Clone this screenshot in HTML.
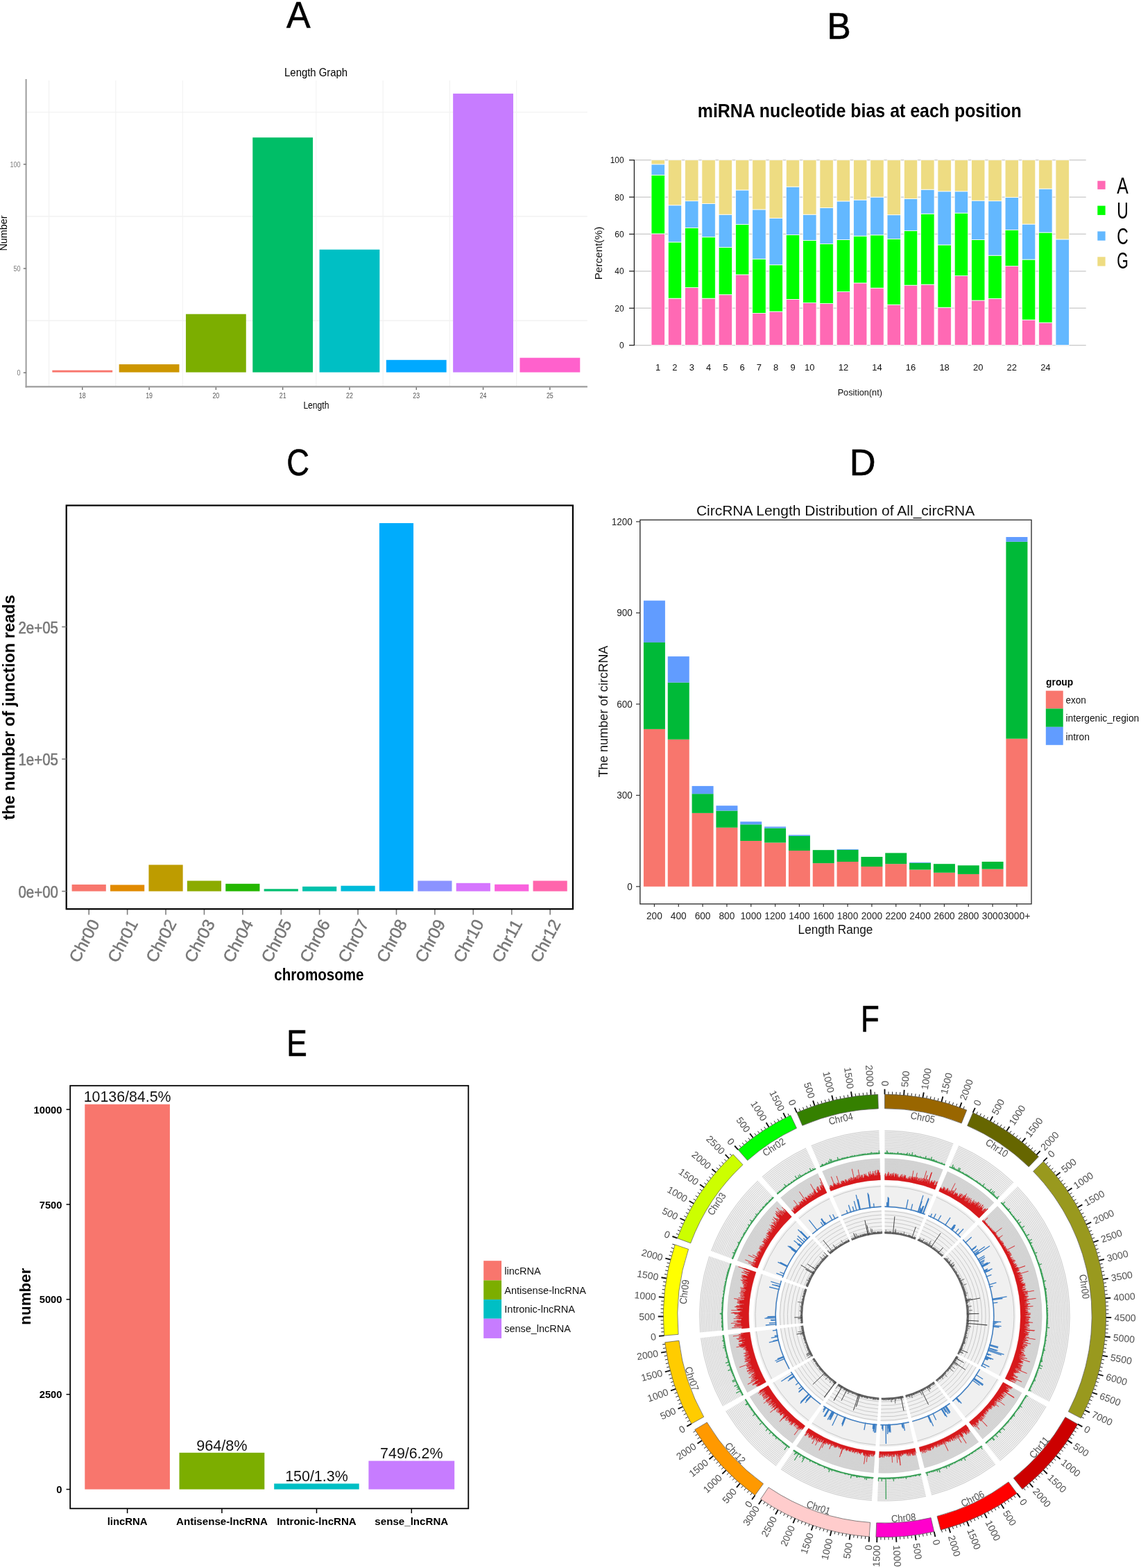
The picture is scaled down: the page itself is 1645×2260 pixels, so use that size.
<!DOCTYPE html>
<html><head><meta charset="utf-8"><title>Figure</title>
<style>html,body{margin:0;padding:0;background:#fff;}svg{display:block;}
text{font-family:'Liberation Sans', Arial, sans-serif;}</style></head>
<body><svg width="1645" height="2260" viewBox="0 0 1645 2260">
<rect width="1645" height="2260" fill="#fff"/>
<text x="0" y="0" font-size="54" text-anchor="middle" fill="#000" stroke="#000" stroke-width="0.6" transform="translate(430.40 40.00) scale(0.960 1)">A</text>
<text x="0" y="0" font-size="54" text-anchor="middle" fill="#000" stroke="#000" stroke-width="0.6" transform="translate(1209.60 56.00) scale(0.950 1)">B</text>
<text x="0" y="0" font-size="54" text-anchor="middle" fill="#000" stroke="#000" stroke-width="0.6" transform="translate(429.70 685.30) scale(0.840 1)">C</text>
<text x="0" y="0" font-size="54" text-anchor="middle" fill="#000" stroke="#000" stroke-width="0.6" transform="translate(1243.60 684.80) scale(0.970 1)">D</text>
<text x="0" y="0" font-size="54" text-anchor="middle" fill="#000" stroke="#000" stroke-width="0.6" transform="translate(427.90 1522.30) scale(0.820 1)">E</text>
<text x="0" y="0" font-size="54" text-anchor="middle" fill="#000" stroke="#000" stroke-width="0.6" transform="translate(1254.40 1487.20) scale(0.810 1)">F</text>
<line x1="37.60" y1="462.10" x2="846.90" y2="462.10" stroke="#efefef" stroke-width="1.1" />
<line x1="37.60" y1="311.90" x2="846.90" y2="311.90" stroke="#efefef" stroke-width="1.1" />
<line x1="37.60" y1="161.70" x2="846.90" y2="161.70" stroke="#efefef" stroke-width="1.1" />
<line x1="70.60" y1="116.00" x2="70.60" y2="557.40" stroke="#f2f2f2" stroke-width="1.1" />
<line x1="166.90" y1="116.00" x2="166.90" y2="557.40" stroke="#f2f2f2" stroke-width="1.1" />
<line x1="263.20" y1="116.00" x2="263.20" y2="557.40" stroke="#f2f2f2" stroke-width="1.1" />
<line x1="455.80" y1="116.00" x2="455.80" y2="557.40" stroke="#f2f2f2" stroke-width="1.1" />
<line x1="552.10" y1="116.00" x2="552.10" y2="557.40" stroke="#f2f2f2" stroke-width="1.1" />
<line x1="648.40" y1="116.00" x2="648.40" y2="557.40" stroke="#f2f2f2" stroke-width="1.1" />
<line x1="744.70" y1="116.00" x2="744.70" y2="557.40" stroke="#f2f2f2" stroke-width="1.1" />
<rect x="75.35" y="533.70" width="86.80" height="2.90" fill="#F8766D" />
<line x1="118.75" y1="557.40" x2="118.75" y2="561.90" stroke="#666" stroke-width="1.3" />
<text x="118.75" y="574.40" font-size="11" fill="#555" text-anchor="middle" textLength="9.80" lengthAdjust="spacingAndGlyphs">18</text>
<rect x="171.65" y="525.10" width="86.80" height="11.50" fill="#CD9600" />
<line x1="215.05" y1="557.40" x2="215.05" y2="561.90" stroke="#666" stroke-width="1.3" />
<text x="215.05" y="574.40" font-size="11" fill="#555" text-anchor="middle" textLength="9.80" lengthAdjust="spacingAndGlyphs">19</text>
<rect x="267.95" y="452.70" width="86.80" height="83.90" fill="#7CAE00" />
<line x1="311.35" y1="557.40" x2="311.35" y2="561.90" stroke="#666" stroke-width="1.3" />
<text x="311.35" y="574.40" font-size="11" fill="#555" text-anchor="middle" textLength="9.80" lengthAdjust="spacingAndGlyphs">20</text>
<rect x="364.25" y="198.20" width="86.80" height="338.40" fill="#00BE67" />
<line x1="407.65" y1="557.40" x2="407.65" y2="561.90" stroke="#666" stroke-width="1.3" />
<text x="407.65" y="574.40" font-size="11" fill="#555" text-anchor="middle" textLength="9.80" lengthAdjust="spacingAndGlyphs">21</text>
<rect x="460.55" y="359.70" width="86.80" height="176.90" fill="#00BFC4" />
<line x1="503.95" y1="557.40" x2="503.95" y2="561.90" stroke="#666" stroke-width="1.3" />
<text x="503.95" y="574.40" font-size="11" fill="#555" text-anchor="middle" textLength="9.80" lengthAdjust="spacingAndGlyphs">22</text>
<rect x="556.85" y="518.80" width="86.80" height="17.80" fill="#00A9FF" />
<line x1="600.25" y1="557.40" x2="600.25" y2="561.90" stroke="#666" stroke-width="1.3" />
<text x="600.25" y="574.40" font-size="11" fill="#555" text-anchor="middle" textLength="9.80" lengthAdjust="spacingAndGlyphs">23</text>
<rect x="653.15" y="134.90" width="86.80" height="401.70" fill="#C77CFF" />
<line x1="696.55" y1="557.40" x2="696.55" y2="561.90" stroke="#666" stroke-width="1.3" />
<text x="696.55" y="574.40" font-size="11" fill="#555" text-anchor="middle" textLength="9.80" lengthAdjust="spacingAndGlyphs">24</text>
<rect x="749.45" y="515.70" width="86.80" height="20.90" fill="#FF61CC" />
<line x1="792.85" y1="557.40" x2="792.85" y2="561.90" stroke="#666" stroke-width="1.3" />
<text x="792.85" y="574.40" font-size="11" fill="#555" text-anchor="middle" textLength="9.80" lengthAdjust="spacingAndGlyphs">25</text>
<line x1="37.60" y1="114.00" x2="37.60" y2="558.40" stroke="#9c9c9c" stroke-width="2.0" />
<line x1="36.60" y1="557.40" x2="846.90" y2="557.40" stroke="#9c9c9c" stroke-width="2.2" />
<line x1="33.80" y1="537.20" x2="37.60" y2="537.20" stroke="#666" stroke-width="1.3" />
<text x="29.50" y="541.10" font-size="10.5" fill="#777" text-anchor="end" textLength="5.00" lengthAdjust="spacingAndGlyphs">0</text>
<line x1="33.80" y1="387.00" x2="37.60" y2="387.00" stroke="#666" stroke-width="1.3" />
<text x="29.50" y="390.90" font-size="10.5" fill="#777" text-anchor="end" textLength="10.00" lengthAdjust="spacingAndGlyphs">50</text>
<line x1="33.80" y1="236.80" x2="37.60" y2="236.80" stroke="#666" stroke-width="1.3" />
<text x="29.50" y="240.70" font-size="10.5" fill="#777" text-anchor="end" textLength="15.00" lengthAdjust="spacingAndGlyphs">100</text>
<text x="455.60" y="110.00" font-size="17" fill="#000" text-anchor="middle" textLength="91.00" lengthAdjust="spacingAndGlyphs">Length Graph</text>
<text x="455.90" y="589.40" font-size="14" fill="#000" text-anchor="middle" textLength="37.00" lengthAdjust="spacingAndGlyphs">Length</text>
<text x="10.20" y="336.00" font-size="14" fill="#000" text-anchor="middle" textLength="51.00" lengthAdjust="spacingAndGlyphs" transform="rotate(-90.000 10.20 336.00)">Number</text>
<line x1="914.40" y1="497.60" x2="1565.70" y2="497.60" stroke="#c8c8c8" stroke-width="1.3" />
<line x1="914.40" y1="444.22" x2="1565.70" y2="444.22" stroke="#c8c8c8" stroke-width="1.3" />
<line x1="914.40" y1="390.84" x2="1565.70" y2="390.84" stroke="#c8c8c8" stroke-width="1.3" />
<line x1="914.40" y1="337.46" x2="1565.70" y2="337.46" stroke="#c8c8c8" stroke-width="1.3" />
<line x1="914.40" y1="284.08" x2="1565.70" y2="284.08" stroke="#c8c8c8" stroke-width="1.3" />
<line x1="914.40" y1="230.70" x2="1565.70" y2="230.70" stroke="#c8c8c8" stroke-width="1.3" />
<rect x="939.00" y="336.93" width="19.40" height="160.67" fill="#FF69B4" stroke="#fff" stroke-width="0.8"/>
<rect x="939.00" y="252.32" width="19.40" height="84.61" fill="#00FF00" stroke="#fff" stroke-width="0.8"/>
<rect x="939.00" y="236.84" width="19.40" height="15.48" fill="#63B8FF" stroke="#fff" stroke-width="0.8"/>
<rect x="939.00" y="230.70" width="19.40" height="6.14" fill="#EEDC82" stroke="#fff" stroke-width="0.8"/>
<text x="948.70" y="533.50" font-size="12.5" fill="#111" text-anchor="middle" textLength="7.20" lengthAdjust="spacingAndGlyphs">1</text>
<rect x="963.29" y="430.07" width="19.40" height="67.53" fill="#FF69B4" stroke="#fff" stroke-width="0.8"/>
<rect x="963.29" y="348.94" width="19.40" height="81.14" fill="#00FF00" stroke="#fff" stroke-width="0.8"/>
<rect x="963.29" y="295.82" width="19.40" height="53.11" fill="#63B8FF" stroke="#fff" stroke-width="0.8"/>
<rect x="963.29" y="230.70" width="19.40" height="65.12" fill="#EEDC82" stroke="#fff" stroke-width="0.8"/>
<text x="972.99" y="533.50" font-size="12.5" fill="#111" text-anchor="middle" textLength="7.20" lengthAdjust="spacingAndGlyphs">2</text>
<rect x="987.58" y="414.59" width="19.40" height="83.01" fill="#FF69B4" stroke="#fff" stroke-width="0.8"/>
<rect x="987.58" y="328.39" width="19.40" height="86.21" fill="#00FF00" stroke="#fff" stroke-width="0.8"/>
<rect x="987.58" y="289.68" width="19.40" height="38.70" fill="#63B8FF" stroke="#fff" stroke-width="0.8"/>
<rect x="987.58" y="230.70" width="19.40" height="58.98" fill="#EEDC82" stroke="#fff" stroke-width="0.8"/>
<text x="997.28" y="533.50" font-size="12.5" fill="#111" text-anchor="middle" textLength="7.20" lengthAdjust="spacingAndGlyphs">3</text>
<rect x="1011.87" y="430.07" width="19.40" height="67.53" fill="#FF69B4" stroke="#fff" stroke-width="0.8"/>
<rect x="1011.87" y="341.73" width="19.40" height="88.34" fill="#00FF00" stroke="#fff" stroke-width="0.8"/>
<rect x="1011.87" y="293.42" width="19.40" height="48.31" fill="#63B8FF" stroke="#fff" stroke-width="0.8"/>
<rect x="1011.87" y="230.70" width="19.40" height="62.72" fill="#EEDC82" stroke="#fff" stroke-width="0.8"/>
<text x="1021.57" y="533.50" font-size="12.5" fill="#111" text-anchor="middle" textLength="7.20" lengthAdjust="spacingAndGlyphs">4</text>
<rect x="1036.16" y="424.74" width="19.40" height="72.86" fill="#FF69B4" stroke="#fff" stroke-width="0.8"/>
<rect x="1036.16" y="356.41" width="19.40" height="68.33" fill="#00FF00" stroke="#fff" stroke-width="0.8"/>
<rect x="1036.16" y="309.17" width="19.40" height="47.24" fill="#63B8FF" stroke="#fff" stroke-width="0.8"/>
<rect x="1036.16" y="230.70" width="19.40" height="78.47" fill="#EEDC82" stroke="#fff" stroke-width="0.8"/>
<text x="1045.86" y="533.50" font-size="12.5" fill="#111" text-anchor="middle" textLength="7.20" lengthAdjust="spacingAndGlyphs">5</text>
<rect x="1060.45" y="395.91" width="19.40" height="101.69" fill="#FF69B4" stroke="#fff" stroke-width="0.8"/>
<rect x="1060.45" y="323.31" width="19.40" height="72.60" fill="#00FF00" stroke="#fff" stroke-width="0.8"/>
<rect x="1060.45" y="273.94" width="19.40" height="49.38" fill="#63B8FF" stroke="#fff" stroke-width="0.8"/>
<rect x="1060.45" y="230.70" width="19.40" height="43.24" fill="#EEDC82" stroke="#fff" stroke-width="0.8"/>
<text x="1070.15" y="533.50" font-size="12.5" fill="#111" text-anchor="middle" textLength="7.20" lengthAdjust="spacingAndGlyphs">6</text>
<rect x="1084.74" y="451.43" width="19.40" height="46.17" fill="#FF69B4" stroke="#fff" stroke-width="0.8"/>
<rect x="1084.74" y="373.22" width="19.40" height="78.20" fill="#00FF00" stroke="#fff" stroke-width="0.8"/>
<rect x="1084.74" y="301.96" width="19.40" height="71.26" fill="#63B8FF" stroke="#fff" stroke-width="0.8"/>
<rect x="1084.74" y="230.70" width="19.40" height="71.26" fill="#EEDC82" stroke="#fff" stroke-width="0.8"/>
<text x="1094.44" y="533.50" font-size="12.5" fill="#111" text-anchor="middle" textLength="7.20" lengthAdjust="spacingAndGlyphs">7</text>
<rect x="1109.03" y="449.02" width="19.40" height="48.58" fill="#FF69B4" stroke="#fff" stroke-width="0.8"/>
<rect x="1109.03" y="381.77" width="19.40" height="67.26" fill="#00FF00" stroke="#fff" stroke-width="0.8"/>
<rect x="1109.03" y="314.51" width="19.40" height="67.26" fill="#63B8FF" stroke="#fff" stroke-width="0.8"/>
<rect x="1109.03" y="230.70" width="19.40" height="83.81" fill="#EEDC82" stroke="#fff" stroke-width="0.8"/>
<text x="1118.73" y="533.50" font-size="12.5" fill="#111" text-anchor="middle" textLength="7.20" lengthAdjust="spacingAndGlyphs">8</text>
<rect x="1133.32" y="431.41" width="19.40" height="66.19" fill="#FF69B4" stroke="#fff" stroke-width="0.8"/>
<rect x="1133.32" y="338.53" width="19.40" height="92.88" fill="#00FF00" stroke="#fff" stroke-width="0.8"/>
<rect x="1133.32" y="269.13" width="19.40" height="69.39" fill="#63B8FF" stroke="#fff" stroke-width="0.8"/>
<rect x="1133.32" y="230.70" width="19.40" height="38.43" fill="#EEDC82" stroke="#fff" stroke-width="0.8"/>
<text x="1143.02" y="533.50" font-size="12.5" fill="#111" text-anchor="middle" textLength="7.20" lengthAdjust="spacingAndGlyphs">9</text>
<rect x="1157.61" y="436.48" width="19.40" height="61.12" fill="#FF69B4" stroke="#fff" stroke-width="0.8"/>
<rect x="1157.61" y="346.53" width="19.40" height="89.95" fill="#00FF00" stroke="#fff" stroke-width="0.8"/>
<rect x="1157.61" y="309.17" width="19.40" height="37.37" fill="#63B8FF" stroke="#fff" stroke-width="0.8"/>
<rect x="1157.61" y="230.70" width="19.40" height="78.47" fill="#EEDC82" stroke="#fff" stroke-width="0.8"/>
<text x="1167.31" y="533.50" font-size="12.5" fill="#111" text-anchor="middle" textLength="14.40" lengthAdjust="spacingAndGlyphs">10</text>
<rect x="1181.90" y="437.55" width="19.40" height="60.05" fill="#FF69B4" stroke="#fff" stroke-width="0.8"/>
<rect x="1181.90" y="351.61" width="19.40" height="85.94" fill="#00FF00" stroke="#fff" stroke-width="0.8"/>
<rect x="1181.90" y="299.56" width="19.40" height="52.05" fill="#63B8FF" stroke="#fff" stroke-width="0.8"/>
<rect x="1181.90" y="230.70" width="19.40" height="68.86" fill="#EEDC82" stroke="#fff" stroke-width="0.8"/>
<rect x="1206.19" y="420.47" width="19.40" height="77.13" fill="#FF69B4" stroke="#fff" stroke-width="0.8"/>
<rect x="1206.19" y="345.47" width="19.40" height="75.00" fill="#00FF00" stroke="#fff" stroke-width="0.8"/>
<rect x="1206.19" y="289.95" width="19.40" height="55.52" fill="#63B8FF" stroke="#fff" stroke-width="0.8"/>
<rect x="1206.19" y="230.70" width="19.40" height="59.25" fill="#EEDC82" stroke="#fff" stroke-width="0.8"/>
<text x="1215.89" y="533.50" font-size="12.5" fill="#111" text-anchor="middle" textLength="14.40" lengthAdjust="spacingAndGlyphs">12</text>
<rect x="1230.48" y="407.92" width="19.40" height="89.68" fill="#FF69B4" stroke="#fff" stroke-width="0.8"/>
<rect x="1230.48" y="340.13" width="19.40" height="67.79" fill="#00FF00" stroke="#fff" stroke-width="0.8"/>
<rect x="1230.48" y="288.08" width="19.40" height="52.05" fill="#63B8FF" stroke="#fff" stroke-width="0.8"/>
<rect x="1230.48" y="230.70" width="19.40" height="57.38" fill="#EEDC82" stroke="#fff" stroke-width="0.8"/>
<rect x="1254.77" y="415.13" width="19.40" height="82.47" fill="#FF69B4" stroke="#fff" stroke-width="0.8"/>
<rect x="1254.77" y="338.79" width="19.40" height="76.33" fill="#00FF00" stroke="#fff" stroke-width="0.8"/>
<rect x="1254.77" y="284.08" width="19.40" height="54.71" fill="#63B8FF" stroke="#fff" stroke-width="0.8"/>
<rect x="1254.77" y="230.70" width="19.40" height="53.38" fill="#EEDC82" stroke="#fff" stroke-width="0.8"/>
<text x="1264.47" y="533.50" font-size="12.5" fill="#111" text-anchor="middle" textLength="14.40" lengthAdjust="spacingAndGlyphs">14</text>
<rect x="1279.06" y="439.15" width="19.40" height="58.45" fill="#FF69B4" stroke="#fff" stroke-width="0.8"/>
<rect x="1279.06" y="344.40" width="19.40" height="94.75" fill="#00FF00" stroke="#fff" stroke-width="0.8"/>
<rect x="1279.06" y="309.70" width="19.40" height="34.70" fill="#63B8FF" stroke="#fff" stroke-width="0.8"/>
<rect x="1279.06" y="230.70" width="19.40" height="79.00" fill="#EEDC82" stroke="#fff" stroke-width="0.8"/>
<rect x="1303.35" y="411.12" width="19.40" height="86.48" fill="#FF69B4" stroke="#fff" stroke-width="0.8"/>
<rect x="1303.35" y="332.66" width="19.40" height="78.47" fill="#00FF00" stroke="#fff" stroke-width="0.8"/>
<rect x="1303.35" y="286.48" width="19.40" height="46.17" fill="#63B8FF" stroke="#fff" stroke-width="0.8"/>
<rect x="1303.35" y="230.70" width="19.40" height="55.78" fill="#EEDC82" stroke="#fff" stroke-width="0.8"/>
<text x="1313.05" y="533.50" font-size="12.5" fill="#111" text-anchor="middle" textLength="14.40" lengthAdjust="spacingAndGlyphs">16</text>
<rect x="1327.64" y="410.06" width="19.40" height="87.54" fill="#FF69B4" stroke="#fff" stroke-width="0.8"/>
<rect x="1327.64" y="308.10" width="19.40" height="101.96" fill="#00FF00" stroke="#fff" stroke-width="0.8"/>
<rect x="1327.64" y="273.14" width="19.40" height="34.96" fill="#63B8FF" stroke="#fff" stroke-width="0.8"/>
<rect x="1327.64" y="230.70" width="19.40" height="42.44" fill="#EEDC82" stroke="#fff" stroke-width="0.8"/>
<rect x="1351.93" y="443.15" width="19.40" height="54.45" fill="#FF69B4" stroke="#fff" stroke-width="0.8"/>
<rect x="1351.93" y="352.94" width="19.40" height="90.21" fill="#00FF00" stroke="#fff" stroke-width="0.8"/>
<rect x="1351.93" y="275.81" width="19.40" height="77.13" fill="#63B8FF" stroke="#fff" stroke-width="0.8"/>
<rect x="1351.93" y="230.70" width="19.40" height="45.11" fill="#EEDC82" stroke="#fff" stroke-width="0.8"/>
<text x="1361.63" y="533.50" font-size="12.5" fill="#111" text-anchor="middle" textLength="14.40" lengthAdjust="spacingAndGlyphs">18</text>
<rect x="1376.22" y="397.51" width="19.40" height="100.09" fill="#FF69B4" stroke="#fff" stroke-width="0.8"/>
<rect x="1376.22" y="307.03" width="19.40" height="90.48" fill="#00FF00" stroke="#fff" stroke-width="0.8"/>
<rect x="1376.22" y="275.81" width="19.40" height="31.23" fill="#63B8FF" stroke="#fff" stroke-width="0.8"/>
<rect x="1376.22" y="230.70" width="19.40" height="45.11" fill="#EEDC82" stroke="#fff" stroke-width="0.8"/>
<rect x="1400.51" y="433.01" width="19.40" height="64.59" fill="#FF69B4" stroke="#fff" stroke-width="0.8"/>
<rect x="1400.51" y="345.47" width="19.40" height="87.54" fill="#00FF00" stroke="#fff" stroke-width="0.8"/>
<rect x="1400.51" y="289.15" width="19.40" height="56.32" fill="#63B8FF" stroke="#fff" stroke-width="0.8"/>
<rect x="1400.51" y="230.70" width="19.40" height="58.45" fill="#EEDC82" stroke="#fff" stroke-width="0.8"/>
<text x="1410.21" y="533.50" font-size="12.5" fill="#111" text-anchor="middle" textLength="14.40" lengthAdjust="spacingAndGlyphs">20</text>
<rect x="1424.80" y="430.34" width="19.40" height="67.26" fill="#FF69B4" stroke="#fff" stroke-width="0.8"/>
<rect x="1424.80" y="368.15" width="19.40" height="62.19" fill="#00FF00" stroke="#fff" stroke-width="0.8"/>
<rect x="1424.80" y="289.68" width="19.40" height="78.47" fill="#63B8FF" stroke="#fff" stroke-width="0.8"/>
<rect x="1424.80" y="230.70" width="19.40" height="58.98" fill="#EEDC82" stroke="#fff" stroke-width="0.8"/>
<rect x="1449.09" y="383.63" width="19.40" height="113.97" fill="#FF69B4" stroke="#fff" stroke-width="0.8"/>
<rect x="1449.09" y="331.32" width="19.40" height="52.31" fill="#00FF00" stroke="#fff" stroke-width="0.8"/>
<rect x="1449.09" y="284.35" width="19.40" height="46.97" fill="#63B8FF" stroke="#fff" stroke-width="0.8"/>
<rect x="1449.09" y="230.70" width="19.40" height="53.65" fill="#EEDC82" stroke="#fff" stroke-width="0.8"/>
<text x="1458.79" y="533.50" font-size="12.5" fill="#111" text-anchor="middle" textLength="14.40" lengthAdjust="spacingAndGlyphs">22</text>
<rect x="1473.38" y="461.03" width="19.40" height="36.57" fill="#FF69B4" stroke="#fff" stroke-width="0.8"/>
<rect x="1473.38" y="374.03" width="19.40" height="87.01" fill="#00FF00" stroke="#fff" stroke-width="0.8"/>
<rect x="1473.38" y="323.05" width="19.40" height="50.98" fill="#63B8FF" stroke="#fff" stroke-width="0.8"/>
<rect x="1473.38" y="230.70" width="19.40" height="92.35" fill="#EEDC82" stroke="#fff" stroke-width="0.8"/>
<rect x="1497.67" y="465.04" width="19.40" height="32.56" fill="#FF69B4" stroke="#fff" stroke-width="0.8"/>
<rect x="1497.67" y="335.06" width="19.40" height="129.98" fill="#00FF00" stroke="#fff" stroke-width="0.8"/>
<rect x="1497.67" y="272.07" width="19.40" height="62.99" fill="#63B8FF" stroke="#fff" stroke-width="0.8"/>
<rect x="1497.67" y="230.70" width="19.40" height="41.37" fill="#EEDC82" stroke="#fff" stroke-width="0.8"/>
<text x="1507.37" y="533.50" font-size="12.5" fill="#111" text-anchor="middle" textLength="14.40" lengthAdjust="spacingAndGlyphs">24</text>
<rect x="1521.96" y="344.93" width="19.40" height="152.67" fill="#63B8FF" stroke="#fff" stroke-width="0.8"/>
<rect x="1521.96" y="230.70" width="19.40" height="114.23" fill="#EEDC82" stroke="#fff" stroke-width="0.8"/>
<line x1="914.40" y1="230.20" x2="914.40" y2="498.10" stroke="#222" stroke-width="1.3" />
<line x1="907.00" y1="497.60" x2="914.40" y2="497.60" stroke="#222" stroke-width="1.3" />
<text x="899.50" y="502.20" font-size="12.5" fill="#111" text-anchor="end" textLength="6.60" lengthAdjust="spacingAndGlyphs">0</text>
<line x1="907.00" y1="444.22" x2="914.40" y2="444.22" stroke="#222" stroke-width="1.3" />
<text x="899.50" y="448.82" font-size="12.5" fill="#111" text-anchor="end" textLength="13.20" lengthAdjust="spacingAndGlyphs">20</text>
<line x1="907.00" y1="390.84" x2="914.40" y2="390.84" stroke="#222" stroke-width="1.3" />
<text x="899.50" y="395.44" font-size="12.5" fill="#111" text-anchor="end" textLength="13.20" lengthAdjust="spacingAndGlyphs">40</text>
<line x1="907.00" y1="337.46" x2="914.40" y2="337.46" stroke="#222" stroke-width="1.3" />
<text x="899.50" y="342.06" font-size="12.5" fill="#111" text-anchor="end" textLength="13.20" lengthAdjust="spacingAndGlyphs">60</text>
<line x1="907.00" y1="284.08" x2="914.40" y2="284.08" stroke="#222" stroke-width="1.3" />
<text x="899.50" y="288.68" font-size="12.5" fill="#111" text-anchor="end" textLength="13.20" lengthAdjust="spacingAndGlyphs">80</text>
<line x1="907.00" y1="230.70" x2="914.40" y2="230.70" stroke="#222" stroke-width="1.3" />
<text x="899.50" y="235.30" font-size="12.5" fill="#111" text-anchor="end" textLength="19.80" lengthAdjust="spacingAndGlyphs">100</text>
<text x="1239.80" y="570.00" font-size="12.7" fill="#111" text-anchor="middle" textLength="64.30" lengthAdjust="spacingAndGlyphs">Position(nt)</text>
<text x="868.20" y="365.00" font-size="15" fill="#111" text-anchor="middle" textLength="76.60" lengthAdjust="spacingAndGlyphs" transform="rotate(-90.000 868.20 365.00)">Percent(%)</text>
<text x="1239.30" y="168.70" font-size="27" fill="#000" text-anchor="middle" font-weight="bold" textLength="467.00" lengthAdjust="spacingAndGlyphs">miRNA nucleotide bias at each position</text>
<rect x="1582.30" y="260.70" width="11.30" height="12.20" fill="#FF69B4" />
<rect x="1582.30" y="296.60" width="11.30" height="13.30" fill="#00FF00" />
<rect x="1582.30" y="333.50" width="11.30" height="13.20" fill="#63B8FF" />
<rect x="1582.30" y="370.30" width="11.30" height="13.20" fill="#EEDC82" />
<text x="1618.60" y="278.60" font-size="33.5" fill="#000" text-anchor="middle" textLength="16.50" lengthAdjust="spacingAndGlyphs">A</text>
<text x="1618.60" y="315.00" font-size="33.5" fill="#000" text-anchor="middle" textLength="16.50" lengthAdjust="spacingAndGlyphs">U</text>
<text x="1618.60" y="352.00" font-size="33.5" fill="#000" text-anchor="middle" textLength="16.50" lengthAdjust="spacingAndGlyphs">C</text>
<text x="1618.60" y="387.40" font-size="33.5" fill="#000" text-anchor="middle" textLength="16.50" lengthAdjust="spacingAndGlyphs">G</text>
<rect x="103.60" y="1274.90" width="49.20" height="9.70" fill="#F8766D" />
<line x1="128.20" y1="1310.20" x2="128.20" y2="1318.50" stroke="#7f7f7f" stroke-width="1.6" />
<text x="128.70" y="1322.50" font-size="24" fill="#777" text-anchor="end" textLength="66.00" lengthAdjust="spacingAndGlyphs" transform="rotate(-62.000 128.70 1322.50)" dominant-baseline="hanging" stroke="#777" stroke-width="0.45">Chr00</text>
<rect x="159.01" y="1275.40" width="49.20" height="9.20" fill="#E18A00" />
<line x1="183.61" y1="1310.20" x2="183.61" y2="1318.50" stroke="#7f7f7f" stroke-width="1.6" />
<text x="184.11" y="1322.50" font-size="24" fill="#777" text-anchor="end" textLength="66.00" lengthAdjust="spacingAndGlyphs" transform="rotate(-62.000 184.11 1322.50)" dominant-baseline="hanging" stroke="#777" stroke-width="0.45">Chr01</text>
<rect x="214.42" y="1246.50" width="49.20" height="38.10" fill="#BE9C00" />
<line x1="239.02" y1="1310.20" x2="239.02" y2="1318.50" stroke="#7f7f7f" stroke-width="1.6" />
<text x="239.52" y="1322.50" font-size="24" fill="#777" text-anchor="end" textLength="66.00" lengthAdjust="spacingAndGlyphs" transform="rotate(-62.000 239.52 1322.50)" dominant-baseline="hanging" stroke="#777" stroke-width="0.45">Chr02</text>
<rect x="269.83" y="1269.50" width="49.20" height="15.10" fill="#8CAB00" />
<line x1="294.43" y1="1310.20" x2="294.43" y2="1318.50" stroke="#7f7f7f" stroke-width="1.6" />
<text x="294.93" y="1322.50" font-size="24" fill="#777" text-anchor="end" textLength="66.00" lengthAdjust="spacingAndGlyphs" transform="rotate(-62.000 294.93 1322.50)" dominant-baseline="hanging" stroke="#777" stroke-width="0.45">Chr03</text>
<rect x="325.24" y="1273.80" width="49.20" height="10.80" fill="#24B700" />
<line x1="349.84" y1="1310.20" x2="349.84" y2="1318.50" stroke="#7f7f7f" stroke-width="1.6" />
<text x="350.34" y="1322.50" font-size="24" fill="#777" text-anchor="end" textLength="66.00" lengthAdjust="spacingAndGlyphs" transform="rotate(-62.000 350.34 1322.50)" dominant-baseline="hanging" stroke="#777" stroke-width="0.45">Chr04</text>
<rect x="380.65" y="1281.30" width="49.20" height="3.30" fill="#00BE70" />
<line x1="405.25" y1="1310.20" x2="405.25" y2="1318.50" stroke="#7f7f7f" stroke-width="1.6" />
<text x="405.75" y="1322.50" font-size="24" fill="#777" text-anchor="end" textLength="66.00" lengthAdjust="spacingAndGlyphs" transform="rotate(-62.000 405.75 1322.50)" dominant-baseline="hanging" stroke="#777" stroke-width="0.45">Chr05</text>
<rect x="436.06" y="1277.80" width="49.20" height="6.80" fill="#00C1AB" />
<line x1="460.66" y1="1310.20" x2="460.66" y2="1318.50" stroke="#7f7f7f" stroke-width="1.6" />
<text x="461.16" y="1322.50" font-size="24" fill="#777" text-anchor="end" textLength="66.00" lengthAdjust="spacingAndGlyphs" transform="rotate(-62.000 461.16 1322.50)" dominant-baseline="hanging" stroke="#777" stroke-width="0.45">Chr06</text>
<rect x="491.47" y="1276.70" width="49.20" height="7.90" fill="#00BBDA" />
<line x1="516.07" y1="1310.20" x2="516.07" y2="1318.50" stroke="#7f7f7f" stroke-width="1.6" />
<text x="516.57" y="1322.50" font-size="24" fill="#777" text-anchor="end" textLength="66.00" lengthAdjust="spacingAndGlyphs" transform="rotate(-62.000 516.57 1322.50)" dominant-baseline="hanging" stroke="#777" stroke-width="0.45">Chr07</text>
<rect x="546.88" y="754.00" width="49.20" height="530.60" fill="#00ACFC" />
<line x1="571.48" y1="1310.20" x2="571.48" y2="1318.50" stroke="#7f7f7f" stroke-width="1.6" />
<text x="571.98" y="1322.50" font-size="24" fill="#777" text-anchor="end" textLength="66.00" lengthAdjust="spacingAndGlyphs" transform="rotate(-62.000 571.98 1322.50)" dominant-baseline="hanging" stroke="#777" stroke-width="0.45">Chr08</text>
<rect x="602.29" y="1269.50" width="49.20" height="15.10" fill="#8B93FF" />
<line x1="626.89" y1="1310.20" x2="626.89" y2="1318.50" stroke="#7f7f7f" stroke-width="1.6" />
<text x="627.39" y="1322.50" font-size="24" fill="#777" text-anchor="end" textLength="66.00" lengthAdjust="spacingAndGlyphs" transform="rotate(-62.000 627.39 1322.50)" dominant-baseline="hanging" stroke="#777" stroke-width="0.45">Chr09</text>
<rect x="657.70" y="1272.80" width="49.20" height="11.80" fill="#D575FE" />
<line x1="682.30" y1="1310.20" x2="682.30" y2="1318.50" stroke="#7f7f7f" stroke-width="1.6" />
<text x="682.80" y="1322.50" font-size="24" fill="#777" text-anchor="end" textLength="66.00" lengthAdjust="spacingAndGlyphs" transform="rotate(-62.000 682.80 1322.50)" dominant-baseline="hanging" stroke="#777" stroke-width="0.45">Chr10</text>
<rect x="713.11" y="1274.70" width="49.20" height="9.90" fill="#F962DD" />
<line x1="737.71" y1="1310.20" x2="737.71" y2="1318.50" stroke="#7f7f7f" stroke-width="1.6" />
<text x="738.21" y="1322.50" font-size="24" fill="#777" text-anchor="end" textLength="66.00" lengthAdjust="spacingAndGlyphs" transform="rotate(-62.000 738.21 1322.50)" dominant-baseline="hanging" stroke="#777" stroke-width="0.45">Chr11</text>
<rect x="768.52" y="1269.50" width="49.20" height="15.10" fill="#FF65AC" />
<line x1="793.12" y1="1310.20" x2="793.12" y2="1318.50" stroke="#7f7f7f" stroke-width="1.6" />
<text x="793.62" y="1322.50" font-size="24" fill="#777" text-anchor="end" textLength="66.00" lengthAdjust="spacingAndGlyphs" transform="rotate(-62.000 793.62 1322.50)" dominant-baseline="hanging" stroke="#777" stroke-width="0.45">Chr12</text>
<rect x="95.70" y="728.50" width="730.20" height="581.70" fill="none" stroke="#000" stroke-width="2.2"/>
<line x1="89.20" y1="1284.60" x2="95.70" y2="1284.60" stroke="#7f7f7f" stroke-width="1.6" />
<text x="83.90" y="1293.60" font-size="24" fill="#777" text-anchor="end" textLength="57.40" lengthAdjust="spacingAndGlyphs" stroke="#777" stroke-width="0.6">0e+00</text>
<line x1="89.20" y1="1094.05" x2="95.70" y2="1094.05" stroke="#7f7f7f" stroke-width="1.6" />
<text x="83.90" y="1103.05" font-size="24" fill="#777" text-anchor="end" textLength="57.40" lengthAdjust="spacingAndGlyphs" stroke="#777" stroke-width="0.6">1e+05</text>
<line x1="89.20" y1="903.50" x2="95.70" y2="903.50" stroke="#7f7f7f" stroke-width="1.6" />
<text x="83.90" y="912.50" font-size="24" fill="#777" text-anchor="end" textLength="57.40" lengthAdjust="spacingAndGlyphs" stroke="#777" stroke-width="0.6">2e+05</text>
<text x="459.90" y="1413.20" font-size="24.5" fill="#000" text-anchor="middle" font-weight="bold" textLength="129.20" lengthAdjust="spacingAndGlyphs">chromosome</text>
<text x="21.30" y="1019.60" font-size="23.5" fill="#000" text-anchor="middle" font-weight="bold" textLength="324.40" lengthAdjust="spacingAndGlyphs" transform="rotate(-90.000 21.30 1019.60)">the number of junction reads</text>
<rect x="927.90" y="1050.87" width="31.00" height="226.93" fill="#F8766D" />
<rect x="927.90" y="925.93" width="31.00" height="124.95" fill="#00BA38" />
<rect x="927.90" y="865.63" width="31.00" height="60.30" fill="#619CFF" />
<line x1="943.40" y1="1302.90" x2="943.40" y2="1306.90" stroke="#333" stroke-width="1.2" />
<text x="943.40" y="1325.30" font-size="14" fill="#222" text-anchor="middle" textLength="22.80" lengthAdjust="spacingAndGlyphs">200</text>
<rect x="962.73" y="1065.77" width="31.00" height="212.03" fill="#F8766D" />
<rect x="962.73" y="983.73" width="31.00" height="82.04" fill="#00BA38" />
<rect x="962.73" y="946.13" width="31.00" height="37.60" fill="#619CFF" />
<line x1="978.23" y1="1302.90" x2="978.23" y2="1306.90" stroke="#333" stroke-width="1.2" />
<text x="978.23" y="1325.30" font-size="14" fill="#222" text-anchor="middle" textLength="22.80" lengthAdjust="spacingAndGlyphs">400</text>
<rect x="997.57" y="1171.87" width="31.00" height="105.93" fill="#F8766D" />
<rect x="997.57" y="1144.18" width="31.00" height="27.70" fill="#00BA38" />
<rect x="997.57" y="1132.91" width="31.00" height="11.26" fill="#619CFF" />
<line x1="1013.07" y1="1302.90" x2="1013.07" y2="1306.90" stroke="#333" stroke-width="1.2" />
<text x="1013.07" y="1325.30" font-size="14" fill="#222" text-anchor="middle" textLength="22.80" lengthAdjust="spacingAndGlyphs">600</text>
<rect x="1032.40" y="1192.78" width="31.00" height="85.02" fill="#F8766D" />
<rect x="1032.40" y="1168.50" width="31.00" height="24.28" fill="#00BA38" />
<rect x="1032.40" y="1161.23" width="31.00" height="7.27" fill="#619CFF" />
<line x1="1047.90" y1="1302.90" x2="1047.90" y2="1306.90" stroke="#333" stroke-width="1.2" />
<text x="1047.90" y="1325.30" font-size="14" fill="#222" text-anchor="middle" textLength="22.80" lengthAdjust="spacingAndGlyphs">800</text>
<rect x="1067.23" y="1211.97" width="31.00" height="65.83" fill="#F8766D" />
<rect x="1067.23" y="1188.31" width="31.00" height="23.67" fill="#00BA38" />
<rect x="1067.23" y="1184.23" width="31.00" height="4.08" fill="#619CFF" />
<line x1="1082.73" y1="1302.90" x2="1082.73" y2="1306.90" stroke="#333" stroke-width="1.2" />
<text x="1082.73" y="1325.30" font-size="14" fill="#222" text-anchor="middle" textLength="30.40" lengthAdjust="spacingAndGlyphs">1000</text>
<rect x="1102.07" y="1214.52" width="31.00" height="63.28" fill="#F8766D" />
<rect x="1102.07" y="1193.66" width="31.00" height="20.86" fill="#00BA38" />
<rect x="1102.07" y="1191.51" width="31.00" height="2.15" fill="#619CFF" />
<line x1="1117.57" y1="1302.90" x2="1117.57" y2="1306.90" stroke="#333" stroke-width="1.2" />
<text x="1117.57" y="1325.30" font-size="14" fill="#222" text-anchor="middle" textLength="30.40" lengthAdjust="spacingAndGlyphs">1200</text>
<rect x="1136.90" y="1226.04" width="31.00" height="51.76" fill="#F8766D" />
<rect x="1136.90" y="1204.92" width="31.00" height="21.12" fill="#00BA38" />
<rect x="1136.90" y="1203.43" width="31.00" height="1.49" fill="#619CFF" />
<line x1="1152.40" y1="1302.90" x2="1152.40" y2="1306.90" stroke="#333" stroke-width="1.2" />
<text x="1152.40" y="1325.30" font-size="14" fill="#222" text-anchor="middle" textLength="30.40" lengthAdjust="spacingAndGlyphs">1400</text>
<rect x="1171.73" y="1244.14" width="31.00" height="33.66" fill="#F8766D" />
<rect x="1171.73" y="1225.17" width="31.00" height="18.98" fill="#00BA38" />
<line x1="1187.23" y1="1302.90" x2="1187.23" y2="1306.90" stroke="#333" stroke-width="1.2" />
<text x="1187.23" y="1325.30" font-size="14" fill="#222" text-anchor="middle" textLength="30.40" lengthAdjust="spacingAndGlyphs">1600</text>
<rect x="1206.57" y="1241.99" width="31.00" height="35.81" fill="#F8766D" />
<rect x="1206.57" y="1224.95" width="31.00" height="17.05" fill="#00BA38" />
<rect x="1206.57" y="1224.11" width="31.00" height="0.83" fill="#619CFF" />
<line x1="1222.07" y1="1302.90" x2="1222.07" y2="1306.90" stroke="#333" stroke-width="1.2" />
<text x="1222.07" y="1325.30" font-size="14" fill="#222" text-anchor="middle" textLength="30.40" lengthAdjust="spacingAndGlyphs">1800</text>
<rect x="1241.40" y="1249.05" width="31.00" height="28.75" fill="#F8766D" />
<rect x="1241.40" y="1234.98" width="31.00" height="14.07" fill="#00BA38" />
<line x1="1256.90" y1="1302.90" x2="1256.90" y2="1306.90" stroke="#333" stroke-width="1.2" />
<text x="1256.90" y="1325.30" font-size="14" fill="#222" text-anchor="middle" textLength="30.40" lengthAdjust="spacingAndGlyphs">2000</text>
<rect x="1276.23" y="1245.19" width="31.00" height="32.61" fill="#F8766D" />
<rect x="1276.23" y="1229.42" width="31.00" height="15.78" fill="#00BA38" />
<line x1="1291.73" y1="1302.90" x2="1291.73" y2="1306.90" stroke="#333" stroke-width="1.2" />
<text x="1291.73" y="1325.30" font-size="14" fill="#222" text-anchor="middle" textLength="30.40" lengthAdjust="spacingAndGlyphs">2200</text>
<rect x="1311.07" y="1253.52" width="31.00" height="24.28" fill="#F8766D" />
<rect x="1311.07" y="1243.70" width="31.00" height="9.82" fill="#00BA38" />
<rect x="1311.07" y="1242.87" width="31.00" height="0.83" fill="#619CFF" />
<line x1="1326.57" y1="1302.90" x2="1326.57" y2="1306.90" stroke="#333" stroke-width="1.2" />
<text x="1326.57" y="1325.30" font-size="14" fill="#222" text-anchor="middle" textLength="30.40" lengthAdjust="spacingAndGlyphs">2400</text>
<rect x="1345.90" y="1257.77" width="31.00" height="20.03" fill="#F8766D" />
<rect x="1345.90" y="1245.19" width="31.00" height="12.58" fill="#00BA38" />
<line x1="1361.40" y1="1302.90" x2="1361.40" y2="1306.90" stroke="#333" stroke-width="1.2" />
<text x="1361.40" y="1325.30" font-size="14" fill="#222" text-anchor="middle" textLength="30.40" lengthAdjust="spacingAndGlyphs">2600</text>
<rect x="1380.73" y="1259.92" width="31.00" height="17.88" fill="#F8766D" />
<rect x="1380.73" y="1247.34" width="31.00" height="12.58" fill="#00BA38" />
<line x1="1396.23" y1="1302.90" x2="1396.23" y2="1306.90" stroke="#333" stroke-width="1.2" />
<text x="1396.23" y="1325.30" font-size="14" fill="#222" text-anchor="middle" textLength="30.40" lengthAdjust="spacingAndGlyphs">2800</text>
<rect x="1415.57" y="1252.64" width="31.00" height="25.16" fill="#F8766D" />
<rect x="1415.57" y="1241.99" width="31.00" height="10.65" fill="#00BA38" />
<line x1="1431.07" y1="1302.90" x2="1431.07" y2="1306.90" stroke="#333" stroke-width="1.2" />
<text x="1431.07" y="1325.30" font-size="14" fill="#222" text-anchor="middle" textLength="30.40" lengthAdjust="spacingAndGlyphs">3000</text>
<rect x="1450.40" y="1064.72" width="31.00" height="213.08" fill="#F8766D" />
<rect x="1450.40" y="780.82" width="31.00" height="283.90" fill="#00BA38" />
<rect x="1450.40" y="774.03" width="31.00" height="6.79" fill="#619CFF" />
<line x1="1465.90" y1="1302.90" x2="1465.90" y2="1306.90" stroke="#333" stroke-width="1.2" />
<text x="1465.90" y="1325.30" font-size="14" fill="#222" text-anchor="middle" textLength="39.00" lengthAdjust="spacingAndGlyphs">3000+</text>
<rect x="922.80" y="749.40" width="564.20" height="553.50" fill="none" stroke="#333" stroke-width="1.4"/>
<line x1="917.00" y1="1277.80" x2="922.80" y2="1277.80" stroke="#333" stroke-width="1.2" />
<text x="911.70" y="1282.80" font-size="14" fill="#222" text-anchor="end" textLength="7.50" lengthAdjust="spacingAndGlyphs">0</text>
<line x1="917.00" y1="1146.33" x2="922.80" y2="1146.33" stroke="#333" stroke-width="1.2" />
<text x="911.70" y="1151.33" font-size="14" fill="#222" text-anchor="end" textLength="22.50" lengthAdjust="spacingAndGlyphs">300</text>
<line x1="917.00" y1="1014.85" x2="922.80" y2="1014.85" stroke="#333" stroke-width="1.2" />
<text x="911.70" y="1019.85" font-size="14" fill="#222" text-anchor="end" textLength="22.50" lengthAdjust="spacingAndGlyphs">600</text>
<line x1="917.00" y1="883.38" x2="922.80" y2="883.38" stroke="#333" stroke-width="1.2" />
<text x="911.70" y="888.38" font-size="14" fill="#222" text-anchor="end" textLength="22.50" lengthAdjust="spacingAndGlyphs">900</text>
<line x1="917.00" y1="751.90" x2="922.80" y2="751.90" stroke="#333" stroke-width="1.2" />
<text x="911.70" y="756.90" font-size="14" fill="#222" text-anchor="end" textLength="30.00" lengthAdjust="spacingAndGlyphs">1200</text>
<text x="1204.60" y="743.20" font-size="21" fill="#111" text-anchor="middle" textLength="401.40" lengthAdjust="spacingAndGlyphs">CircRNA Length Distribution of All_circRNA</text>
<text x="1204.50" y="1345.50" font-size="17.5" fill="#111" text-anchor="middle" textLength="107.80" lengthAdjust="spacingAndGlyphs">Length Range</text>
<text x="876.20" y="1025.50" font-size="18" fill="#111" text-anchor="middle" textLength="190.00" lengthAdjust="spacingAndGlyphs" transform="rotate(-90.000 876.20 1025.50)">The number of circRNA</text>
<text x="1508.10" y="988.00" font-size="14" fill="#000" font-weight="bold" textLength="39.10" lengthAdjust="spacingAndGlyphs">group</text>
<rect x="1507.80" y="995.60" width="24.90" height="25.80" fill="#F8766D" />
<rect x="1507.80" y="1021.40" width="24.90" height="26.40" fill="#00BA38" />
<rect x="1507.80" y="1047.80" width="24.90" height="26.00" fill="#619CFF" />
<text x="1536.40" y="1014.20" font-size="13.8" fill="#111" textLength="29.40" lengthAdjust="spacingAndGlyphs">exon</text>
<text x="1536.40" y="1040.40" font-size="13.8" fill="#111" textLength="105.90" lengthAdjust="spacingAndGlyphs">intergenic_region</text>
<text x="1536.40" y="1066.60" font-size="13.8" fill="#111">intron</text>
<rect x="122.30" y="1591.65" width="122.60" height="554.95" fill="#F8766D" />
<text x="183.60" y="1588.45" font-size="21.5" fill="#111" text-anchor="middle" textLength="125.90" lengthAdjust="spacingAndGlyphs">10136/84.5%</text>
<line x1="183.60" y1="2174.30" x2="183.60" y2="2181.10" stroke="#000" stroke-width="1.5" />
<text x="183.60" y="2198.20" font-size="15" fill="#000" text-anchor="middle" font-weight="bold" textLength="57.90" lengthAdjust="spacingAndGlyphs">lincRNA</text>
<rect x="258.50" y="2093.82" width="122.80" height="52.78" fill="#7CAE00" />
<text x="319.90" y="2090.62" font-size="21.5" fill="#111" text-anchor="middle" textLength="73.40" lengthAdjust="spacingAndGlyphs">964/8%</text>
<line x1="319.90" y1="2174.30" x2="319.90" y2="2181.10" stroke="#000" stroke-width="1.5" />
<text x="319.90" y="2198.20" font-size="15" fill="#000" text-anchor="middle" font-weight="bold" textLength="131.80" lengthAdjust="spacingAndGlyphs">Antisense-lncRNA</text>
<rect x="395.20" y="2138.39" width="122.50" height="8.21" fill="#00BFC4" />
<text x="456.45" y="2135.19" font-size="21.5" fill="#111" text-anchor="middle" textLength="90.50" lengthAdjust="spacingAndGlyphs">150/1.3%</text>
<line x1="456.45" y1="2174.30" x2="456.45" y2="2181.10" stroke="#000" stroke-width="1.5" />
<text x="456.45" y="2198.20" font-size="15" fill="#000" text-anchor="middle" font-weight="bold" textLength="114.60" lengthAdjust="spacingAndGlyphs">Intronic-lncRNA</text>
<rect x="531.40" y="2105.59" width="123.80" height="41.01" fill="#C77CFF" />
<text x="593.30" y="2102.39" font-size="21.5" fill="#111" text-anchor="middle" textLength="90.40" lengthAdjust="spacingAndGlyphs">749/6.2%</text>
<line x1="593.30" y1="2174.30" x2="593.30" y2="2181.10" stroke="#000" stroke-width="1.5" />
<text x="593.30" y="2198.20" font-size="15" fill="#000" text-anchor="middle" font-weight="bold" textLength="105.90" lengthAdjust="spacingAndGlyphs">sense_lncRNA</text>
<rect x="101.20" y="1564.80" width="574.10" height="609.50" fill="none" stroke="#000" stroke-width="1.8"/>
<line x1="95.60" y1="2146.60" x2="101.20" y2="2146.60" stroke="#000" stroke-width="1.5" />
<text x="89.50" y="2152.20" font-size="15" fill="#000" text-anchor="end" font-weight="bold" textLength="8.20" lengthAdjust="spacingAndGlyphs">0</text>
<line x1="95.60" y1="2009.72" x2="101.20" y2="2009.72" stroke="#000" stroke-width="1.5" />
<text x="89.50" y="2015.32" font-size="15" fill="#000" text-anchor="end" font-weight="bold" textLength="32.80" lengthAdjust="spacingAndGlyphs">2500</text>
<line x1="95.60" y1="1872.85" x2="101.20" y2="1872.85" stroke="#000" stroke-width="1.5" />
<text x="89.50" y="1878.45" font-size="15" fill="#000" text-anchor="end" font-weight="bold" textLength="32.80" lengthAdjust="spacingAndGlyphs">5000</text>
<line x1="95.60" y1="1735.97" x2="101.20" y2="1735.97" stroke="#000" stroke-width="1.5" />
<text x="89.50" y="1741.57" font-size="15" fill="#000" text-anchor="end" font-weight="bold" textLength="32.80" lengthAdjust="spacingAndGlyphs">7500</text>
<line x1="95.60" y1="1599.10" x2="101.20" y2="1599.10" stroke="#000" stroke-width="1.5" />
<text x="89.50" y="1604.70" font-size="15" fill="#000" text-anchor="end" font-weight="bold" textLength="41.00" lengthAdjust="spacingAndGlyphs">10000</text>
<text x="44.40" y="1868.60" font-size="22.4" fill="#000" text-anchor="middle" font-weight="bold" textLength="82.10" lengthAdjust="spacingAndGlyphs" transform="rotate(-90.000 44.40 1868.60)">number</text>
<rect x="697.20" y="1817.20" width="25.80" height="28.20" fill="#F8766D" />
<text x="727.30" y="1836.70" font-size="14.5" fill="#111" textLength="52.50" lengthAdjust="spacingAndGlyphs">lincRNA</text>
<rect x="697.20" y="1845.40" width="25.80" height="27.70" fill="#7CAE00" />
<text x="727.30" y="1864.65" font-size="14.5" fill="#111" textLength="117.70" lengthAdjust="spacingAndGlyphs">Antisense-lncRNA</text>
<rect x="697.20" y="1873.10" width="25.80" height="27.60" fill="#00BFC4" />
<text x="727.30" y="1892.30" font-size="14.5" fill="#111" textLength="101.50" lengthAdjust="spacingAndGlyphs">Intronic-lncRNA</text>
<rect x="697.20" y="1900.70" width="25.80" height="28.20" fill="#C77CFF" />
<text x="727.30" y="1920.20" font-size="14.5" fill="#111" textLength="95.50" lengthAdjust="spacingAndGlyphs">sense_lncRNA</text>
<path d="M1275.5,1628.7 A267.8,267.8 0 0 1 1374.7,1647.7 L1362.0,1679.6 A233.5,233.5 0 0 0 1275.5,1663.0 Z" fill="#f3f3f3"/>
<path d="M1275.5,1661.8 A234.6,234.6 0 0 1 1362.4,1678.5 M1275.5,1659.5 A236.9,236.9 0 0 1 1363.3,1676.4 M1275.5,1657.2 A239.2,239.2 0 0 1 1364.1,1674.3 M1275.5,1655.0 A241.5,241.5 0 0 1 1365.0,1672.2 M1275.5,1652.7 A243.7,243.7 0 0 1 1365.8,1670.0 M1275.5,1650.4 A246.0,246.0 0 0 1 1366.7,1667.9 M1275.5,1648.1 A248.3,248.3 0 0 1 1367.5,1665.8 M1275.5,1645.8 A250.6,250.6 0 0 1 1368.4,1663.7 M1275.5,1643.5 A252.9,252.9 0 0 1 1369.2,1661.5 M1275.5,1641.2 A255.2,255.2 0 0 1 1370.0,1659.4 M1275.5,1638.9 A257.5,257.5 0 0 1 1370.9,1657.3 M1275.5,1636.7 A259.8,259.8 0 0 1 1371.7,1655.2 M1275.5,1634.4 A262.0,262.0 0 0 1 1372.6,1653.0 M1275.5,1632.1 A264.3,264.3 0 0 1 1373.4,1650.9 M1275.5,1629.8 A266.6,266.6 0 0 1 1374.3,1648.8" fill="none" stroke="#c6c6c6" stroke-width="0.85"/>
<path d="M1275.5,1669.5 A227.0,227.0 0 0 1 1359.6,1685.6 L1348.0,1714.6 A195.8,195.8 0 0 0 1275.5,1700.7 Z" fill="#dadada"/>
<path d="M1275.5,1699.7 A196.7,196.7 0 0 1 1348.4,1713.7 M1275.5,1697.7 A198.7,198.7 0 0 1 1349.1,1711.9 M1275.5,1695.8 A200.6,200.6 0 0 1 1349.8,1710.1 M1275.5,1693.8 A202.6,202.6 0 0 1 1350.6,1708.3 M1275.5,1691.9 A204.5,204.5 0 0 1 1351.3,1706.4 M1275.5,1689.9 A206.5,206.5 0 0 1 1352.0,1704.6 M1275.5,1688.0 A208.4,208.4 0 0 1 1352.7,1702.8 M1275.5,1686.0 A210.4,210.4 0 0 1 1353.4,1701.0 M1275.5,1684.1 A212.3,212.3 0 0 1 1354.2,1699.2 M1275.5,1682.1 A214.3,214.3 0 0 1 1354.9,1697.4 M1275.5,1680.2 A216.2,216.2 0 0 1 1355.6,1695.6 M1275.5,1678.2 A218.2,218.2 0 0 1 1356.3,1693.8 M1275.5,1676.3 A220.1,220.1 0 0 1 1357.1,1692.0 M1275.5,1674.3 A222.1,222.1 0 0 1 1357.8,1690.1 M1275.5,1672.4 A224.0,224.0 0 0 1 1358.5,1688.3 M1275.5,1670.4 A226.0,226.0 0 0 1 1359.2,1686.5" fill="none" stroke="#c6c6c6" stroke-width="0.7"/>
<path d="M1275.5,1707.5 A189.0,189.0 0 0 1 1345.5,1720.9 L1333.5,1751.1 A156.5,156.5 0 0 0 1275.5,1740.0 Z" fill="#f0f0f0"/>
<path d="M1275.5,1710.0 A186.5,186.5 0 0 1 1344.6,1723.2 M1275.5,1738.5 A158.0,158.0 0 0 1 1334.0,1749.7" fill="none" stroke="#c8c8c8" stroke-width="1.0"/>
<path d="M1275.5,1744.0 A152.5,152.5 0 0 1 1332.0,1754.8 L1319.4,1786.4 A118.5,118.5 0 0 0 1275.5,1778.0 Z" fill="#f1f1f1"/>
<path d="M1275.5,1772.6 A123.9,123.9 0 0 1 1321.4,1781.4 M1275.5,1767.2 A129.3,129.3 0 0 1 1323.4,1776.4 M1275.5,1761.8 A134.7,134.7 0 0 1 1325.4,1771.3 M1275.5,1756.4 A140.1,140.1 0 0 1 1327.4,1766.3 M1275.5,1751.0 A145.5,145.5 0 0 1 1329.4,1761.3 M1275.5,1745.6 A150.9,150.9 0 0 1 1331.4,1756.3" fill="none" stroke="#c9c9c9" stroke-width="1.0"/>
<path d="M1275.5,1700.7 L1275.5,1693.4 L1276.0,1693.4 L1276.0,1691.1 L1276.5,1691.1 L1276.5,1691.9 L1277.0,1691.9 L1277.0,1695.4 L1277.5,1695.4 L1277.5,1695.5 L1278.0,1695.5 L1278.0,1695.3 L1278.5,1695.3 L1278.5,1692.9 L1279.0,1692.9 L1279.0,1695.0 L1279.5,1695.0 L1279.6,1691.5 L1280.1,1691.5 L1280.1,1691.9 L1280.6,1691.9 L1280.6,1689.2 L1281.2,1689.2 L1281.1,1690.1 L1281.6,1690.1 L1281.5,1695.0 L1282.0,1695.0 L1282.0,1693.9 L1282.5,1694.0 L1282.5,1694.9 L1283.0,1694.9 L1283.1,1691.8 L1283.6,1691.8 L1283.6,1692.5 L1284.1,1692.5 L1284.0,1695.8 L1284.5,1695.8 L1284.7,1691.7 L1285.2,1691.7 L1285.1,1694.2 L1285.6,1694.2 L1285.6,1693.3 L1286.1,1693.3 L1286.2,1691.1 L1286.7,1691.1 L1286.5,1694.8 L1287.1,1694.8 L1287.2,1693.0 L1287.7,1693.0 L1287.7,1691.7 L1288.3,1691.8 L1288.4,1690.2 L1288.9,1690.2 L1288.6,1693.9 L1289.1,1693.9 L1289.0,1695.7 L1289.5,1695.7 L1289.5,1696.5 L1290.0,1696.5 L1290.3,1691.9 L1290.8,1691.9 L1290.9,1691.2 L1291.4,1691.3 L1291.3,1692.5 L1291.8,1692.5 L1291.7,1693.3 L1292.2,1693.3 L1292.4,1691.7 L1292.9,1691.7 L1292.7,1694.1 L1293.2,1694.1 L1293.0,1696.7 L1293.5,1696.8 L1293.8,1693.2 L1294.3,1693.2 L1294.4,1692.2 L1294.9,1692.2 L1294.6,1694.9 L1295.1,1695.0 L1294.9,1697.2 L1295.4,1697.3 L1295.5,1696.4 L1296.0,1696.5 L1295.9,1697.1 L1296.4,1697.2 L1296.5,1696.8 L1297.0,1696.8 L1297.1,1695.3 L1297.6,1695.3 L1297.4,1697.2 L1297.9,1697.3 L1298.3,1694.5 L1298.8,1694.6 L1298.9,1693.0 L1299.4,1693.1 L1299.1,1696.3 L1299.6,1696.4 L1299.6,1695.9 L1300.1,1696.0 L1300.5,1692.5 L1301.1,1692.6 L1300.5,1697.1 L1301.0,1697.2 L1301.0,1696.9 L1301.5,1697.0 L1301.8,1694.9 L1302.3,1695.0 L1301.8,1698.4 L1302.3,1698.5 L1302.6,1696.4 L1303.1,1696.5 L1303.6,1693.2 L1304.1,1693.2 L1303.7,1695.8 L1304.2,1695.8 L1304.3,1695.0 L1304.8,1695.0 L1305.0,1693.8 L1305.5,1693.9 L1305.5,1694.1 L1306.0,1694.1 L1305.6,1696.9 L1306.1,1696.9 L1305.8,1698.5 L1306.3,1698.6 L1306.3,1698.9 L1306.8,1698.9 L1306.9,1698.1 L1307.4,1698.2 L1307.5,1697.5 L1308.0,1697.6 L1307.7,1699.4 L1308.2,1699.5 L1308.3,1699.0 L1308.8,1699.0 L1308.7,1699.5 L1309.2,1699.5 L1309.8,1696.3 L1310.3,1696.4 L1309.9,1698.4 L1310.4,1698.5 L1310.5,1697.8 L1311.0,1697.9 L1311.5,1695.3 L1312.0,1695.3 L1311.6,1697.5 L1312.1,1697.5 L1311.7,1699.6 L1312.2,1699.7 L1312.5,1698.3 L1313.0,1698.4 L1313.5,1695.7 L1314.0,1695.8 L1313.2,1700.3 L1313.6,1700.4 L1314.2,1697.6 L1314.7,1697.7 L1316.7,1687.5 L1317.2,1687.6 L1315.7,1695.3 L1316.2,1695.4 L1315.9,1697.0 L1316.4,1697.1 L1316.0,1698.9 L1316.5,1699.0 L1316.9,1696.7 L1317.4,1696.9 L1317.5,1696.8 L1317.9,1696.9 L1317.3,1700.0 L1317.8,1700.1 L1318.7,1695.9 L1319.2,1696.0 L1319.0,1697.0 L1319.5,1697.1 L1319.4,1697.5 L1319.9,1697.6 L1319.6,1698.8 L1320.1,1698.9 L1322.0,1690.6 L1322.5,1690.7 L1320.3,1700.4 L1320.8,1700.5 L1321.7,1696.7 L1322.2,1696.8 L1322.1,1696.9 L1322.6,1697.0 L1322.7,1696.9 L1323.2,1697.0 L1322.2,1701.0 L1322.7,1701.1 L1322.7,1701.2 L1323.2,1701.4 L1323.7,1698.9 L1324.2,1699.1 L1324.5,1697.8 L1325.0,1697.9 L1324.8,1699.0 L1325.3,1699.1 L1324.5,1702.3 L1325.0,1702.4 L1326.2,1697.7 L1326.7,1697.8 L1326.4,1698.7 L1326.9,1698.8 L1326.1,1702.0 L1326.6,1702.2 L1326.8,1701.3 L1327.3,1701.4 L1328.3,1697.7 L1328.8,1697.8 L1327.9,1701.1 L1328.4,1701.2 L1328.9,1699.3 L1329.4,1699.4 L1328.5,1702.9 L1328.9,1703.0 L1330.2,1698.4 L1330.7,1698.6 L1329.5,1703.0 L1330.0,1703.1 L1331.3,1698.2 L1331.8,1698.3 L1330.8,1702.0 L1331.3,1702.1 L1335.5,1687.6 L1336.0,1687.8 L1332.3,1700.5 L1332.8,1700.6 L1333.3,1698.9 L1333.8,1699.0 L1333.7,1699.3 L1334.2,1699.5 L1333.0,1703.4 L1333.5,1703.6 L1333.6,1703.1 L1334.1,1703.2 L1334.7,1701.4 L1335.2,1701.5 L1334.9,1702.5 L1335.3,1702.7 L1336.3,1699.7 L1336.8,1699.8 L1335.9,1702.5 L1336.4,1702.7 L1337.3,1699.9 L1337.8,1700.0 L1337.8,1699.9 L1338.3,1700.0 L1337.6,1702.4 L1338.1,1702.5 L1337.0,1705.7 L1337.5,1705.8 L1342.5,1690.6 L1343.0,1690.7 L1338.3,1704.9 L1338.8,1705.1 L1340.0,1701.5 L1340.5,1701.7 L1339.7,1704.2 L1340.1,1704.3 L1340.7,1702.8 L1341.1,1703.0 L1340.2,1705.8 L1340.6,1706.0 L1341.0,1705.0 L1341.4,1705.2 L1342.7,1701.7 L1343.1,1701.8 L1342.7,1703.2 L1343.2,1703.3 L1344.0,1700.9 L1344.5,1701.1 L1343.8,1703.0 L1344.3,1703.2 L1344.1,1703.8 L1344.6,1704.0 L1344.4,1704.4 L1344.9,1704.5 L1345.0,1704.3 L1345.5,1704.5 L1346.1,1702.9 L1346.5,1703.0 L1347.2,1701.3 L1347.7,1701.5 L1346.7,1704.1 L1347.2,1704.3 L1348.0,1702.2 L1348.4,1702.4 L1346.5,1707.4 L1347.0,1707.6 L1346.9,1707.9 L1347.4,1708.1 L1347.4,1708.1 L1347.9,1708.2 L1349.8,1703.0 L1350.3,1703.2 L1348.6,1707.7 L1349.1,1707.9 L1350.5,1704.2 L1351.0,1704.4 L1351.7,1702.7 L1352.2,1702.9 L1350.2,1707.7 L1350.7,1707.9 L1348.0,1714.6 A195.8,195.8 0 0 0 1275.5,1700.7 Z" fill="#d7191c" stroke="#d7191c" stroke-width="0.25"/>
<path d="M1275.5,1663.0 L1275.5,1661.7 L1276.0,1661.7 L1276.0,1661.0 L1276.6,1661.0 L1276.6,1662.0 L1277.2,1662.0 L1277.2,1661.5 L1277.8,1661.5 L1277.8,1661.9 L1278.4,1661.9 L1278.4,1658.5 L1279.0,1658.5 L1279.0,1659.3 L1279.6,1659.3 L1279.6,1661.4 L1280.2,1661.5 L1280.1,1662.1 L1280.7,1662.1 L1280.7,1661.3 L1281.3,1661.3 L1281.3,1662.1 L1281.9,1662.1 L1281.9,1662.2 L1282.5,1662.2 L1282.5,1661.9 L1283.1,1662.0 L1283.1,1661.8 L1283.7,1661.8 L1283.7,1661.3 L1284.3,1661.3 L1284.2,1662.1 L1284.8,1662.2 L1284.8,1661.7 L1285.4,1661.7 L1285.4,1662.3 L1286.0,1662.3 L1286.0,1661.6 L1286.6,1661.6 L1286.6,1662.3 L1287.2,1662.4 L1287.2,1661.7 L1287.8,1661.7 L1287.7,1662.4 L1288.3,1662.4 L1288.3,1662.4 L1288.9,1662.5 L1288.9,1662.0 L1289.5,1662.0 L1289.5,1661.9 L1290.1,1661.9 L1290.1,1662.3 L1290.7,1662.3 L1290.7,1662.0 L1291.3,1662.1 L1291.3,1662.6 L1291.8,1662.6 L1291.8,1662.7 L1292.4,1662.7 L1292.4,1662.4 L1293.0,1662.4 L1293.1,1661.9 L1293.7,1661.9 L1293.6,1662.3 L1294.2,1662.3 L1294.4,1660.3 L1295.0,1660.4 L1294.7,1662.9 L1295.3,1663.0 L1295.4,1662.3 L1296.0,1662.4 L1296.0,1662.5 L1296.5,1662.5 L1296.5,1663.0 L1297.1,1663.0 L1297.1,1662.6 L1297.7,1662.7 L1297.8,1662.2 L1298.3,1662.3 L1298.3,1662.7 L1298.9,1662.7 L1298.9,1662.2 L1299.5,1662.2 L1299.5,1662.4 L1300.1,1662.5 L1300.1,1662.7 L1300.7,1662.7 L1300.6,1663.1 L1301.2,1663.2 L1301.2,1663.4 L1301.8,1663.5 L1301.8,1662.8 L1302.4,1662.8 L1302.3,1663.5 L1302.9,1663.6 L1303.0,1662.8 L1303.6,1662.8 L1303.6,1663.0 L1304.2,1663.1 L1304.1,1663.6 L1304.7,1663.7 L1304.7,1663.4 L1305.3,1663.5 L1305.3,1663.5 L1305.9,1663.6 L1306.0,1663.0 L1306.5,1663.1 L1306.5,1663.6 L1307.1,1663.6 L1307.1,1663.1 L1307.7,1663.2 L1308.0,1661.4 L1308.5,1661.4 L1308.2,1663.9 L1308.8,1664.0 L1308.7,1664.3 L1309.3,1664.4 L1309.3,1664.6 L1309.9,1664.7 L1309.9,1664.6 L1310.5,1664.7 L1310.9,1662.0 L1311.4,1662.1 L1311.1,1664.6 L1311.6,1664.7 L1311.7,1664.3 L1312.3,1664.4 L1312.3,1664.3 L1312.9,1664.4 L1312.9,1664.1 L1313.5,1664.2 L1313.4,1664.9 L1314.0,1664.9 L1313.9,1665.2 L1314.5,1665.3 L1315.3,1660.9 L1315.8,1661.0 L1315.2,1664.5 L1315.8,1664.6 L1315.8,1664.8 L1316.4,1664.9 L1316.2,1665.6 L1316.8,1665.7 L1316.9,1665.2 L1317.5,1665.3 L1317.5,1665.0 L1318.1,1665.1 L1318.1,1665.4 L1318.6,1665.5 L1318.7,1665.3 L1319.2,1665.4 L1319.5,1664.1 L1320.1,1664.2 L1319.8,1665.9 L1320.3,1666.1 L1320.4,1665.5 L1321.0,1665.6 L1321.0,1665.8 L1321.5,1666.0 L1321.6,1665.9 L1322.1,1666.0 L1322.0,1666.8 L1322.5,1666.9 L1322.7,1666.1 L1323.3,1666.2 L1323.2,1666.4 L1323.8,1666.5 L1323.7,1667.1 L1324.3,1667.2 L1324.3,1667.0 L1324.9,1667.1 L1324.9,1667.1 L1325.5,1667.2 L1325.5,1667.3 L1326.0,1667.4 L1326.2,1666.5 L1326.8,1666.7 L1326.6,1667.3 L1327.2,1667.5 L1327.3,1667.1 L1327.9,1667.3 L1327.9,1667.3 L1328.4,1667.5 L1328.3,1668.1 L1328.8,1668.2 L1328.9,1668.0 L1329.5,1668.2 L1329.5,1668.1 L1330.1,1668.2 L1330.0,1668.6 L1330.5,1668.7 L1330.6,1668.4 L1331.2,1668.5 L1331.3,1668.1 L1331.9,1668.2 L1331.8,1668.7 L1332.3,1668.8 L1332.4,1668.6 L1332.9,1668.7 L1332.8,1669.1 L1333.4,1669.3 L1333.4,1669.2 L1334.0,1669.3 L1334.8,1666.4 L1335.3,1666.5 L1334.8,1668.8 L1335.3,1668.9 L1335.2,1669.3 L1335.8,1669.5 L1335.7,1669.8 L1336.3,1669.9 L1336.3,1669.9 L1336.8,1670.1 L1336.8,1670.2 L1337.4,1670.3 L1337.6,1669.4 L1338.2,1669.5 L1338.2,1669.7 L1338.7,1669.8 L1338.8,1669.8 L1339.3,1669.9 L1339.1,1670.7 L1339.7,1670.8 L1340.1,1669.5 L1340.6,1669.6 L1340.3,1670.7 L1340.9,1670.9 L1340.8,1671.1 L1341.4,1671.2 L1341.4,1671.2 L1342.0,1671.4 L1343.1,1667.6 L1343.6,1667.8 L1342.7,1671.0 L1343.3,1671.1 L1343.3,1671.0 L1343.8,1671.2 L1343.8,1671.2 L1344.4,1671.4 L1344.2,1672.0 L1344.8,1672.2 L1345.0,1671.5 L1345.6,1671.6 L1345.3,1672.4 L1345.9,1672.5 L1346.4,1671.0 L1346.9,1671.2 L1346.6,1672.2 L1347.2,1672.4 L1347.2,1672.2 L1347.8,1672.4 L1347.5,1673.2 L1348.1,1673.4 L1348.1,1673.4 L1348.6,1673.6 L1348.9,1672.8 L1349.5,1672.9 L1349.4,1673.1 L1350.0,1673.3 L1350.0,1673.2 L1350.6,1673.4 L1350.4,1673.8 L1351.0,1674.0 L1350.8,1674.5 L1351.3,1674.7 L1351.5,1674.3 L1352.0,1674.5 L1352.1,1674.2 L1352.7,1674.4 L1352.4,1675.1 L1353.0,1675.3 L1353.0,1675.2 L1353.6,1675.4 L1353.7,1675.2 L1354.2,1675.4 L1354.4,1674.9 L1354.9,1675.1 L1354.7,1675.6 L1355.3,1675.8 L1355.3,1675.8 L1355.9,1676.0 L1355.9,1675.9 L1356.4,1676.1 L1356.3,1676.4 L1356.9,1676.6 L1357.2,1675.7 L1357.8,1675.9 L1357.5,1676.7 L1358.0,1676.9 L1358.3,1676.0 L1358.9,1676.2 L1358.5,1677.2 L1359.1,1677.4 L1359.1,1677.5 L1359.6,1677.7 L1359.6,1677.7 L1360.2,1677.9 L1360.2,1677.7 L1360.8,1677.9 L1361.0,1677.2 L1361.6,1677.4 L1361.4,1677.9 L1361.9,1678.2 L1362.0,1678.0 L1362.5,1678.3 L1362.0,1679.6 A233.5,233.5 0 0 0 1275.5,1663.0 Z" fill="#2e9a4d" stroke="#2e9a4d" stroke-width="0.6"/>
<path d="M1275.5,1739.2 A157.3,157.3 0 0 1 1333.8,1750.4" fill="none" stroke="#3a7dc4" stroke-width="1.4"/>
<path d="M1279.9,1740.0L1280.3,1725.3M1281.0,1740.1L1281.4,1726.6M1325.3,1748.1L1327.7,1740.8M1326.2,1748.4L1328.2,1742.4M1330.2,1749.8L1338.8,1726.8M1330.8,1750.1L1339.1,1728.1M1327.0,1748.7L1330.6,1738.4M1328.0,1749.0L1331.8,1738.1M1323.2,1747.4L1331.0,1722.9M1323.8,1747.6L1329.2,1731.1M1306.3,1743.0L1309.1,1728.9M1313.3,1744.6L1315.6,1735.3M1278.6,1740.0L1278.7,1732.7" fill="none" stroke="#3a7dc4" stroke-width="1.3"/>
<path d="M1275.5,1778.0 L1275.5,1775.4 L1275.7,1775.4 L1275.7,1776.8 L1276.0,1776.8 L1276.0,1775.4 L1276.2,1775.4 L1276.2,1776.9 L1276.5,1776.9 L1276.5,1775.7 L1276.8,1775.7 L1276.8,1776.1 L1277.0,1776.1 L1277.1,1772.5 L1277.3,1772.5 L1277.3,1775.9 L1277.6,1775.9 L1277.6,1775.4 L1277.8,1775.4 L1277.8,1775.9 L1278.1,1775.9 L1278.1,1776.5 L1278.3,1776.5 L1278.4,1775.3 L1278.6,1775.3 L1278.6,1777.1 L1278.8,1777.1 L1278.9,1775.4 L1279.2,1775.4 L1279.1,1776.5 L1279.4,1776.5 L1279.4,1774.7 L1279.7,1774.7 L1279.6,1777.1 L1279.9,1777.1 L1279.9,1776.1 L1280.2,1776.1 L1280.2,1776.7 L1280.4,1776.7 L1280.5,1775.3 L1280.7,1775.3 L1280.7,1776.7 L1280.9,1776.7 L1281.0,1776.4 L1281.2,1776.5 L1281.2,1776.7 L1281.5,1776.7 L1281.5,1775.3 L1281.8,1775.3 L1281.8,1774.8 L1282.1,1774.8 L1282.0,1776.8 L1282.2,1776.8 L1282.3,1776.2 L1282.5,1776.2 L1282.6,1774.8 L1282.9,1774.8 L1282.8,1776.3 L1283.1,1776.3 L1283.2,1774.8 L1283.4,1774.8 L1283.3,1777.3 L1283.5,1777.3 L1283.6,1776.4 L1283.9,1776.4 L1283.9,1775.1 L1284.2,1775.1 L1284.2,1774.8 L1284.5,1774.8 L1284.4,1776.6 L1284.6,1776.6 L1284.8,1775.0 L1285.0,1775.0 L1284.8,1777.4 L1285.1,1777.5 L1285.2,1776.5 L1285.4,1776.5 L1285.4,1776.7 L1285.7,1776.7 L1285.6,1777.6 L1285.9,1777.6 L1285.9,1776.7 L1286.2,1776.7 L1286.1,1777.3 L1286.4,1777.3 L1286.4,1777.1 L1286.7,1777.1 L1286.8,1775.5 L1287.1,1775.5 L1287.0,1776.5 L1287.3,1776.6 L1287.3,1776.5 L1287.5,1776.5 L1287.7,1775.3 L1287.9,1775.3 L1287.8,1776.8 L1288.0,1776.8 L1287.9,1777.7 L1288.2,1777.8 L1288.4,1775.7 L1288.7,1775.7 L1288.5,1777.8 L1288.7,1777.8 L1288.7,1777.7 L1289.0,1777.8 L1289.0,1777.2 L1289.3,1777.3 L1289.5,1775.5 L1289.8,1775.6 L1289.6,1777.3 L1289.8,1777.3 L1289.9,1776.4 L1290.2,1776.4 L1290.2,1776.1 L1290.5,1776.2 L1291.1,1771.2 L1291.4,1771.2 L1290.8,1775.7 L1291.1,1775.7 L1291.3,1773.8 L1291.6,1773.8 L1291.2,1776.9 L1291.5,1776.9 L1291.6,1775.7 L1291.9,1775.7 L1291.6,1777.6 L1291.9,1777.6 L1292.0,1777.0 L1292.2,1777.0 L1292.1,1777.8 L1292.4,1777.9 L1292.6,1776.4 L1292.9,1776.4 L1292.9,1776.3 L1293.1,1776.4 L1293.0,1777.6 L1293.2,1777.6 L1293.2,1777.5 L1293.5,1777.5 L1293.4,1778.3 L1293.6,1778.3 L1293.9,1776.5 L1294.2,1776.6 L1293.9,1778.4 L1294.1,1778.5 L1294.4,1777.2 L1294.6,1777.2 L1294.8,1776.1 L1295.1,1776.1 L1295.1,1776.1 L1295.3,1776.1 L1294.9,1778.5 L1295.2,1778.6 L1295.4,1777.5 L1295.6,1777.5 L1295.6,1777.6 L1295.9,1777.7 L1295.9,1777.8 L1296.1,1777.8 L1296.2,1777.1 L1296.5,1777.2 L1296.6,1776.7 L1296.8,1776.8 L1296.5,1778.7 L1296.7,1778.7 L1296.8,1778.3 L1297.1,1778.3 L1297.1,1778.1 L1297.4,1778.2 L1297.3,1778.6 L1297.6,1778.7 L1297.6,1778.6 L1297.8,1778.6 L1298.2,1776.9 L1298.4,1777.0 L1298.1,1778.4 L1298.4,1778.5 L1298.7,1776.7 L1299.0,1776.8 L1298.6,1778.8 L1298.9,1778.8 L1299.1,1777.7 L1299.3,1777.8 L1299.0,1779.2 L1299.3,1779.3 L1299.7,1777.4 L1299.9,1777.4 L1300.0,1777.2 L1300.3,1777.2 L1299.9,1778.9 L1300.2,1778.9 L1300.1,1779.2 L1300.4,1779.3 L1300.6,1778.2 L1300.8,1778.3 L1300.7,1778.8 L1301.0,1778.9 L1301.0,1778.7 L1301.3,1778.7 L1301.5,1777.9 L1301.7,1777.9 L1301.3,1779.7 L1301.6,1779.8 L1301.9,1778.4 L1302.2,1778.5 L1302.0,1779.1 L1302.3,1779.2 L1302.2,1779.6 L1302.4,1779.7 L1302.7,1778.6 L1302.9,1778.7 L1303.6,1775.6 L1303.9,1775.6 L1303.2,1778.5 L1303.5,1778.6 L1303.3,1779.6 L1303.5,1779.6 L1303.8,1778.4 L1304.1,1778.4 L1303.6,1780.3 L1303.9,1780.4 L1304.1,1779.5 L1304.3,1779.6 L1304.5,1779.0 L1304.7,1779.0 L1304.4,1780.3 L1304.7,1780.3 L1304.8,1779.7 L1305.1,1779.8 L1305.0,1780.0 L1305.3,1780.1 L1305.3,1780.1 L1305.5,1780.1 L1305.6,1780.0 L1305.8,1780.1 L1306.2,1778.8 L1306.4,1778.8 L1306.1,1780.1 L1306.3,1780.2 L1306.6,1779.3 L1306.8,1779.3 L1306.3,1781.2 L1306.6,1781.3 L1306.9,1780.2 L1307.1,1780.3 L1307.1,1780.3 L1307.4,1780.4 L1307.4,1780.2 L1307.7,1780.3 L1307.4,1781.5 L1307.6,1781.5 L1308.1,1779.9 L1308.3,1780.0 L1307.9,1781.4 L1308.2,1781.5 L1308.4,1780.7 L1308.6,1780.8 L1308.5,1781.4 L1308.7,1781.5 L1309.0,1780.5 L1309.2,1780.6 L1308.9,1781.6 L1309.2,1781.7 L1309.7,1779.9 L1310.0,1780.0 L1309.5,1781.6 L1309.7,1781.6 L1310.3,1779.7 L1310.6,1779.8 L1310.2,1781.0 L1310.5,1781.0 L1310.8,1779.9 L1311.1,1780.0 L1311.1,1780.0 L1311.3,1780.1 L1311.2,1780.3 L1311.5,1780.4 L1311.5,1780.5 L1311.7,1780.6 L1311.4,1781.6 L1311.7,1781.6 L1312.0,1780.5 L1312.3,1780.6 L1311.8,1782.2 L1312.0,1782.3 L1312.3,1781.5 L1312.5,1781.6 L1312.2,1782.6 L1312.4,1782.7 L1312.9,1781.1 L1313.2,1781.2 L1312.6,1783.0 L1312.9,1783.1 L1313.5,1781.2 L1313.7,1781.3 L1313.8,1781.1 L1314.0,1781.2 L1313.8,1781.8 L1314.1,1781.9 L1314.1,1781.8 L1314.4,1781.9 L1314.2,1782.4 L1314.4,1782.5 L1314.4,1782.5 L1314.7,1782.6 L1314.7,1782.5 L1314.9,1782.6 L1314.6,1783.7 L1314.8,1783.8 L1315.2,1782.6 L1315.5,1782.7 L1315.7,1782.0 L1316.0,1782.1 L1315.7,1782.8 L1315.9,1782.9 L1316.0,1782.9 L1316.2,1783.0 L1315.9,1783.8 L1316.1,1783.9 L1316.1,1784.0 L1316.4,1784.1 L1316.7,1783.1 L1317.0,1783.1 L1317.1,1782.8 L1317.3,1782.9 L1317.4,1782.7 L1317.7,1782.8 L1317.5,1783.3 L1317.7,1783.4 L1317.7,1783.4 L1318.0,1783.5 L1318.4,1782.4 L1318.6,1782.5 L1318.6,1782.7 L1318.8,1782.8 L1318.7,1783.1 L1318.9,1783.2 L1318.4,1784.6 L1318.6,1784.7 L1318.9,1783.9 L1319.2,1784.0 L1319.6,1783.0 L1319.8,1783.1 L1319.7,1783.4 L1320.0,1783.5 L1319.3,1785.3 L1319.5,1785.4 L1320.2,1783.7 L1320.4,1783.8 L1319.4,1786.4 A118.5,118.5 0 0 0 1275.5,1778.0 Z" fill="#555" stroke="#555" stroke-width="0.4"/>
<path d="M1314.6,1784.6L1320.3,1768.3M1287.4,1778.6L1289.9,1753.3" fill="none" stroke="#444" stroke-width="1"/>
<path d="M1275.5,1577.3 A319.2,319.2 0 0 1 1393.8,1600.0 L1386.2,1619.0 A298.7,298.7 0 0 0 1275.5,1597.8 Z" fill="#996600" stroke="#555" stroke-width="0.7"/>
<path d="M1275.5,1577.3L1275.5,1569.7M1303.1,1578.5L1303.7,1570.9M1330.4,1582.0L1331.8,1574.5M1357.4,1588.0L1359.4,1580.6M1383.8,1596.2L1386.4,1589.1" stroke="#111" stroke-width="1.9" fill="none"/>
<path d="M1281.0,1577.3L1281.0,1573.5M1286.5,1577.4L1286.6,1573.6M1292.0,1577.7L1292.2,1573.9M1297.5,1578.0L1297.8,1574.2M1308.6,1579.0L1308.9,1575.2M1314.0,1579.6L1314.5,1575.8M1319.5,1580.3L1320.1,1576.5M1325.0,1581.1L1325.6,1577.4M1335.9,1583.0L1336.6,1579.3M1341.3,1584.1L1342.1,1580.4M1346.7,1585.3L1347.5,1581.6M1352.1,1586.6L1353.0,1582.9M1362.8,1589.4L1363.8,1585.8M1368.1,1591.0L1369.2,1587.3M1373.3,1592.6L1374.5,1589.0M1378.6,1594.4L1379.8,1590.8M1389.0,1598.1L1390.3,1594.6" stroke="#222" stroke-width="1.0" fill="none"/>
<text x="1275.50" y="1565.50" font-size="14" fill="#505050" transform="rotate(-90.000 1275.50 1565.50)" dominant-baseline="central">0</text>
<text x="1304.12" y="1566.74" font-size="14" fill="#505050" transform="rotate(-85.040 1304.12 1566.74)" dominant-baseline="central">500</text>
<text x="1332.52" y="1570.45" font-size="14" fill="#505050" transform="rotate(-80.080 1332.52 1570.45)" dominant-baseline="central">1000</text>
<text x="1360.50" y="1576.60" font-size="14" fill="#505050" transform="rotate(-75.120 1360.50 1576.60)" dominant-baseline="central">1500</text>
<text x="1387.84" y="1585.15" font-size="14" fill="#505050" transform="rotate(-70.160 1387.84 1585.15)" dominant-baseline="central">2000</text>
<text x="1330.41" y="1610.73" font-size="14.5" fill="#505050" text-anchor="middle" textLength="35.50" lengthAdjust="spacingAndGlyphs" transform="rotate(10.877 1330.41 1610.73)" dominant-baseline="central">Chr05</text>
<path d="M1382.2,1650.9 A267.8,267.8 0 0 1 1461.7,1704.0 L1437.8,1728.6 A233.5,233.5 0 0 0 1368.6,1682.3 Z" fill="#f3f3f3"/>
<path d="M1369.0,1681.3 A234.6,234.6 0 0 1 1438.6,1727.8 M1369.9,1679.2 A236.9,236.9 0 0 1 1440.2,1726.2 M1370.8,1677.1 A239.2,239.2 0 0 1 1441.8,1724.5 M1371.8,1675.0 A241.5,241.5 0 0 1 1443.4,1722.9 M1372.7,1672.9 A243.7,243.7 0 0 1 1445.0,1721.2 M1373.6,1670.8 A246.0,246.0 0 0 1 1446.6,1719.6 M1374.5,1668.7 A248.3,248.3 0 0 1 1448.2,1718.0 M1375.4,1666.6 A250.6,250.6 0 0 1 1449.7,1716.3 M1376.3,1664.5 A252.9,252.9 0 0 1 1451.3,1714.7 M1377.2,1662.4 A255.2,255.2 0 0 1 1452.9,1713.0 M1378.1,1660.3 A257.5,257.5 0 0 1 1454.5,1711.4 M1379.0,1658.2 A259.8,259.8 0 0 1 1456.1,1709.7 M1380.0,1656.1 A262.0,262.0 0 0 1 1457.7,1708.1 M1380.9,1654.0 A264.3,264.3 0 0 1 1459.3,1706.5 M1381.8,1651.9 A266.6,266.6 0 0 1 1460.9,1704.8" fill="none" stroke="#c6c6c6" stroke-width="0.85"/>
<path d="M1366.0,1688.3 A227.0,227.0 0 0 1 1433.3,1733.3 L1411.6,1755.7 A195.8,195.8 0 0 0 1353.5,1716.9 Z" fill="#dadada"/>
<path d="M1353.9,1716.0 A196.7,196.7 0 0 1 1412.3,1755.0 M1354.7,1714.2 A198.7,198.7 0 0 1 1413.6,1753.6 M1355.5,1712.4 A200.6,200.6 0 0 1 1415.0,1752.2 M1356.3,1710.6 A202.6,202.6 0 0 1 1416.3,1750.8 M1357.0,1708.8 A204.5,204.5 0 0 1 1417.7,1749.4 M1357.8,1707.1 A206.5,206.5 0 0 1 1419.1,1748.0 M1358.6,1705.3 A208.4,208.4 0 0 1 1420.4,1746.6 M1359.4,1703.5 A210.4,210.4 0 0 1 1421.8,1745.2 M1360.1,1701.7 A212.3,212.3 0 0 1 1423.1,1743.8 M1360.9,1699.9 A214.3,214.3 0 0 1 1424.5,1742.4 M1361.7,1698.1 A216.2,216.2 0 0 1 1425.8,1741.0 M1362.5,1696.3 A218.2,218.2 0 0 1 1427.2,1739.6 M1363.2,1694.5 A220.1,220.1 0 0 1 1428.6,1738.2 M1364.0,1692.8 A222.1,222.1 0 0 1 1429.9,1736.8 M1364.8,1691.0 A224.0,224.0 0 0 1 1431.3,1735.4 M1365.6,1689.2 A226.0,226.0 0 0 1 1432.6,1734.0" fill="none" stroke="#c6c6c6" stroke-width="0.7"/>
<path d="M1350.8,1723.1 A189.0,189.0 0 0 1 1406.9,1760.6 L1384.3,1784.0 A156.5,156.5 0 0 0 1337.9,1752.9 Z" fill="#f0f0f0"/>
<path d="M1349.8,1725.4 A186.5,186.5 0 0 1 1405.1,1762.4 M1338.5,1751.6 A158.0,158.0 0 0 1 1385.3,1782.9" fill="none" stroke="#c8c8c8" stroke-width="1.0"/>
<path d="M1336.3,1756.6 A152.5,152.5 0 0 1 1381.5,1786.9 L1357.9,1811.3 A118.5,118.5 0 0 0 1322.7,1787.8 Z" fill="#f1f1f1"/>
<path d="M1324.9,1782.8 A123.9,123.9 0 0 1 1361.6,1807.4 M1327.0,1777.9 A129.3,129.3 0 0 1 1365.4,1803.5 M1329.2,1772.9 A134.7,134.7 0 0 1 1369.1,1799.6 M1331.3,1768.0 A140.1,140.1 0 0 1 1372.9,1795.8 M1333.5,1763.0 A145.5,145.5 0 0 1 1376.6,1791.9 M1335.6,1758.1 A150.9,150.9 0 0 1 1380.4,1788.0" fill="none" stroke="#c9c9c9" stroke-width="1.0"/>
<path d="M1353.5,1716.9 L1355.8,1711.7 L1356.2,1711.9 L1356.5,1711.3 L1357.0,1711.5 L1356.5,1712.5 L1357.0,1712.7 L1357.1,1712.5 L1357.6,1712.7 L1357.3,1713.2 L1357.8,1713.4 L1358.0,1712.9 L1358.5,1713.1 L1358.3,1713.6 L1358.7,1713.8 L1358.3,1714.8 L1358.7,1715.0 L1360.8,1710.6 L1361.2,1710.8 L1360.3,1712.9 L1360.7,1713.1 L1361.6,1711.2 L1362.1,1711.4 L1361.3,1713.1 L1361.7,1713.3 L1362.2,1712.2 L1362.7,1712.5 L1361.9,1714.2 L1362.3,1714.4 L1361.8,1715.5 L1362.3,1715.7 L1362.1,1716.0 L1362.6,1716.2 L1363.9,1713.5 L1364.4,1713.7 L1363.6,1715.3 L1364.1,1715.5 L1364.1,1715.4 L1364.6,1715.6 L1366.1,1712.6 L1366.5,1712.8 L1366.6,1712.6 L1367.1,1712.8 L1366.7,1713.5 L1367.2,1713.8 L1366.0,1716.2 L1366.4,1716.4 L1366.8,1715.7 L1367.3,1715.9 L1366.2,1717.9 L1366.7,1718.1 L1368.3,1714.9 L1368.8,1715.2 L1367.2,1718.2 L1367.6,1718.5 L1368.4,1717.0 L1368.8,1717.2 L1369.5,1715.9 L1370.0,1716.1 L1369.3,1717.4 L1369.8,1717.7 L1370.0,1717.3 L1370.4,1717.5 L1376.9,1705.4 L1377.3,1705.6 L1372.0,1715.7 L1372.4,1716.0 L1370.4,1719.6 L1370.9,1719.9 L1372.8,1716.4 L1373.2,1716.6 L1373.7,1715.7 L1374.1,1716.0 L1371.8,1720.3 L1372.2,1720.6 L1374.9,1715.7 L1375.4,1715.9 L1374.4,1717.7 L1374.8,1718.0 L1374.6,1718.3 L1375.1,1718.6 L1378.4,1712.6 L1378.9,1712.9 L1373.9,1721.7 L1374.4,1721.9 L1374.8,1721.1 L1375.3,1721.4 L1375.1,1721.7 L1375.5,1721.9 L1377.4,1718.6 L1377.9,1718.9 L1377.0,1720.3 L1377.5,1720.5 L1378.3,1719.1 L1378.7,1719.4 L1378.0,1720.7 L1378.4,1721.0 L1378.7,1720.4 L1379.2,1720.7 L1379.6,1719.9 L1380.1,1720.2 L1380.4,1719.6 L1380.9,1719.8 L1380.2,1720.9 L1380.7,1721.2 L1380.3,1721.8 L1380.8,1722.0 L1379.5,1724.2 L1379.9,1724.4 L1380.3,1723.8 L1380.7,1724.1 L1381.0,1723.5 L1381.5,1723.8 L1380.9,1724.6 L1381.4,1724.9 L1384.4,1720.0 L1384.9,1720.2 L1382.4,1724.2 L1382.8,1724.5 L1384.3,1722.1 L1384.7,1722.4 L1385.0,1722.0 L1385.4,1722.3 L1386.6,1720.5 L1387.0,1720.7 L1386.9,1720.9 L1387.3,1721.2 L1384.0,1726.5 L1384.4,1726.8 L1384.8,1726.2 L1385.2,1726.5 L1388.0,1722.1 L1388.4,1722.4 L1385.6,1726.7 L1386.0,1727.0 L1386.2,1726.8 L1386.6,1727.0 L1388.4,1724.3 L1388.8,1724.6 L1390.0,1722.9 L1390.4,1723.2 L1391.0,1722.2 L1391.5,1722.5 L1389.5,1725.4 L1390.0,1725.7 L1393.6,1720.3 L1394.0,1720.6 L1392.4,1723.1 L1392.8,1723.4 L1392.5,1723.8 L1393.0,1724.1 L1390.7,1727.3 L1391.2,1727.6 L1392.0,1726.4 L1392.4,1726.7 L1390.0,1730.3 L1390.4,1730.6 L1393.2,1726.5 L1393.6,1726.8 L1395.4,1724.2 L1395.8,1724.5 L1391.3,1731.1 L1391.7,1731.3 L1394.7,1727.0 L1395.1,1727.3 L1392.3,1731.3 L1392.7,1731.6 L1396.7,1726.0 L1397.2,1726.3 L1393.9,1730.9 L1394.3,1731.2 L1396.0,1728.8 L1396.4,1729.1 L1398.3,1726.5 L1398.7,1726.9 L1397.9,1728.0 L1398.3,1728.3 L1395.9,1731.6 L1396.3,1731.9 L1395.2,1733.4 L1395.6,1733.7 L1400.4,1727.3 L1400.8,1727.6 L1396.4,1733.5 L1396.8,1733.9 L1399.8,1729.8 L1400.2,1730.1 L1397.5,1733.8 L1397.9,1734.1 L1400.8,1730.2 L1401.2,1730.5 L1399.5,1732.8 L1399.9,1733.1 L1400.0,1732.9 L1400.4,1733.2 L1398.7,1735.5 L1399.1,1735.8 L1404.2,1729.3 L1404.6,1729.6 L1402.8,1731.8 L1403.2,1732.2 L1401.4,1734.5 L1401.8,1734.8 L1404.8,1730.9 L1405.3,1731.3 L1403.7,1733.3 L1404.1,1733.6 L1403.8,1733.9 L1404.2,1734.2 L1404.9,1733.4 L1405.3,1733.8 L1406.9,1731.7 L1407.4,1732.0 L1404.0,1736.2 L1404.4,1736.5 L1406.0,1734.6 L1406.4,1734.9 L1407.9,1733.1 L1408.3,1733.4 L1405.7,1736.5 L1406.1,1736.8 L1408.4,1734.1 L1408.8,1734.4 L1410.6,1732.2 L1411.1,1732.5 L1411.0,1732.5 L1411.5,1732.9 L1409.0,1735.8 L1409.4,1736.2 L1411.0,1734.2 L1411.4,1734.6 L1407.6,1739.2 L1408.0,1739.5 L1412.7,1733.8 L1413.1,1734.2 L1410.1,1737.7 L1410.5,1738.1 L1411.0,1737.5 L1411.4,1737.8 L1409.8,1739.7 L1410.2,1740.0 L1414.4,1735.2 L1414.8,1735.5 L1413.6,1737.0 L1414.0,1737.3 L1413.3,1738.1 L1413.7,1738.4 L1411.3,1741.1 L1411.7,1741.5 L1413.4,1739.5 L1413.8,1739.9 L1417.0,1736.3 L1417.4,1736.7 L1417.1,1737.0 L1417.5,1737.3 L1415.0,1740.1 L1415.4,1740.4 L1415.5,1740.3 L1415.9,1740.7 L1415.8,1740.8 L1416.2,1741.2 L1418.3,1738.9 L1418.7,1739.2 L1416.4,1741.7 L1416.8,1742.1 L1416.1,1742.8 L1416.5,1743.1 L1415.0,1744.8 L1415.4,1745.1 L1416.0,1744.5 L1416.4,1744.8 L1419.1,1741.9 L1419.5,1742.3 L1416.3,1745.7 L1416.7,1746.0 L1420.9,1741.5 L1421.3,1741.9 L1420.5,1742.7 L1420.9,1743.0 L1421.0,1743.0 L1421.3,1743.4 L1418.5,1746.4 L1418.9,1746.7 L1423.6,1741.8 L1424.0,1742.2 L1424.0,1742.2 L1424.4,1742.5 L1411.6,1755.7 A195.8,195.8 0 0 0 1353.5,1716.9 Z" fill="#d7191c" stroke="#d7191c" stroke-width="0.25"/>
<path d="M1368.6,1682.3 L1369.0,1681.4 L1369.5,1681.6 L1369.5,1681.6 L1370.1,1681.8 L1370.0,1681.9 L1370.6,1682.1 L1370.6,1682.0 L1371.2,1682.2 L1371.1,1682.4 L1371.6,1682.7 L1371.7,1682.5 L1372.2,1682.7 L1374.0,1678.7 L1374.6,1679.0 L1372.9,1682.8 L1373.4,1683.0 L1373.7,1682.4 L1374.2,1682.7 L1373.7,1683.7 L1374.3,1684.0 L1375.3,1681.7 L1375.9,1681.9 L1375.2,1683.3 L1375.7,1683.6 L1375.6,1683.9 L1376.1,1684.1 L1376.3,1683.8 L1376.8,1684.1 L1376.7,1684.3 L1377.2,1684.5 L1377.2,1684.6 L1377.8,1684.8 L1377.5,1685.3 L1378.1,1685.5 L1378.0,1685.6 L1378.6,1685.9 L1378.6,1685.7 L1379.2,1686.0 L1379.5,1685.3 L1380.0,1685.6 L1379.8,1686.1 L1380.3,1686.4 L1380.2,1686.6 L1380.7,1686.9 L1382.7,1682.9 L1383.2,1683.1 L1381.4,1686.8 L1381.9,1687.0 L1382.1,1686.7 L1382.6,1686.9 L1384.3,1683.8 L1384.8,1684.0 L1383.2,1687.2 L1383.7,1687.4 L1383.3,1688.1 L1383.9,1688.4 L1384.1,1687.9 L1384.7,1688.2 L1384.4,1688.7 L1384.9,1689.0 L1385.2,1688.3 L1385.8,1688.6 L1385.4,1689.3 L1385.9,1689.6 L1385.8,1689.8 L1386.3,1690.0 L1386.5,1689.7 L1387.1,1689.9 L1387.3,1689.5 L1387.8,1689.8 L1387.9,1689.6 L1388.5,1689.8 L1388.2,1690.3 L1388.7,1690.6 L1388.8,1690.4 L1389.3,1690.7 L1389.3,1690.8 L1389.8,1691.1 L1389.6,1691.3 L1390.2,1691.6 L1390.0,1691.9 L1390.5,1692.2 L1390.8,1691.7 L1391.3,1691.9 L1391.3,1692.0 L1391.8,1692.3 L1391.7,1692.6 L1392.2,1692.9 L1392.6,1692.2 L1393.1,1692.5 L1393.1,1692.4 L1393.6,1692.7 L1393.3,1693.3 L1393.8,1693.6 L1394.1,1693.1 L1394.6,1693.4 L1394.5,1693.5 L1395.0,1693.8 L1394.9,1694.0 L1395.4,1694.3 L1395.5,1694.1 L1396.0,1694.4 L1395.9,1694.6 L1396.4,1694.9 L1396.5,1694.7 L1397.0,1695.1 L1397.2,1694.8 L1397.7,1695.2 L1397.4,1695.5 L1398.0,1695.8 L1397.8,1696.0 L1398.3,1696.3 L1398.2,1696.6 L1398.7,1696.9 L1399.0,1696.4 L1399.5,1696.7 L1399.5,1696.7 L1400.0,1697.0 L1400.1,1696.9 L1400.6,1697.2 L1400.3,1697.7 L1400.8,1698.0 L1400.7,1698.0 L1401.2,1698.3 L1401.4,1698.0 L1401.9,1698.3 L1402.1,1698.1 L1402.6,1698.4 L1402.2,1699.0 L1402.7,1699.3 L1402.6,1699.5 L1403.1,1699.8 L1403.2,1699.6 L1403.7,1699.9 L1403.9,1699.7 L1404.4,1700.0 L1404.4,1700.0 L1404.9,1700.3 L1404.6,1700.7 L1405.1,1701.0 L1405.2,1700.9 L1405.7,1701.2 L1405.9,1701.0 L1406.3,1701.3 L1406.1,1701.7 L1406.6,1702.0 L1407.0,1701.4 L1407.5,1701.7 L1407.2,1702.1 L1407.7,1702.5 L1407.8,1702.3 L1408.3,1702.6 L1408.6,1702.2 L1409.1,1702.6 L1409.0,1702.6 L1409.5,1703.0 L1409.3,1703.2 L1409.8,1703.6 L1409.7,1703.7 L1410.2,1704.0 L1409.9,1704.4 L1410.4,1704.8 L1410.8,1704.2 L1411.3,1704.5 L1410.9,1705.1 L1411.4,1705.4 L1411.9,1704.7 L1412.3,1705.1 L1412.1,1705.3 L1412.6,1705.7 L1412.9,1705.3 L1413.4,1705.7 L1412.9,1706.3 L1413.4,1706.7 L1413.6,1706.3 L1414.1,1706.7 L1413.8,1707.1 L1414.3,1707.5 L1414.6,1706.9 L1415.1,1707.3 L1414.8,1707.7 L1415.3,1708.0 L1415.4,1707.9 L1415.9,1708.2 L1416.0,1708.0 L1416.5,1708.4 L1416.3,1708.7 L1416.8,1709.0 L1419.1,1705.9 L1419.5,1706.3 L1417.7,1708.8 L1418.2,1709.1 L1417.5,1710.0 L1418.0,1710.3 L1418.5,1709.7 L1418.9,1710.1 L1418.5,1710.6 L1419.0,1710.9 L1418.9,1711.0 L1419.4,1711.4 L1419.8,1710.9 L1420.2,1711.2 L1420.3,1711.1 L1420.8,1711.5 L1420.9,1711.4 L1421.4,1711.7 L1420.9,1712.3 L1421.4,1712.6 L1421.2,1712.9 L1421.6,1713.3 L1421.9,1713.0 L1422.3,1713.4 L1422.3,1713.4 L1422.8,1713.7 L1423.2,1713.2 L1423.6,1713.6 L1423.1,1714.2 L1423.6,1714.6 L1423.5,1714.7 L1424.0,1715.1 L1424.4,1714.5 L1424.9,1714.9 L1425.1,1714.6 L1425.5,1715.0 L1425.6,1715.0 L1426.0,1715.4 L1425.7,1715.8 L1426.1,1716.2 L1426.1,1716.1 L1426.6,1716.5 L1429.1,1713.5 L1429.6,1713.9 L1427.0,1717.0 L1427.4,1717.4 L1427.1,1717.8 L1427.5,1718.1 L1427.9,1717.7 L1428.4,1718.1 L1428.1,1718.4 L1428.5,1718.8 L1428.9,1718.3 L1429.4,1718.7 L1431.4,1716.4 L1431.9,1716.8 L1429.8,1719.2 L1430.2,1719.5 L1430.2,1719.5 L1430.7,1719.9 L1430.5,1720.1 L1430.9,1720.5 L1433.8,1717.3 L1434.2,1717.7 L1431.2,1721.2 L1431.6,1721.5 L1432.1,1721.0 L1432.5,1721.4 L1433.1,1720.7 L1433.5,1721.1 L1432.8,1721.9 L1433.3,1722.3 L1433.5,1722.0 L1434.0,1722.4 L1433.7,1722.8 L1434.1,1723.2 L1434.3,1723.0 L1434.7,1723.4 L1434.7,1723.4 L1435.1,1723.8 L1434.6,1724.4 L1435.0,1724.8 L1435.4,1724.3 L1435.9,1724.7 L1435.9,1724.7 L1436.4,1725.1 L1436.5,1725.0 L1436.9,1725.4 L1436.3,1726.0 L1436.7,1726.4 L1437.4,1725.7 L1437.8,1726.1 L1439.9,1723.9 L1440.3,1724.3 L1438.3,1726.4 L1438.8,1726.8 L1438.1,1727.5 L1438.6,1727.9 L1437.8,1728.6 A233.5,233.5 0 0 0 1368.6,1682.3 Z" fill="#2e9a4d" stroke="#2e9a4d" stroke-width="0.6"/>
<path d="M1338.2,1752.2 A157.3,157.3 0 0 1 1384.8,1783.4" fill="none" stroke="#3a7dc4" stroke-width="1.4"/>
<path d="M1352.0,1760.0L1356.7,1751.7M1380.6,1780.5L1389.0,1771.3M1345.7,1756.6L1349.3,1749.5M1362.4,1766.3L1370.1,1754.8M1341.2,1754.4L1343.6,1749.4M1370.7,1772.3L1376.1,1765.2M1371.7,1773.0L1377.6,1765.5M1377.0,1777.4L1382.3,1771.2M1372.5,1773.7L1376.6,1768.4" fill="none" stroke="#3a7dc4" stroke-width="1.3"/>
<path d="M1322.7,1787.8 L1323.2,1786.8 L1323.4,1786.9 L1323.4,1786.7 L1323.7,1786.9 L1324.0,1786.1 L1324.3,1786.2 L1324.2,1786.2 L1324.5,1786.4 L1324.8,1785.6 L1325.1,1785.7 L1324.5,1786.9 L1324.8,1787.0 L1325.2,1786.1 L1325.4,1786.2 L1325.4,1786.3 L1325.6,1786.4 L1326.6,1784.3 L1326.8,1784.4 L1326.1,1786.0 L1326.3,1786.1 L1326.5,1785.7 L1326.8,1785.8 L1326.1,1787.3 L1326.3,1787.4 L1326.8,1786.4 L1327.0,1786.6 L1326.6,1787.3 L1326.9,1787.5 L1326.7,1787.8 L1327.0,1787.9 L1326.8,1788.3 L1327.0,1788.4 L1327.7,1786.9 L1328.0,1787.0 L1327.4,1788.2 L1327.6,1788.3 L1328.3,1786.8 L1328.6,1787.0 L1327.7,1788.8 L1327.9,1788.9 L1328.7,1787.3 L1328.9,1787.4 L1328.9,1787.5 L1329.2,1787.6 L1328.9,1788.2 L1329.1,1788.3 L1329.0,1788.4 L1329.3,1788.5 L1329.7,1787.8 L1329.9,1787.9 L1330.1,1787.4 L1330.4,1787.6 L1329.2,1789.8 L1329.5,1789.9 L1330.3,1788.3 L1330.5,1788.5 L1332.0,1785.6 L1332.2,1785.7 L1330.5,1789.0 L1330.8,1789.1 L1330.5,1789.6 L1330.8,1789.7 L1330.8,1789.6 L1331.1,1789.7 L1330.9,1790.0 L1331.1,1790.1 L1331.2,1790.0 L1331.4,1790.1 L1331.3,1790.4 L1331.5,1790.5 L1331.4,1790.8 L1331.6,1790.9 L1331.9,1790.4 L1332.1,1790.6 L1332.2,1790.4 L1332.4,1790.5 L1333.0,1789.3 L1333.3,1789.5 L1333.4,1789.3 L1333.6,1789.4 L1333.5,1789.6 L1333.8,1789.7 L1333.2,1790.7 L1333.5,1790.8 L1333.3,1791.1 L1333.5,1791.3 L1333.5,1791.3 L1333.7,1791.5 L1333.4,1791.9 L1333.7,1792.0 L1334.7,1790.2 L1334.9,1790.3 L1334.5,1791.0 L1334.8,1791.1 L1335.2,1790.3 L1335.5,1790.5 L1334.4,1792.4 L1334.6,1792.5 L1335.2,1791.4 L1335.5,1791.5 L1334.9,1792.6 L1335.1,1792.7 L1335.4,1792.2 L1335.6,1792.4 L1336.8,1790.2 L1337.1,1790.4 L1335.9,1792.4 L1336.1,1792.6 L1336.2,1792.3 L1336.5,1792.4 L1337.0,1791.5 L1337.3,1791.6 L1336.9,1792.2 L1337.1,1792.3 L1337.2,1792.2 L1337.5,1792.3 L1336.9,1793.2 L1337.2,1793.3 L1336.8,1793.9 L1337.1,1794.0 L1337.6,1793.0 L1337.9,1793.2 L1338.3,1792.4 L1338.6,1792.5 L1337.7,1793.9 L1337.9,1794.1 L1337.8,1794.2 L1338.1,1794.4 L1339.2,1792.6 L1339.4,1792.7 L1342.1,1788.3 L1342.4,1788.4 L1338.6,1794.4 L1338.9,1794.6 L1339.5,1793.5 L1339.8,1793.6 L1339.4,1794.2 L1339.6,1794.3 L1341.2,1791.9 L1341.4,1792.0 L1340.2,1793.9 L1340.5,1794.0 L1340.0,1794.7 L1340.2,1794.9 L1340.3,1794.8 L1340.5,1794.9 L1340.4,1795.1 L1340.6,1795.3 L1340.6,1795.3 L1340.8,1795.4 L1341.4,1794.5 L1341.7,1794.6 L1341.8,1794.4 L1342.0,1794.6 L1342.0,1794.5 L1342.3,1794.7 L1341.1,1796.4 L1341.4,1796.5 L1341.2,1796.7 L1341.5,1796.8 L1341.9,1796.2 L1342.1,1796.3 L1342.7,1795.4 L1342.9,1795.5 L1343.2,1795.2 L1343.4,1795.4 L1342.0,1797.4 L1342.2,1797.5 L1343.7,1795.4 L1343.9,1795.6 L1342.8,1797.2 L1343.0,1797.4 L1343.2,1797.1 L1343.4,1797.2 L1344.0,1796.4 L1344.2,1796.5 L1343.8,1797.2 L1344.0,1797.3 L1344.0,1797.3 L1344.2,1797.5 L1344.2,1797.5 L1344.4,1797.7 L1343.8,1798.6 L1344.0,1798.7 L1344.4,1798.1 L1344.6,1798.3 L1344.6,1798.3 L1344.8,1798.5 L1345.1,1798.1 L1345.3,1798.2 L1344.8,1798.9 L1345.0,1799.0 L1345.8,1798.0 L1346.0,1798.1 L1346.5,1797.5 L1346.7,1797.6 L1346.5,1797.8 L1346.7,1798.0 L1346.6,1798.2 L1346.8,1798.3 L1346.3,1799.0 L1346.5,1799.2 L1346.2,1799.6 L1346.4,1799.8 L1346.7,1799.4 L1346.9,1799.6 L1346.5,1800.1 L1346.7,1800.2 L1348.0,1798.5 L1348.3,1798.6 L1347.7,1799.4 L1347.9,1799.5 L1347.7,1799.8 L1347.9,1800.0 L1347.8,1800.1 L1348.0,1800.3 L1348.8,1799.2 L1349.1,1799.3 L1348.1,1800.6 L1348.3,1800.8 L1348.4,1800.7 L1348.6,1800.8 L1348.2,1801.3 L1348.4,1801.5 L1349.0,1800.7 L1349.2,1800.9 L1348.6,1801.6 L1348.8,1801.8 L1349.9,1800.4 L1350.1,1800.6 L1350.0,1800.8 L1350.2,1800.9 L1349.3,1802.1 L1349.5,1802.3 L1350.3,1801.2 L1350.5,1801.4 L1349.7,1802.4 L1349.9,1802.6 L1349.6,1803.0 L1349.8,1803.1 L1350.7,1802.0 L1350.9,1802.2 L1351.5,1801.4 L1351.7,1801.5 L1350.8,1802.7 L1351.0,1802.9 L1351.5,1802.3 L1351.7,1802.5 L1350.8,1803.6 L1351.0,1803.8 L1352.1,1802.4 L1352.3,1802.5 L1352.1,1802.7 L1352.3,1802.9 L1352.2,1803.1 L1352.4,1803.3 L1351.5,1804.4 L1351.7,1804.5 L1352.6,1803.4 L1352.8,1803.6 L1352.4,1804.1 L1352.6,1804.2 L1353.7,1803.0 L1353.9,1803.1 L1352.8,1804.4 L1353.0,1804.6 L1353.9,1803.6 L1354.1,1803.8 L1354.0,1803.9 L1354.2,1804.0 L1353.8,1804.4 L1354.0,1804.6 L1353.5,1805.2 L1353.7,1805.4 L1354.5,1804.5 L1354.7,1804.6 L1353.4,1806.1 L1353.6,1806.3 L1353.8,1806.0 L1354.0,1806.2 L1354.0,1806.3 L1354.1,1806.5 L1354.3,1806.3 L1354.5,1806.5 L1355.2,1805.7 L1355.4,1805.9 L1354.4,1807.0 L1354.6,1807.1 L1355.9,1805.7 L1356.1,1805.9 L1356.3,1805.7 L1356.5,1805.8 L1355.8,1806.6 L1356.0,1806.8 L1356.0,1806.8 L1356.2,1807.0 L1355.5,1807.7 L1355.7,1807.9 L1356.0,1807.5 L1356.2,1807.7 L1356.8,1807.0 L1357.0,1807.2 L1356.1,1808.2 L1356.3,1808.3 L1357.7,1806.8 L1357.9,1807.0 L1356.7,1808.3 L1356.9,1808.5 L1357.7,1807.6 L1357.9,1807.8 L1357.4,1808.3 L1357.6,1808.5 L1356.9,1809.2 L1357.1,1809.4 L1358.4,1808.1 L1358.6,1808.3 L1358.4,1808.5 L1358.6,1808.6 L1359.3,1807.9 L1359.5,1808.1 L1358.3,1809.3 L1358.5,1809.5 L1359.4,1808.5 L1359.6,1808.7 L1359.6,1808.7 L1359.8,1808.9 L1360.1,1808.6 L1360.3,1808.8 L1357.9,1811.3 A118.5,118.5 0 0 0 1322.7,1787.8 Z" fill="#555" stroke="#555" stroke-width="0.4"/>
<path d="M1352.5,1806.4L1359.6,1798.2M1341.9,1798.3L1356.1,1777.4" fill="none" stroke="#444" stroke-width="1"/>
<path d="M1402.7,1603.7 A319.2,319.2 0 0 1 1497.4,1667.1 L1483.2,1681.8 A298.7,298.7 0 0 0 1394.6,1622.5 Z" fill="#666600" stroke="#555" stroke-width="0.7"/>
<path d="M1402.7,1603.7L1405.8,1596.8M1427.6,1615.8L1431.2,1609.1M1451.3,1630.0L1455.4,1623.7M1473.6,1646.2L1478.4,1640.3M1494.5,1664.3L1499.7,1658.8" stroke="#111" stroke-width="1.9" fill="none"/>
<path d="M1407.8,1606.0L1409.4,1602.5M1412.8,1608.3L1414.4,1604.9M1417.8,1610.7L1419.5,1607.3M1422.7,1613.2L1424.4,1609.9M1432.4,1618.5L1434.3,1615.2M1437.2,1621.3L1439.1,1618.0M1441.9,1624.1L1443.9,1620.9M1446.6,1627.0L1448.7,1623.8M1455.8,1633.1L1458.0,1630.0M1460.4,1636.3L1462.6,1633.2M1464.9,1639.5L1467.1,1636.5M1469.3,1642.8L1471.6,1639.8M1477.9,1649.7L1480.4,1646.8M1482.2,1653.2L1484.6,1650.3M1486.4,1656.9L1488.9,1654.0M1490.5,1660.5L1493.0,1657.7" stroke="#222" stroke-width="1.0" fill="none"/>
<text x="1407.49" y="1592.95" font-size="14" fill="#505050" transform="rotate(-66.500 1407.49 1592.95)" dominant-baseline="central">0</text>
<text x="1433.24" y="1605.50" font-size="14" fill="#505050" transform="rotate(-61.540 1433.24 1605.50)" dominant-baseline="central">500</text>
<text x="1457.81" y="1620.23" font-size="14" fill="#505050" transform="rotate(-56.580 1457.81 1620.23)" dominant-baseline="central">1000</text>
<text x="1481.01" y="1637.03" font-size="14" fill="#505050" transform="rotate(-51.620 1481.01 1637.03)" dominant-baseline="central">1500</text>
<text x="1502.67" y="1655.77" font-size="14" fill="#505050" transform="rotate(-46.660 1502.67 1655.77)" dominant-baseline="central">2000</text>
<text x="1437.29" y="1654.62" font-size="14.5" fill="#505050" text-anchor="middle" textLength="35.50" lengthAdjust="spacingAndGlyphs" transform="rotate(33.777 1437.29 1654.62)" dominant-baseline="central">Chr10</text>
<path d="M1467.4,1709.8 A267.8,267.8 0 0 1 1512.9,2020.3 L1482.5,2004.5 A233.5,233.5 0 0 0 1442.9,1733.7 Z" fill="#f3f3f3"/>
<path d="M1443.7,1732.9 A234.6,234.6 0 0 1 1483.5,2005.0 M1445.3,1731.3 A236.9,236.9 0 0 1 1485.5,2006.0 M1447.0,1729.7 A239.2,239.2 0 0 1 1487.5,2007.1 M1448.6,1728.1 A241.5,241.5 0 0 1 1489.6,2008.2 M1450.2,1726.5 A243.7,243.7 0 0 1 1491.6,2009.2 M1451.9,1724.9 A246.0,246.0 0 0 1 1493.6,2010.3 M1453.5,1723.3 A248.3,248.3 0 0 1 1495.7,2011.3 M1455.1,1721.7 A250.6,250.6 0 0 1 1497.7,2012.4 M1456.8,1720.1 A252.9,252.9 0 0 1 1499.7,2013.4 M1458.4,1718.5 A255.2,255.2 0 0 1 1501.7,2014.5 M1460.1,1716.9 A257.5,257.5 0 0 1 1503.8,2015.6 M1461.7,1715.3 A259.8,259.8 0 0 1 1505.8,2016.6 M1463.3,1713.7 A262.0,262.0 0 0 1 1507.8,2017.7 M1465.0,1712.1 A264.3,264.3 0 0 1 1509.8,2018.7 M1466.6,1710.6 A266.6,266.6 0 0 1 1511.9,2019.8" fill="none" stroke="#c6c6c6" stroke-width="0.85"/>
<path d="M1438.2,1738.2 A227.0,227.0 0 0 1 1476.7,2001.5 L1449.1,1987.0 A195.8,195.8 0 0 0 1415.8,1760.0 Z" fill="#dadada"/>
<path d="M1416.5,1759.3 A196.7,196.7 0 0 1 1449.9,1987.5 M1417.9,1757.9 A198.7,198.7 0 0 1 1451.6,1988.4 M1419.3,1756.6 A200.6,200.6 0 0 1 1453.4,1989.3 M1420.7,1755.2 A202.6,202.6 0 0 1 1455.1,1990.2 M1422.1,1753.8 A204.5,204.5 0 0 1 1456.8,1991.1 M1423.5,1752.5 A206.5,206.5 0 0 1 1458.6,1992.0 M1424.9,1751.1 A208.4,208.4 0 0 1 1460.3,1992.9 M1426.3,1749.8 A210.4,210.4 0 0 1 1462.0,1993.8 M1427.7,1748.4 A212.3,212.3 0 0 1 1463.7,1994.7 M1429.1,1747.0 A214.3,214.3 0 0 1 1465.5,1995.6 M1430.5,1745.7 A216.2,216.2 0 0 1 1467.2,1996.5 M1431.9,1744.3 A218.2,218.2 0 0 1 1468.9,1997.4 M1433.3,1743.0 A220.1,220.1 0 0 1 1470.7,1998.3 M1434.7,1741.6 A222.1,222.1 0 0 1 1472.4,1999.2 M1436.1,1740.2 A224.0,224.0 0 0 1 1474.1,2000.1 M1437.5,1738.9 A226.0,226.0 0 0 1 1475.8,2001.0" fill="none" stroke="#c6c6c6" stroke-width="0.7"/>
<path d="M1411.0,1764.7 A189.0,189.0 0 0 1 1443.0,1983.9 L1414.2,1968.8 A156.5,156.5 0 0 0 1387.7,1787.3 Z" fill="#f0f0f0"/>
<path d="M1409.2,1766.4 A186.5,186.5 0 0 1 1440.8,1982.7 M1388.7,1786.3 A158.0,158.0 0 0 1 1415.5,1969.5" fill="none" stroke="#c8c8c8" stroke-width="1.0"/>
<path d="M1384.8,1790.1 A152.5,152.5 0 0 1 1410.7,1967.0 L1380.5,1951.3 A118.5,118.5 0 0 0 1360.4,1813.8 Z" fill="#f1f1f1"/>
<path d="M1364.3,1810.1 A123.9,123.9 0 0 1 1385.3,1953.8 M1368.2,1806.3 A129.3,129.3 0 0 1 1390.1,1956.3 M1372.0,1802.5 A134.7,134.7 0 0 1 1394.9,1958.8 M1375.9,1798.8 A140.1,140.1 0 0 1 1399.7,1961.3 M1379.8,1795.0 A145.5,145.5 0 0 1 1404.5,1963.8 M1383.6,1791.3 A150.9,150.9 0 0 1 1409.2,1966.3" fill="none" stroke="#c9c9c9" stroke-width="1.0"/>
<path d="M1415.8,1760.0 L1417.7,1758.1 L1418.0,1758.5 L1417.5,1759.0 L1417.8,1759.4 L1417.8,1759.5 L1418.1,1759.8 L1417.8,1760.1 L1418.1,1760.5 L1423.9,1755.0 L1424.2,1755.4 L1419.6,1759.8 L1419.9,1760.1 L1419.9,1760.2 L1420.2,1760.5 L1420.1,1760.6 L1420.4,1761.0 L1420.5,1760.9 L1420.9,1761.3 L1420.6,1761.5 L1420.9,1761.9 L1421.0,1761.8 L1421.3,1762.2 L1421.1,1762.4 L1421.5,1762.7 L1421.6,1762.6 L1421.9,1763.0 L1421.8,1763.1 L1422.2,1763.4 L1422.8,1762.9 L1423.1,1763.3 L1422.2,1764.1 L1422.5,1764.4 L1422.3,1764.6 L1422.6,1765.0 L1423.8,1763.9 L1424.2,1764.3 L1423.2,1765.2 L1423.5,1765.5 L1423.9,1765.2 L1424.2,1765.6 L1423.7,1766.1 L1424.0,1766.4 L1424.2,1766.2 L1424.6,1766.6 L1424.6,1766.6 L1424.9,1766.9 L1424.6,1767.2 L1424.9,1767.6 L1426.1,1766.6 L1426.4,1766.9 L1426.0,1767.3 L1426.3,1767.7 L1425.8,1768.1 L1426.1,1768.5 L1426.5,1768.2 L1426.8,1768.5 L1427.1,1768.3 L1427.4,1768.7 L1426.9,1769.1 L1427.3,1769.5 L1427.1,1769.6 L1427.4,1770.0 L1427.7,1769.7 L1428.0,1770.1 L1427.4,1770.6 L1427.7,1771.0 L1429.2,1769.8 L1429.5,1770.2 L1429.0,1770.6 L1429.3,1771.0 L1428.9,1771.3 L1429.2,1771.7 L1429.2,1771.7 L1429.5,1772.1 L1429.3,1772.3 L1429.6,1772.7 L1430.9,1771.6 L1431.2,1772.0 L1429.8,1773.2 L1430.1,1773.5 L1430.8,1773.0 L1431.1,1773.4 L1430.5,1773.8 L1430.8,1774.2 L1432.4,1773.0 L1432.7,1773.4 L1431.2,1774.5 L1431.5,1774.9 L1431.9,1774.6 L1432.2,1775.0 L1432.7,1774.6 L1433.0,1775.0 L1433.4,1774.7 L1433.7,1775.1 L1433.6,1775.2 L1433.9,1775.6 L1433.9,1775.5 L1434.2,1775.9 L1434.3,1775.9 L1434.6,1776.3 L1434.9,1776.1 L1435.2,1776.5 L1444.2,1769.7 L1444.5,1770.1 L1434.9,1777.3 L1435.2,1777.7 L1436.0,1777.1 L1436.3,1777.5 L1435.2,1778.4 L1435.5,1778.8 L1436.4,1778.1 L1436.7,1778.5 L1435.7,1779.2 L1436.0,1779.6 L1436.2,1779.5 L1436.5,1779.9 L1436.1,1780.1 L1436.4,1780.5 L1437.0,1780.1 L1437.3,1780.5 L1436.8,1780.8 L1437.1,1781.2 L1438.2,1780.4 L1438.5,1780.8 L1437.7,1781.4 L1438.0,1781.8 L1437.7,1782.1 L1437.9,1782.5 L1438.6,1782.0 L1438.9,1782.4 L1437.8,1783.2 L1438.1,1783.6 L1438.6,1783.2 L1438.9,1783.6 L1440.1,1782.8 L1440.4,1783.2 L1438.9,1784.2 L1439.2,1784.6 L1445.3,1780.4 L1445.6,1780.8 L1440.3,1784.4 L1440.6,1784.8 L1441.5,1784.2 L1441.8,1784.7 L1440.9,1785.3 L1441.2,1785.7 L1441.1,1785.7 L1441.4,1786.1 L1441.8,1785.8 L1442.1,1786.2 L1441.3,1786.8 L1441.6,1787.2 L1441.6,1787.2 L1441.9,1787.6 L1442.7,1787.0 L1443.0,1787.5 L1441.5,1788.4 L1441.8,1788.8 L1442.6,1788.3 L1442.8,1788.7 L1443.3,1788.4 L1443.6,1788.9 L1444.6,1788.2 L1444.8,1788.6 L1443.5,1789.5 L1443.8,1789.9 L1445.2,1789.0 L1445.5,1789.4 L1444.3,1790.1 L1444.6,1790.6 L1443.7,1791.1 L1443.9,1791.6 L1446.1,1790.2 L1446.3,1790.6 L1445.1,1791.4 L1445.4,1791.8 L1446.4,1791.2 L1446.7,1791.6 L1446.5,1791.7 L1446.8,1792.1 L1447.0,1792.0 L1447.2,1792.4 L1445.3,1793.6 L1445.5,1794.1 L1446.5,1793.5 L1446.8,1793.9 L1445.9,1794.4 L1446.2,1794.8 L1447.5,1794.1 L1447.7,1794.5 L1446.9,1794.9 L1447.2,1795.4 L1448.1,1794.9 L1448.3,1795.3 L1447.7,1795.7 L1447.9,1796.1 L1447.7,1796.3 L1447.9,1796.7 L1447.0,1797.2 L1447.3,1797.6 L1449.9,1796.1 L1450.1,1796.6 L1449.6,1796.9 L1449.9,1797.3 L1449.4,1797.6 L1449.6,1798.0 L1448.9,1798.4 L1449.2,1798.8 L1450.0,1798.3 L1450.3,1798.8 L1450.5,1798.7 L1450.7,1799.1 L1449.3,1799.9 L1449.5,1800.3 L1451.6,1799.2 L1451.9,1799.6 L1449.7,1800.8 L1450.0,1801.2 L1451.4,1800.4 L1451.6,1800.9 L1452.0,1800.7 L1452.2,1801.1 L1462.8,1795.4 L1463.1,1795.9 L1451.5,1802.1 L1451.8,1802.5 L1451.9,1802.4 L1452.1,1802.9 L1451.9,1803.0 L1452.1,1803.5 L1454.4,1802.2 L1454.7,1802.7 L1452.7,1803.7 L1452.9,1804.2 L1453.1,1804.1 L1453.3,1804.5 L1455.2,1803.5 L1455.4,1804.0 L1455.8,1803.8 L1456.0,1804.3 L1454.8,1804.9 L1455.0,1805.4 L1452.8,1806.4 L1453.1,1806.9 L1456.2,1805.3 L1456.4,1805.8 L1456.6,1805.6 L1456.9,1806.1 L1454.6,1807.2 L1454.8,1807.7 L1457.4,1806.4 L1457.7,1806.8 L1457.7,1806.8 L1457.9,1807.3 L1455.7,1808.4 L1455.9,1808.8 L1455.3,1809.1 L1455.5,1809.6 L1458.2,1808.3 L1458.4,1808.7 L1458.1,1808.9 L1458.3,1809.3 L1455.8,1810.5 L1456.0,1811.0 L1456.1,1810.9 L1456.3,1811.4 L1456.8,1811.2 L1457.0,1811.6 L1456.3,1812.0 L1456.5,1812.4 L1457.7,1811.9 L1457.9,1812.3 L1456.5,1812.9 L1456.7,1813.4 L1460.1,1811.9 L1460.3,1812.3 L1457.8,1813.5 L1458.0,1813.9 L1458.2,1813.8 L1458.4,1814.3 L1457.3,1814.8 L1457.5,1815.2 L1458.9,1814.6 L1459.1,1815.0 L1460.8,1814.3 L1461.0,1814.8 L1459.1,1815.6 L1459.3,1816.1 L1458.6,1816.4 L1458.8,1816.8 L1462.2,1815.4 L1462.4,1815.8 L1459.2,1817.2 L1459.4,1817.6 L1462.1,1816.5 L1462.3,1817.0 L1463.5,1816.4 L1463.7,1816.9 L1463.7,1816.9 L1463.9,1817.4 L1460.5,1818.8 L1460.7,1819.3 L1460.2,1819.5 L1460.4,1819.9 L1461.1,1819.7 L1461.3,1820.1 L1462.9,1819.5 L1463.1,1819.9 L1461.4,1820.6 L1461.6,1821.1 L1461.5,1821.1 L1461.7,1821.6 L1461.2,1821.8 L1461.4,1822.2 L1463.6,1821.4 L1463.8,1821.8 L1465.0,1821.3 L1465.2,1821.8 L1464.7,1822.0 L1464.8,1822.5 L1463.1,1823.2 L1463.3,1823.7 L1462.1,1824.1 L1462.3,1824.6 L1466.4,1823.0 L1466.6,1823.5 L1465.6,1823.8 L1465.8,1824.3 L1465.3,1824.5 L1465.5,1825.0 L1465.2,1825.1 L1465.3,1825.6 L1463.0,1826.4 L1463.2,1826.9 L1464.1,1826.6 L1464.3,1827.0 L1467.0,1826.0 L1467.2,1826.5 L1465.5,1827.1 L1465.7,1827.6 L1467.8,1826.8 L1468.0,1827.3 L1468.5,1827.1 L1468.7,1827.6 L1477.8,1824.3 L1478.0,1824.9 L1467.8,1828.4 L1468.0,1828.9 L1466.6,1829.4 L1466.7,1829.9 L1468.4,1829.3 L1468.6,1829.8 L1469.5,1829.5 L1469.7,1830.0 L1468.4,1830.4 L1468.6,1830.9 L1465.6,1831.9 L1465.8,1832.3 L1469.5,1831.1 L1469.7,1831.6 L1465.5,1833.0 L1465.7,1833.4 L1466.5,1833.2 L1466.6,1833.7 L1467.5,1833.4 L1467.7,1833.8 L1466.1,1834.4 L1466.2,1834.8 L1469.9,1833.6 L1470.1,1834.1 L1471.4,1833.7 L1471.5,1834.2 L1470.8,1834.4 L1471.0,1834.9 L1469.3,1835.5 L1469.4,1835.9 L1482.4,1831.9 L1482.5,1832.4 L1471.8,1835.7 L1472.0,1836.2 L1467.3,1837.6 L1467.5,1838.1 L1471.1,1837.0 L1471.3,1837.5 L1469.0,1838.2 L1469.1,1838.7 L1472.7,1837.6 L1472.8,1838.1 L1473.7,1837.8 L1473.8,1838.3 L1468.4,1839.9 L1468.6,1840.4 L1470.6,1839.8 L1470.8,1840.3 L1473.7,1839.4 L1473.9,1839.9 L1469.0,1841.3 L1469.1,1841.8 L1471.4,1841.2 L1471.5,1841.7 L1473.4,1841.1 L1473.5,1841.6 L1474.5,1841.4 L1474.6,1841.9 L1472.1,1842.6 L1472.2,1843.0 L1474.0,1842.6 L1474.1,1843.1 L1472.9,1843.4 L1473.0,1843.9 L1470.3,1844.6 L1470.5,1845.1 L1469.9,1845.2 L1470.0,1845.7 L1475.4,1844.3 L1475.6,1844.8 L1473.8,1845.3 L1473.9,1845.8 L1474.6,1845.6 L1474.7,1846.1 L1472.0,1846.8 L1472.1,1847.3 L1472.9,1847.1 L1473.0,1847.6 L1472.0,1847.8 L1472.1,1848.3 L1471.6,1848.4 L1471.7,1848.9 L1475.7,1848.0 L1475.8,1848.5 L1472.7,1849.2 L1472.8,1849.7 L1474.3,1849.3 L1474.5,1849.8 L1473.8,1850.0 L1473.9,1850.5 L1477.9,1849.6 L1478.1,1850.1 L1475.7,1850.6 L1475.8,1851.1 L1477.8,1850.7 L1477.9,1851.2 L1477.5,1851.2 L1477.6,1851.8 L1476.9,1851.9 L1477.1,1852.4 L1475.5,1852.7 L1475.6,1853.2 L1478.5,1852.6 L1478.6,1853.1 L1474.5,1854.0 L1474.6,1854.5 L1474.0,1854.6 L1474.1,1855.1 L1474.7,1855.0 L1474.8,1855.5 L1478.1,1854.8 L1478.2,1855.3 L1473.6,1856.2 L1473.7,1856.7 L1476.6,1856.2 L1476.7,1856.7 L1474.3,1857.1 L1474.4,1857.6 L1473.2,1857.9 L1473.3,1858.4 L1479.2,1857.2 L1479.2,1857.7 L1479.0,1857.8 L1479.1,1858.3 L1477.9,1858.5 L1478.0,1859.0 L1477.4,1859.1 L1477.5,1859.6 L1475.1,1860.1 L1475.2,1860.6 L1473.8,1860.8 L1473.9,1861.3 L1479.0,1860.4 L1479.1,1860.9 L1481.5,1860.5 L1481.6,1861.0 L1476.0,1862.0 L1476.1,1862.5 L1490.7,1860.0 L1490.8,1860.5 L1481.0,1862.2 L1481.1,1862.7 L1475.8,1863.6 L1475.9,1864.1 L1481.3,1863.2 L1481.4,1863.7 L1475.9,1864.6 L1475.9,1865.1 L1481.4,1864.2 L1481.5,1864.7 L1477.4,1865.4 L1477.4,1865.9 L1481.6,1865.2 L1481.7,1865.8 L1477.9,1866.3 L1478.0,1866.8 L1478.0,1866.8 L1478.1,1867.3 L1477.0,1867.5 L1477.1,1868.0 L1479.8,1867.6 L1479.9,1868.1 L1482.0,1867.8 L1482.1,1868.3 L1482.8,1868.2 L1482.9,1868.7 L1479.5,1869.2 L1479.6,1869.7 L1476.7,1870.1 L1476.8,1870.6 L1480.4,1870.1 L1480.5,1870.6 L1481.4,1870.5 L1481.5,1871.0 L1479.4,1871.3 L1479.5,1871.8 L1476.5,1872.1 L1476.5,1872.6 L1479.5,1872.3 L1479.6,1872.8 L1493.3,1871.2 L1493.4,1871.8 L1483.2,1872.9 L1483.3,1873.4 L1479.6,1873.8 L1479.7,1874.3 L1481.7,1874.1 L1481.8,1874.6 L1479.7,1874.8 L1479.8,1875.4 L1480.0,1875.3 L1480.0,1875.9 L1483.4,1875.5 L1483.5,1876.0 L1477.7,1876.6 L1477.8,1877.1 L1480.2,1876.9 L1480.3,1877.4 L1479.5,1877.4 L1479.5,1878.0 L1477.2,1878.2 L1477.3,1878.7 L1480.6,1878.4 L1480.6,1878.9 L1484.5,1878.6 L1484.6,1879.1 L1485.2,1879.0 L1485.2,1879.5 L1482.1,1879.8 L1482.1,1880.3 L1477.2,1880.7 L1477.3,1881.2 L1482.1,1880.8 L1482.1,1881.4 L1481.8,1881.4 L1481.8,1881.9 L1481.0,1881.9 L1481.1,1882.5 L1479.5,1882.6 L1479.5,1883.1 L1489.3,1882.4 L1489.3,1883.0 L1482.9,1883.4 L1482.9,1883.9 L1477.7,1884.2 L1477.7,1884.7 L1480.2,1884.6 L1480.3,1885.1 L1480.7,1885.1 L1480.7,1885.6 L1482.0,1885.5 L1482.0,1886.0 L1478.1,1886.2 L1478.1,1886.7 L1484.9,1886.4 L1484.9,1886.9 L1478.1,1887.2 L1478.1,1887.7 L1479.3,1887.7 L1479.4,1888.2 L1481.8,1888.1 L1481.8,1888.6 L1481.5,1888.6 L1481.5,1889.1 L1479.2,1889.2 L1479.2,1889.7 L1478.2,1889.8 L1478.2,1890.3 L1482.4,1890.1 L1482.4,1890.7 L1480.8,1890.7 L1480.8,1891.2 L1481.1,1891.2 L1481.1,1891.7 L1482.1,1891.7 L1482.1,1892.2 L1483.9,1892.2 L1483.9,1892.7 L1486.0,1892.7 L1486.0,1893.2 L1478.2,1893.3 L1478.2,1893.8 L1480.7,1893.8 L1480.7,1894.3 L1485.7,1894.2 L1485.7,1894.8 L1484.1,1894.8 L1484.1,1895.3 L1484.1,1895.3 L1484.1,1895.8 L1479.4,1895.8 L1479.4,1896.3 L1477.4,1896.3 L1477.4,1896.8 L1479.2,1896.8 L1479.2,1897.3 L1483.5,1897.4 L1483.5,1897.9 L1485.1,1897.9 L1485.1,1898.4 L1485.0,1898.4 L1485.0,1898.9 L1485.4,1898.9 L1485.4,1899.5 L1478.8,1899.4 L1478.8,1899.9 L1480.3,1899.9 L1480.3,1900.4 L1483.3,1900.5 L1483.2,1901.0 L1478.3,1900.9 L1478.3,1901.4 L1483.7,1901.5 L1483.7,1902.0 L1483.6,1902.0 L1483.6,1902.6 L1482.5,1902.5 L1482.5,1903.0 L1482.0,1903.0 L1482.0,1903.5 L1478.2,1903.4 L1478.2,1903.9 L1483.1,1904.1 L1483.1,1904.6 L1478.8,1904.5 L1478.8,1905.0 L1484.5,1905.2 L1484.5,1905.7 L1488.9,1905.9 L1488.9,1906.5 L1484.1,1906.2 L1484.1,1906.7 L1481.9,1906.6 L1481.9,1907.2 L1483.1,1907.2 L1483.0,1907.7 L1478.3,1907.5 L1478.2,1908.0 L1481.7,1908.2 L1481.7,1908.7 L1484.1,1908.8 L1484.0,1909.4 L1477.0,1908.9 L1477.0,1909.4 L1478.2,1909.5 L1478.2,1910.0 L1484.5,1910.4 L1484.5,1911.0 L1477.1,1910.4 L1477.1,1910.9 L1484.0,1911.4 L1483.9,1912.0 L1480.2,1911.7 L1480.2,1912.2 L1478.1,1912.0 L1478.1,1912.5 L1480.1,1912.7 L1480.1,1913.2 L1482.0,1913.4 L1481.9,1913.9 L1479.5,1913.7 L1479.4,1914.2 L1484.4,1914.6 L1484.3,1915.1 L1476.9,1914.5 L1476.8,1915.0 L1479.6,1915.2 L1479.6,1915.7 L1481.5,1915.9 L1481.4,1916.4 L1491.9,1917.4 L1491.8,1918.0 L1490.9,1917.9 L1490.8,1918.4 L1484.9,1917.8 L1484.8,1918.3 L1477.5,1917.6 L1477.4,1918.1 L1478.5,1918.2 L1478.5,1918.7 L1480.5,1918.9 L1480.4,1919.4 L1481.0,1919.5 L1481.0,1920.0 L1484.4,1920.4 L1484.3,1920.9 L1476.2,1920.0 L1476.2,1920.5 L1482.6,1921.3 L1482.5,1921.8 L1482.6,1921.8 L1482.5,1922.3 L1481.3,1922.1 L1481.2,1922.7 L1478.1,1922.3 L1478.1,1922.8 L1483.2,1923.4 L1483.2,1924.0 L1481.5,1923.7 L1481.4,1924.2 L1482.1,1924.3 L1482.1,1924.9 L1479.9,1924.6 L1479.8,1925.1 L1478.4,1924.9 L1478.3,1925.4 L1478.8,1925.4 L1478.7,1926.0 L1478.2,1925.9 L1478.1,1926.4 L1483.7,1927.2 L1483.7,1927.7 L1478.3,1926.9 L1478.2,1927.4 L1477.0,1927.2 L1477.0,1927.7 L1492.6,1930.2 L1492.5,1930.7 L1478.8,1928.5 L1478.7,1929.1 L1479.7,1929.2 L1479.6,1929.7 L1476.1,1929.2 L1476.1,1929.7 L1477.2,1929.9 L1477.1,1930.4 L1480.8,1931.0 L1480.7,1931.5 L1482.6,1931.8 L1482.5,1932.3 L1482.3,1932.3 L1482.2,1932.8 L1474.9,1931.5 L1474.9,1932.0 L1479.2,1932.8 L1479.1,1933.3 L1477.2,1933.0 L1477.1,1933.5 L1477.7,1933.6 L1477.6,1934.1 L1474.5,1933.5 L1474.4,1934.0 L1481.6,1935.3 L1481.5,1935.9 L1485.8,1936.7 L1485.7,1937.2 L1475.9,1935.3 L1475.8,1935.8 L1475.4,1935.7 L1475.3,1936.2 L1475.2,1936.2 L1475.1,1936.7 L1480.8,1937.9 L1480.7,1938.4 L1474.9,1937.2 L1474.8,1937.7 L1481.4,1939.1 L1481.3,1939.6 L1473.7,1938.0 L1473.6,1938.5 L1480.5,1939.9 L1480.3,1940.4 L1474.0,1939.1 L1473.9,1939.6 L1477.3,1940.3 L1477.2,1940.8 L1478.1,1941.0 L1478.0,1941.5 L1474.3,1940.7 L1474.2,1941.2 L1478.8,1942.2 L1478.7,1942.7 L1475.7,1942.1 L1475.6,1942.6 L1475.1,1942.4 L1474.9,1942.9 L1475.6,1943.1 L1475.5,1943.6 L1477.3,1944.0 L1477.2,1944.5 L1476.0,1944.2 L1475.9,1944.7 L1473.9,1944.3 L1473.8,1944.8 L1471.7,1944.2 L1471.6,1944.7 L1476.3,1945.9 L1476.1,1946.4 L1471.8,1945.3 L1471.7,1945.8 L1477.4,1947.2 L1477.3,1947.7 L1471.9,1946.4 L1471.8,1946.9 L1472.2,1947.0 L1472.1,1947.5 L1471.6,1947.3 L1471.5,1947.8 L1474.3,1948.6 L1474.2,1949.1 L1475.6,1949.5 L1475.5,1950.0 L1476.1,1950.1 L1476.0,1950.6 L1473.2,1949.9 L1473.1,1950.4 L1472.5,1950.2 L1472.3,1950.7 L1476.7,1951.9 L1476.6,1952.4 L1472.7,1951.3 L1472.5,1951.8 L1478.3,1953.4 L1478.2,1953.9 L1472.2,1952.2 L1472.0,1952.7 L1477.8,1954.4 L1477.6,1954.9 L1469.6,1952.6 L1469.4,1953.0 L1475.1,1954.7 L1474.9,1955.2 L1472.4,1954.4 L1472.2,1954.9 L1471.1,1954.6 L1471.0,1955.1 L1480.7,1958.0 L1480.5,1958.5 L1469.4,1955.1 L1469.2,1955.6 L1473.6,1956.9 L1473.4,1957.4 L1476.8,1958.5 L1476.6,1959.0 L1469.7,1956.8 L1469.6,1957.3 L1474.8,1958.9 L1474.6,1959.4 L1484.7,1962.6 L1484.6,1963.2 L1470.1,1958.5 L1470.0,1959.0 L1472.3,1959.8 L1472.1,1960.3 L1470.8,1959.8 L1470.6,1960.3 L1471.6,1960.6 L1471.5,1961.1 L1475.4,1962.4 L1475.2,1962.9 L1473.8,1962.4 L1473.6,1962.9 L1472.8,1962.7 L1472.7,1963.2 L1474.6,1963.8 L1474.5,1964.3 L1471.8,1963.4 L1471.7,1963.9 L1474.8,1965.0 L1474.7,1965.5 L1472.1,1964.6 L1471.9,1965.1 L1468.6,1964.0 L1468.5,1964.4 L1470.1,1965.0 L1469.9,1965.5 L1467.9,1964.8 L1467.7,1965.3 L1471.6,1966.7 L1471.5,1967.1 L1474.6,1968.3 L1474.4,1968.8 L1470.7,1967.4 L1470.5,1967.9 L1473.1,1968.9 L1473.0,1969.4 L1467.7,1967.4 L1467.5,1967.9 L1472.5,1969.7 L1472.3,1970.2 L1467.9,1968.6 L1467.7,1969.1 L1472.8,1971.0 L1472.6,1971.5 L1470.7,1970.8 L1470.5,1971.3 L1468.5,1970.5 L1468.3,1970.9 L1472.2,1972.4 L1472.0,1972.9 L1472.0,1972.9 L1471.8,1973.4 L1470.9,1973.1 L1470.7,1973.5 L1465.3,1971.4 L1465.1,1971.9 L1472.4,1974.8 L1472.2,1975.3 L1463.6,1971.8 L1463.4,1972.3 L1480.5,1979.2 L1480.3,1979.7 L1464.3,1973.2 L1464.1,1973.7 L1463.6,1973.5 L1463.4,1974.0 L1468.6,1976.1 L1468.4,1976.6 L1465.4,1975.3 L1465.2,1975.8 L1468.5,1977.2 L1468.3,1977.7 L1470.7,1978.7 L1470.5,1979.1 L1463.9,1976.3 L1463.7,1976.8 L1467.7,1978.5 L1467.5,1979.0 L1465.9,1978.3 L1465.6,1978.8 L1465.0,1978.5 L1464.8,1979.0 L1461.2,1977.4 L1461.0,1977.9 L1463.6,1979.0 L1463.4,1979.5 L1461.7,1978.7 L1461.4,1979.2 L1461.6,1979.2 L1461.4,1979.7 L1461.8,1979.9 L1461.5,1980.3 L1461.3,1980.2 L1461.1,1980.7 L1464.1,1982.1 L1463.9,1982.5 L1462.6,1982.0 L1462.4,1982.4 L1467.4,1984.7 L1467.1,1985.2 L1461.0,1982.3 L1460.8,1982.8 L1466.6,1985.5 L1466.4,1986.0 L1461.1,1983.5 L1460.9,1984.0 L1460.8,1983.9 L1460.6,1984.4 L1458.7,1983.5 L1458.4,1983.9 L1461.6,1985.4 L1461.4,1985.9 L1473.1,1991.5 L1472.8,1992.0 L1463.3,1987.4 L1463.0,1987.9 L1462.1,1987.4 L1461.9,1987.9 L1465.6,1989.7 L1465.4,1990.2 L1463.1,1989.1 L1462.9,1989.5 L1459.5,1987.8 L1459.2,1988.3 L1464.9,1991.1 L1464.6,1991.6 L1459.6,1989.0 L1459.4,1989.5 L1457.3,1988.4 L1457.1,1988.9 L1455.9,1988.3 L1455.6,1988.8 L1463.5,1992.8 L1463.3,1993.3 L1460.6,1991.9 L1460.3,1992.3 L1457.2,1990.7 L1457.0,1991.1 L1449.1,1987.0 A195.8,195.8 0 0 0 1415.8,1760.0 Z" fill="#d7191c" stroke="#d7191c" stroke-width="0.25"/>
<path d="M1442.9,1733.7 L1443.5,1733.0 L1443.9,1733.4 L1444.5,1732.9 L1444.9,1733.3 L1444.3,1733.9 L1444.7,1734.3 L1444.9,1734.1 L1445.3,1734.5 L1445.5,1734.3 L1445.9,1734.8 L1448.6,1732.2 L1449.0,1732.7 L1446.6,1734.9 L1447.0,1735.4 L1446.8,1735.6 L1447.2,1736.0 L1446.9,1736.3 L1447.3,1736.7 L1447.7,1736.3 L1448.1,1736.7 L1448.1,1736.8 L1448.5,1737.2 L1448.3,1737.4 L1448.7,1737.8 L1448.8,1737.7 L1449.2,1738.1 L1449.2,1738.1 L1449.6,1738.6 L1449.2,1738.9 L1449.6,1739.3 L1449.7,1739.3 L1450.0,1739.7 L1450.2,1739.6 L1450.6,1740.0 L1450.7,1740.0 L1451.1,1740.4 L1450.8,1740.6 L1451.2,1741.1 L1451.8,1740.5 L1452.2,1741.0 L1451.8,1741.3 L1452.2,1741.7 L1452.5,1741.5 L1452.9,1741.9 L1452.3,1742.4 L1452.7,1742.9 L1452.9,1742.6 L1453.3,1743.1 L1453.7,1742.8 L1454.0,1743.2 L1455.6,1741.9 L1456.0,1742.4 L1454.4,1743.7 L1454.8,1744.1 L1454.2,1744.7 L1454.5,1745.1 L1454.6,1745.0 L1455.0,1745.5 L1455.1,1745.4 L1455.5,1745.9 L1455.7,1745.7 L1456.0,1746.2 L1455.6,1746.5 L1456.0,1747.0 L1456.8,1746.3 L1457.2,1746.7 L1456.7,1747.1 L1457.1,1747.6 L1457.4,1747.3 L1457.8,1747.8 L1457.2,1748.3 L1457.5,1748.7 L1457.7,1748.6 L1458.1,1749.0 L1458.0,1749.1 L1458.4,1749.6 L1458.5,1749.5 L1458.8,1749.9 L1458.5,1750.2 L1458.9,1750.6 L1459.4,1750.2 L1459.8,1750.7 L1459.4,1751.0 L1459.8,1751.4 L1459.8,1751.4 L1460.2,1751.8 L1460.2,1751.9 L1460.5,1752.3 L1460.4,1752.4 L1460.8,1752.9 L1461.5,1752.3 L1461.8,1752.8 L1461.4,1753.1 L1461.8,1753.6 L1462.0,1753.4 L1462.3,1753.9 L1461.8,1754.3 L1462.1,1754.8 L1462.4,1754.5 L1462.8,1755.0 L1462.7,1755.1 L1463.1,1755.5 L1463.4,1755.3 L1463.8,1755.7 L1463.5,1756.0 L1463.8,1756.4 L1464.1,1756.3 L1464.4,1756.7 L1464.0,1757.0 L1464.4,1757.5 L1464.9,1757.1 L1465.2,1757.6 L1465.2,1757.6 L1465.5,1758.1 L1464.9,1758.5 L1465.3,1759.0 L1465.6,1758.8 L1465.9,1759.2 L1466.0,1759.2 L1466.4,1759.6 L1469.0,1757.8 L1469.3,1758.3 L1466.7,1760.1 L1467.0,1760.6 L1467.4,1760.4 L1467.7,1760.8 L1467.4,1761.1 L1467.7,1761.6 L1467.7,1761.6 L1468.0,1762.1 L1468.1,1762.0 L1468.4,1762.5 L1468.6,1762.4 L1468.9,1762.9 L1471.6,1761.0 L1472.0,1761.5 L1469.1,1763.4 L1469.5,1763.9 L1469.7,1763.8 L1470.0,1764.3 L1469.5,1764.6 L1469.8,1765.1 L1470.4,1764.7 L1470.7,1765.2 L1470.0,1765.7 L1470.3,1766.2 L1470.8,1765.9 L1471.1,1766.3 L1471.2,1766.3 L1471.6,1766.8 L1471.4,1766.9 L1471.7,1767.4 L1471.9,1767.2 L1472.2,1767.7 L1472.1,1767.8 L1472.4,1768.3 L1472.7,1768.1 L1473.0,1768.6 L1472.3,1769.1 L1472.6,1769.6 L1476.8,1766.9 L1477.1,1767.4 L1473.1,1770.0 L1473.4,1770.5 L1473.4,1770.4 L1473.7,1770.9 L1474.3,1770.6 L1474.6,1771.1 L1474.3,1771.3 L1474.6,1771.8 L1474.1,1772.1 L1474.4,1772.6 L1475.2,1772.1 L1475.5,1772.6 L1475.5,1772.6 L1475.8,1773.1 L1475.2,1773.5 L1475.5,1774.0 L1475.8,1773.8 L1476.1,1774.3 L1476.1,1774.3 L1476.4,1774.8 L1476.5,1774.7 L1476.8,1775.2 L1477.0,1775.1 L1477.3,1775.6 L1477.4,1775.5 L1477.7,1776.0 L1476.8,1776.6 L1477.1,1777.1 L1477.6,1776.8 L1477.9,1777.3 L1478.0,1777.3 L1478.3,1777.8 L1478.0,1778.0 L1478.3,1778.5 L1478.3,1778.4 L1478.6,1779.0 L1479.1,1778.6 L1479.4,1779.2 L1479.0,1779.4 L1479.3,1779.9 L1479.3,1779.9 L1479.6,1780.4 L1479.2,1780.6 L1479.5,1781.1 L1483.5,1778.8 L1483.8,1779.4 L1479.8,1781.6 L1480.1,1782.1 L1480.2,1782.1 L1480.5,1782.6 L1480.9,1782.4 L1481.2,1782.9 L1481.1,1782.9 L1481.4,1783.4 L1481.6,1783.3 L1481.8,1783.8 L1481.3,1784.1 L1481.6,1784.6 L1481.6,1784.7 L1481.8,1785.2 L1481.9,1785.1 L1482.2,1785.6 L1482.1,1785.7 L1482.3,1786.2 L1483.2,1785.7 L1483.5,1786.3 L1483.2,1786.4 L1483.5,1786.9 L1483.7,1786.8 L1484.0,1787.3 L1483.2,1787.7 L1483.5,1788.3 L1487.4,1786.2 L1487.7,1786.7 L1483.9,1788.7 L1484.2,1789.2 L1484.5,1789.1 L1484.8,1789.6 L1484.7,1789.6 L1485.0,1790.1 L1485.4,1789.9 L1485.6,1790.5 L1485.6,1790.5 L1485.8,1791.0 L1485.8,1791.0 L1486.0,1791.6 L1487.9,1790.6 L1488.2,1791.2 L1486.1,1792.2 L1486.4,1792.7 L1486.3,1792.8 L1486.5,1793.3 L1486.5,1793.3 L1486.7,1793.9 L1486.7,1793.9 L1486.9,1794.4 L1486.6,1794.6 L1486.8,1795.1 L1486.9,1795.1 L1487.1,1795.6 L1488.1,1795.2 L1488.3,1795.7 L1487.8,1795.9 L1488.0,1796.5 L1487.9,1796.6 L1488.1,1797.1 L1488.3,1797.0 L1488.5,1797.5 L1488.1,1797.7 L1488.3,1798.3 L1489.2,1797.9 L1489.4,1798.4 L1489.0,1798.6 L1489.3,1799.1 L1488.9,1799.3 L1489.1,1799.8 L1489.9,1799.5 L1490.2,1800.0 L1489.4,1800.3 L1489.7,1800.9 L1489.5,1801.0 L1489.7,1801.5 L1490.7,1801.0 L1491.0,1801.6 L1490.9,1801.6 L1491.2,1802.1 L1490.2,1802.6 L1490.4,1803.1 L1490.9,1802.9 L1491.1,1803.4 L1491.4,1803.3 L1491.6,1803.8 L1491.7,1803.8 L1491.9,1804.4 L1491.1,1804.7 L1491.4,1805.2 L1491.4,1805.2 L1491.6,1805.8 L1492.4,1805.4 L1492.6,1806.0 L1495.0,1805.0 L1495.2,1805.6 L1492.1,1806.8 L1492.3,1807.4 L1492.3,1807.4 L1492.6,1807.9 L1492.8,1807.8 L1493.0,1808.4 L1493.4,1808.2 L1493.6,1808.8 L1493.0,1809.0 L1493.2,1809.5 L1493.4,1809.4 L1493.6,1810.0 L1494.3,1809.8 L1494.5,1810.3 L1493.7,1810.6 L1493.9,1811.2 L1494.7,1810.8 L1494.9,1811.4 L1494.5,1811.6 L1494.7,1812.1 L1494.3,1812.3 L1494.5,1812.8 L1494.5,1812.8 L1494.7,1813.3 L1495.1,1813.2 L1495.3,1813.7 L1495.0,1813.9 L1495.2,1814.4 L1495.2,1814.4 L1495.4,1815.0 L1495.4,1815.0 L1495.6,1815.5 L1495.9,1815.4 L1496.1,1815.9 L1495.6,1816.1 L1495.8,1816.7 L1496.3,1816.5 L1496.5,1817.0 L1496.6,1817.0 L1496.8,1817.6 L1496.4,1817.7 L1496.6,1818.3 L1496.5,1818.3 L1496.7,1818.8 L1496.6,1818.9 L1496.8,1819.4 L1497.3,1819.2 L1497.5,1819.8 L1497.9,1819.7 L1498.1,1820.2 L1497.8,1820.3 L1498.0,1820.9 L1498.0,1820.9 L1498.2,1821.4 L1498.3,1821.4 L1498.5,1821.9 L1498.0,1822.1 L1498.1,1822.7 L1501.5,1821.6 L1501.7,1822.1 L1498.8,1823.1 L1499.0,1823.6 L1498.6,1823.8 L1498.8,1824.3 L1498.9,1824.3 L1499.1,1824.8 L1498.6,1825.0 L1498.8,1825.5 L1499.2,1825.4 L1499.4,1826.0 L1499.0,1826.1 L1499.2,1826.6 L1500.0,1826.4 L1500.1,1827.0 L1499.5,1827.2 L1499.6,1827.7 L1499.6,1827.7 L1499.8,1828.3 L1499.9,1828.3 L1500.1,1828.8 L1500.9,1828.6 L1501.1,1829.1 L1500.9,1829.2 L1501.1,1829.8 L1500.7,1829.9 L1500.9,1830.4 L1501.4,1830.3 L1501.5,1830.8 L1501.2,1830.9 L1501.4,1831.5 L1501.4,1831.5 L1501.5,1832.1 L1501.7,1832.0 L1501.9,1832.6 L1501.8,1832.6 L1501.9,1833.2 L1501.3,1833.3 L1501.5,1833.9 L1502.0,1833.7 L1502.2,1834.3 L1501.6,1834.5 L1501.7,1835.0 L1502.7,1834.8 L1502.8,1835.4 L1502.6,1835.4 L1502.7,1836.0 L1502.8,1836.0 L1503.0,1836.5 L1502.5,1836.6 L1502.7,1837.2 L1503.1,1837.1 L1503.2,1837.7 L1502.7,1837.8 L1502.8,1838.4 L1503.1,1838.3 L1503.2,1838.9 L1502.7,1839.0 L1502.9,1839.6 L1503.7,1839.4 L1503.8,1839.9 L1503.9,1839.9 L1504.0,1840.5 L1503.3,1840.7 L1503.4,1841.3 L1503.4,1841.2 L1503.6,1841.8 L1504.4,1841.6 L1504.5,1842.2 L1504.3,1842.3 L1504.4,1842.8 L1504.5,1842.8 L1504.6,1843.4 L1504.5,1843.4 L1504.6,1844.0 L1504.8,1843.9 L1504.9,1844.5 L1504.1,1844.7 L1504.2,1845.3 L1505.1,1845.1 L1505.2,1845.6 L1504.9,1845.7 L1505.1,1846.3 L1507.7,1845.7 L1507.8,1846.3 L1504.5,1847.0 L1504.6,1847.6 L1505.6,1847.4 L1505.7,1848.0 L1505.4,1848.0 L1505.6,1848.6 L1505.2,1848.6 L1505.4,1849.2 L1505.4,1849.2 L1505.5,1849.8 L1505.8,1849.7 L1505.9,1850.3 L1505.3,1850.4 L1505.4,1851.0 L1506.1,1850.9 L1506.2,1851.4 L1506.2,1851.4 L1506.3,1852.0 L1505.7,1852.1 L1505.8,1852.7 L1505.7,1852.7 L1505.8,1853.3 L1506.0,1853.3 L1506.1,1853.8 L1507.0,1853.7 L1507.1,1854.3 L1506.2,1854.4 L1506.3,1855.0 L1506.8,1854.9 L1506.9,1855.5 L1506.6,1855.5 L1506.7,1856.1 L1507.4,1856.0 L1507.5,1856.6 L1507.5,1856.6 L1507.6,1857.1 L1507.4,1857.2 L1507.5,1857.8 L1508.8,1857.5 L1508.9,1858.1 L1507.8,1858.3 L1507.9,1858.9 L1507.7,1858.9 L1507.8,1859.5 L1507.3,1859.6 L1507.4,1860.2 L1507.6,1860.1 L1507.7,1860.7 L1507.6,1860.7 L1507.7,1861.3 L1508.2,1861.2 L1508.3,1861.8 L1508.0,1861.8 L1508.1,1862.4 L1508.0,1862.4 L1508.1,1863.0 L1508.5,1862.9 L1508.6,1863.5 L1508.2,1863.6 L1508.3,1864.2 L1508.0,1864.2 L1508.1,1864.8 L1508.4,1864.7 L1508.5,1865.3 L1508.3,1865.3 L1508.4,1865.9 L1508.9,1865.9 L1509.0,1866.4 L1508.8,1866.5 L1508.9,1867.0 L1508.6,1867.1 L1508.7,1867.7 L1508.9,1867.6 L1509.0,1868.2 L1508.9,1868.2 L1509.0,1868.8 L1508.2,1868.9 L1508.2,1869.5 L1508.4,1869.5 L1508.4,1870.1 L1509.3,1869.9 L1509.4,1870.5 L1509.0,1870.6 L1509.1,1871.2 L1508.4,1871.2 L1508.5,1871.8 L1509.3,1871.7 L1509.4,1872.3 L1508.9,1872.4 L1508.9,1872.9 L1508.9,1872.9 L1509.0,1873.5 L1509.1,1873.5 L1509.2,1874.1 L1509.5,1874.1 L1509.5,1874.6 L1509.6,1874.6 L1509.6,1875.2 L1509.9,1875.2 L1510.0,1875.8 L1509.7,1875.8 L1509.7,1876.4 L1509.1,1876.4 L1509.1,1877.0 L1509.9,1877.0 L1510.0,1877.6 L1509.4,1877.6 L1509.5,1878.2 L1509.7,1878.2 L1509.7,1878.8 L1509.3,1878.8 L1509.3,1879.4 L1509.3,1879.4 L1509.4,1879.9 L1509.2,1880.0 L1509.3,1880.5 L1509.7,1880.5 L1509.7,1881.1 L1510.4,1881.1 L1510.4,1881.6 L1509.7,1881.7 L1509.7,1882.3 L1509.6,1882.3 L1509.6,1882.9 L1509.9,1882.8 L1509.9,1883.4 L1509.7,1883.4 L1509.7,1884.0 L1509.9,1884.0 L1509.9,1884.6 L1509.8,1884.6 L1509.8,1885.2 L1510.6,1885.2 L1510.6,1885.7 L1510.5,1885.8 L1510.5,1886.3 L1510.5,1886.3 L1510.5,1886.9 L1509.7,1887.0 L1509.8,1887.5 L1510.1,1887.5 L1510.2,1888.1 L1510.4,1888.1 L1510.4,1888.7 L1510.0,1888.7 L1510.0,1889.3 L1510.7,1889.3 L1510.8,1889.9 L1510.0,1889.9 L1510.0,1890.5 L1510.0,1890.5 L1510.0,1891.0 L1509.7,1891.1 L1509.8,1891.6 L1510.4,1891.6 L1510.4,1892.2 L1510.8,1892.2 L1510.9,1892.8 L1510.0,1892.8 L1510.0,1893.4 L1510.4,1893.4 L1510.4,1894.0 L1510.6,1894.0 L1510.6,1894.6 L1510.7,1894.6 L1510.7,1895.1 L1510.1,1895.1 L1510.1,1895.7 L1510.9,1895.7 L1510.9,1896.3 L1510.6,1896.3 L1510.6,1896.9 L1510.2,1896.9 L1510.2,1897.5 L1510.6,1897.5 L1510.6,1898.1 L1510.2,1898.1 L1510.2,1898.7 L1510.2,1898.7 L1510.2,1899.2 L1510.8,1899.2 L1510.8,1899.8 L1510.4,1899.8 L1510.3,1900.4 L1510.8,1900.4 L1510.8,1901.0 L1510.1,1901.0 L1510.1,1901.6 L1510.2,1901.6 L1510.2,1902.2 L1510.7,1902.2 L1510.7,1902.8 L1510.4,1902.8 L1510.3,1903.3 L1510.3,1903.3 L1510.3,1903.9 L1510.6,1903.9 L1510.6,1904.5 L1510.6,1904.5 L1510.6,1905.1 L1510.4,1905.1 L1510.4,1905.7 L1510.2,1905.7 L1510.2,1906.3 L1510.6,1906.3 L1510.6,1906.9 L1510.5,1906.9 L1510.5,1907.5 L1510.6,1907.5 L1510.5,1908.1 L1510.3,1908.0 L1510.3,1908.6 L1510.2,1908.6 L1510.1,1909.2 L1509.5,1909.2 L1509.5,1909.8 L1510.4,1909.8 L1510.3,1910.4 L1509.6,1910.3 L1509.6,1910.9 L1509.4,1910.9 L1509.4,1911.5 L1510.4,1911.6 L1510.4,1912.2 L1509.7,1912.1 L1509.6,1912.7 L1509.3,1912.7 L1509.2,1913.3 L1513.0,1913.5 L1513.0,1914.1 L1509.3,1913.8 L1509.2,1914.4 L1509.1,1914.4 L1509.1,1915.0 L1509.7,1915.1 L1509.6,1915.6 L1509.0,1915.6 L1509.0,1916.2 L1509.1,1916.2 L1509.0,1916.8 L1509.6,1916.8 L1509.6,1917.4 L1509.2,1917.4 L1509.2,1917.9 L1509.0,1917.9 L1509.0,1918.5 L1509.0,1918.5 L1508.9,1919.1 L1509.6,1919.2 L1509.6,1919.8 L1508.6,1919.7 L1508.6,1920.2 L1508.6,1920.2 L1508.5,1920.8 L1509.0,1920.9 L1508.9,1921.5 L1509.2,1921.5 L1509.1,1922.1 L1509.1,1922.1 L1509.0,1922.6 L1508.9,1922.6 L1508.8,1923.2 L1508.5,1923.2 L1508.4,1923.8 L1509.3,1923.9 L1509.3,1924.4 L1509.2,1924.4 L1509.2,1925.0 L1509.2,1925.0 L1509.1,1925.6 L1508.5,1925.5 L1508.4,1926.1 L1508.4,1926.1 L1508.3,1926.7 L1508.6,1926.7 L1508.6,1927.3 L1508.1,1927.3 L1508.1,1927.8 L1508.1,1927.8 L1508.1,1928.4 L1507.8,1928.4 L1507.7,1929.0 L1508.1,1929.0 L1508.0,1929.6 L1507.6,1929.6 L1507.6,1930.1 L1507.6,1930.1 L1507.5,1930.7 L1507.9,1930.8 L1507.8,1931.4 L1508.3,1931.4 L1508.2,1932.0 L1508.2,1932.0 L1508.1,1932.6 L1507.8,1932.5 L1507.7,1933.1 L1507.0,1933.0 L1506.9,1933.6 L1506.8,1933.6 L1506.7,1934.1 L1507.6,1934.3 L1507.5,1934.9 L1506.9,1934.8 L1506.8,1935.3 L1506.7,1935.3 L1506.6,1935.9 L1507.6,1936.1 L1507.5,1936.7 L1506.4,1936.5 L1506.3,1937.0 L1506.6,1937.1 L1506.5,1937.7 L1507.1,1937.8 L1507.0,1938.3 L1506.1,1938.2 L1506.0,1938.8 L1506.1,1938.8 L1506.0,1939.4 L1506.4,1939.4 L1506.2,1940.0 L1506.8,1940.1 L1506.7,1940.7 L1506.1,1940.6 L1506.0,1941.2 L1505.6,1941.1 L1505.5,1941.6 L1506.0,1941.8 L1505.9,1942.3 L1505.5,1942.2 L1505.4,1942.8 L1505.2,1942.8 L1505.0,1943.3 L1505.9,1943.5 L1505.7,1944.1 L1506.1,1944.2 L1505.9,1944.7 L1505.6,1944.7 L1505.5,1945.2 L1505.6,1945.3 L1505.5,1945.8 L1506.9,1946.1 L1506.8,1946.7 L1505.1,1946.3 L1505.0,1946.9 L1504.3,1946.8 L1504.2,1947.3 L1505.1,1947.5 L1505.0,1948.1 L1504.1,1947.9 L1504.0,1948.5 L1504.5,1948.6 L1504.4,1949.2 L1504.2,1949.1 L1504.0,1949.7 L1504.7,1949.9 L1504.5,1950.4 L1504.3,1950.4 L1504.1,1950.9 L1503.7,1950.8 L1503.5,1951.4 L1503.7,1951.4 L1503.5,1952.0 L1503.8,1952.1 L1503.7,1952.6 L1503.2,1952.5 L1503.1,1953.1 L1503.5,1953.2 L1503.4,1953.8 L1503.5,1953.8 L1503.4,1954.4 L1502.6,1954.2 L1502.5,1954.7 L1502.5,1954.7 L1502.3,1955.3 L1502.7,1955.4 L1502.6,1956.0 L1502.9,1956.1 L1502.8,1956.6 L1502.7,1956.6 L1502.6,1957.2 L1502.3,1957.1 L1502.2,1957.7 L1502.7,1957.8 L1502.5,1958.4 L1501.6,1958.1 L1501.4,1958.7 L1502.5,1959.0 L1502.3,1959.6 L1501.6,1959.4 L1501.5,1959.9 L1502.0,1960.1 L1501.8,1960.6 L1502.8,1960.9 L1502.7,1961.5 L1501.8,1961.3 L1501.7,1961.8 L1503.0,1962.2 L1502.8,1962.8 L1501.5,1962.4 L1501.3,1962.9 L1501.0,1962.8 L1500.8,1963.4 L1500.8,1963.4 L1500.6,1964.0 L1500.2,1963.8 L1500.0,1964.4 L1499.7,1964.3 L1499.6,1964.9 L1499.7,1964.9 L1499.5,1965.5 L1500.2,1965.7 L1500.0,1966.2 L1500.1,1966.3 L1500.0,1966.8 L1499.6,1966.7 L1499.4,1967.3 L1499.8,1967.4 L1499.6,1967.9 L1503.1,1969.1 L1503.0,1969.6 L1499.1,1968.4 L1499.0,1969.0 L1498.9,1968.9 L1498.7,1969.5 L1498.8,1969.5 L1498.6,1970.1 L1498.0,1969.9 L1497.9,1970.5 L1498.4,1970.6 L1498.2,1971.2 L1501.7,1972.4 L1501.5,1972.9 L1497.4,1971.5 L1497.2,1972.1 L1498.1,1972.4 L1497.9,1973.0 L1497.2,1972.7 L1497.0,1973.2 L1497.1,1973.3 L1496.9,1973.8 L1496.8,1973.8 L1496.6,1974.3 L1497.1,1974.5 L1496.9,1975.1 L1496.4,1974.9 L1496.2,1975.4 L1497.0,1975.7 L1496.8,1976.3 L1496.0,1976.0 L1495.8,1976.5 L1496.0,1976.6 L1495.8,1977.2 L1495.6,1977.1 L1495.4,1977.7 L1496.4,1978.0 L1496.2,1978.6 L1495.1,1978.1 L1494.9,1978.7 L1495.0,1978.7 L1494.8,1979.3 L1495.3,1979.5 L1495.1,1980.0 L1494.9,1980.0 L1494.7,1980.5 L1494.9,1980.6 L1494.7,1981.1 L1495.0,1981.3 L1494.8,1981.8 L1494.7,1981.8 L1494.5,1982.3 L1494.5,1982.3 L1494.3,1982.9 L1493.4,1982.5 L1493.2,1983.1 L1494.1,1983.4 L1493.9,1984.0 L1493.9,1984.0 L1493.7,1984.5 L1493.8,1984.6 L1493.6,1985.1 L1493.3,1985.0 L1493.1,1985.5 L1492.6,1985.4 L1492.4,1985.9 L1492.4,1985.9 L1492.2,1986.5 L1492.3,1986.5 L1492.1,1987.0 L1492.3,1987.1 L1492.1,1987.7 L1492.2,1987.7 L1492.0,1988.3 L1492.3,1988.4 L1492.0,1988.9 L1491.2,1988.6 L1491.0,1989.1 L1493.0,1990.0 L1492.8,1990.5 L1491.5,1990.0 L1491.2,1990.5 L1490.6,1990.2 L1490.4,1990.8 L1490.9,1991.0 L1490.6,1991.5 L1490.6,1991.5 L1490.4,1992.1 L1489.7,1991.7 L1489.4,1992.3 L1489.6,1992.4 L1489.4,1992.9 L1489.5,1992.9 L1489.2,1993.5 L1489.9,1993.7 L1489.6,1994.3 L1489.2,1994.1 L1488.9,1994.6 L1488.9,1994.6 L1488.7,1995.1 L1488.5,1995.1 L1488.3,1995.6 L1488.6,1995.7 L1488.3,1996.3 L1487.7,1996.0 L1487.4,1996.5 L1487.7,1996.6 L1487.4,1997.1 L1487.1,1997.0 L1486.9,1997.5 L1487.6,1997.9 L1487.4,1998.4 L1486.8,1998.1 L1486.5,1998.7 L1487.1,1998.9 L1486.8,1999.4 L1486.9,1999.5 L1486.6,2000.0 L1486.1,1999.7 L1485.8,2000.3 L1485.6,2000.2 L1485.3,2000.7 L1485.5,2000.8 L1485.3,2001.3 L1486.1,2001.7 L1485.8,2002.2 L1485.4,2002.0 L1485.2,2002.5 L1485.2,2002.6 L1484.9,2003.1 L1484.6,2002.9 L1484.3,2003.4 L1486.6,2004.6 L1486.4,2005.1 L1483.9,2003.9 L1483.6,2004.4 L1484.0,2004.6 L1483.7,2005.1 L1482.5,2004.5 A233.5,233.5 0 0 0 1442.9,1733.7 Z" fill="#2e9a4d" stroke="#2e9a4d" stroke-width="0.6"/>
<path d="M1388.2,1786.8 A157.3,157.3 0 0 1 1414.9,1969.2" fill="none" stroke="#3a7dc4" stroke-width="1.4"/>
<path d="M1417.9,1831.7L1424.1,1828.9M1418.3,1832.5L1423.3,1830.3M1431.3,1910.5L1443.6,1911.6M1431.2,1912.1L1440.6,1913.0M1426.4,1937.8L1439.2,1941.3M1426.0,1939.2L1438.8,1942.9M1431.6,1906.9L1436.7,1907.2M1431.5,1908.4L1434.9,1908.7M1431.7,1904.7L1443.3,1905.3M1431.7,1905.4L1439.2,1905.8M1416.1,1965.1L1426.4,1970.2M1413.6,1822.9L1418.2,1820.5M1404.2,1807.5L1419.8,1796.7M1405.1,1808.8L1411.3,1804.6M1430.9,1878.2L1438.3,1877.4M1418.9,1833.8L1430.5,1828.7M1419.2,1834.5L1427.4,1830.9M1425.5,1851.8L1436.4,1848.6M1424.3,1944.8L1435.4,1948.3M1414.7,1824.9L1423.0,1820.6M1415.1,1825.9L1423.1,1821.8M1400.1,1801.8L1407.9,1795.8M1400.5,1802.4L1407.0,1797.6M1402.9,1805.6L1409.9,1800.6M1419.8,1956.9L1425.1,1959.2M1419.3,1958.2L1423.9,1960.2M1424.3,1944.9L1447.5,1952.4M1423.8,1946.4L1443.8,1953.1M1415.1,1825.8L1427.3,1819.6M1415.4,1826.4L1424.3,1821.9M1420.7,1954.7L1432.1,1959.3M1420.3,1955.7L1429.0,1959.2M1411.9,1819.9L1419.5,1815.7M1412.7,1821.3L1419.1,1817.8M1409.5,1815.6L1419.3,1809.7M1391.5,1791.4L1400.7,1783.1M1414.6,1824.8L1424.4,1819.8M1405.8,1809.9L1427.0,1795.8M1425.0,1942.5L1438.4,1946.6M1424.8,1943.2L1436.8,1947.0M1422.3,1950.6L1429.0,1953.1M1421.9,1951.6L1426.4,1953.3M1410.6,1817.6L1420.0,1812.1M1426.4,1855.2L1431.4,1853.8M1414.5,1824.6L1423.5,1820.0M1430.1,1872.3L1451.6,1868.9M1430.3,1873.7L1445.4,1871.5M1414.6,1968.0L1421.1,1971.4M1421.6,1840.4L1429.4,1837.3" fill="none" stroke="#3a7dc4" stroke-width="1.3"/>
<path d="M1360.4,1813.8 L1361.0,1813.2 L1361.2,1813.4 L1361.5,1813.2 L1361.7,1813.4 L1361.3,1813.7 L1361.5,1813.8 L1362.0,1813.4 L1362.2,1813.6 L1362.8,1813.0 L1363.0,1813.2 L1362.2,1814.0 L1362.3,1814.2 L1362.3,1814.2 L1362.5,1814.4 L1362.5,1814.3 L1362.7,1814.5 L1363.4,1813.8 L1363.6,1814.0 L1364.3,1813.3 L1364.5,1813.5 L1363.2,1814.7 L1363.4,1814.9 L1364.1,1814.3 L1364.3,1814.5 L1363.9,1814.8 L1364.1,1815.0 L1364.6,1814.5 L1364.8,1814.7 L1365.4,1814.2 L1365.6,1814.4 L1365.5,1814.4 L1365.7,1814.6 L1363.9,1816.2 L1364.1,1816.4 L1367.5,1813.4 L1367.6,1813.6 L1364.8,1816.2 L1364.9,1816.4 L1366.1,1815.3 L1366.3,1815.5 L1365.6,1816.1 L1365.8,1816.3 L1366.3,1815.8 L1366.5,1816.0 L1365.9,1816.6 L1366.1,1816.8 L1365.5,1817.2 L1365.7,1817.4 L1366.4,1816.8 L1366.6,1817.0 L1367.2,1816.5 L1367.4,1816.7 L1366.0,1817.9 L1366.1,1818.1 L1367.6,1816.9 L1367.7,1817.1 L1366.3,1818.3 L1366.4,1818.5 L1366.6,1818.4 L1366.8,1818.6 L1367.0,1818.4 L1367.2,1818.6 L1367.8,1818.1 L1368.0,1818.3 L1368.1,1818.2 L1368.3,1818.4 L1367.7,1818.8 L1367.9,1819.0 L1371.2,1816.3 L1371.4,1816.5 L1368.5,1818.9 L1368.7,1819.1 L1368.6,1819.1 L1368.8,1819.3 L1369.4,1818.8 L1369.6,1819.0 L1368.1,1820.3 L1368.2,1820.5 L1369.7,1819.2 L1369.9,1819.4 L1368.8,1820.4 L1368.9,1820.6 L1370.0,1819.7 L1370.1,1819.9 L1369.8,1820.2 L1369.9,1820.4 L1369.8,1820.5 L1370.0,1820.7 L1368.8,1821.6 L1369.0,1821.9 L1369.2,1821.7 L1369.3,1821.9 L1369.0,1822.2 L1369.1,1822.4 L1369.9,1821.8 L1370.1,1822.0 L1369.4,1822.5 L1369.5,1822.8 L1371.4,1821.3 L1371.5,1821.5 L1370.3,1822.5 L1370.4,1822.7 L1370.6,1822.6 L1370.8,1822.8 L1375.1,1819.5 L1375.2,1819.7 L1370.4,1823.4 L1370.5,1823.6 L1372.2,1822.3 L1372.4,1822.5 L1372.1,1822.8 L1372.3,1823.0 L1371.8,1823.3 L1372.0,1823.5 L1372.7,1823.0 L1372.9,1823.2 L1372.4,1823.5 L1372.6,1823.7 L1371.5,1824.5 L1371.7,1824.7 L1372.4,1824.2 L1372.6,1824.4 L1373.2,1824.0 L1373.3,1824.2 L1376.1,1822.1 L1376.3,1822.3 L1373.2,1824.6 L1373.3,1824.8 L1375.0,1823.6 L1375.2,1823.8 L1375.4,1823.6 L1375.6,1823.9 L1372.6,1826.0 L1372.8,1826.2 L1375.2,1824.4 L1375.4,1824.6 L1374.4,1825.4 L1374.5,1825.6 L1372.8,1826.8 L1373.0,1827.0 L1373.8,1826.4 L1373.9,1826.7 L1373.7,1826.8 L1373.9,1827.0 L1373.5,1827.3 L1373.7,1827.5 L1373.3,1827.8 L1373.4,1828.0 L1373.4,1828.0 L1373.6,1828.2 L1374.9,1827.3 L1375.1,1827.5 L1375.3,1827.3 L1375.4,1827.5 L1374.4,1828.2 L1374.6,1828.4 L1374.3,1828.7 L1374.4,1828.9 L1375.2,1828.3 L1375.4,1828.5 L1374.5,1829.2 L1374.6,1829.4 L1375.1,1829.0 L1375.3,1829.2 L1374.9,1829.5 L1375.1,1829.7 L1376.4,1828.8 L1376.5,1829.1 L1376.0,1829.4 L1376.2,1829.6 L1376.4,1829.4 L1376.6,1829.6 L1376.8,1829.5 L1376.9,1829.7 L1375.3,1830.8 L1375.5,1831.0 L1376.6,1830.3 L1376.7,1830.5 L1375.9,1831.1 L1376.0,1831.3 L1375.8,1831.4 L1376.0,1831.6 L1376.3,1831.4 L1376.4,1831.7 L1376.8,1831.4 L1377.0,1831.6 L1377.6,1831.2 L1377.8,1831.4 L1377.8,1831.4 L1377.9,1831.6 L1376.9,1832.2 L1377.1,1832.5 L1378.0,1831.9 L1378.1,1832.1 L1378.6,1831.8 L1378.7,1832.0 L1377.4,1832.9 L1377.5,1833.1 L1377.4,1833.2 L1377.6,1833.4 L1377.5,1833.4 L1377.6,1833.7 L1379.0,1832.8 L1379.1,1833.0 L1379.4,1832.9 L1379.6,1833.1 L1378.1,1834.0 L1378.2,1834.2 L1379.2,1833.6 L1379.3,1833.9 L1379.0,1834.0 L1379.2,1834.3 L1377.9,1835.0 L1378.0,1835.3 L1378.3,1835.1 L1378.4,1835.3 L1380.1,1834.3 L1380.2,1834.6 L1378.6,1835.5 L1378.8,1835.7 L1379.5,1835.3 L1379.6,1835.5 L1379.3,1835.7 L1379.4,1836.0 L1379.8,1835.7 L1379.9,1836.0 L1378.9,1836.5 L1379.1,1836.8 L1379.7,1836.4 L1379.9,1836.6 L1379.5,1836.8 L1379.7,1837.0 L1379.6,1837.1 L1379.7,1837.3 L1380.3,1836.9 L1380.5,1837.2 L1381.2,1836.8 L1381.3,1837.0 L1380.5,1837.4 L1380.6,1837.7 L1381.8,1837.0 L1381.9,1837.3 L1380.0,1838.3 L1380.1,1838.6 L1381.4,1837.9 L1381.5,1838.1 L1380.1,1838.9 L1380.2,1839.1 L1382.3,1838.0 L1382.4,1838.2 L1381.3,1838.8 L1381.5,1839.0 L1381.1,1839.2 L1381.2,1839.5 L1382.3,1838.9 L1382.4,1839.1 L1381.6,1839.5 L1381.8,1839.8 L1381.7,1839.8 L1381.8,1840.0 L1383.1,1839.3 L1383.3,1839.6 L1381.6,1840.4 L1381.8,1840.6 L1381.4,1840.8 L1381.5,1841.1 L1381.4,1841.1 L1381.5,1841.4 L1382.6,1840.8 L1382.7,1841.0 L1381.8,1841.5 L1382.0,1841.7 L1383.4,1841.0 L1383.5,1841.2 L1382.5,1841.7 L1382.6,1842.0 L1382.4,1842.1 L1382.5,1842.3 L1382.2,1842.5 L1382.3,1842.7 L1383.8,1842.0 L1383.9,1842.2 L1384.3,1842.0 L1384.5,1842.2 L1384.6,1842.2 L1384.7,1842.4 L1383.1,1843.2 L1383.2,1843.4 L1384.2,1842.9 L1384.3,1843.2 L1382.9,1843.9 L1383.0,1844.1 L1385.1,1843.1 L1385.2,1843.4 L1384.8,1843.5 L1384.9,1843.8 L1383.6,1844.4 L1383.7,1844.7 L1384.2,1844.4 L1384.3,1844.6 L1383.5,1845.0 L1383.7,1845.3 L1384.1,1845.1 L1384.2,1845.3 L1385.2,1844.8 L1385.3,1845.0 L1384.0,1845.7 L1384.1,1845.9 L1385.6,1845.2 L1385.7,1845.4 L1390.1,1843.4 L1390.2,1843.7 L1385.3,1845.9 L1385.4,1846.2 L1386.3,1845.8 L1386.4,1846.0 L1386.1,1846.1 L1386.3,1846.4 L1384.8,1847.0 L1384.9,1847.3 L1385.2,1847.1 L1385.3,1847.4 L1385.3,1847.4 L1385.4,1847.6 L1385.0,1847.8 L1385.2,1848.0 L1385.6,1847.8 L1385.7,1848.1 L1386.9,1847.5 L1387.0,1847.8 L1385.4,1848.5 L1385.5,1848.7 L1386.9,1848.1 L1387.0,1848.4 L1386.8,1848.4 L1386.9,1848.7 L1387.1,1848.6 L1387.2,1848.8 L1386.8,1849.0 L1386.9,1849.2 L1387.4,1849.1 L1387.5,1849.3 L1386.8,1849.6 L1386.9,1849.9 L1387.6,1849.6 L1387.7,1849.8 L1387.7,1849.8 L1387.8,1850.0 L1387.9,1850.0 L1388.0,1850.2 L1388.2,1850.2 L1388.3,1850.4 L1387.6,1850.7 L1387.7,1850.9 L1386.1,1851.6 L1386.2,1851.8 L1387.5,1851.3 L1387.6,1851.6 L1387.1,1851.8 L1387.2,1852.0 L1388.3,1851.6 L1388.4,1851.8 L1386.9,1852.4 L1387.0,1852.6 L1387.1,1852.6 L1387.2,1852.8 L1393.3,1850.5 L1393.4,1850.7 L1387.3,1853.1 L1387.3,1853.3 L1386.9,1853.5 L1387.0,1853.7 L1387.4,1853.6 L1387.5,1853.9 L1388.0,1853.7 L1388.1,1853.9 L1389.5,1853.4 L1389.6,1853.6 L1388.7,1853.9 L1388.8,1854.2 L1388.4,1854.3 L1388.5,1854.6 L1389.2,1854.3 L1389.3,1854.6 L1389.6,1854.4 L1389.7,1854.7 L1387.8,1855.4 L1387.9,1855.7 L1389.7,1855.0 L1389.8,1855.2 L1388.9,1855.6 L1389.0,1855.8 L1390.0,1855.4 L1390.1,1855.7 L1388.4,1856.3 L1388.5,1856.5 L1388.9,1856.4 L1389.0,1856.7 L1389.8,1856.4 L1389.9,1856.6 L1390.5,1856.4 L1390.5,1856.7 L1389.7,1856.9 L1389.8,1857.2 L1390.1,1857.1 L1390.2,1857.3 L1388.6,1857.9 L1388.7,1858.1 L1390.6,1857.5 L1390.6,1857.7 L1389.5,1858.1 L1389.5,1858.4 L1390.5,1858.1 L1390.6,1858.3 L1389.3,1858.8 L1389.3,1859.0 L1391.3,1858.4 L1391.4,1858.6 L1389.8,1859.1 L1389.9,1859.4 L1391.3,1858.9 L1391.4,1859.2 L1389.8,1859.7 L1389.9,1859.9 L1391.0,1859.6 L1391.1,1859.8 L1390.6,1860.0 L1390.7,1860.2 L1391.0,1860.1 L1391.1,1860.4 L1391.8,1860.2 L1391.9,1860.4 L1390.9,1860.7 L1390.9,1861.0 L1390.0,1861.3 L1390.0,1861.5 L1391.0,1861.2 L1391.1,1861.5 L1391.9,1861.2 L1392.0,1861.5 L1392.1,1861.5 L1392.2,1861.7 L1389.9,1862.4 L1389.9,1862.7 L1392.2,1862.0 L1392.3,1862.2 L1392.4,1862.2 L1392.5,1862.5 L1392.4,1862.5 L1392.5,1862.7 L1390.5,1863.3 L1390.5,1863.6 L1392.2,1863.1 L1392.3,1863.3 L1391.8,1863.5 L1391.9,1863.7 L1391.0,1864.0 L1391.1,1864.2 L1391.7,1864.1 L1391.8,1864.3 L1395.2,1863.4 L1395.2,1863.6 L1392.4,1864.4 L1392.4,1864.7 L1391.2,1865.0 L1391.3,1865.3 L1392.0,1865.1 L1392.1,1865.3 L1392.3,1865.3 L1392.4,1865.5 L1391.3,1865.8 L1391.4,1866.0 L1392.7,1865.7 L1392.8,1865.9 L1392.8,1866.0 L1392.8,1866.2 L1391.7,1866.5 L1391.8,1866.8 L1393.5,1866.3 L1393.5,1866.6 L1393.6,1866.6 L1393.6,1866.8 L1391.4,1867.4 L1391.5,1867.6 L1393.3,1867.2 L1393.4,1867.4 L1391.7,1867.9 L1391.7,1868.1 L1393.0,1867.8 L1393.1,1868.0 L1392.3,1868.2 L1392.4,1868.5 L1392.1,1868.6 L1392.2,1868.8 L1392.0,1868.9 L1392.0,1869.1 L1393.2,1868.8 L1393.3,1869.1 L1392.1,1869.4 L1392.1,1869.6 L1391.9,1869.7 L1392.0,1869.9 L1392.6,1869.8 L1392.7,1870.0 L1392.3,1870.1 L1392.4,1870.4 L1393.1,1870.2 L1393.1,1870.5 L1393.2,1870.5 L1393.3,1870.7 L1393.2,1870.7 L1393.3,1871.0 L1393.6,1870.9 L1393.7,1871.2 L1392.6,1871.4 L1392.6,1871.7 L1394.0,1871.4 L1394.1,1871.6 L1393.3,1871.8 L1393.3,1872.0 L1393.4,1872.0 L1393.5,1872.3 L1394.2,1872.1 L1394.2,1872.4 L1392.8,1872.7 L1392.8,1872.9 L1399.7,1871.6 L1399.8,1871.8 L1394.4,1872.9 L1394.5,1873.2 L1394.2,1873.2 L1394.3,1873.5 L1393.6,1873.6 L1393.7,1873.8 L1393.4,1873.9 L1393.5,1874.2 L1394.4,1874.0 L1394.5,1874.2 L1395.2,1874.1 L1395.3,1874.4 L1393.7,1874.6 L1393.8,1874.9 L1394.9,1874.7 L1395.0,1875.0 L1394.7,1875.0 L1394.7,1875.3 L1395.4,1875.1 L1395.5,1875.4 L1394.0,1875.7 L1394.1,1875.9 L1393.3,1876.0 L1393.4,1876.3 L1397.8,1875.5 L1397.8,1875.8 L1394.4,1876.4 L1394.4,1876.7 L1394.1,1876.7 L1394.1,1877.0 L1394.1,1877.0 L1394.2,1877.2 L1395.7,1877.0 L1395.7,1877.2 L1394.5,1877.4 L1394.6,1877.7 L1394.3,1877.7 L1394.4,1878.0 L1395.4,1877.8 L1395.5,1878.1 L1394.4,1878.3 L1394.4,1878.5 L1394.4,1878.5 L1394.4,1878.8 L1394.9,1878.7 L1394.9,1879.0 L1394.4,1879.1 L1394.4,1879.3 L1394.0,1879.4 L1394.0,1879.6 L1393.6,1879.7 L1393.7,1879.9 L1393.8,1879.9 L1393.8,1880.2 L1394.0,1880.2 L1394.1,1880.4 L1393.8,1880.5 L1393.9,1880.7 L1395.7,1880.5 L1395.7,1880.7 L1396.2,1880.7 L1396.2,1880.9 L1395.3,1881.1 L1395.3,1881.3 L1394.1,1881.5 L1394.1,1881.7 L1395.0,1881.6 L1395.0,1881.9 L1395.9,1881.8 L1395.9,1882.0 L1394.9,1882.2 L1395.0,1882.4 L1396.3,1882.3 L1396.3,1882.5 L1395.6,1882.6 L1395.6,1882.9 L1394.1,1883.0 L1394.1,1883.3 L1400.7,1882.6 L1400.8,1882.8 L1395.7,1883.4 L1395.8,1883.7 L1394.5,1883.8 L1394.5,1884.0 L1395.7,1883.9 L1395.8,1884.2 L1396.7,1884.1 L1396.8,1884.3 L1396.8,1884.3 L1396.8,1884.6 L1395.2,1884.8 L1395.3,1885.0 L1394.8,1885.1 L1394.9,1885.3 L1396.9,1885.1 L1396.9,1885.4 L1394.7,1885.6 L1394.8,1885.9 L1394.7,1885.9 L1394.7,1886.1 L1396.3,1886.0 L1396.3,1886.3 L1395.8,1886.3 L1395.8,1886.6 L1394.4,1886.7 L1394.5,1886.9 L1396.5,1886.8 L1396.5,1887.0 L1395.6,1887.1 L1395.6,1887.4 L1396.0,1887.3 L1396.1,1887.6 L1395.5,1887.6 L1395.5,1887.9 L1396.8,1887.8 L1396.8,1888.1 L1396.0,1888.1 L1396.0,1888.4 L1395.0,1888.5 L1395.0,1888.7 L1401.7,1888.3 L1401.7,1888.6 L1396.6,1888.9 L1396.7,1889.1 L1394.6,1889.3 L1394.6,1889.5 L1395.7,1889.5 L1395.7,1889.7 L1396.1,1889.7 L1396.1,1890.0 L1395.7,1890.0 L1395.7,1890.3 L1397.2,1890.2 L1397.2,1890.4 L1396.3,1890.5 L1396.3,1890.8 L1395.6,1890.8 L1395.7,1891.1 L1397.1,1891.0 L1397.1,1891.3 L1396.8,1891.3 L1396.8,1891.5 L1397.3,1891.5 L1397.3,1891.8 L1395.5,1891.8 L1395.5,1892.1 L1395.4,1892.1 L1395.4,1892.4 L1395.1,1892.4 L1395.1,1892.6 L1396.0,1892.6 L1396.0,1892.9 L1397.2,1892.8 L1397.2,1893.1 L1397.2,1893.1 L1397.2,1893.4 L1395.1,1893.4 L1395.1,1893.7 L1396.3,1893.7 L1396.3,1893.9 L1396.3,1893.9 L1396.3,1894.2 L1397.3,1894.2 L1397.3,1894.4 L1396.8,1894.4 L1396.8,1894.7 L1395.5,1894.7 L1395.5,1895.0 L1397.1,1895.0 L1397.1,1895.2 L1396.7,1895.2 L1396.7,1895.5 L1396.7,1895.5 L1396.7,1895.8 L1395.0,1895.8 L1395.0,1896.0 L1396.7,1896.0 L1396.7,1896.3 L1396.5,1896.3 L1396.5,1896.6 L1395.8,1896.6 L1395.8,1896.8 L1397.3,1896.8 L1397.3,1897.1 L1395.9,1897.1 L1395.9,1897.4 L1396.9,1897.4 L1396.9,1897.6 L1396.0,1897.6 L1396.0,1897.9 L1395.8,1897.9 L1395.8,1898.1 L1396.0,1898.1 L1396.0,1898.4 L1396.8,1898.4 L1396.8,1898.7 L1396.6,1898.7 L1396.6,1898.9 L1397.4,1899.0 L1397.4,1899.2 L1396.7,1899.2 L1396.7,1899.5 L1396.4,1899.5 L1396.4,1899.7 L1395.4,1899.7 L1395.4,1900.0 L1394.8,1899.9 L1394.8,1900.2 L1394.9,1900.2 L1394.9,1900.5 L1397.1,1900.5 L1397.1,1900.8 L1395.9,1900.8 L1395.9,1901.0 L1396.6,1901.1 L1396.6,1901.3 L1395.6,1901.3 L1395.6,1901.5 L1395.1,1901.5 L1395.1,1901.8 L1396.8,1901.9 L1396.8,1902.1 L1395.1,1902.0 L1395.1,1902.3 L1395.5,1902.3 L1395.5,1902.6 L1397.1,1902.7 L1397.1,1902.9 L1396.7,1902.9 L1396.7,1903.2 L1397.0,1903.2 L1397.0,1903.5 L1397.0,1903.5 L1397.0,1903.7 L1397.2,1903.7 L1397.1,1904.0 L1396.2,1903.9 L1396.2,1904.2 L1396.8,1904.3 L1396.8,1904.5 L1394.8,1904.4 L1394.7,1904.6 L1396.6,1904.8 L1396.6,1905.0 L1396.5,1905.0 L1396.4,1905.3 L1395.7,1905.2 L1395.7,1905.5 L1397.0,1905.6 L1397.0,1905.9 L1394.8,1905.7 L1394.8,1906.0 L1395.9,1906.0 L1395.8,1906.3 L1394.8,1906.2 L1394.8,1906.5 L1395.6,1906.5 L1395.6,1906.8 L1395.0,1906.8 L1395.0,1907.0 L1395.8,1907.1 L1395.8,1907.4 L1395.9,1907.4 L1395.8,1907.6 L1396.6,1907.7 L1396.6,1908.0 L1396.8,1908.0 L1396.8,1908.2 L1394.6,1908.0 L1394.5,1908.3 L1396.8,1908.5 L1396.7,1908.8 L1395.6,1908.7 L1395.6,1908.9 L1394.2,1908.8 L1394.2,1909.0 L1394.4,1909.1 L1394.4,1909.3 L1395.8,1909.5 L1395.7,1909.7 L1396.6,1909.8 L1396.5,1910.1 L1395.0,1909.9 L1394.9,1910.2 L1395.7,1910.3 L1395.6,1910.5 L1396.3,1910.6 L1396.2,1910.9 L1394.9,1910.7 L1394.9,1911.0 L1394.7,1910.9 L1394.7,1911.2 L1394.5,1911.2 L1394.5,1911.4 L1399.7,1912.1 L1399.7,1912.4 L1394.3,1911.7 L1394.3,1911.9 L1394.1,1911.9 L1394.0,1912.2 L1395.5,1912.4 L1395.5,1912.6 L1396.2,1912.7 L1396.1,1913.0 L1395.5,1912.9 L1395.4,1913.2 L1393.6,1912.9 L1393.6,1913.2 L1394.7,1913.3 L1394.7,1913.6 L1394.4,1913.5 L1394.3,1913.8 L1393.5,1913.7 L1393.5,1913.9 L1395.9,1914.3 L1395.8,1914.6 L1397.6,1914.8 L1397.6,1915.1 L1393.9,1914.5 L1393.8,1914.8 L1393.6,1914.8 L1393.6,1915.0 L1394.0,1915.1 L1394.0,1915.3 L1394.6,1915.4 L1394.6,1915.7 L1395.8,1915.9 L1395.8,1916.2 L1395.0,1916.0 L1395.0,1916.3 L1395.4,1916.4 L1395.3,1916.6 L1393.4,1916.3 L1393.4,1916.6 L1393.8,1916.6 L1393.7,1916.9 L1394.0,1916.9 L1393.9,1917.2 L1395.5,1917.5 L1395.5,1917.7 L1395.6,1917.7 L1395.5,1918.0 L1394.6,1917.8 L1394.6,1918.1 L1394.8,1918.1 L1394.7,1918.4 L1393.7,1918.2 L1393.7,1918.5 L1393.4,1918.4 L1393.4,1918.7 L1393.1,1918.6 L1393.1,1918.9 L1394.2,1919.1 L1394.2,1919.4 L1393.0,1919.1 L1393.0,1919.4 L1394.1,1919.6 L1394.0,1919.9 L1393.6,1919.8 L1393.5,1920.1 L1392.5,1919.8 L1392.4,1920.1 L1393.5,1920.3 L1393.5,1920.6 L1394.3,1920.8 L1394.3,1921.0 L1394.5,1921.0 L1394.4,1921.3 L1392.5,1920.9 L1392.4,1921.2 L1393.2,1921.3 L1393.1,1921.6 L1394.1,1921.8 L1394.1,1922.1 L1393.8,1922.0 L1393.8,1922.3 L1393.2,1922.1 L1393.2,1922.4 L1394.4,1922.7 L1394.3,1922.9 L1392.4,1922.5 L1392.3,1922.7 L1392.1,1922.7 L1392.0,1922.9 L1392.0,1922.9 L1392.0,1923.2 L1392.8,1923.4 L1392.8,1923.7 L1393.0,1923.7 L1393.0,1924.0 L1392.3,1923.8 L1392.2,1924.1 L1392.4,1924.1 L1392.3,1924.3 L1393.9,1924.7 L1393.8,1925.0 L1392.6,1924.7 L1392.5,1924.9 L1391.5,1924.7 L1391.4,1924.9 L1393.5,1925.5 L1393.5,1925.7 L1391.7,1925.3 L1391.6,1925.5 L1391.3,1925.5 L1391.3,1925.7 L1392.0,1925.9 L1391.9,1926.1 L1393.0,1926.4 L1392.9,1926.7 L1392.3,1926.5 L1392.3,1926.8 L1392.7,1926.9 L1392.6,1927.1 L1392.6,1927.1 L1392.5,1927.4 L1395.0,1928.0 L1394.9,1928.3 L1391.8,1927.5 L1391.7,1927.7 L1390.9,1927.5 L1390.8,1927.7 L1393.2,1928.4 L1393.1,1928.6 L1391.2,1928.1 L1391.2,1928.4 L1391.0,1928.3 L1391.0,1928.6 L1392.2,1928.9 L1392.1,1929.2 L1390.7,1928.8 L1390.7,1929.1 L1391.7,1929.3 L1391.6,1929.6 L1392.6,1929.9 L1392.5,1930.1 L1391.4,1929.8 L1391.3,1930.1 L1390.5,1929.8 L1390.5,1930.1 L1391.2,1930.3 L1391.2,1930.6 L1390.6,1930.4 L1390.6,1930.7 L1391.9,1931.1 L1391.8,1931.3 L1390.1,1930.8 L1390.0,1931.0 L1390.0,1931.0 L1389.9,1931.3 L1391.4,1931.7 L1391.3,1932.0 L1392.0,1932.2 L1392.0,1932.5 L1391.3,1932.3 L1391.2,1932.5 L1389.6,1932.0 L1389.6,1932.3 L1389.4,1932.2 L1389.3,1932.5 L1391.1,1933.0 L1391.0,1933.3 L1390.9,1933.2 L1390.8,1933.5 L1390.9,1933.5 L1390.8,1933.8 L1391.5,1934.0 L1391.4,1934.2 L1388.9,1933.4 L1388.8,1933.7 L1390.7,1934.3 L1390.6,1934.5 L1390.4,1934.5 L1390.3,1934.7 L1390.9,1934.9 L1390.8,1935.2 L1388.9,1934.5 L1388.8,1934.8 L1391.7,1935.7 L1391.6,1936.0 L1389.3,1935.2 L1389.2,1935.5 L1390.9,1936.0 L1390.8,1936.3 L1390.5,1936.2 L1390.5,1936.4 L1390.3,1936.4 L1390.3,1936.7 L1390.5,1936.8 L1390.4,1937.0 L1390.4,1937.0 L1390.3,1937.2 L1388.4,1936.6 L1388.3,1936.8 L1389.0,1937.1 L1388.9,1937.3 L1388.7,1937.2 L1388.6,1937.5 L1389.1,1937.7 L1389.0,1937.9 L1388.2,1937.6 L1388.1,1937.9 L1388.7,1938.1 L1388.6,1938.3 L1389.0,1938.5 L1388.9,1938.7 L1388.6,1938.6 L1388.5,1938.8 L1389.1,1939.1 L1389.0,1939.3 L1389.0,1939.3 L1389.0,1939.6 L1387.6,1939.1 L1387.5,1939.3 L1388.2,1939.6 L1388.1,1939.8 L1387.5,1939.6 L1387.4,1939.8 L1388.5,1940.2 L1388.4,1940.5 L1387.8,1940.3 L1387.7,1940.5 L1387.0,1940.2 L1386.9,1940.5 L1387.3,1940.6 L1387.2,1940.9 L1387.2,1940.9 L1387.1,1941.1 L1388.1,1941.5 L1388.0,1941.7 L1386.7,1941.2 L1386.6,1941.5 L1387.7,1941.9 L1387.6,1942.2 L1387.5,1942.1 L1387.4,1942.4 L1386.5,1942.0 L1386.4,1942.2 L1386.6,1942.3 L1386.5,1942.6 L1388.0,1943.2 L1387.9,1943.4 L1387.2,1943.1 L1387.1,1943.4 L1387.4,1943.5 L1387.3,1943.8 L1386.2,1943.3 L1386.1,1943.5 L1387.2,1944.0 L1387.1,1944.3 L1386.3,1943.9 L1386.2,1944.2 L1385.7,1943.9 L1385.6,1944.2 L1386.7,1944.6 L1386.6,1944.9 L1386.9,1945.0 L1386.8,1945.3 L1385.8,1944.8 L1385.7,1945.1 L1385.4,1944.9 L1385.3,1945.2 L1385.0,1945.0 L1384.8,1945.3 L1385.1,1945.4 L1385.0,1945.6 L1386.4,1946.3 L1386.3,1946.5 L1386.3,1946.5 L1386.2,1946.7 L1385.1,1946.3 L1385.0,1946.5 L1385.9,1946.9 L1385.8,1947.1 L1384.2,1946.4 L1384.0,1946.6 L1384.8,1947.0 L1384.7,1947.2 L1385.1,1947.4 L1385.0,1947.7 L1383.6,1947.0 L1383.5,1947.2 L1388.0,1949.4 L1387.9,1949.6 L1385.2,1948.3 L1385.1,1948.6 L1384.9,1948.5 L1384.7,1948.7 L1389.0,1950.7 L1388.9,1951.0 L1384.5,1948.9 L1384.3,1949.1 L1383.3,1948.6 L1383.2,1948.9 L1385.0,1949.7 L1384.8,1949.9 L1384.1,1949.5 L1383.9,1949.8 L1383.3,1949.5 L1383.2,1949.7 L1383.2,1949.7 L1383.1,1949.9 L1383.7,1950.3 L1383.6,1950.5 L1382.5,1949.9 L1382.4,1950.2 L1382.8,1950.4 L1382.7,1950.6 L1382.8,1950.7 L1382.7,1950.9 L1382.1,1950.6 L1382.0,1950.9 L1382.3,1951.0 L1382.2,1951.2 L1382.2,1951.2 L1382.1,1951.5 L1382.4,1951.6 L1382.3,1951.9 L1383.3,1952.4 L1383.1,1952.6 L1380.5,1951.3 A118.5,118.5 0 0 0 1360.4,1813.8 Z" fill="#555" stroke="#555" stroke-width="0.4"/>
<path d="M1392.0,1874.9L1413.0,1871.0M1391.9,1874.7L1402.0,1872.8M1393.8,1903.1L1411.1,1904.1M1393.9,1893.7L1406.7,1893.4M1393.9,1893.8L1411.4,1893.4M1383.7,1944.6L1395.2,1949.7" fill="none" stroke="#444" stroke-width="1"/>
<path d="M1504.3,1673.9 A319.2,319.2 0 0 1 1558.5,2044.1 L1540.3,2034.6 A298.7,298.7 0 0 0 1489.6,1688.2 Z" fill="#99991E" stroke="#555" stroke-width="0.7"/>
<path d="M1504.3,1673.9L1509.7,1668.6M1522.7,1694.5L1528.6,1689.7M1539.2,1716.7L1545.5,1712.4M1553.8,1740.1L1560.4,1736.4M1566.2,1764.8L1573.2,1761.7M1576.5,1790.4L1583.7,1787.9M1584.6,1816.9L1591.9,1815.0M1590.3,1843.9L1597.8,1842.6M1593.7,1871.3L1601.2,1870.7M1594.6,1898.9L1602.2,1899.0M1593.2,1926.5L1600.8,1927.2M1589.5,1953.9L1596.9,1955.2M1583.3,1980.8L1590.6,1982.8M1574.9,2007.1L1582.0,2009.7M1564.2,2032.6L1571.1,2035.8" stroke="#111" stroke-width="1.9" fill="none"/>
<path d="M1508.1,1677.9L1510.9,1675.3M1511.9,1682.0L1514.7,1679.4M1515.5,1686.1L1518.4,1683.6M1519.1,1690.3L1522.0,1687.8M1526.1,1698.8L1529.1,1696.5M1529.5,1703.2L1532.5,1700.9M1532.8,1707.6L1535.9,1705.4M1536.1,1712.1L1539.2,1709.9M1542.3,1721.3L1545.5,1719.2M1545.3,1725.9L1548.5,1723.9M1548.2,1730.6L1551.4,1728.6M1551.0,1735.4L1554.3,1733.4M1556.4,1745.0L1559.8,1743.2M1559.0,1749.9L1562.4,1748.1M1561.5,1754.8L1564.9,1753.1M1563.9,1759.8L1567.3,1758.2M1568.5,1769.8L1572.0,1768.3M1570.6,1774.9L1574.1,1773.5M1572.7,1780.1L1576.2,1778.7M1574.7,1785.2L1578.2,1783.9M1578.3,1795.7L1581.9,1794.5M1580.0,1800.9L1583.6,1799.8M1581.6,1806.2L1585.3,1805.1M1583.1,1811.5L1586.8,1810.5M1585.9,1822.2L1589.6,1821.3M1587.1,1827.6L1590.9,1826.8M1588.3,1833.0L1592.0,1832.3M1589.3,1838.4L1593.1,1837.7M1591.2,1849.3L1594.9,1848.8M1591.9,1854.8L1595.7,1854.3M1592.6,1860.3L1596.4,1859.9M1593.2,1865.8L1597.0,1865.4M1594.1,1876.8L1597.8,1876.6M1594.3,1882.3L1598.1,1882.2M1594.5,1887.9L1598.3,1887.8M1594.6,1893.4L1598.4,1893.3M1594.6,1904.4L1598.4,1904.5M1594.4,1910.0L1598.2,1910.1M1594.1,1915.5L1597.9,1915.7M1593.7,1921.0L1597.5,1921.3M1592.7,1932.0L1596.4,1932.4M1592.0,1937.5L1595.8,1938.0M1591.3,1943.0L1595.0,1943.5M1590.4,1948.4L1594.1,1949.0M1588.4,1959.3L1592.1,1960.0M1587.3,1964.7L1591.0,1965.5M1586.0,1970.1L1589.7,1971.0M1584.7,1975.4L1588.4,1976.4M1581.8,1986.1L1585.5,1987.2M1580.2,1991.4L1583.8,1992.5M1578.5,1996.7L1582.1,1997.9M1576.7,2001.9L1580.3,2003.1M1572.9,2012.3L1576.4,2013.6M1570.9,2017.4L1574.4,2018.8M1568.7,2022.5L1572.2,2024.0M1566.5,2027.5L1570.0,2029.1M1561.8,2037.5L1565.2,2039.2M1559.3,2042.5L1562.7,2044.2" stroke="#222" stroke-width="1.0" fill="none"/>
<text x="1512.80" y="1665.74" font-size="14" fill="#505050" transform="rotate(-44.200 1512.80 1665.74)" dominant-baseline="central">0</text>
<text x="1531.86" y="1687.12" font-size="14" fill="#505050" transform="rotate(-39.240 1531.86 1687.12)" dominant-baseline="central">500</text>
<text x="1549.00" y="1710.07" font-size="14" fill="#505050" transform="rotate(-34.280 1549.00 1710.07)" dominant-baseline="central">1000</text>
<text x="1564.10" y="1734.41" font-size="14" fill="#505050" transform="rotate(-29.320 1564.10 1734.41)" dominant-baseline="central">1500</text>
<text x="1577.03" y="1759.97" font-size="14" fill="#505050" transform="rotate(-24.360 1577.03 1759.97)" dominant-baseline="central">2000</text>
<text x="1587.71" y="1786.55" font-size="14" fill="#505050" transform="rotate(-19.400 1587.71 1786.55)" dominant-baseline="central">2500</text>
<text x="1596.04" y="1813.96" font-size="14" fill="#505050" transform="rotate(-14.440 1596.04 1813.96)" dominant-baseline="central">3000</text>
<text x="1601.98" y="1841.98" font-size="14" fill="#505050" transform="rotate(-9.480 1601.98 1841.98)" dominant-baseline="central">3500</text>
<text x="1605.47" y="1870.41" font-size="14" fill="#505050" transform="rotate(-4.520 1605.47 1870.41)" dominant-baseline="central">4000</text>
<text x="1606.49" y="1899.04" font-size="14" fill="#505050" transform="rotate(0.440 1606.49 1899.04)" dominant-baseline="central">4500</text>
<text x="1605.03" y="1927.65" font-size="14" fill="#505050" transform="rotate(5.400 1605.03 1927.65)" dominant-baseline="central">5000</text>
<text x="1601.10" y="1956.02" font-size="14" fill="#505050" transform="rotate(10.360 1601.10 1956.02)" dominant-baseline="central">5500</text>
<text x="1594.74" y="1983.95" font-size="14" fill="#505050" transform="rotate(15.320 1594.74 1983.95)" dominant-baseline="central">6000</text>
<text x="1585.98" y="2011.23" font-size="14" fill="#505050" transform="rotate(20.280 1585.98 2011.23)" dominant-baseline="central">6500</text>
<text x="1574.90" y="2037.64" font-size="14" fill="#505050" transform="rotate(25.240 1574.90 2037.64)" dominant-baseline="central">7000</text>
<text x="1563.43" y="1854.37" font-size="14.5" fill="#505050" text-anchor="middle" textLength="35.50" lengthAdjust="spacingAndGlyphs" transform="rotate(81.676 1563.43 1854.37)" dominant-baseline="central">Chr00</text>
<path d="M1509.0,2027.5 A267.8,267.8 0 0 1 1442.0,2106.2 L1420.7,2079.3 A233.5,233.5 0 0 0 1479.1,2010.7 Z" fill="#f3f3f3"/>
<path d="M1480.1,2011.3 A234.6,234.6 0 0 1 1421.4,2080.2 M1482.1,2012.4 A236.9,236.9 0 0 1 1422.8,2082.0 M1484.1,2013.5 A239.2,239.2 0 0 1 1424.2,2083.8 M1486.1,2014.6 A241.5,241.5 0 0 1 1425.6,2085.6 M1488.1,2015.8 A243.7,243.7 0 0 1 1427.0,2087.4 M1490.1,2016.9 A246.0,246.0 0 0 1 1428.5,2089.2 M1492.0,2018.0 A248.3,248.3 0 0 1 1429.9,2091.0 M1494.0,2019.1 A250.6,250.6 0 0 1 1431.3,2092.8 M1496.0,2020.2 A252.9,252.9 0 0 1 1432.7,2094.5 M1498.0,2021.4 A255.2,255.2 0 0 1 1434.2,2096.3 M1500.0,2022.5 A257.5,257.5 0 0 1 1435.6,2098.1 M1502.0,2023.6 A259.8,259.8 0 0 1 1437.0,2099.9 M1504.0,2024.7 A262.0,262.0 0 0 1 1438.4,2101.7 M1506.0,2025.8 A264.3,264.3 0 0 1 1439.8,2103.5 M1508.0,2027.0 A266.6,266.6 0 0 1 1441.3,2105.3" fill="none" stroke="#c6c6c6" stroke-width="0.85"/>
<path d="M1473.4,2007.5 A227.0,227.0 0 0 1 1416.6,2074.2 L1397.2,2049.8 A195.8,195.8 0 0 0 1446.2,1992.3 Z" fill="#dadada"/>
<path d="M1447.1,1992.8 A196.7,196.7 0 0 1 1397.8,2050.6 M1448.8,1993.7 A198.7,198.7 0 0 1 1399.0,2052.1 M1450.5,1994.7 A200.6,200.6 0 0 1 1400.2,2053.6 M1452.2,1995.6 A202.6,202.6 0 0 1 1401.5,2055.1 M1453.9,1996.6 A204.5,204.5 0 0 1 1402.7,2056.7 M1455.6,1997.5 A206.5,206.5 0 0 1 1403.9,2058.2 M1457.3,1998.5 A208.4,208.4 0 0 1 1405.1,2059.7 M1459.0,1999.4 A210.4,210.4 0 0 1 1406.3,2061.3 M1460.7,2000.4 A212.3,212.3 0 0 1 1407.5,2062.8 M1462.4,2001.3 A214.3,214.3 0 0 1 1408.7,2064.3 M1464.1,2002.3 A216.2,216.2 0 0 1 1409.9,2065.8 M1465.8,2003.3 A218.2,218.2 0 0 1 1411.2,2067.4 M1467.5,2004.2 A220.1,220.1 0 0 1 1412.4,2068.9 M1469.2,2005.2 A222.1,222.1 0 0 1 1413.6,2070.4 M1470.9,2006.1 A224.0,224.0 0 0 1 1414.8,2071.9 M1472.6,2007.1 A226.0,226.0 0 0 1 1416.0,2073.5" fill="none" stroke="#c6c6c6" stroke-width="0.7"/>
<path d="M1440.3,1988.9 A189.0,189.0 0 0 1 1393.0,2044.5 L1372.8,2019.0 A156.5,156.5 0 0 0 1411.9,1973.0 Z" fill="#f0f0f0"/>
<path d="M1438.1,1987.7 A186.5,186.5 0 0 1 1391.4,2042.5 M1413.2,1973.8 A158.0,158.0 0 0 1 1373.7,2020.2" fill="none" stroke="#c8c8c8" stroke-width="1.0"/>
<path d="M1408.4,1971.1 A152.5,152.5 0 0 1 1370.3,2015.9 L1349.1,1989.3 A118.5,118.5 0 0 0 1378.8,1954.4 Z" fill="#f1f1f1"/>
<path d="M1383.5,1957.1 A123.9,123.9 0 0 1 1352.5,1993.5 M1388.2,1959.7 A129.3,129.3 0 0 1 1355.9,1997.7 M1392.9,1962.4 A134.7,134.7 0 0 1 1359.2,2001.9 M1397.6,1965.0 A140.1,140.1 0 0 1 1362.6,2006.2 M1402.3,1967.7 A145.5,145.5 0 0 1 1365.9,2010.4 M1407.1,1970.3 A150.9,150.9 0 0 1 1369.3,2014.6" fill="none" stroke="#c9c9c9" stroke-width="1.0"/>
<path d="M1446.2,1992.3 L1459.9,2000.0 L1459.7,2000.4 L1458.0,1999.5 L1457.7,2000.0 L1459.2,2000.8 L1458.9,2001.2 L1453.7,1998.3 L1453.5,1998.7 L1456.6,2000.5 L1456.3,2001.0 L1458.0,2001.9 L1457.8,2002.4 L1450.4,1998.1 L1450.1,1998.6 L1453.8,2000.7 L1453.5,2001.1 L1452.6,2000.6 L1452.4,2001.0 L1455.3,2002.8 L1455.0,2003.2 L1453.5,2002.3 L1453.2,2002.8 L1451.3,2001.6 L1451.0,2002.1 L1450.5,2001.7 L1450.2,2002.1 L1455.1,2005.1 L1454.9,2005.6 L1452.6,2004.2 L1452.3,2004.6 L1453.9,2005.6 L1453.6,2006.0 L1453.2,2005.8 L1452.9,2006.2 L1450.2,2004.5 L1449.9,2005.0 L1452.0,2006.3 L1451.7,2006.7 L1452.0,2006.9 L1451.7,2007.3 L1462.0,2013.8 L1461.7,2014.2 L1462.3,2014.6 L1462.0,2015.1 L1447.4,2005.8 L1447.1,2006.3 L1448.3,2007.0 L1448.1,2007.5 L1446.6,2006.5 L1446.3,2007.0 L1446.3,2006.9 L1446.0,2007.3 L1450.8,2010.5 L1450.6,2010.9 L1447.3,2008.8 L1447.0,2009.2 L1446.5,2008.9 L1446.3,2009.3 L1444.2,2008.0 L1443.9,2008.4 L1449.5,2012.1 L1449.2,2012.5 L1443.8,2008.9 L1443.5,2009.3 L1444.3,2009.9 L1444.0,2010.3 L1446.2,2011.8 L1445.9,2012.2 L1447.7,2013.4 L1447.4,2013.9 L1448.0,2014.3 L1447.7,2014.7 L1445.3,2013.1 L1445.0,2013.5 L1446.3,2014.4 L1446.0,2014.8 L1442.8,2012.6 L1442.5,2013.0 L1442.0,2012.6 L1441.7,2013.0 L1445.5,2015.7 L1445.2,2016.1 L1445.4,2016.3 L1445.1,2016.7 L1444.4,2016.2 L1444.1,2016.6 L1440.1,2013.8 L1439.8,2014.2 L1442.1,2015.8 L1441.8,2016.2 L1439.6,2014.7 L1439.4,2015.1 L1444.0,2018.5 L1443.7,2018.9 L1441.7,2017.5 L1441.4,2017.9 L1441.7,2018.1 L1441.4,2018.5 L1438.1,2016.1 L1437.8,2016.5 L1437.3,2016.1 L1437.0,2016.5 L1448.6,2025.2 L1448.3,2025.6 L1437.6,2017.6 L1437.2,2018.0 L1440.6,2020.5 L1440.2,2020.9 L1436.9,2018.3 L1436.6,2018.7 L1436.9,2019.0 L1436.6,2019.4 L1438.1,2020.6 L1437.8,2021.0 L1436.5,2020.0 L1436.2,2020.4 L1434.3,2018.9 L1434.0,2019.3 L1434.1,2019.4 L1433.8,2019.8 L1436.9,2022.2 L1436.6,2022.6 L1436.8,2022.8 L1436.5,2023.2 L1433.8,2021.1 L1433.5,2021.5 L1435.4,2023.0 L1435.1,2023.4 L1439.9,2027.2 L1439.6,2027.6 L1433.1,2022.5 L1432.8,2022.9 L1436.0,2025.4 L1435.6,2025.8 L1433.4,2024.0 L1433.1,2024.4 L1434.9,2025.8 L1434.6,2026.2 L1432.9,2024.9 L1432.6,2025.3 L1433.8,2026.2 L1433.4,2026.6 L1434.0,2027.1 L1433.6,2027.5 L1430.6,2024.9 L1430.2,2025.3 L1431.3,2026.2 L1431.0,2026.6 L1430.0,2025.8 L1429.7,2026.2 L1428.7,2025.4 L1428.4,2025.7 L1431.4,2028.3 L1431.0,2028.6 L1429.1,2027.0 L1428.8,2027.4 L1429.9,2028.3 L1429.6,2028.7 L1430.2,2029.3 L1429.9,2029.7 L1428.2,2028.2 L1427.9,2028.6 L1428.2,2028.9 L1427.9,2029.3 L1429.6,2030.8 L1429.3,2031.2 L1428.5,2030.5 L1428.2,2030.9 L1425.8,2028.9 L1425.5,2029.2 L1425.6,2029.3 L1425.2,2029.7 L1426.9,2031.1 L1426.6,2031.5 L1426.2,2031.2 L1425.9,2031.6 L1424.7,2030.5 L1424.3,2030.9 L1423.8,2030.4 L1423.4,2030.7 L1425.1,2032.3 L1424.8,2032.6 L1423.7,2031.7 L1423.4,2032.1 L1425.3,2033.8 L1425.0,2034.2 L1424.7,2034.0 L1424.4,2034.3 L1423.6,2033.6 L1423.2,2034.0 L1424.5,2035.2 L1424.2,2035.5 L1421.6,2033.1 L1421.2,2033.5 L1421.0,2033.2 L1420.7,2033.6 L1421.9,2034.8 L1421.6,2035.2 L1423.1,2036.6 L1422.8,2037.0 L1421.3,2035.6 L1421.0,2036.0 L1420.0,2035.0 L1419.6,2035.4 L1422.5,2038.1 L1422.1,2038.5 L1421.2,2037.6 L1420.9,2038.0 L1419.5,2036.7 L1419.1,2037.0 L1420.9,2038.8 L1420.5,2039.1 L1418.4,2037.0 L1418.0,2037.4 L1418.2,2037.5 L1417.8,2037.9 L1419.0,2039.1 L1418.7,2039.4 L1420.7,2041.4 L1420.3,2041.8 L1418.2,2039.7 L1417.9,2040.1 L1418.7,2040.9 L1418.4,2041.3 L1417.6,2040.5 L1417.2,2040.8 L1419.5,2043.2 L1419.1,2043.5 L1417.6,2041.9 L1417.2,2042.3 L1415.5,2040.5 L1415.1,2040.9 L1414.9,2040.6 L1414.5,2041.0 L1418.3,2044.8 L1417.9,2045.2 L1415.1,2042.3 L1414.7,2042.6 L1416.9,2044.9 L1416.5,2045.3 L1413.4,2041.9 L1413.0,2042.3 L1416.6,2046.1 L1416.3,2046.5 L1413.3,2043.3 L1413.0,2043.7 L1415.7,2046.6 L1415.3,2047.0 L1423.3,2055.5 L1422.9,2055.9 L1412.4,2044.6 L1412.0,2044.9 L1414.9,2048.1 L1414.6,2048.4 L1414.1,2047.9 L1413.7,2048.2 L1410.9,2045.1 L1410.5,2045.5 L1412.0,2047.2 L1411.7,2047.5 L1409.8,2045.4 L1409.4,2045.8 L1410.9,2047.4 L1410.5,2047.8 L1410.7,2048.0 L1410.4,2048.4 L1411.1,2049.1 L1410.7,2049.5 L1410.2,2048.9 L1409.8,2049.3 L1411.6,2051.4 L1411.3,2051.7 L1410.7,2051.1 L1410.3,2051.4 L1409.7,2050.7 L1409.3,2051.0 L1408.1,2049.7 L1407.7,2050.0 L1410.7,2053.5 L1410.3,2053.8 L1407.1,2050.1 L1406.7,2050.4 L1406.8,2050.5 L1406.4,2050.8 L1409.7,2054.7 L1409.3,2055.0 L1407.5,2052.8 L1407.1,2053.2 L1408.0,2054.2 L1407.6,2054.6 L1412.2,2060.1 L1411.8,2060.4 L1406.3,2053.8 L1405.9,2054.2 L1404.5,2052.5 L1404.1,2052.8 L1407.5,2056.9 L1407.1,2057.2 L1406.0,2055.8 L1405.6,2056.2 L1403.2,2053.3 L1402.8,2053.6 L1402.1,2052.8 L1401.7,2053.1 L1403.6,2055.4 L1403.2,2055.8 L1404.0,2056.6 L1403.6,2057.0 L1401.3,2054.2 L1401.0,2054.5 L1397.2,2049.8 A195.8,195.8 0 0 0 1446.2,1992.3 Z" fill="#d7191c" stroke="#d7191c" stroke-width="0.25"/>
<path d="M1479.1,2010.7 L1482.2,2012.5 L1481.9,2013.0 L1480.3,2012.1 L1480.0,2012.6 L1479.4,2012.2 L1479.1,2012.7 L1479.6,2013.0 L1479.3,2013.5 L1478.9,2013.3 L1478.6,2013.8 L1479.3,2014.2 L1479.0,2014.7 L1478.7,2014.5 L1478.4,2015.1 L1478.5,2015.1 L1478.2,2015.6 L1477.6,2015.3 L1477.3,2015.8 L1477.6,2016.0 L1477.3,2016.5 L1477.0,2016.3 L1476.7,2016.8 L1476.9,2016.9 L1476.6,2017.4 L1476.7,2017.5 L1476.4,2018.0 L1476.3,2017.9 L1476.0,2018.4 L1476.2,2018.6 L1475.9,2019.1 L1475.9,2019.1 L1475.6,2019.6 L1475.3,2019.4 L1475.0,2019.9 L1474.9,2019.8 L1474.6,2020.3 L1475.0,2020.6 L1474.7,2021.1 L1474.7,2021.1 L1474.4,2021.6 L1473.9,2021.3 L1473.6,2021.8 L1474.3,2022.2 L1474.0,2022.7 L1473.2,2022.2 L1472.9,2022.7 L1473.5,2023.1 L1473.1,2023.6 L1473.3,2023.7 L1473.0,2024.2 L1472.6,2024.0 L1472.3,2024.5 L1472.0,2024.2 L1471.7,2024.7 L1472.0,2024.9 L1471.6,2025.4 L1472.1,2025.7 L1471.7,2026.2 L1471.3,2025.9 L1471.0,2026.4 L1473.5,2028.1 L1473.1,2028.5 L1470.9,2027.1 L1470.6,2027.5 L1470.5,2027.5 L1470.2,2028.0 L1469.7,2027.6 L1469.4,2028.1 L1470.2,2028.7 L1469.9,2029.2 L1469.5,2029.0 L1469.2,2029.5 L1469.6,2029.7 L1469.2,2030.2 L1469.3,2030.2 L1468.9,2030.7 L1468.6,2030.5 L1468.3,2031.0 L1467.7,2030.5 L1467.3,2031.0 L1467.7,2031.3 L1467.4,2031.8 L1467.2,2031.6 L1466.8,2032.1 L1467.5,2032.5 L1467.1,2033.0 L1466.5,2032.6 L1466.2,2033.1 L1465.9,2032.9 L1465.6,2033.4 L1465.9,2033.6 L1465.6,2034.1 L1465.9,2034.3 L1465.5,2034.8 L1465.0,2034.4 L1464.6,2034.9 L1464.9,2035.0 L1464.5,2035.5 L1464.5,2035.5 L1464.2,2036.0 L1464.1,2036.0 L1463.8,2036.4 L1463.7,2036.4 L1463.4,2036.9 L1463.6,2037.1 L1463.3,2037.5 L1463.4,2037.6 L1463.0,2038.1 L1462.9,2037.9 L1462.5,2038.4 L1463.0,2038.8 L1462.6,2039.3 L1462.5,2039.1 L1462.1,2039.6 L1461.9,2039.4 L1461.5,2039.9 L1463.1,2041.1 L1462.7,2041.6 L1461.3,2040.5 L1461.0,2040.9 L1461.0,2040.9 L1460.6,2041.4 L1460.3,2041.2 L1460.0,2041.6 L1460.2,2041.8 L1459.8,2042.3 L1460.0,2042.4 L1459.6,2042.9 L1459.5,2042.7 L1459.1,2043.2 L1458.9,2043.0 L1458.5,2043.5 L1459.0,2043.9 L1458.6,2044.4 L1458.4,2044.2 L1458.0,2044.6 L1458.0,2044.6 L1457.6,2045.1 L1457.9,2045.3 L1457.5,2045.8 L1457.3,2045.5 L1456.9,2046.0 L1456.6,2045.8 L1456.3,2046.2 L1456.0,2046.0 L1455.6,2046.5 L1455.8,2046.6 L1455.5,2047.1 L1455.2,2046.8 L1454.8,2047.3 L1455.4,2047.8 L1455.0,2048.2 L1454.9,2048.1 L1454.5,2048.6 L1454.3,2048.4 L1454.0,2048.9 L1454.4,2049.3 L1454.1,2049.8 L1453.5,2049.3 L1453.2,2049.8 L1453.8,2050.3 L1453.4,2050.7 L1452.6,2050.1 L1452.3,2050.5 L1452.3,2050.5 L1451.9,2051.0 L1452.5,2051.5 L1452.1,2052.0 L1451.7,2051.7 L1451.4,2052.1 L1451.4,2052.1 L1451.0,2052.6 L1451.0,2052.6 L1450.6,2053.0 L1450.9,2053.2 L1450.5,2053.7 L1450.0,2053.3 L1449.6,2053.7 L1449.5,2053.6 L1449.2,2054.1 L1449.8,2054.7 L1449.4,2055.1 L1449.0,2054.7 L1448.6,2055.1 L1448.7,2055.3 L1448.3,2055.7 L1447.9,2055.3 L1447.5,2055.7 L1447.7,2056.0 L1447.3,2056.4 L1447.5,2056.5 L1447.1,2057.0 L1447.0,2056.8 L1446.6,2057.3 L1446.3,2057.0 L1445.9,2057.4 L1446.0,2057.5 L1445.6,2057.9 L1448.7,2061.0 L1448.3,2061.4 L1445.6,2058.8 L1445.2,2059.3 L1445.1,2059.1 L1444.7,2059.6 L1444.9,2059.8 L1444.5,2060.2 L1443.9,2059.6 L1443.5,2060.0 L1444.1,2060.6 L1443.7,2061.1 L1443.2,2060.6 L1442.8,2061.0 L1442.6,2060.8 L1442.2,2061.2 L1442.8,2061.8 L1442.4,2062.2 L1442.0,2061.8 L1441.6,2062.3 L1441.4,2062.1 L1441.0,2062.6 L1443.3,2064.8 L1442.9,2065.3 L1442.3,2064.6 L1441.9,2065.1 L1440.7,2063.9 L1440.2,2064.3 L1439.8,2063.9 L1439.4,2064.3 L1439.6,2064.4 L1439.1,2064.8 L1439.2,2064.8 L1438.7,2065.2 L1438.8,2065.3 L1438.4,2065.8 L1438.5,2065.9 L1438.1,2066.3 L1437.6,2065.8 L1437.2,2066.2 L1437.6,2066.7 L1437.2,2067.1 L1436.8,2066.7 L1436.4,2067.1 L1436.8,2067.5 L1436.4,2067.9 L1436.1,2067.6 L1435.6,2068.0 L1438.5,2071.1 L1438.1,2071.5 L1435.6,2068.8 L1435.2,2069.2 L1434.9,2068.9 L1434.4,2069.3 L1434.1,2068.9 L1433.7,2069.3 L1434.3,2069.9 L1433.8,2070.3 L1433.3,2069.8 L1432.9,2070.2 L1432.9,2070.2 L1432.5,2070.6 L1432.7,2070.8 L1432.2,2071.2 L1432.4,2071.4 L1432.0,2071.8 L1431.5,2071.3 L1431.1,2071.7 L1434.0,2075.0 L1433.5,2075.4 L1430.9,2072.4 L1430.5,2072.8 L1433.2,2075.9 L1432.8,2076.3 L1430.4,2073.6 L1429.9,2074.0 L1429.7,2073.6 L1429.2,2074.0 L1429.1,2073.9 L1428.7,2074.3 L1428.7,2074.3 L1428.2,2074.7 L1428.7,2075.2 L1428.2,2075.6 L1427.8,2075.1 L1427.4,2075.5 L1427.4,2075.6 L1427.0,2075.9 L1426.7,2075.6 L1426.2,2076.0 L1426.7,2076.5 L1426.2,2076.8 L1426.0,2076.6 L1425.6,2077.0 L1425.3,2076.6 L1424.8,2077.0 L1425.2,2077.4 L1424.7,2077.8 L1425.0,2078.2 L1424.5,2078.5 L1424.4,2078.3 L1423.9,2078.7 L1423.9,2078.7 L1423.4,2079.0 L1423.0,2078.5 L1422.5,2078.9 L1423.2,2079.7 L1422.7,2080.1 L1422.4,2079.7 L1422.0,2080.0 L1422.1,2080.2 L1421.6,2080.5 L1420.7,2079.3 A233.5,233.5 0 0 0 1479.1,2010.7 Z" fill="#2e9a4d" stroke="#2e9a4d" stroke-width="0.6"/>
<path d="M1412.6,1973.4 A157.3,157.3 0 0 1 1373.3,2019.6" fill="none" stroke="#3a7dc4" stroke-width="1.4"/>
<path d="M1401.7,1989.0L1412.4,1996.8M1378.5,2014.2L1386.2,2022.9M1378.7,2014.0L1385.8,2022.2M1377.7,2014.9L1383.0,2021.1M1377.8,2014.8L1383.0,2020.8M1407.0,1981.2L1417.1,1987.7M1403.8,1986.0L1417.6,1995.6M1403.0,1987.1L1417.0,1997.0" fill="none" stroke="#3a7dc4" stroke-width="1.3"/>
<path d="M1378.8,1954.4 L1381.2,1955.8 L1381.1,1956.1 L1381.7,1956.4 L1381.5,1956.6 L1380.7,1956.1 L1380.6,1956.3 L1381.0,1956.6 L1380.9,1956.8 L1379.2,1955.9 L1379.1,1956.1 L1380.9,1957.2 L1380.8,1957.4 L1379.1,1956.4 L1378.9,1956.6 L1380.6,1957.6 L1380.4,1957.8 L1379.1,1957.0 L1379.0,1957.3 L1379.6,1957.6 L1379.4,1957.8 L1378.3,1957.2 L1378.2,1957.4 L1384.4,1961.1 L1384.3,1961.3 L1379.5,1958.5 L1379.4,1958.7 L1378.6,1958.2 L1378.4,1958.4 L1378.5,1958.5 L1378.4,1958.7 L1378.8,1959.0 L1378.6,1959.2 L1379.4,1959.7 L1379.3,1959.9 L1378.3,1959.3 L1378.2,1959.5 L1378.2,1959.6 L1378.1,1959.8 L1377.3,1959.3 L1377.1,1959.5 L1377.2,1959.5 L1377.1,1959.8 L1378.8,1960.8 L1378.6,1961.1 L1378.7,1961.1 L1378.5,1961.3 L1378.5,1961.3 L1378.3,1961.5 L1377.3,1960.8 L1377.2,1961.1 L1378.0,1961.6 L1377.9,1961.8 L1378.2,1962.1 L1378.1,1962.3 L1376.3,1961.1 L1376.2,1961.4 L1376.6,1961.7 L1376.5,1961.9 L1377.1,1962.3 L1377.0,1962.5 L1377.3,1962.7 L1377.1,1962.9 L1375.7,1962.0 L1375.6,1962.2 L1376.0,1962.5 L1375.9,1962.7 L1381.3,1966.3 L1381.2,1966.6 L1375.3,1962.7 L1375.2,1962.9 L1374.8,1962.6 L1374.6,1962.8 L1376.3,1963.9 L1376.1,1964.2 L1376.0,1964.1 L1375.8,1964.3 L1375.5,1964.1 L1375.4,1964.3 L1374.4,1963.6 L1374.2,1963.8 L1374.4,1964.0 L1374.3,1964.2 L1380.2,1968.3 L1380.1,1968.5 L1374.6,1964.7 L1374.5,1964.9 L1374.6,1965.0 L1374.4,1965.2 L1375.5,1966.0 L1375.4,1966.2 L1373.5,1964.9 L1373.4,1965.1 L1373.6,1965.3 L1373.4,1965.5 L1373.9,1965.9 L1373.8,1966.1 L1373.8,1966.1 L1373.7,1966.3 L1374.5,1966.9 L1374.4,1967.2 L1372.7,1965.9 L1372.5,1966.1 L1373.0,1966.5 L1372.9,1966.7 L1373.2,1966.9 L1373.0,1967.1 L1372.5,1966.7 L1372.3,1967.0 L1373.6,1967.9 L1373.5,1968.1 L1373.1,1967.9 L1373.0,1968.1 L1371.9,1967.3 L1371.7,1967.5 L1372.4,1968.0 L1372.3,1968.2 L1372.4,1968.3 L1372.2,1968.5 L1371.6,1968.1 L1371.5,1968.3 L1372.4,1969.0 L1372.2,1969.2 L1376.9,1972.7 L1376.7,1972.9 L1372.5,1969.7 L1372.3,1969.9 L1371.3,1969.1 L1371.1,1969.3 L1371.6,1969.7 L1371.4,1969.9 L1370.4,1969.1 L1370.2,1969.3 L1370.4,1969.4 L1370.2,1969.6 L1370.2,1969.6 L1370.0,1969.8 L1371.5,1970.9 L1371.3,1971.2 L1371.4,1971.2 L1371.3,1971.4 L1370.7,1971.0 L1370.5,1971.2 L1370.6,1971.2 L1370.4,1971.4 L1369.6,1970.8 L1369.5,1971.0 L1369.0,1970.6 L1368.8,1970.8 L1370.4,1972.1 L1370.3,1972.4 L1369.7,1971.9 L1369.6,1972.1 L1370.3,1972.7 L1370.1,1972.9 L1374.6,1976.6 L1374.5,1976.8 L1369.6,1972.9 L1369.5,1973.1 L1369.4,1973.0 L1369.2,1973.2 L1369.1,1973.1 L1368.9,1973.3 L1368.3,1972.8 L1368.1,1973.0 L1368.2,1973.1 L1368.0,1973.3 L1368.7,1973.8 L1368.5,1974.0 L1368.0,1973.6 L1367.8,1973.8 L1367.4,1973.4 L1367.2,1973.6 L1367.0,1973.4 L1366.8,1973.6 L1368.2,1974.7 L1368.0,1974.9 L1367.8,1974.8 L1367.6,1975.0 L1367.6,1974.9 L1367.4,1975.1 L1367.4,1975.1 L1367.2,1975.3 L1368.0,1976.0 L1367.8,1976.2 L1366.6,1975.1 L1366.4,1975.3 L1367.1,1975.9 L1366.9,1976.1 L1366.4,1975.7 L1366.3,1975.9 L1366.6,1976.2 L1366.4,1976.4 L1365.2,1975.3 L1365.0,1975.5 L1365.1,1975.5 L1364.9,1975.7 L1365.7,1976.5 L1365.6,1976.7 L1366.4,1977.4 L1366.2,1977.6 L1364.5,1976.1 L1364.4,1976.3 L1364.6,1976.5 L1364.4,1976.7 L1364.2,1976.5 L1364.1,1976.7 L1364.9,1977.5 L1364.7,1977.7 L1364.4,1977.4 L1364.2,1977.6 L1364.2,1977.5 L1364.0,1977.7 L1363.6,1977.4 L1363.4,1977.5 L1363.8,1977.9 L1363.6,1978.1 L1363.8,1978.3 L1363.6,1978.4 L1363.5,1978.4 L1363.4,1978.6 L1363.2,1978.4 L1363.0,1978.6 L1362.8,1978.4 L1362.6,1978.6 L1364.1,1980.0 L1364.0,1980.2 L1363.6,1979.9 L1363.4,1980.1 L1363.3,1980.0 L1363.1,1980.2 L1363.2,1980.3 L1363.0,1980.5 L1362.2,1979.6 L1362.0,1979.8 L1361.9,1979.7 L1361.7,1979.9 L1362.8,1980.9 L1362.6,1981.1 L1361.8,1980.3 L1361.6,1980.5 L1365.6,1984.4 L1365.4,1984.6 L1361.5,1980.8 L1361.3,1981.0 L1361.2,1980.9 L1361.0,1981.0 L1361.4,1981.4 L1361.2,1981.6 L1360.5,1980.9 L1360.3,1981.1 L1361.0,1981.8 L1360.8,1982.0 L1360.4,1981.6 L1360.2,1981.8 L1361.3,1982.8 L1361.1,1983.0 L1361.0,1982.9 L1360.8,1983.1 L1360.6,1982.9 L1360.4,1983.1 L1360.3,1983.0 L1360.1,1983.1 L1360.0,1983.1 L1359.8,1983.2 L1359.4,1982.8 L1359.3,1983.0 L1359.6,1983.3 L1359.4,1983.5 L1360.1,1984.3 L1359.9,1984.4 L1359.7,1984.3 L1359.5,1984.4 L1359.3,1984.2 L1359.1,1984.4 L1358.2,1983.5 L1358.0,1983.6 L1357.8,1983.3 L1357.6,1983.5 L1358.8,1984.8 L1358.6,1985.0 L1358.7,1985.1 L1358.5,1985.3 L1357.8,1984.6 L1357.6,1984.7 L1358.4,1985.6 L1358.2,1985.8 L1359.7,1987.4 L1359.5,1987.6 L1358.0,1985.9 L1357.8,1986.1 L1356.4,1984.6 L1356.2,1984.8 L1356.5,1985.1 L1356.3,1985.2 L1356.9,1985.8 L1356.7,1986.0 L1356.1,1985.4 L1355.9,1985.6 L1356.1,1985.8 L1356.0,1986.0 L1356.0,1986.1 L1355.8,1986.3 L1356.4,1986.9 L1356.2,1987.1 L1356.5,1987.4 L1356.3,1987.6 L1355.8,1987.0 L1355.6,1987.2 L1355.7,1987.3 L1355.5,1987.5 L1354.6,1986.5 L1354.4,1986.7 L1355.5,1987.8 L1355.3,1988.0 L1354.4,1987.1 L1354.2,1987.3 L1354.8,1987.9 L1354.6,1988.1 L1354.4,1987.8 L1354.2,1988.0 L1353.5,1987.2 L1353.3,1987.4 L1354.2,1988.4 L1354.0,1988.6 L1353.7,1988.3 L1353.5,1988.5 L1352.8,1987.6 L1352.6,1987.8 L1353.3,1988.6 L1353.1,1988.8 L1353.2,1988.8 L1353.0,1989.0 L1352.1,1988.0 L1351.9,1988.2 L1352.9,1989.4 L1352.7,1989.5 L1352.0,1988.6 L1351.8,1988.8 L1353.0,1990.3 L1352.8,1990.5 L1351.7,1989.1 L1351.5,1989.3 L1351.5,1989.2 L1351.3,1989.4 L1351.3,1989.4 L1351.1,1989.6 L1351.5,1990.2 L1351.3,1990.3 L1351.6,1990.7 L1351.4,1990.8 L1351.7,1991.2 L1351.5,1991.4 L1350.1,1989.7 L1349.9,1989.8 L1350.2,1990.2 L1350.0,1990.4 L1349.1,1989.3 A118.5,118.5 0 0 0 1378.8,1954.4 Z" fill="#555" stroke="#555" stroke-width="0.4"/>
<path d="M1373.9,1962.4L1391.7,1974.2M1377.4,1956.9L1389.7,1964.2" fill="none" stroke="#444" stroke-width="1"/>
<path d="M1553.8,2052.7 A319.2,319.2 0 0 1 1473.9,2146.4 L1461.2,2130.4 A298.7,298.7 0 0 0 1535.9,2042.6 Z" fill="#CC0000" stroke="#555" stroke-width="0.7"/>
<path d="M1553.8,2052.7L1560.4,2056.4M1539.3,2076.1L1545.6,2080.4M1522.7,2098.3L1528.6,2103.1M1504.4,2118.9L1509.8,2124.2M1484.3,2137.9L1489.3,2143.6" stroke="#111" stroke-width="1.9" fill="none"/>
<path d="M1551.1,2057.5L1554.4,2059.4M1548.2,2062.2L1551.5,2064.2M1545.3,2066.9L1548.5,2068.9M1542.3,2071.6L1545.5,2073.6M1536.1,2080.7L1539.2,2082.9M1532.9,2085.2L1536.0,2087.4M1529.6,2089.6L1532.6,2091.9M1526.2,2094.0L1529.2,2096.3M1519.2,2102.5L1522.1,2105.0M1515.6,2106.7L1518.5,2109.2M1511.9,2110.9L1514.8,2113.4M1508.2,2114.9L1511.0,2117.5M1500.5,2122.8L1503.2,2125.5M1496.5,2126.7L1499.2,2129.4M1492.5,2130.5L1495.1,2133.3M1488.4,2134.2L1491.0,2137.0M1480.1,2141.4L1482.5,2144.4M1475.8,2145.0L1478.2,2147.9" stroke="#222" stroke-width="1.0" fill="none"/>
<text x="1564.15" y="2058.49" font-size="14" fill="#505050" transform="rotate(29.300 1564.15 2058.49)" dominant-baseline="central">0</text>
<text x="1549.07" y="2082.84" font-size="14" fill="#505050" transform="rotate(34.260 1549.07 2082.84)" dominant-baseline="central">500</text>
<text x="1531.93" y="2105.79" font-size="14" fill="#505050" transform="rotate(39.220 1531.93 2105.79)" dominant-baseline="central">1000</text>
<text x="1512.88" y="2127.18" font-size="14" fill="#505050" transform="rotate(44.180 1512.88 2127.18)" dominant-baseline="central">1500</text>
<text x="1492.04" y="2146.84" font-size="14" fill="#505050" transform="rotate(49.140 1492.04 2146.84)" dominant-baseline="central">2000</text>
<text x="1498.17" y="2086.17" font-size="14.5" fill="#505050" text-anchor="middle" textLength="35.50" lengthAdjust="spacingAndGlyphs" transform="rotate(-49.575 1498.17 2086.17)" dominant-baseline="central">Chr11</text>
<path d="M1435.5,2111.2 A267.8,267.8 0 0 1 1343.2,2155.6 L1334.5,2122.4 A233.5,233.5 0 0 0 1415.0,2083.7 Z" fill="#f3f3f3"/>
<path d="M1415.7,2084.6 A234.6,234.6 0 0 1 1334.8,2123.5 M1417.1,2086.4 A236.9,236.9 0 0 1 1335.4,2125.7 M1418.4,2088.3 A239.2,239.2 0 0 1 1335.9,2127.9 M1419.8,2090.1 A241.5,241.5 0 0 1 1336.5,2130.1 M1421.2,2091.9 A243.7,243.7 0 0 1 1337.1,2132.3 M1422.5,2093.8 A246.0,246.0 0 0 1 1337.7,2134.5 M1423.9,2095.6 A248.3,248.3 0 0 1 1338.3,2136.7 M1425.2,2097.4 A250.6,250.6 0 0 1 1338.8,2139.0 M1426.6,2099.3 A252.9,252.9 0 0 1 1339.4,2141.2 M1428.0,2101.1 A255.2,255.2 0 0 1 1340.0,2143.4 M1429.3,2102.9 A257.5,257.5 0 0 1 1340.6,2145.6 M1430.7,2104.8 A259.8,259.8 0 0 1 1341.2,2147.8 M1432.1,2106.6 A262.0,262.0 0 0 1 1341.7,2150.0 M1433.4,2108.4 A264.3,264.3 0 0 1 1342.3,2152.2 M1434.8,2110.3 A266.6,266.6 0 0 1 1342.9,2154.4" fill="none" stroke="#c6c6c6" stroke-width="0.85"/>
<path d="M1411.1,2078.5 A227.0,227.0 0 0 1 1332.9,2116.1 L1325.0,2085.9 A195.8,195.8 0 0 0 1392.5,2053.4 Z" fill="#dadada"/>
<path d="M1393.1,2054.2 A196.7,196.7 0 0 1 1325.2,2086.8 M1394.2,2055.8 A198.7,198.7 0 0 1 1325.7,2088.7 M1395.4,2057.4 A200.6,200.6 0 0 1 1326.2,2090.6 M1396.5,2058.9 A202.6,202.6 0 0 1 1326.7,2092.5 M1397.7,2060.5 A204.5,204.5 0 0 1 1327.2,2094.4 M1398.9,2062.0 A206.5,206.5 0 0 1 1327.7,2096.3 M1400.0,2063.6 A208.4,208.4 0 0 1 1328.2,2098.2 M1401.2,2065.2 A210.4,210.4 0 0 1 1328.7,2100.0 M1402.4,2066.7 A212.3,212.3 0 0 1 1329.2,2101.9 M1403.5,2068.3 A214.3,214.3 0 0 1 1329.7,2103.8 M1404.7,2069.9 A216.2,216.2 0 0 1 1330.1,2105.7 M1405.9,2071.4 A218.2,218.2 0 0 1 1330.6,2107.6 M1407.0,2073.0 A220.1,220.1 0 0 1 1331.1,2109.5 M1408.2,2074.5 A222.1,222.1 0 0 1 1331.6,2111.4 M1409.4,2076.1 A224.0,224.0 0 0 1 1332.1,2113.2 M1410.5,2077.7 A226.0,226.0 0 0 1 1332.6,2115.1" fill="none" stroke="#c6c6c6" stroke-width="0.7"/>
<path d="M1388.4,2048.0 A189.0,189.0 0 0 1 1323.2,2079.3 L1315.0,2047.9 A156.5,156.5 0 0 0 1369.0,2021.9 Z" fill="#f0f0f0"/>
<path d="M1386.9,2046.0 A186.5,186.5 0 0 1 1322.6,2076.9 M1369.9,2023.1 A158.0,158.0 0 0 1 1315.4,2049.3" fill="none" stroke="#c8c8c8" stroke-width="1.0"/>
<path d="M1366.6,2018.7 A152.5,152.5 0 0 1 1314.0,2044.0 L1305.4,2011.1 A118.5,118.5 0 0 0 1346.3,1991.5 Z" fill="#f1f1f1"/>
<path d="M1349.5,1995.8 A123.9,123.9 0 0 1 1306.8,2016.3 M1352.7,2000.1 A129.3,129.3 0 0 1 1308.2,2021.6 M1356.0,2004.5 A134.7,134.7 0 0 1 1309.5,2026.8 M1359.2,2008.8 A140.1,140.1 0 0 1 1310.9,2032.0 M1362.4,2013.1 A145.5,145.5 0 0 1 1312.2,2037.2 M1365.6,2017.4 A150.9,150.9 0 0 1 1313.6,2042.5" fill="none" stroke="#c9c9c9" stroke-width="1.0"/>
<path d="M1392.5,2053.4 L1396.3,2058.6 L1395.9,2058.9 L1397.8,2061.5 L1397.4,2061.8 L1398.7,2063.5 L1398.2,2063.8 L1397.4,2062.7 L1397.0,2063.0 L1394.7,2059.8 L1394.3,2060.1 L1397.2,2064.1 L1396.8,2064.4 L1397.5,2065.5 L1397.1,2065.8 L1394.6,2062.3 L1394.2,2062.6 L1394.0,2062.3 L1393.6,2062.6 L1396.0,2066.0 L1395.6,2066.3 L1394.0,2064.1 L1393.6,2064.4 L1391.7,2061.7 L1391.3,2062.0 L1394.1,2066.1 L1393.7,2066.4 L1392.9,2065.2 L1392.5,2065.5 L1394.0,2067.8 L1393.6,2068.1 L1392.8,2066.9 L1392.4,2067.2 L1390.4,2064.3 L1390.0,2064.6 L1390.4,2065.1 L1389.9,2065.4 L1388.4,2063.1 L1388.0,2063.4 L1389.4,2065.5 L1389.0,2065.8 L1389.3,2066.3 L1388.9,2066.6 L1388.2,2065.5 L1387.7,2065.8 L1386.6,2064.0 L1386.2,2064.3 L1386.4,2064.6 L1386.0,2064.9 L1388.4,2068.6 L1387.9,2068.9 L1389.1,2070.7 L1388.7,2070.9 L1388.6,2070.8 L1388.1,2071.1 L1387.1,2069.5 L1386.7,2069.8 L1393.3,2080.1 L1392.9,2080.4 L1385.2,2068.4 L1384.7,2068.6 L1386.2,2070.9 L1385.7,2071.2 L1382.7,2066.4 L1382.3,2066.6 L1383.2,2068.1 L1382.7,2068.3 L1382.2,2067.5 L1381.8,2067.8 L1384.0,2071.3 L1383.6,2071.6 L1381.4,2068.0 L1380.9,2068.3 L1382.8,2071.3 L1382.3,2071.5 L1380.4,2068.4 L1380.0,2068.6 L1386.3,2079.1 L1385.9,2079.4 L1379.2,2068.4 L1378.8,2068.6 L1378.9,2068.9 L1378.5,2069.1 L1381.0,2073.3 L1380.6,2073.6 L1377.8,2069.0 L1377.4,2069.2 L1378.9,2071.7 L1378.4,2072.0 L1377.3,2070.0 L1376.8,2070.3 L1378.9,2073.9 L1378.5,2074.1 L1378.7,2074.5 L1378.3,2074.7 L1376.3,2071.3 L1375.8,2071.6 L1376.4,2072.6 L1376.0,2072.8 L1376.3,2073.4 L1375.9,2073.6 L1375.6,2073.2 L1375.2,2073.5 L1376.6,2076.0 L1376.2,2076.2 L1373.2,2071.0 L1372.8,2071.3 L1373.6,2072.8 L1373.2,2073.0 L1373.5,2073.5 L1373.0,2073.8 L1374.4,2076.3 L1374.0,2076.6 L1373.8,2076.3 L1373.4,2076.5 L1372.9,2075.7 L1372.5,2075.9 L1371.3,2073.7 L1370.8,2074.0 L1370.6,2073.4 L1370.1,2073.7 L1371.1,2075.6 L1370.7,2075.8 L1369.5,2073.6 L1369.1,2073.9 L1370.8,2077.1 L1370.3,2077.3 L1370.7,2078.0 L1370.2,2078.3 L1368.3,2074.5 L1367.8,2074.7 L1369.1,2077.2 L1368.7,2077.4 L1368.5,2077.0 L1368.0,2077.3 L1367.7,2076.6 L1367.2,2076.8 L1368.2,2078.7 L1367.7,2079.0 L1367.1,2077.7 L1366.6,2077.9 L1366.2,2077.1 L1365.8,2077.3 L1365.9,2077.7 L1365.5,2077.9 L1365.1,2077.2 L1364.7,2077.4 L1364.7,2077.4 L1364.2,2077.6 L1364.0,2077.2 L1363.6,2077.5 L1363.7,2077.7 L1363.3,2078.0 L1364.5,2080.5 L1364.0,2080.7 L1361.9,2076.2 L1361.4,2076.4 L1362.3,2078.2 L1361.8,2078.4 L1362.2,2079.3 L1361.8,2079.5 L1367.2,2091.1 L1366.7,2091.3 L1362.0,2081.3 L1361.6,2081.5 L1360.5,2079.3 L1360.1,2079.5 L1359.2,2077.6 L1358.8,2077.8 L1360.4,2081.3 L1359.9,2081.5 L1358.7,2078.9 L1358.2,2079.1 L1359.3,2081.5 L1358.9,2081.7 L1358.0,2079.8 L1357.6,2080.0 L1358.4,2081.8 L1357.9,2082.0 L1358.0,2082.3 L1357.5,2082.5 L1357.0,2081.3 L1356.6,2081.5 L1356.8,2082.0 L1356.3,2082.2 L1355.2,2079.6 L1354.7,2079.8 L1355.9,2082.5 L1355.4,2082.7 L1355.6,2083.0 L1355.1,2083.2 L1354.5,2081.8 L1354.0,2082.0 L1354.9,2084.1 L1354.4,2084.3 L1352.9,2080.5 L1352.4,2080.7 L1353.0,2082.2 L1352.6,2082.4 L1353.5,2084.8 L1353.1,2085.0 L1351.6,2081.3 L1351.1,2081.4 L1351.5,2082.5 L1351.1,2082.7 L1351.0,2082.6 L1350.6,2082.8 L1351.5,2085.1 L1351.0,2085.3 L1350.9,2084.9 L1350.4,2085.1 L1350.8,2086.2 L1350.4,2086.4 L1349.2,2083.5 L1348.7,2083.7 L1348.3,2082.6 L1347.9,2082.8 L1348.8,2085.3 L1348.4,2085.5 L1347.9,2084.2 L1347.4,2084.4 L1347.0,2083.3 L1346.5,2083.5 L1346.6,2083.7 L1346.1,2083.9 L1347.0,2086.2 L1346.5,2086.3 L1346.3,2085.9 L1345.9,2086.0 L1346.0,2086.4 L1345.5,2086.6 L1345.9,2087.6 L1345.4,2087.8 L1344.5,2085.2 L1344.0,2085.4 L1345.2,2088.7 L1344.7,2088.9 L1343.4,2085.2 L1343.0,2085.4 L1343.0,2085.5 L1342.5,2085.7 L1342.9,2086.6 L1342.4,2086.8 L1342.4,2086.9 L1341.9,2087.1 L1341.9,2087.0 L1341.5,2087.2 L1342.4,2089.9 L1341.9,2090.1 L1342.0,2090.3 L1341.5,2090.4 L1341.6,2090.8 L1341.1,2091.0 L1340.6,2089.5 L1340.1,2089.6 L1339.4,2087.4 L1338.9,2087.6 L1340.1,2091.0 L1339.6,2091.2 L1339.3,2090.2 L1338.8,2090.4 L1338.5,2089.5 L1338.0,2089.6 L1337.4,2087.7 L1336.9,2087.8 L1337.8,2090.8 L1337.4,2091.0 L1336.1,2087.1 L1335.6,2087.2 L1336.5,2089.8 L1336.0,2089.9 L1335.7,2089.0 L1335.2,2089.1 L1336.3,2092.5 L1335.8,2092.7 L1334.9,2089.8 L1334.4,2089.9 L1334.3,2089.7 L1333.8,2089.9 L1334.0,2090.3 L1333.5,2090.4 L1334.3,2093.2 L1333.8,2093.4 L1334.0,2094.1 L1333.5,2094.2 L1332.1,2089.4 L1331.6,2089.5 L1331.7,2089.9 L1331.3,2090.0 L1331.9,2092.4 L1331.5,2092.6 L1331.6,2093.0 L1331.1,2093.1 L1330.5,2091.0 L1330.0,2091.1 L1330.9,2094.5 L1330.4,2094.7 L1329.2,2090.0 L1328.7,2090.1 L1329.1,2091.6 L1328.6,2091.7 L1328.3,2090.8 L1327.9,2091.0 L1328.3,2092.6 L1327.8,2092.8 L1327.7,2092.4 L1327.2,2092.5 L1327.1,2091.9 L1326.6,2092.0 L1325.0,2085.9 A195.8,195.8 0 0 0 1392.5,2053.4 Z" fill="#d7191c" stroke="#d7191c" stroke-width="0.25"/>
<path d="M1415.0,2083.7 L1416.2,2085.3 L1415.7,2085.6 L1415.5,2085.3 L1415.0,2085.7 L1414.7,2085.3 L1414.3,2085.6 L1416.3,2088.5 L1415.9,2088.8 L1413.8,2086.0 L1413.4,2086.4 L1413.4,2086.5 L1413.0,2086.8 L1412.8,2086.6 L1412.3,2087.0 L1412.6,2087.3 L1412.1,2087.7 L1412.1,2087.6 L1411.6,2087.9 L1411.8,2088.3 L1411.3,2088.6 L1410.9,2087.9 L1410.4,2088.3 L1410.6,2088.6 L1410.1,2088.9 L1410.2,2089.0 L1409.7,2089.3 L1409.9,2089.6 L1409.4,2090.0 L1408.8,2089.1 L1408.4,2089.5 L1408.4,2089.4 L1407.9,2089.8 L1408.0,2089.9 L1407.5,2090.2 L1407.9,2090.9 L1407.4,2091.2 L1407.1,2090.7 L1406.6,2091.0 L1406.9,2091.4 L1406.4,2091.8 L1406.4,2091.8 L1405.9,2092.1 L1405.7,2091.8 L1405.2,2092.1 L1405.4,2092.4 L1404.9,2092.7 L1404.5,2092.2 L1404.1,2092.5 L1404.2,2092.8 L1403.7,2093.1 L1403.7,2093.1 L1403.2,2093.4 L1403.3,2093.6 L1402.9,2093.9 L1403.0,2094.1 L1402.5,2094.5 L1402.2,2094.0 L1401.7,2094.3 L1402.1,2094.8 L1401.6,2095.1 L1401.5,2095.0 L1401.0,2095.4 L1401.0,2095.4 L1400.5,2095.7 L1400.1,2095.0 L1399.6,2095.3 L1399.6,2095.3 L1399.1,2095.6 L1399.2,2095.8 L1398.7,2096.2 L1398.9,2096.4 L1398.4,2096.7 L1398.5,2096.9 L1398.0,2097.2 L1398.0,2097.3 L1397.5,2097.6 L1397.2,2097.1 L1396.7,2097.4 L1397.0,2097.8 L1396.5,2098.1 L1396.3,2097.7 L1395.8,2098.0 L1395.6,2097.8 L1395.1,2098.1 L1395.3,2098.4 L1394.8,2098.7 L1394.7,2098.6 L1394.2,2098.9 L1394.3,2099.1 L1393.8,2099.4 L1394.0,2099.8 L1393.5,2100.0 L1393.4,2099.9 L1392.9,2100.1 L1393.0,2100.3 L1392.5,2100.6 L1392.3,2100.3 L1391.8,2100.6 L1391.6,2100.3 L1391.1,2100.6 L1391.4,2101.1 L1390.9,2101.4 L1390.5,2100.7 L1390.0,2101.0 L1392.2,2104.8 L1391.6,2105.1 L1389.8,2101.7 L1389.2,2102.0 L1389.2,2102.0 L1388.7,2102.3 L1388.7,2102.3 L1388.2,2102.6 L1388.4,2103.0 L1387.9,2103.3 L1387.5,2102.4 L1387.0,2102.7 L1387.2,2103.2 L1386.7,2103.5 L1386.8,2103.6 L1386.2,2103.9 L1387.0,2105.4 L1386.5,2105.6 L1385.8,2104.2 L1385.2,2104.5 L1385.1,2104.2 L1384.6,2104.5 L1384.4,2104.1 L1383.9,2104.4 L1384.3,2105.2 L1383.7,2105.4 L1383.5,2104.9 L1383.0,2105.2 L1382.9,2105.0 L1382.4,2105.3 L1382.6,2105.9 L1382.1,2106.1 L1381.9,2105.6 L1381.3,2105.9 L1381.4,2106.1 L1380.9,2106.3 L1380.8,2106.2 L1380.3,2106.5 L1380.5,2106.8 L1380.0,2107.1 L1379.9,2106.9 L1379.4,2107.2 L1379.4,2107.2 L1378.8,2107.4 L1378.5,2106.9 L1378.0,2107.1 L1378.4,2107.9 L1377.9,2108.1 L1377.9,2108.3 L1377.4,2108.5 L1377.1,2108.0 L1376.6,2108.2 L1376.9,2108.8 L1376.3,2109.0 L1376.4,2109.2 L1375.9,2109.5 L1375.4,2108.4 L1374.9,2108.7 L1374.9,2108.7 L1374.4,2109.0 L1374.5,2109.2 L1373.9,2109.5 L1374.0,2109.6 L1373.5,2109.9 L1373.7,2110.4 L1373.2,2110.6 L1373.0,2110.2 L1372.5,2110.5 L1372.3,2110.2 L1371.8,2110.4 L1371.8,2110.5 L1371.3,2110.7 L1371.6,2111.4 L1371.1,2111.6 L1371.0,2111.5 L1370.5,2111.7 L1370.1,2110.9 L1369.6,2111.2 L1369.6,2111.2 L1369.0,2111.4 L1369.5,2112.4 L1368.9,2112.6 L1368.9,2112.6 L1368.4,2112.8 L1369.0,2114.2 L1368.4,2114.4 L1367.4,2112.0 L1366.9,2112.3 L1367.0,2112.5 L1366.4,2112.8 L1366.5,2113.1 L1366.0,2113.3 L1365.9,2113.0 L1365.3,2113.2 L1365.5,2113.6 L1365.0,2113.9 L1364.9,2113.6 L1364.3,2113.9 L1365.4,2116.4 L1364.8,2116.6 L1363.9,2114.2 L1363.3,2114.5 L1363.4,2114.7 L1362.9,2114.9 L1362.9,2114.9 L1362.3,2115.2 L1362.2,2114.7 L1361.6,2115.0 L1361.5,2114.7 L1361.0,2114.9 L1361.3,2115.7 L1360.7,2115.9 L1360.3,2114.9 L1359.8,2115.1 L1359.9,2115.4 L1359.4,2115.7 L1359.3,2115.4 L1358.7,2115.6 L1358.8,2115.9 L1358.3,2116.1 L1358.3,2116.1 L1357.7,2116.3 L1357.7,2116.1 L1357.1,2116.3 L1357.3,2116.8 L1356.7,2117.0 L1356.5,2116.4 L1356.0,2116.6 L1356.2,2117.3 L1355.7,2117.5 L1355.8,2117.8 L1355.2,2118.0 L1355.0,2117.3 L1354.4,2117.5 L1354.5,2117.7 L1353.9,2117.9 L1355.4,2122.0 L1354.8,2122.2 L1353.3,2117.8 L1352.7,2118.0 L1352.8,2118.1 L1352.2,2118.3 L1352.4,2118.9 L1351.9,2119.1 L1351.9,2119.1 L1351.3,2119.3 L1352.0,2121.2 L1351.4,2121.4 L1350.8,2119.5 L1350.2,2119.7 L1350.0,2119.0 L1349.4,2119.2 L1349.4,2119.1 L1348.8,2119.3 L1349.0,2119.7 L1348.4,2119.9 L1348.5,2120.2 L1348.0,2120.4 L1347.9,2120.2 L1347.3,2120.3 L1347.1,2119.7 L1346.6,2119.9 L1346.9,2120.9 L1346.3,2121.0 L1346.1,2120.4 L1345.6,2120.6 L1345.7,2121.2 L1345.2,2121.4 L1345.0,2120.9 L1344.5,2121.0 L1344.5,2121.0 L1343.9,2121.2 L1344.0,2121.4 L1343.4,2121.6 L1343.5,2121.7 L1342.9,2121.9 L1342.8,2121.6 L1342.2,2121.7 L1342.1,2121.3 L1341.5,2121.5 L1341.5,2121.3 L1340.9,2121.5 L1341.1,2122.1 L1340.5,2122.3 L1340.7,2122.7 L1340.1,2122.8 L1339.8,2122.0 L1339.3,2122.1 L1339.4,2122.6 L1338.9,2122.8 L1338.7,2122.1 L1338.1,2122.2 L1338.3,2123.1 L1337.8,2123.2 L1337.6,2122.7 L1337.0,2122.8 L1337.2,2123.5 L1336.7,2123.7 L1337.5,2126.9 L1337.0,2127.0 L1336.0,2123.5 L1335.5,2123.7 L1335.3,2123.0 L1334.7,2123.2 L1334.5,2122.4 A233.5,233.5 0 0 0 1415.0,2083.7 Z" fill="#2e9a4d" stroke="#2e9a4d" stroke-width="0.6"/>
<path d="M1369.5,2022.6 A157.3,157.3 0 0 1 1315.2,2048.6" fill="none" stroke="#3a7dc4" stroke-width="1.4"/>
<path d="M1338.6,2039.7L1345.6,2055.5M1337.4,2040.2L1341.9,2050.6M1357.5,2029.7L1365.3,2042.4M1356.7,2030.2L1363.2,2040.8M1360.5,2027.8L1367.0,2037.9M1359.3,2028.6L1363.8,2035.6M1363.5,2025.9L1368.8,2033.7M1363.3,2026.0L1369.9,2035.7M1362.2,2026.7L1369.1,2037.2M1344.7,2036.8L1349.6,2046.7" fill="none" stroke="#3a7dc4" stroke-width="1.3"/>
<path d="M1346.3,1991.5 L1347.1,1992.5 L1346.8,1992.7 L1347.4,1993.5 L1347.2,1993.6 L1347.9,1994.6 L1347.7,1994.7 L1346.6,1993.3 L1346.4,1993.4 L1346.9,1994.1 L1346.7,1994.3 L1346.1,1993.4 L1345.9,1993.6 L1347.1,1995.2 L1346.9,1995.4 L1346.8,1995.2 L1346.5,1995.4 L1346.1,1994.8 L1345.9,1994.9 L1345.2,1993.9 L1345.0,1994.1 L1346.2,1995.8 L1346.0,1996.0 L1344.9,1994.5 L1344.7,1994.6 L1345.4,1995.6 L1345.2,1995.7 L1345.4,1996.1 L1345.2,1996.3 L1343.8,1994.2 L1343.6,1994.4 L1343.6,1994.5 L1343.4,1994.6 L1343.4,1994.6 L1343.2,1994.8 L1344.1,1996.1 L1343.9,1996.2 L1344.2,1996.7 L1344.0,1996.9 L1344.2,1997.1 L1344.0,1997.3 L1343.4,1996.5 L1343.2,1996.7 L1342.7,1995.9 L1342.5,1996.0 L1342.1,1995.4 L1341.9,1995.6 L1342.3,1996.3 L1342.1,1996.4 L1342.4,1996.8 L1342.2,1997.0 L1341.9,1996.5 L1341.6,1996.7 L1342.4,1997.8 L1342.2,1998.0 L1342.1,1997.9 L1341.9,1998.1 L1341.5,1997.5 L1341.3,1997.6 L1341.2,1997.4 L1341.0,1997.6 L1341.7,1998.7 L1341.5,1998.8 L1341.2,1998.4 L1341.0,1998.5 L1340.1,1997.2 L1339.9,1997.3 L1340.9,1998.9 L1340.7,1999.0 L1340.4,1998.6 L1340.1,1998.7 L1339.6,1997.9 L1339.4,1998.0 L1341.6,2001.6 L1341.4,2001.7 L1339.3,1998.4 L1339.1,1998.5 L1340.0,1999.9 L1339.7,2000.1 L1341.1,2002.3 L1340.9,2002.5 L1338.3,1998.2 L1338.1,1998.4 L1339.0,2000.0 L1338.8,2000.1 L1338.8,2000.1 L1338.6,2000.2 L1337.5,1998.4 L1337.3,1998.5 L1338.4,2000.5 L1338.2,2000.6 L1337.7,1999.8 L1337.5,2000.0 L1338.0,2000.8 L1337.7,2000.9 L1340.7,2005.9 L1340.5,2006.0 L1336.9,2000.0 L1336.7,2000.1 L1337.2,2001.0 L1337.0,2001.2 L1337.2,2001.6 L1337.0,2001.7 L1336.9,2001.6 L1336.7,2001.7 L1335.5,1999.8 L1335.3,1999.9 L1335.5,2000.2 L1335.3,2000.4 L1335.4,2000.6 L1335.2,2000.8 L1334.8,2000.1 L1334.6,2000.2 L1334.7,2000.4 L1334.5,2000.5 L1335.0,2001.4 L1334.7,2001.5 L1334.8,2001.6 L1334.5,2001.7 L1334.3,2001.3 L1334.1,2001.4 L1334.6,2002.4 L1334.4,2002.5 L1334.6,2002.8 L1334.3,2003.0 L1334.3,2002.9 L1334.0,2003.0 L1333.7,2002.3 L1333.5,2002.5 L1333.4,2002.5 L1333.2,2002.6 L1332.6,2001.5 L1332.4,2001.6 L1332.4,2001.7 L1332.2,2001.8 L1332.9,2003.2 L1332.7,2003.3 L1332.6,2003.1 L1332.3,2003.2 L1332.5,2003.5 L1332.2,2003.6 L1332.1,2003.3 L1331.9,2003.5 L1331.8,2003.3 L1331.6,2003.5 L1331.2,2002.7 L1331.0,2002.9 L1331.7,2004.3 L1331.5,2004.4 L1331.6,2004.6 L1331.3,2004.7 L1330.5,2003.1 L1330.3,2003.2 L1330.0,2002.7 L1329.8,2002.8 L1330.4,2004.0 L1330.1,2004.1 L1330.6,2005.0 L1330.4,2005.1 L1330.0,2004.5 L1329.8,2004.6 L1330.0,2005.0 L1329.7,2005.1 L1328.8,2003.2 L1328.5,2003.3 L1329.5,2005.2 L1329.3,2005.3 L1328.4,2003.7 L1328.2,2003.8 L1328.9,2005.1 L1328.6,2005.2 L1327.9,2003.7 L1327.6,2003.8 L1327.6,2003.8 L1327.4,2003.9 L1327.8,2004.8 L1327.6,2004.9 L1327.1,2004.0 L1326.9,2004.1 L1327.2,2004.7 L1327.0,2004.8 L1327.2,2005.2 L1326.9,2005.3 L1329.6,2011.0 L1329.3,2011.1 L1327.0,2006.2 L1326.8,2006.3 L1326.0,2004.5 L1325.7,2004.7 L1326.8,2006.9 L1326.5,2007.0 L1325.7,2005.3 L1325.5,2005.4 L1326.3,2007.1 L1326.0,2007.2 L1325.6,2006.2 L1325.3,2006.3 L1324.9,2005.4 L1324.7,2005.5 L1325.2,2006.7 L1325.0,2006.8 L1325.0,2006.8 L1324.8,2007.0 L1324.5,2006.3 L1324.2,2006.4 L1323.8,2005.5 L1323.6,2005.7 L1324.5,2007.8 L1324.3,2007.9 L1323.4,2005.9 L1323.2,2006.0 L1323.3,2006.2 L1323.1,2006.4 L1323.1,2006.4 L1322.8,2006.5 L1323.5,2008.1 L1323.3,2008.2 L1322.8,2007.1 L1322.6,2007.2 L1322.4,2006.9 L1322.2,2007.0 L1322.6,2008.0 L1322.4,2008.1 L1322.1,2007.4 L1321.8,2007.5 L1322.3,2008.5 L1322.0,2008.6 L1321.3,2007.0 L1321.1,2007.1 L1321.6,2008.3 L1321.4,2008.4 L1321.2,2008.2 L1321.0,2008.3 L1321.2,2008.8 L1321.0,2008.9 L1320.8,2008.4 L1320.5,2008.5 L1320.2,2007.7 L1320.0,2007.8 L1319.8,2007.4 L1319.6,2007.5 L1320.4,2009.6 L1320.1,2009.7 L1319.3,2007.6 L1319.1,2007.7 L1319.6,2009.0 L1319.3,2009.1 L1318.8,2007.7 L1318.6,2007.8 L1319.1,2009.1 L1318.8,2009.2 L1318.4,2008.0 L1318.1,2008.1 L1318.3,2008.5 L1318.0,2008.6 L1318.3,2009.3 L1318.1,2009.4 L1318.5,2010.5 L1318.2,2010.6 L1317.7,2009.2 L1317.5,2009.3 L1317.9,2010.4 L1317.6,2010.5 L1317.5,2010.3 L1317.3,2010.4 L1317.2,2010.3 L1317.0,2010.4 L1317.2,2011.0 L1317.0,2011.1 L1316.8,2010.6 L1316.5,2010.6 L1316.4,2010.2 L1316.1,2010.2 L1315.8,2009.4 L1315.6,2009.5 L1315.5,2009.5 L1315.3,2009.5 L1315.5,2010.2 L1315.3,2010.3 L1315.5,2010.9 L1315.2,2010.9 L1315.5,2011.7 L1315.2,2011.8 L1315.1,2011.3 L1314.8,2011.4 L1314.7,2011.0 L1314.4,2011.1 L1314.7,2011.8 L1314.4,2011.9 L1315.4,2014.7 L1315.1,2014.8 L1313.8,2010.9 L1313.6,2011.0 L1313.2,2009.9 L1313.0,2010.0 L1312.9,2009.9 L1312.7,2010.0 L1313.0,2011.0 L1312.8,2011.0 L1312.8,2011.2 L1312.5,2011.3 L1312.5,2011.0 L1312.2,2011.1 L1311.9,2010.1 L1311.7,2010.2 L1312.4,2012.6 L1312.2,2012.7 L1311.7,2011.1 L1311.4,2011.2 L1311.7,2012.2 L1311.5,2012.3 L1312.0,2014.1 L1311.8,2014.1 L1310.8,2011.0 L1310.6,2011.1 L1310.7,2011.6 L1310.5,2011.6 L1310.9,2013.1 L1310.6,2013.2 L1310.3,2012.2 L1310.1,2012.2 L1310.1,2012.4 L1309.9,2012.5 L1310.0,2013.0 L1309.8,2013.0 L1309.2,2011.0 L1308.9,2011.1 L1309.3,2012.4 L1309.0,2012.4 L1308.7,2011.2 L1308.4,2011.3 L1308.7,2012.1 L1308.4,2012.2 L1308.3,2011.9 L1308.1,2012.0 L1308.2,2012.2 L1307.9,2012.3 L1308.3,2013.7 L1308.0,2013.7 L1307.6,2012.1 L1307.3,2012.2 L1307.8,2014.0 L1307.6,2014.1 L1307.0,2012.1 L1306.8,2012.2 L1306.7,2011.8 L1306.4,2011.9 L1306.9,2013.7 L1306.7,2013.8 L1306.7,2013.8 L1306.4,2013.9 L1306.5,2014.1 L1306.2,2014.2 L1305.4,2011.1 A118.5,118.5 0 0 0 1346.3,1991.5 Z" fill="#555" stroke="#555" stroke-width="0.4"/>
<path d="M1327.9,2002.7L1338.6,2024.5" fill="none" stroke="#444" stroke-width="1"/>
<path d="M1466.2,2152.4 A319.2,319.2 0 0 1 1356.2,2205.3 L1351.0,2185.4 A298.7,298.7 0 0 0 1454.0,2135.9 Z" fill="#FF0000" stroke="#555" stroke-width="0.7"/>
<path d="M1466.2,2152.4L1470.8,2158.5M1443.4,2167.9L1447.4,2174.4M1419.3,2181.4L1422.7,2188.2M1394.1,2192.8L1396.9,2199.8M1368.0,2201.9L1370.2,2209.2" stroke="#111" stroke-width="1.9" fill="none"/>
<path d="M1461.8,2155.6L1464.0,2158.7M1457.2,2158.8L1459.4,2162.0M1452.7,2161.9L1454.8,2165.1M1448.0,2165.0L1450.1,2168.2M1438.7,2170.8L1440.6,2174.0M1433.9,2173.6L1435.8,2176.9M1429.1,2176.3L1430.9,2179.6M1424.2,2178.9L1426.0,2182.2M1414.3,2183.9L1416.0,2187.3M1409.3,2186.2L1410.9,2189.7M1404.3,2188.5L1405.8,2192.0M1399.2,2190.7L1400.7,2194.2M1389.0,2194.8L1390.3,2198.3M1383.8,2196.7L1385.1,2200.3M1378.6,2198.5L1379.8,2202.1M1373.3,2200.3L1374.5,2203.9M1362.7,2203.5L1363.8,2207.1M1357.4,2205.0L1358.4,2208.6" stroke="#222" stroke-width="1.0" fill="none"/>
<text x="1473.31" y="2161.89" font-size="14" fill="#505050" transform="rotate(53.300 1473.31 2161.89)" dominant-baseline="central">0</text>
<text x="1449.63" y="2178.00" font-size="14" fill="#505050" transform="rotate(58.260 1449.63 2178.00)" dominant-baseline="central">500</text>
<text x="1424.64" y="2192.00" font-size="14" fill="#505050" transform="rotate(63.220 1424.64 2192.00)" dominant-baseline="central">1000</text>
<text x="1398.53" y="2203.79" font-size="14" fill="#505050" transform="rotate(68.180 1398.53 2203.79)" dominant-baseline="central">1500</text>
<text x="1371.50" y="2213.27" font-size="14" fill="#505050" transform="rotate(73.140 1371.50 2213.27)" dominant-baseline="central">2000</text>
<text x="1402.23" y="2160.12" font-size="14.5" fill="#505050" text-anchor="middle" textLength="35.50" lengthAdjust="spacingAndGlyphs" transform="rotate(-25.674 1402.23 2160.12)" dominant-baseline="central">Chr06</text>
<path d="M1335.2,2157.5 A267.8,267.8 0 0 1 1265.0,2164.0 L1266.3,2129.8 A233.5,233.5 0 0 0 1327.6,2124.1 Z" fill="#f3f3f3"/>
<path d="M1327.8,2125.2 A234.6,234.6 0 0 1 1266.3,2130.9 M1328.3,2127.4 A236.9,236.9 0 0 1 1266.2,2133.2 M1328.9,2129.6 A239.2,239.2 0 0 1 1266.1,2135.5 M1329.4,2131.9 A241.5,241.5 0 0 1 1266.0,2137.8 M1329.9,2134.1 A243.7,243.7 0 0 1 1265.9,2140.1 M1330.4,2136.3 A246.0,246.0 0 0 1 1265.8,2142.3 M1330.9,2138.5 A248.3,248.3 0 0 1 1265.7,2144.6 M1331.4,2140.8 A250.6,250.6 0 0 1 1265.6,2146.9 M1331.9,2143.0 A252.9,252.9 0 0 1 1265.5,2149.2 M1332.4,2145.2 A255.2,255.2 0 0 1 1265.4,2151.5 M1332.9,2147.5 A257.5,257.5 0 0 1 1265.4,2153.8 M1333.5,2149.7 A259.8,259.8 0 0 1 1265.3,2156.1 M1334.0,2151.9 A262.0,262.0 0 0 1 1265.2,2158.3 M1334.5,2154.2 A264.3,264.3 0 0 1 1265.1,2160.6 M1335.0,2156.4 A266.6,266.6 0 0 1 1265.0,2162.9" fill="none" stroke="#c6c6c6" stroke-width="0.85"/>
<path d="M1326.1,2117.7 A227.0,227.0 0 0 1 1266.6,2123.3 L1267.8,2092.1 A195.8,195.8 0 0 0 1319.2,2087.3 Z" fill="#dadada"/>
<path d="M1319.4,2088.3 A196.7,196.7 0 0 1 1267.7,2093.1 M1319.8,2090.2 A198.7,198.7 0 0 1 1267.7,2095.0 M1320.3,2092.1 A200.6,200.6 0 0 1 1267.6,2097.0 M1320.7,2094.0 A202.6,202.6 0 0 1 1267.5,2098.9 M1321.1,2095.9 A204.5,204.5 0 0 1 1267.4,2100.9 M1321.6,2097.8 A206.5,206.5 0 0 1 1267.4,2102.8 M1322.0,2099.7 A208.4,208.4 0 0 1 1267.3,2104.8 M1322.4,2101.6 A210.4,210.4 0 0 1 1267.2,2106.7 M1322.9,2103.5 A212.3,212.3 0 0 1 1267.1,2108.7 M1323.3,2105.4 A214.3,214.3 0 0 1 1267.0,2110.6 M1323.7,2107.3 A216.2,216.2 0 0 1 1267.0,2112.6 M1324.2,2109.2 A218.2,218.2 0 0 1 1266.9,2114.5 M1324.6,2111.1 A220.1,220.1 0 0 1 1266.8,2116.5 M1325.0,2113.0 A222.1,222.1 0 0 1 1266.7,2118.4 M1325.5,2114.9 A224.0,224.0 0 0 1 1266.7,2120.4 M1325.9,2116.8 A226.0,226.0 0 0 1 1266.6,2122.3" fill="none" stroke="#c6c6c6" stroke-width="0.7"/>
<path d="M1317.6,2080.7 A189.0,189.0 0 0 1 1268.0,2085.3 L1269.3,2052.8 A156.5,156.5 0 0 0 1310.4,2049.0 Z" fill="#f0f0f0"/>
<path d="M1317.1,2078.2 A186.5,186.5 0 0 1 1268.1,2082.8 M1310.7,2050.5 A158.0,158.0 0 0 1 1269.3,2054.3" fill="none" stroke="#c8c8c8" stroke-width="1.0"/>
<path d="M1309.5,2045.1 A152.5,152.5 0 0 1 1269.5,2048.8 L1270.8,2014.9 A118.5,118.5 0 0 0 1301.9,2012.0 Z" fill="#f1f1f1"/>
<path d="M1303.1,2017.2 A123.9,123.9 0 0 1 1270.6,2020.3 M1304.3,2022.5 A129.3,129.3 0 0 1 1270.4,2025.7 M1305.5,2027.8 A134.7,134.7 0 0 1 1270.2,2031.1 M1306.7,2033.0 A140.1,140.1 0 0 1 1270.0,2036.4 M1307.9,2038.3 A145.5,145.5 0 0 1 1269.7,2041.8 M1309.1,2043.5 A150.9,150.9 0 0 1 1269.5,2047.2" fill="none" stroke="#c9c9c9" stroke-width="1.0"/>
<path d="M1319.2,2087.3 L1320.8,2094.6 L1320.3,2094.7 L1319.9,2092.6 L1319.4,2092.7 L1319.2,2092.1 L1318.7,2092.2 L1319.9,2097.2 L1319.4,2097.3 L1319.3,2097.2 L1318.8,2097.3 L1318.3,2095.0 L1317.8,2095.1 L1317.3,2092.8 L1316.8,2092.9 L1317.9,2097.8 L1317.4,2097.9 L1316.8,2095.3 L1316.4,2095.4 L1316.8,2097.5 L1316.3,2097.6 L1315.9,2096.0 L1315.4,2096.1 L1315.8,2097.7 L1315.3,2097.8 L1314.5,2094.0 L1314.0,2094.1 L1314.3,2095.7 L1313.8,2095.8 L1313.8,2095.4 L1313.3,2095.5 L1312.9,2093.6 L1312.4,2093.7 L1312.8,2096.0 L1312.4,2096.1 L1312.7,2097.8 L1312.2,2097.9 L1312.2,2098.3 L1311.7,2098.4 L1310.9,2093.5 L1310.4,2093.6 L1310.7,2095.7 L1310.2,2095.8 L1310.5,2097.4 L1310.0,2097.5 L1309.4,2094.1 L1308.9,2094.2 L1309.7,2098.8 L1309.2,2098.9 L1308.7,2095.9 L1308.2,2096.0 L1308.2,2096.0 L1307.7,2096.1 L1308.0,2097.9 L1307.5,2098.0 L1307.1,2095.1 L1306.6,2095.2 L1306.3,2093.7 L1305.8,2093.8 L1305.9,2094.2 L1305.4,2094.3 L1305.7,2096.1 L1305.2,2096.1 L1305.0,2095.0 L1304.5,2095.1 L1304.5,2095.1 L1304.0,2095.2 L1303.9,2094.4 L1303.4,2094.5 L1303.7,2096.0 L1303.2,2096.1 L1303.1,2095.9 L1302.6,2096.0 L1302.4,2094.3 L1301.9,2094.3 L1302.2,2096.9 L1301.7,2097.0 L1301.8,2097.2 L1301.3,2097.2 L1301.1,2095.9 L1300.6,2096.0 L1300.8,2097.8 L1300.3,2097.9 L1300.0,2094.8 L1299.5,2094.9 L1299.6,2095.7 L1299.1,2095.7 L1299.5,2099.3 L1299.0,2099.3 L1298.9,2098.7 L1298.4,2098.8 L1298.4,2098.4 L1297.9,2098.5 L1297.7,2096.8 L1297.2,2096.9 L1297.2,2097.5 L1296.7,2097.5 L1296.5,2095.6 L1296.0,2095.7 L1296.2,2097.6 L1295.7,2097.6 L1296.3,2103.4 L1295.8,2103.4 L1295.4,2099.3 L1294.9,2099.4 L1294.6,2095.9 L1294.1,2096.0 L1294.0,2095.2 L1293.5,2095.3 L1293.8,2099.0 L1293.3,2099.1 L1294.1,2108.3 L1293.6,2108.3 L1292.7,2097.8 L1292.2,2097.8 L1292.2,2097.3 L1291.7,2097.4 L1291.5,2096.0 L1291.1,2096.0 L1291.0,2095.3 L1290.5,2095.4 L1290.6,2096.2 L1290.1,2096.2 L1290.2,2097.6 L1289.7,2097.7 L1289.8,2099.7 L1289.3,2099.7 L1289.1,2096.2 L1288.6,2096.3 L1288.8,2099.2 L1288.3,2099.3 L1288.1,2097.2 L1287.6,2097.3 L1287.8,2099.9 L1287.3,2100.0 L1287.1,2096.1 L1286.6,2096.1 L1286.6,2096.8 L1286.1,2096.8 L1286.7,2108.0 L1286.2,2108.0 L1285.6,2096.8 L1285.1,2096.8 L1285.2,2099.3 L1284.7,2099.3 L1284.7,2098.4 L1284.2,2098.4 L1284.1,2096.6 L1283.6,2096.6 L1283.6,2097.9 L1283.1,2098.0 L1283.2,2099.1 L1282.7,2099.1 L1282.6,2097.1 L1282.1,2097.2 L1282.2,2099.5 L1281.7,2099.5 L1281.7,2100.0 L1281.2,2100.0 L1281.1,2095.8 L1280.6,2095.8 L1280.6,2095.6 L1280.1,2095.6 L1280.1,2098.8 L1279.6,2098.9 L1279.6,2097.7 L1279.1,2097.7 L1279.1,2096.4 L1278.6,2096.4 L1278.6,2099.5 L1278.1,2099.5 L1278.1,2098.6 L1277.6,2098.6 L1277.6,2096.8 L1277.1,2096.8 L1277.1,2095.9 L1276.6,2095.9 L1276.6,2098.6 L1276.1,2098.6 L1276.1,2098.6 L1275.6,2098.6 L1275.6,2098.2 L1275.1,2098.2 L1275.1,2097.3 L1274.6,2097.3 L1274.6,2100.7 L1274.1,2100.7 L1274.1,2095.9 L1273.6,2095.8 L1273.6,2096.9 L1273.1,2096.9 L1273.1,2098.6 L1272.6,2098.6 L1272.5,2100.8 L1272.0,2100.8 L1272.1,2096.4 L1271.6,2096.4 L1271.5,2099.7 L1271.0,2099.7 L1271.0,2099.4 L1270.5,2099.4 L1270.6,2096.1 L1270.1,2096.1 L1270.0,2100.5 L1269.5,2100.5 L1269.6,2096.2 L1269.1,2096.2 L1269.0,2100.9 L1268.5,2100.9 L1268.6,2096.9 L1268.1,2096.9 L1267.9,2101.1 L1267.4,2101.1 L1267.8,2092.1 A195.8,195.8 0 0 0 1319.2,2087.3 Z" fill="#d7191c" stroke="#d7191c" stroke-width="0.25"/>
<path d="M1327.6,2124.1 L1327.9,2125.6 L1327.4,2125.7 L1327.2,2125.1 L1326.6,2125.2 L1326.8,2126.0 L1326.3,2126.2 L1326.1,2125.4 L1325.5,2125.5 L1325.9,2127.2 L1325.3,2127.4 L1325.1,2126.1 L1324.5,2126.3 L1324.5,2126.3 L1323.9,2126.4 L1323.8,2125.8 L1323.2,2126.0 L1323.2,2126.1 L1322.7,2126.2 L1322.7,2126.1 L1322.1,2126.3 L1322.1,2126.1 L1321.5,2126.2 L1321.6,2127.0 L1321.1,2127.1 L1321.1,2127.2 L1320.5,2127.3 L1320.5,2127.4 L1320.0,2127.6 L1320.0,2127.6 L1319.4,2127.7 L1319.2,2126.7 L1318.6,2126.8 L1318.6,2127.0 L1318.1,2127.1 L1318.2,2127.5 L1317.6,2127.6 L1317.6,2127.5 L1317.0,2127.6 L1317.0,2127.8 L1316.4,2127.9 L1316.4,2127.7 L1315.8,2127.8 L1315.8,2127.8 L1315.2,2127.9 L1315.2,2127.6 L1314.6,2127.7 L1314.7,2128.0 L1314.1,2128.1 L1314.0,2127.6 L1313.4,2127.7 L1313.6,2128.8 L1313.0,2128.9 L1313.0,2128.7 L1312.4,2128.8 L1312.3,2127.9 L1311.7,2128.0 L1311.9,2129.0 L1311.3,2129.1 L1311.1,2128.1 L1310.6,2128.2 L1310.7,2128.8 L1310.1,2128.9 L1310.1,2129.0 L1309.5,2129.1 L1309.4,2128.5 L1308.8,2128.6 L1308.8,2128.5 L1308.3,2128.6 L1308.4,2129.5 L1307.8,2129.5 L1307.7,2129.1 L1307.2,2129.2 L1307.2,2129.2 L1306.6,2129.3 L1306.9,2131.6 L1306.3,2131.7 L1305.9,2128.8 L1305.3,2128.9 L1305.5,2129.9 L1304.9,2130.0 L1304.8,2129.1 L1304.2,2129.2 L1304.2,2129.3 L1303.6,2129.4 L1303.7,2129.8 L1303.1,2129.9 L1303.1,2130.0 L1302.5,2130.1 L1302.5,2130.2 L1302.0,2130.3 L1302.0,2130.2 L1301.4,2130.2 L1301.3,2129.6 L1300.7,2129.7 L1300.7,2129.8 L1300.2,2129.9 L1300.2,2130.5 L1299.6,2130.6 L1299.6,2130.1 L1299.0,2130.2 L1299.1,2130.6 L1298.5,2130.7 L1298.4,2130.1 L1297.8,2130.1 L1297.8,2130.3 L1297.3,2130.4 L1297.2,2130.1 L1296.6,2130.1 L1296.7,2130.6 L1296.1,2130.7 L1296.1,2131.0 L1295.6,2131.0 L1295.6,2131.1 L1295.0,2131.1 L1294.9,2130.6 L1294.3,2130.6 L1294.3,2130.4 L1293.7,2130.5 L1293.8,2130.6 L1293.2,2130.7 L1293.2,2131.0 L1292.6,2131.0 L1292.6,2130.5 L1292.0,2130.5 L1292.0,2130.2 L1291.4,2130.3 L1291.4,2131.2 L1290.9,2131.3 L1290.9,2131.4 L1290.3,2131.4 L1290.2,2130.8 L1289.7,2130.8 L1289.7,2131.1 L1289.1,2131.1 L1289.1,2131.4 L1288.5,2131.4 L1288.7,2134.8 L1288.1,2134.8 L1287.9,2131.2 L1287.3,2131.2 L1287.3,2130.5 L1286.7,2130.6 L1286.8,2131.6 L1286.2,2131.6 L1286.2,2131.1 L1285.6,2131.1 L1285.6,2130.8 L1285.0,2130.8 L1285.0,2130.6 L1284.4,2130.7 L1284.4,2131.5 L1283.8,2131.5 L1283.8,2131.5 L1283.2,2131.5 L1283.2,2131.6 L1282.7,2131.6 L1282.7,2131.8 L1282.1,2131.8 L1282.1,2131.3 L1281.5,2131.3 L1281.5,2131.6 L1280.9,2131.7 L1280.9,2131.5 L1280.3,2131.5 L1280.3,2131.1 L1279.7,2131.1 L1279.7,2131.7 L1279.1,2131.8 L1279.1,2131.1 L1278.5,2131.1 L1278.5,2130.8 L1278.0,2130.8 L1278.0,2131.1 L1277.4,2131.1 L1277.4,2131.9 L1276.8,2131.9 L1276.8,2131.2 L1276.2,2131.2 L1276.2,2131.4 L1275.6,2131.4 L1275.6,2131.3 L1275.0,2131.3 L1275.0,2131.9 L1274.4,2131.9 L1274.4,2131.4 L1273.9,2131.4 L1273.9,2130.9 L1273.3,2130.9 L1273.3,2131.4 L1272.7,2131.3 L1272.7,2131.3 L1272.1,2131.2 L1272.1,2131.9 L1271.5,2131.8 L1271.5,2134.7 L1270.9,2134.7 L1270.9,2130.9 L1270.4,2130.9 L1270.3,2131.2 L1269.8,2131.2 L1269.8,2131.2 L1269.2,2131.2 L1269.2,2131.2 L1268.6,2131.1 L1268.6,2131.0 L1268.0,2131.0 L1268.0,2130.9 L1267.4,2130.8 L1267.4,2131.3 L1266.8,2131.3 L1266.7,2134.7 L1266.1,2134.6 L1266.3,2129.8 A233.5,233.5 0 0 0 1327.6,2124.1 Z" fill="#2e9a4d" stroke="#2e9a4d" stroke-width="0.6"/>
<path d="M1310.6,2049.8 A157.3,157.3 0 0 1 1269.3,2053.6" fill="none" stroke="#3a7dc4" stroke-width="1.4"/>
<path d="M1273.0,2052.9L1272.9,2062.3M1271.9,2052.9L1271.7,2059.8M1283.3,2052.8L1283.9,2064.8M1282.2,2052.8L1282.7,2063.4M1281.3,2052.8L1281.7,2062.1M1280.7,2052.9L1280.9,2059.1M1302.4,2050.6L1304.4,2062.1M1300.9,2050.9L1302.3,2059.1M1300.0,2051.0L1301.0,2057.4" fill="none" stroke="#3a7dc4" stroke-width="1.3"/>
<path d="M1301.9,2012.0 L1302.4,2014.3 L1302.2,2014.3 L1302.3,2014.9 L1302.1,2015.0 L1301.8,2014.0 L1301.6,2014.0 L1301.7,2014.6 L1301.5,2014.7 L1301.1,2013.2 L1300.9,2013.3 L1301.4,2015.5 L1301.1,2015.6 L1300.9,2014.8 L1300.7,2014.8 L1300.7,2015.2 L1300.5,2015.2 L1300.3,2014.2 L1300.0,2014.2 L1300.1,2014.6 L1299.8,2014.7 L1299.7,2013.9 L1299.4,2013.9 L1299.7,2015.2 L1299.4,2015.2 L1299.5,2015.9 L1299.3,2016.0 L1299.2,2015.8 L1299.0,2015.8 L1299.3,2017.3 L1299.0,2017.3 L1298.8,2016.1 L1298.5,2016.2 L1298.3,2015.2 L1298.1,2015.3 L1298.0,2014.8 L1297.7,2014.9 L1297.6,2014.1 L1297.3,2014.1 L1297.4,2014.5 L1297.1,2014.5 L1297.4,2016.1 L1297.1,2016.2 L1297.1,2016.2 L1296.9,2016.2 L1296.7,2015.4 L1296.5,2015.5 L1296.6,2016.1 L1296.3,2016.2 L1296.3,2015.7 L1296.0,2015.7 L1295.8,2014.9 L1295.6,2014.9 L1295.7,2015.4 L1295.4,2015.4 L1295.6,2016.3 L1295.3,2016.3 L1295.0,2014.6 L1294.8,2014.7 L1295.0,2016.3 L1294.8,2016.4 L1294.7,2015.9 L1294.4,2016.0 L1294.2,2014.5 L1293.9,2014.5 L1294.1,2015.6 L1293.8,2015.7 L1293.8,2015.6 L1293.6,2015.7 L1293.5,2015.4 L1293.3,2015.5 L1293.3,2015.6 L1293.0,2015.6 L1292.9,2014.6 L1292.6,2014.6 L1292.8,2016.1 L1292.6,2016.1 L1292.5,2015.3 L1292.2,2015.3 L1292.4,2017.1 L1292.2,2017.1 L1292.0,2015.6 L1291.7,2015.7 L1291.8,2016.1 L1291.5,2016.2 L1291.3,2014.8 L1291.1,2014.8 L1291.1,2015.2 L1290.9,2015.2 L1291.3,2018.8 L1291.1,2018.8 L1290.8,2016.5 L1290.5,2016.6 L1290.6,2017.5 L1290.4,2017.5 L1291.0,2022.8 L1290.7,2022.8 L1289.9,2016.2 L1289.7,2016.2 L1289.5,2015.0 L1289.3,2015.1 L1289.4,2016.2 L1289.1,2016.3 L1289.1,2016.1 L1288.9,2016.1 L1288.9,2016.6 L1288.6,2016.6 L1288.7,2016.9 L1288.4,2017.0 L1288.4,2016.9 L1288.2,2017.0 L1288.2,2017.0 L1287.9,2017.0 L1287.8,2015.9 L1287.5,2015.9 L1287.5,2016.2 L1287.3,2016.2 L1287.4,2017.4 L1287.1,2017.4 L1287.1,2016.8 L1286.8,2016.8 L1286.9,2017.7 L1286.6,2017.7 L1286.6,2017.8 L1286.4,2017.8 L1286.3,2017.5 L1286.1,2017.5 L1286.1,2017.6 L1285.8,2017.6 L1285.7,2016.5 L1285.5,2016.6 L1285.5,2017.5 L1285.3,2017.5 L1285.2,2016.8 L1285.0,2016.8 L1285.3,2020.9 L1285.0,2020.9 L1284.6,2015.7 L1284.3,2015.7 L1284.3,2015.7 L1284.1,2015.7 L1284.1,2016.1 L1283.8,2016.1 L1283.9,2017.5 L1283.7,2017.5 L1283.6,2016.6 L1283.4,2016.6 L1283.4,2017.0 L1283.1,2017.0 L1283.1,2016.9 L1282.8,2016.9 L1282.8,2016.8 L1282.6,2016.8 L1282.6,2017.4 L1282.3,2017.4 L1282.3,2017.4 L1282.1,2017.4 L1282.1,2017.6 L1281.8,2017.6 L1281.8,2016.5 L1281.5,2016.6 L1281.5,2015.9 L1281.2,2015.9 L1281.3,2018.0 L1281.0,2018.0 L1281.0,2016.1 L1280.7,2016.1 L1280.8,2017.8 L1280.5,2017.8 L1280.5,2018.0 L1280.2,2018.0 L1280.2,2016.6 L1279.9,2016.6 L1280.0,2017.6 L1279.7,2017.6 L1279.7,2016.5 L1279.4,2016.5 L1279.4,2016.7 L1279.1,2016.8 L1279.1,2016.3 L1278.9,2016.3 L1278.9,2017.6 L1278.6,2017.6 L1278.6,2017.5 L1278.4,2017.5 L1278.3,2015.8 L1278.1,2015.8 L1278.1,2016.5 L1277.8,2016.5 L1277.9,2018.3 L1277.6,2018.3 L1277.6,2015.9 L1277.3,2015.9 L1277.3,2016.2 L1277.0,2016.2 L1277.0,2017.1 L1276.8,2017.1 L1276.8,2016.5 L1276.5,2016.5 L1276.5,2016.2 L1276.3,2016.2 L1276.3,2018.2 L1276.0,2018.2 L1276.0,2016.4 L1275.7,2016.4 L1275.7,2016.1 L1275.5,2016.1 L1275.5,2017.5 L1275.2,2017.5 L1275.2,2017.2 L1274.9,2017.2 L1274.9,2017.8 L1274.7,2017.8 L1274.7,2018.2 L1274.4,2018.2 L1274.4,2016.2 L1274.2,2016.2 L1274.1,2017.6 L1273.9,2017.6 L1273.9,2015.9 L1273.6,2015.9 L1273.6,2016.5 L1273.4,2016.5 L1273.3,2018.1 L1273.1,2018.1 L1273.1,2017.7 L1272.8,2017.7 L1272.8,2016.5 L1272.6,2016.5 L1272.6,2016.7 L1272.3,2016.7 L1272.3,2017.1 L1272.0,2017.1 L1272.1,2016.2 L1271.8,2016.2 L1271.8,2016.1 L1271.5,2016.1 L1271.5,2018.0 L1271.2,2018.0 L1271.3,2016.7 L1271.0,2016.7 L1271.0,2015.8 L1270.8,2015.8 L1270.8,2014.9 A118.5,118.5 0 0 0 1301.9,2012.0 Z" fill="#555" stroke="#555" stroke-width="0.4"/>
<path d="M1298.8,2012.6L1303.0,2033.4" fill="none" stroke="#444" stroke-width="1"/>
<path d="M1346.7,2207.6 A319.2,319.2 0 0 1 1262.9,2215.4 L1263.7,2194.9 A298.7,298.7 0 0 0 1342.1,2187.6 Z" fill="#FF00CC" stroke="#555" stroke-width="0.7"/>
<path d="M1346.7,2207.6L1348.4,2215.0M1319.5,2212.6L1320.6,2220.1M1292.0,2215.2L1292.4,2222.8M1264.4,2215.5L1264.2,2223.1" stroke="#111" stroke-width="1.9" fill="none"/>
<path d="M1341.3,2208.8L1342.1,2212.5M1335.9,2209.9L1336.6,2213.6M1330.5,2210.9L1331.1,2214.6M1325.0,2211.8L1325.6,2215.5M1314.1,2213.3L1314.5,2217.1M1308.6,2213.9L1309.0,2217.7M1303.1,2214.5L1303.4,2218.2M1297.6,2214.9L1297.8,2218.7M1286.5,2215.5L1286.7,2219.3M1281.0,2215.6L1281.1,2219.4M1275.5,2215.7L1275.5,2219.5M1270.0,2215.6L1269.9,2219.4" stroke="#222" stroke-width="1.0" fill="none"/>
<text x="1349.40" y="2219.15" font-size="14" fill="#505050" transform="rotate(77.100 1349.40 2219.15)" dominant-baseline="central">0</text>
<text x="1321.22" y="2224.33" font-size="14" fill="#505050" transform="rotate(82.060 1321.22 2224.33)" dominant-baseline="central">500</text>
<text x="1292.71" y="2227.05" font-size="14" fill="#505050" transform="rotate(87.020 1292.71 2227.05)" dominant-baseline="central">1000</text>
<text x="1264.06" y="2227.30" font-size="14" fill="#505050" text-anchor="end" transform="rotate(-88.020 1264.06 2227.30)" dominant-baseline="central">1500</text>
<text x="1302.65" y="2187.74" font-size="14.5" fill="#505050" text-anchor="middle" textLength="35.50" lengthAdjust="spacingAndGlyphs" transform="rotate(-5.326 1302.65 2187.74)" dominant-baseline="central">Chr08</text>
<path d="M1256.8,2163.6 A267.8,267.8 0 0 1 1125.3,2118.2 L1144.6,2089.8 A233.5,233.5 0 0 0 1259.2,2129.4 Z" fill="#f3f3f3"/>
<path d="M1259.1,2130.5 A234.6,234.6 0 0 1 1143.9,2090.8 M1258.9,2132.8 A236.9,236.9 0 0 1 1142.6,2092.7 M1258.8,2135.1 A239.2,239.2 0 0 1 1141.4,2094.5 M1258.6,2137.4 A241.5,241.5 0 0 1 1140.1,2096.4 M1258.4,2139.7 A243.7,243.7 0 0 1 1138.8,2098.3 M1258.3,2141.9 A246.0,246.0 0 0 1 1137.5,2100.2 M1258.1,2144.2 A248.3,248.3 0 0 1 1136.2,2102.1 M1258.0,2146.5 A250.6,250.6 0 0 1 1134.9,2104.0 M1257.8,2148.8 A252.9,252.9 0 0 1 1133.7,2105.9 M1257.7,2151.1 A255.2,255.2 0 0 1 1132.4,2107.8 M1257.5,2153.3 A257.5,257.5 0 0 1 1131.1,2109.7 M1257.3,2155.6 A259.8,259.8 0 0 1 1129.8,2111.6 M1257.2,2157.9 A262.0,262.0 0 0 1 1128.5,2113.5 M1257.0,2160.2 A264.3,264.3 0 0 1 1127.2,2115.4 M1256.9,2162.5 A266.6,266.6 0 0 1 1126.0,2117.3" fill="none" stroke="#c6c6c6" stroke-width="0.85"/>
<path d="M1259.6,2122.9 A227.0,227.0 0 0 1 1148.2,2084.4 L1165.7,2058.6 A195.8,195.8 0 0 0 1261.8,2091.8 Z" fill="#dadada"/>
<path d="M1261.7,2092.8 A196.7,196.7 0 0 1 1165.1,2059.4 M1261.6,2094.7 A198.7,198.7 0 0 1 1164.0,2061.0 M1261.5,2096.6 A200.6,200.6 0 0 1 1163.0,2062.6 M1261.3,2098.6 A202.6,202.6 0 0 1 1161.9,2064.2 M1261.2,2100.5 A204.5,204.5 0 0 1 1160.8,2065.9 M1261.0,2102.5 A206.5,206.5 0 0 1 1159.7,2067.5 M1260.9,2104.4 A208.4,208.4 0 0 1 1158.6,2069.1 M1260.8,2106.4 A210.4,210.4 0 0 1 1157.5,2070.7 M1260.6,2108.3 A212.3,212.3 0 0 1 1156.4,2072.3 M1260.5,2110.3 A214.3,214.3 0 0 1 1155.3,2073.9 M1260.4,2112.2 A216.2,216.2 0 0 1 1154.2,2075.5 M1260.2,2114.1 A218.2,218.2 0 0 1 1153.1,2077.2 M1260.1,2116.1 A220.1,220.1 0 0 1 1152.0,2078.8 M1260.0,2118.0 A222.1,222.1 0 0 1 1150.9,2080.4 M1259.8,2120.0 A224.0,224.0 0 0 1 1149.8,2082.0 M1259.7,2121.9 A226.0,226.0 0 0 1 1148.7,2083.6" fill="none" stroke="#c6c6c6" stroke-width="0.7"/>
<path d="M1262.3,2085.0 A189.0,189.0 0 0 1 1169.5,2053.0 L1187.7,2026.1 A156.5,156.5 0 0 0 1264.5,2052.6 Z" fill="#f0f0f0"/>
<path d="M1262.4,2082.5 A186.5,186.5 0 0 1 1170.9,2050.9 M1264.4,2054.1 A158.0,158.0 0 0 1 1186.9,2027.3" fill="none" stroke="#c8c8c8" stroke-width="1.0"/>
<path d="M1264.8,2048.6 A152.5,152.5 0 0 1 1190.0,2022.7 L1209.0,1994.6 A118.5,118.5 0 0 0 1267.2,2014.7 Z" fill="#f1f1f1"/>
<path d="M1266.8,2020.1 A123.9,123.9 0 0 1 1206.0,1999.1 M1266.4,2025.4 A129.3,129.3 0 0 1 1203.0,2003.5 M1266.1,2030.8 A134.7,134.7 0 0 1 1199.9,2008.0 M1265.7,2036.2 A140.1,140.1 0 0 1 1196.9,2012.5 M1265.3,2041.6 A145.5,145.5 0 0 1 1193.9,2016.9 M1264.9,2047.0 A150.9,150.9 0 0 1 1190.9,2021.4" fill="none" stroke="#c9c9c9" stroke-width="1.0"/>
<path d="M1261.8,2091.8 L1261.5,2095.9 L1261.0,2095.9 L1260.9,2097.0 L1260.4,2097.0 L1260.4,2096.7 L1259.9,2096.6 L1259.8,2098.2 L1259.3,2098.2 L1259.3,2097.8 L1258.8,2097.8 L1258.7,2099.6 L1258.2,2099.6 L1258.5,2095.7 L1258.0,2095.6 L1258.0,2095.6 L1257.5,2095.5 L1257.2,2098.8 L1256.7,2098.7 L1257.0,2096.3 L1256.5,2096.2 L1256.2,2098.9 L1255.7,2098.8 L1256.1,2095.1 L1255.6,2095.1 L1255.4,2096.9 L1254.9,2096.8 L1254.9,2096.8 L1254.4,2096.7 L1254.4,2096.3 L1253.9,2096.2 L1253.5,2099.9 L1253.0,2099.8 L1253.1,2099.5 L1252.6,2099.5 L1252.5,2099.5 L1252.0,2099.5 L1252.5,2095.7 L1252.0,2095.6 L1251.6,2098.7 L1251.1,2098.6 L1251.1,2098.5 L1250.6,2098.4 L1249.5,2107.2 L1249.0,2107.1 L1250.3,2097.0 L1249.8,2097.0 L1249.5,2099.1 L1249.0,2099.1 L1249.1,2098.6 L1248.6,2098.5 L1248.8,2096.4 L1248.3,2096.3 L1248.4,2096.2 L1247.9,2096.1 L1245.9,2110.2 L1245.4,2110.1 L1247.5,2095.0 L1247.0,2094.9 L1246.5,2098.4 L1246.0,2098.3 L1246.1,2097.6 L1245.6,2097.5 L1245.5,2098.1 L1245.0,2098.0 L1245.2,2097.0 L1244.7,2096.9 L1244.8,2095.9 L1244.3,2095.9 L1244.6,2094.0 L1244.1,2093.9 L1244.2,2093.7 L1243.7,2093.6 L1243.7,2093.5 L1243.2,2093.4 L1243.3,2093.0 L1242.8,2092.9 L1242.6,2094.0 L1242.1,2093.9 L1241.9,2095.2 L1241.4,2095.1 L1241.5,2094.4 L1241.0,2094.3 L1240.6,2096.7 L1240.1,2096.6 L1240.6,2093.9 L1240.1,2093.8 L1239.9,2094.7 L1239.4,2094.6 L1239.4,2095.0 L1238.9,2094.9 L1238.9,2094.5 L1238.4,2094.4 L1238.5,2094.2 L1238.0,2094.1 L1238.1,2093.4 L1237.6,2093.3 L1237.9,2092.1 L1237.4,2092.0 L1237.3,2092.5 L1236.8,2092.4 L1236.2,2095.5 L1235.7,2095.4 L1236.1,2093.3 L1235.6,2093.2 L1235.9,2091.6 L1235.4,2091.5 L1235.1,2093.2 L1234.6,2093.1 L1234.7,2092.4 L1234.3,2092.3 L1234.2,2092.7 L1233.7,2092.6 L1233.6,2093.0 L1233.1,2092.9 L1233.1,2093.0 L1232.6,2092.8 L1232.2,2094.7 L1231.7,2094.6 L1232.6,2090.5 L1232.1,2090.4 L1231.4,2093.4 L1231.0,2093.2 L1231.6,2090.6 L1231.1,2090.5 L1230.6,2092.4 L1230.1,2092.3 L1229.9,2093.2 L1229.4,2093.1 L1229.5,2092.7 L1229.0,2092.6 L1228.9,2093.3 L1228.4,2093.2 L1229.2,2089.8 L1228.7,2089.7 L1228.5,2090.4 L1228.0,2090.3 L1228.1,2090.2 L1227.6,2090.1 L1227.0,2092.3 L1226.5,2092.2 L1227.1,2089.8 L1226.7,2089.6 L1225.9,2092.5 L1225.4,2092.4 L1225.8,2091.0 L1225.3,2090.9 L1225.2,2091.3 L1224.7,2091.2 L1224.6,2091.5 L1224.1,2091.4 L1224.2,2091.3 L1223.7,2091.2 L1223.7,2091.2 L1223.2,2091.1 L1223.9,2088.4 L1223.4,2088.3 L1222.9,2090.1 L1222.4,2089.9 L1222.7,2089.1 L1222.2,2088.9 L1221.8,2090.3 L1221.3,2090.2 L1221.0,2091.4 L1220.5,2091.3 L1220.7,2090.5 L1220.2,2090.3 L1220.3,2090.1 L1219.8,2089.9 L1219.9,2089.5 L1219.5,2089.4 L1219.2,2090.4 L1218.7,2090.3 L1219.2,2088.4 L1218.7,2088.3 L1218.8,2088.2 L1218.3,2088.1 L1218.6,2087.1 L1218.1,2087.0 L1217.6,2088.8 L1217.1,2088.6 L1217.4,2087.7 L1216.9,2087.5 L1216.3,2089.4 L1215.8,2089.2 L1216.3,2087.8 L1215.8,2087.7 L1215.2,2089.4 L1214.8,2089.3 L1212.8,2095.6 L1212.3,2095.4 L1210.8,2100.0 L1210.3,2099.9 L1214.2,2087.6 L1213.8,2087.4 L1214.1,2086.5 L1213.6,2086.3 L1212.9,2088.4 L1212.4,2088.3 L1212.2,2088.8 L1211.8,2088.7 L1211.9,2088.1 L1211.5,2088.0 L1211.6,2087.7 L1211.1,2087.5 L1211.4,2086.5 L1210.9,2086.4 L1211.4,2085.0 L1210.9,2084.8 L1210.0,2087.6 L1209.5,2087.4 L1209.9,2086.4 L1209.4,2086.2 L1209.5,2085.9 L1209.1,2085.7 L1208.9,2086.2 L1208.4,2086.0 L1208.7,2085.2 L1208.2,2085.1 L1208.6,2084.0 L1208.1,2083.8 L1208.1,2083.9 L1207.6,2083.7 L1206.8,2086.0 L1206.3,2085.8 L1206.7,2084.7 L1206.3,2084.6 L1205.8,2085.9 L1205.3,2085.7 L1205.7,2084.7 L1205.2,2084.5 L1204.5,2086.4 L1204.0,2086.3 L1204.0,2086.4 L1203.5,2086.2 L1203.7,2085.6 L1203.3,2085.4 L1204.0,2083.5 L1203.5,2083.3 L1202.5,2085.9 L1202.1,2085.7 L1202.6,2084.2 L1202.2,2084.0 L1202.2,2083.9 L1201.8,2083.7 L1202.3,2082.4 L1201.8,2082.2 L1201.4,2083.2 L1201.0,2083.0 L1200.6,2083.9 L1200.1,2083.7 L1201.0,2081.6 L1200.5,2081.4 L1199.6,2083.7 L1199.1,2083.5 L1200.2,2080.9 L1199.7,2080.7 L1198.2,2084.5 L1197.7,2084.3 L1196.0,2088.5 L1195.5,2088.3 L1198.1,2081.9 L1197.7,2081.7 L1197.7,2081.7 L1197.2,2081.5 L1197.6,2080.6 L1197.1,2080.5 L1196.7,2081.5 L1196.2,2081.3 L1196.5,2080.7 L1196.0,2080.5 L1195.6,2081.3 L1195.2,2081.1 L1194.7,2082.3 L1194.2,2082.1 L1194.1,2082.4 L1193.6,2082.2 L1195.0,2079.1 L1194.5,2078.9 L1193.4,2081.5 L1192.9,2081.3 L1193.1,2080.9 L1192.6,2080.7 L1193.1,2079.7 L1192.6,2079.5 L1192.5,2079.8 L1192.0,2079.6 L1191.8,2080.0 L1191.4,2079.8 L1190.5,2081.6 L1190.1,2081.4 L1191.8,2077.6 L1191.4,2077.4 L1189.5,2081.4 L1189.0,2081.2 L1189.9,2079.3 L1189.5,2079.1 L1189.1,2079.9 L1188.6,2079.7 L1185.3,2086.7 L1184.8,2086.5 L1187.7,2080.4 L1187.3,2080.2 L1187.5,2079.7 L1187.0,2079.5 L1186.6,2080.4 L1186.1,2080.2 L1181.2,2090.4 L1180.7,2090.2 L1187.7,2075.8 L1187.3,2075.6 L1187.1,2075.9 L1186.6,2075.7 L1185.3,2078.5 L1184.8,2078.2 L1184.8,2078.2 L1184.4,2078.0 L1184.0,2078.8 L1183.5,2078.6 L1183.4,2078.7 L1183.0,2078.5 L1184.6,2075.3 L1184.1,2075.1 L1184.3,2074.7 L1183.9,2074.5 L1182.1,2077.9 L1181.7,2077.7 L1181.3,2078.4 L1180.9,2078.1 L1180.4,2078.9 L1180.0,2078.7 L1182.3,2074.3 L1181.8,2074.1 L1180.4,2076.9 L1179.9,2076.6 L1180.0,2076.4 L1179.6,2076.2 L1175.8,2083.3 L1175.3,2083.0 L1178.3,2077.5 L1177.8,2077.3 L1180.3,2072.7 L1179.9,2072.5 L1179.6,2073.0 L1179.1,2072.7 L1176.6,2077.4 L1176.1,2077.2 L1176.9,2075.7 L1176.5,2075.4 L1176.4,2075.6 L1176.0,2075.3 L1177.8,2072.1 L1177.3,2071.9 L1175.8,2074.5 L1175.4,2074.3 L1176.8,2071.9 L1176.3,2071.6 L1171.1,2080.9 L1170.6,2080.6 L1174.8,2073.2 L1174.4,2072.9 L1174.5,2072.8 L1174.0,2072.6 L1172.9,2074.6 L1172.4,2074.3 L1172.1,2074.8 L1171.7,2074.5 L1173.2,2071.9 L1172.8,2071.7 L1171.7,2073.6 L1171.2,2073.3 L1170.4,2074.7 L1169.9,2074.5 L1172.6,2069.9 L1172.2,2069.6 L1172.1,2069.8 L1171.7,2069.5 L1172.3,2068.5 L1171.9,2068.3 L1169.2,2072.7 L1168.8,2072.4 L1169.2,2071.8 L1168.7,2071.5 L1169.3,2070.6 L1168.8,2070.3 L1169.9,2068.6 L1169.5,2068.3 L1167.0,2072.3 L1166.6,2072.1 L1166.5,2072.2 L1166.0,2071.9 L1167.5,2069.5 L1167.1,2069.2 L1165.8,2071.3 L1165.4,2071.0 L1167.8,2067.2 L1167.4,2066.9 L1166.9,2067.6 L1166.5,2067.4 L1165.6,2068.8 L1165.1,2068.6 L1164.9,2068.8 L1164.5,2068.6 L1166.2,2065.9 L1165.8,2065.7 L1165.8,2065.6 L1165.4,2065.3 L1164.9,2066.1 L1164.5,2065.8 L1162.5,2068.8 L1162.1,2068.6 L1161.4,2069.6 L1161.0,2069.3 L1163.4,2065.6 L1163.0,2065.3 L1160.4,2069.2 L1159.9,2068.9 L1163.5,2063.6 L1163.1,2063.3 L1162.1,2064.9 L1161.6,2064.6 L1165.7,2058.6 A195.8,195.8 0 0 0 1261.8,2091.8 Z" fill="#d7191c" stroke="#d7191c" stroke-width="0.25"/>
<path d="M1259.2,2129.4 L1259.1,2130.5 L1258.5,2130.5 L1258.5,2130.2 L1257.9,2130.2 L1257.9,2131.2 L1257.3,2131.1 L1257.3,2131.1 L1256.7,2131.1 L1256.7,2130.9 L1256.1,2130.9 L1256.1,2130.6 L1255.6,2130.5 L1255.6,2130.1 L1255.0,2130.1 L1255.0,2130.0 L1254.4,2130.0 L1254.3,2131.0 L1253.7,2130.9 L1253.8,2130.2 L1253.2,2130.2 L1253.2,2130.6 L1252.6,2130.6 L1252.7,2129.7 L1252.1,2129.7 L1252.0,2130.7 L1251.4,2130.6 L1251.4,2130.7 L1250.8,2130.7 L1250.9,2129.9 L1250.3,2129.8 L1250.3,2130.0 L1249.7,2130.0 L1249.4,2133.0 L1248.8,2133.0 L1249.1,2130.1 L1248.5,2130.1 L1248.5,2130.2 L1247.9,2130.1 L1248.0,2129.2 L1247.4,2129.2 L1247.1,2132.1 L1246.5,2132.1 L1246.8,2129.3 L1246.2,2129.2 L1246.1,2130.0 L1245.6,2130.0 L1245.7,2128.9 L1245.1,2128.8 L1245.0,2129.6 L1244.4,2129.5 L1244.4,2129.4 L1243.9,2129.3 L1243.9,2129.1 L1243.3,2129.0 L1243.4,2128.7 L1242.8,2128.6 L1242.7,2129.4 L1242.1,2129.4 L1242.2,2128.7 L1241.6,2128.6 L1241.6,2128.3 L1241.1,2128.2 L1240.9,2129.1 L1240.3,2129.0 L1240.4,2128.4 L1239.9,2128.3 L1239.7,2129.2 L1239.1,2129.1 L1239.1,2129.1 L1238.6,2129.0 L1238.6,2128.9 L1238.0,2128.8 L1238.1,2127.9 L1237.6,2127.8 L1237.4,2128.8 L1236.8,2128.7 L1237.0,2127.7 L1236.4,2127.6 L1236.0,2129.8 L1235.4,2129.7 L1235.7,2128.2 L1235.1,2128.1 L1235.0,2129.0 L1234.4,2128.9 L1234.6,2127.7 L1234.0,2127.5 L1234.0,2127.6 L1233.4,2127.5 L1233.5,2127.4 L1232.9,2127.3 L1232.9,2127.1 L1232.3,2127.0 L1232.2,2127.7 L1231.6,2127.5 L1231.6,2127.8 L1231.0,2127.7 L1231.1,2127.3 L1230.5,2127.2 L1230.5,2127.1 L1229.9,2127.0 L1229.9,2127.4 L1229.3,2127.3 L1229.4,2126.9 L1228.8,2126.7 L1228.8,2126.9 L1228.2,2126.8 L1228.1,2127.0 L1227.6,2126.9 L1226.8,2130.6 L1226.2,2130.5 L1227.2,2126.0 L1226.6,2125.9 L1226.5,2126.1 L1226.0,2126.0 L1226.0,2125.8 L1225.4,2125.7 L1225.5,2125.5 L1224.9,2125.4 L1224.8,2125.9 L1224.2,2125.7 L1224.2,2125.7 L1223.6,2125.6 L1223.6,2126.0 L1223.0,2125.8 L1222.9,2126.0 L1222.4,2125.8 L1222.5,2125.1 L1222.0,2125.0 L1221.9,2125.1 L1221.4,2124.9 L1221.5,2124.5 L1220.9,2124.4 L1220.8,2125.0 L1220.2,2124.9 L1220.3,2124.3 L1219.8,2124.2 L1219.5,2125.1 L1218.9,2125.0 L1219.0,2124.9 L1218.4,2124.8 L1218.4,2124.7 L1217.8,2124.6 L1217.9,2124.3 L1217.3,2124.2 L1217.4,2123.9 L1216.8,2123.7 L1216.8,2124.0 L1216.2,2123.8 L1216.3,2123.3 L1215.8,2123.2 L1215.7,2123.4 L1215.1,2123.3 L1215.1,2123.4 L1214.5,2123.2 L1214.6,2123.0 L1214.0,2122.8 L1213.9,2123.4 L1213.3,2123.2 L1213.5,2122.7 L1212.9,2122.5 L1212.9,2122.7 L1212.3,2122.5 L1212.1,2123.1 L1211.6,2123.0 L1211.6,2122.9 L1211.0,2122.7 L1211.2,2121.9 L1210.7,2121.8 L1210.5,2122.3 L1210.0,2122.2 L1210.0,2122.1 L1209.4,2121.9 L1209.4,2122.1 L1208.8,2121.9 L1208.8,2121.8 L1208.3,2121.7 L1208.1,2122.1 L1207.6,2121.9 L1207.8,2121.1 L1207.3,2121.0 L1207.3,2120.8 L1206.7,2120.7 L1206.5,2121.4 L1206.0,2121.2 L1206.0,2121.0 L1205.5,2120.8 L1205.3,2121.2 L1204.8,2121.1 L1204.9,2120.7 L1204.3,2120.5 L1204.5,2120.0 L1203.9,2119.8 L1203.7,2120.5 L1203.2,2120.3 L1203.1,2120.3 L1202.6,2120.1 L1202.7,2119.7 L1202.2,2119.5 L1202.2,2119.6 L1201.6,2119.4 L1201.4,2119.8 L1200.9,2119.6 L1201.2,2118.8 L1200.6,2118.6 L1200.4,2119.3 L1199.8,2119.1 L1199.4,2120.4 L1198.8,2120.2 L1199.4,2118.6 L1198.8,2118.4 L1198.6,2119.0 L1198.0,2118.8 L1198.2,2118.3 L1197.7,2118.1 L1197.5,2118.5 L1197.0,2118.3 L1197.3,2117.4 L1196.8,2117.2 L1195.2,2121.7 L1194.6,2121.5 L1196.2,2117.1 L1195.6,2116.9 L1195.0,2118.5 L1194.5,2118.3 L1195.0,2116.8 L1194.5,2116.6 L1194.2,2117.4 L1193.6,2117.2 L1193.6,2117.3 L1193.1,2117.1 L1193.3,2116.3 L1192.8,2116.1 L1192.8,2116.1 L1192.2,2115.9 L1192.1,2116.3 L1191.5,2116.1 L1191.5,2116.1 L1191.0,2115.9 L1191.2,2115.4 L1190.6,2115.2 L1190.6,2115.3 L1190.0,2115.1 L1189.9,2115.3 L1189.4,2115.1 L1188.9,2116.4 L1188.3,2116.2 L1188.9,2114.8 L1188.4,2114.5 L1188.4,2114.4 L1187.8,2114.2 L1187.7,2114.7 L1187.1,2114.4 L1187.3,2113.9 L1186.8,2113.7 L1186.8,2113.6 L1186.3,2113.4 L1186.3,2113.2 L1185.8,2113.0 L1185.5,2113.8 L1184.9,2113.6 L1185.2,2112.9 L1184.7,2112.7 L1184.6,2112.8 L1184.1,2112.6 L1184.0,2112.8 L1183.5,2112.5 L1183.3,2112.8 L1182.8,2112.6 L1182.8,2112.6 L1182.3,2112.4 L1182.4,2112.1 L1181.8,2111.9 L1181.6,2112.4 L1181.1,2112.2 L1181.2,2111.8 L1180.7,2111.6 L1180.7,2111.4 L1180.2,2111.2 L1180.1,2111.5 L1179.5,2111.2 L1179.5,2111.4 L1178.9,2111.2 L1178.9,2111.1 L1178.4,2110.9 L1178.8,2110.1 L1178.2,2109.8 L1178.2,2109.9 L1177.7,2109.7 L1177.7,2109.6 L1177.2,2109.4 L1177.0,2109.7 L1176.5,2109.4 L1176.5,2109.5 L1175.9,2109.2 L1175.8,2109.5 L1175.3,2109.3 L1175.4,2109.0 L1174.8,2108.8 L1175.0,2108.4 L1174.5,2108.2 L1174.2,2108.8 L1173.7,2108.5 L1173.7,2108.5 L1173.1,2108.3 L1173.5,2107.6 L1172.9,2107.3 L1172.9,2107.5 L1172.3,2107.2 L1172.0,2108.0 L1171.4,2107.7 L1171.6,2107.4 L1171.0,2107.2 L1171.3,2106.6 L1170.8,2106.4 L1170.7,2106.5 L1170.2,2106.2 L1170.4,2105.9 L1169.8,2105.6 L1169.5,2106.2 L1169.0,2106.0 L1169.2,2105.7 L1168.6,2105.4 L1167.8,2107.1 L1167.3,2106.8 L1167.9,2105.5 L1167.4,2105.2 L1167.3,2105.4 L1166.8,2105.1 L1167.0,2104.7 L1166.5,2104.4 L1166.5,2104.5 L1165.9,2104.2 L1166.1,2104.0 L1165.6,2103.7 L1165.6,2103.6 L1165.1,2103.3 L1165.0,2103.5 L1164.5,2103.2 L1164.2,2103.8 L1163.7,2103.5 L1164.0,2102.8 L1163.5,2102.6 L1163.4,2102.7 L1162.9,2102.4 L1162.7,2102.8 L1162.2,2102.5 L1162.5,2101.9 L1162.0,2101.7 L1162.0,2101.6 L1161.5,2101.4 L1161.4,2101.6 L1160.9,2101.3 L1161.0,2101.1 L1160.5,2100.8 L1160.2,2101.3 L1159.6,2101.1 L1159.6,2101.1 L1159.1,2100.8 L1159.3,2100.4 L1158.8,2100.1 L1157.3,2102.7 L1156.8,2102.4 L1158.1,2100.1 L1157.6,2099.8 L1157.9,2099.4 L1157.4,2099.1 L1157.1,2099.6 L1156.6,2099.3 L1156.9,2098.7 L1156.4,2098.4 L1156.4,2098.5 L1155.9,2098.2 L1155.8,2098.3 L1155.3,2098.0 L1155.1,2098.3 L1154.6,2098.0 L1153.0,2100.6 L1152.5,2100.3 L1154.4,2097.3 L1153.9,2097.0 L1153.7,2097.2 L1153.2,2096.9 L1153.2,2097.0 L1152.7,2096.7 L1152.6,2096.8 L1152.1,2096.5 L1151.8,2096.9 L1151.3,2096.6 L1152.0,2095.6 L1151.5,2095.3 L1151.2,2095.8 L1150.7,2095.4 L1150.8,2095.2 L1150.3,2094.9 L1150.0,2095.4 L1149.5,2095.0 L1149.9,2094.4 L1149.4,2094.1 L1148.9,2095.0 L1148.4,2094.6 L1147.6,2096.0 L1147.1,2095.6 L1147.9,2094.3 L1147.4,2094.0 L1145.4,2097.0 L1144.9,2096.7 L1147.0,2093.5 L1146.5,2093.2 L1147.0,2092.5 L1146.5,2092.2 L1145.9,2093.1 L1145.4,2092.8 L1145.9,2092.1 L1145.4,2091.7 L1145.1,2092.2 L1144.6,2091.8 L1144.7,2091.7 L1144.2,2091.4 L1144.1,2091.6 L1143.6,2091.3 L1144.6,2089.8 A233.5,233.5 0 0 0 1259.2,2129.4 Z" fill="#2e9a4d" stroke="#2e9a4d" stroke-width="0.6"/>
<path d="M1264.5,2053.4 A157.3,157.3 0 0 1 1187.3,2026.7" fill="none" stroke="#3a7dc4" stroke-width="1.4"/>
<path d="M1247.8,2050.5L1245.9,2061.2M1201.7,2034.5L1195.4,2046.3M1201.1,2034.2L1196.5,2042.8M1208.0,2037.7L1199.8,2054.8M1200.1,2033.6L1193.1,2046.4M1191.2,2028.3L1186.6,2035.4M1190.0,2027.6L1186.9,2032.4M1260.7,2052.3L1260.0,2060.1M1202.9,2035.1L1196.9,2046.6M1201.6,2034.4L1197.5,2042.2M1219.3,2042.5L1214.8,2054.2M1218.3,2042.2L1214.9,2051.0M1219.1,2042.5L1214.1,2055.5M1218.0,2042.0L1213.7,2053.0M1263.3,2052.5L1262.3,2064.9M1261.7,2052.3L1260.6,2065.1M1195.7,2031.1L1189.3,2041.9M1194.7,2030.5L1187.8,2042.0M1202.6,2035.0L1198.6,2042.6M1260.2,2052.2L1259.1,2063.3M1259.0,2052.1L1258.3,2059.6" fill="none" stroke="#3a7dc4" stroke-width="1.3"/>
<path d="M1267.2,2014.7 L1267.0,2017.8 L1266.7,2017.8 L1266.8,2016.7 L1266.5,2016.7 L1266.5,2017.5 L1266.2,2017.5 L1266.3,2016.6 L1266.0,2016.5 L1266.0,2016.0 L1265.8,2016.0 L1265.6,2017.7 L1265.4,2017.7 L1265.6,2015.5 L1265.3,2015.4 L1265.1,2017.4 L1264.9,2017.4 L1265.0,2016.2 L1264.7,2016.2 L1264.7,2015.8 L1264.5,2015.8 L1264.3,2017.5 L1264.1,2017.5 L1264.1,2017.2 L1263.8,2017.2 L1264.0,2015.8 L1263.7,2015.8 L1263.7,2015.2 L1263.5,2015.2 L1263.4,2015.8 L1263.2,2015.7 L1263.0,2016.9 L1262.8,2016.9 L1262.9,2016.1 L1262.6,2016.1 L1262.4,2017.6 L1262.2,2017.6 L1262.2,2017.2 L1262.0,2017.2 L1261.9,2017.5 L1261.7,2017.5 L1261.9,2015.5 L1261.6,2015.5 L1261.6,2015.4 L1261.4,2015.4 L1261.2,2017.1 L1260.9,2017.0 L1261.0,2016.4 L1260.7,2016.4 L1260.9,2015.2 L1260.6,2015.2 L1260.3,2017.3 L1260.1,2017.2 L1260.1,2016.8 L1259.9,2016.8 L1259.9,2016.2 L1259.7,2016.2 L1259.6,2016.7 L1259.3,2016.7 L1259.3,2017.3 L1259.0,2017.3 L1259.1,2016.5 L1258.8,2016.5 L1259.1,2014.8 L1258.8,2014.7 L1258.6,2016.5 L1258.3,2016.5 L1258.2,2017.2 L1257.9,2017.2 L1258.2,2015.0 L1258.0,2015.0 L1258.0,2015.0 L1257.7,2015.0 L1257.8,2014.6 L1257.5,2014.6 L1257.4,2015.5 L1257.1,2015.5 L1257.0,2016.2 L1256.7,2016.1 L1256.8,2015.7 L1256.5,2015.7 L1256.5,2015.8 L1256.3,2015.8 L1256.4,2014.9 L1256.1,2014.8 L1256.2,2014.7 L1255.9,2014.6 L1255.9,2014.6 L1255.7,2014.5 L1255.4,2016.2 L1255.1,2016.2 L1255.3,2015.3 L1255.0,2015.3 L1255.1,2014.5 L1254.9,2014.5 L1254.6,2016.1 L1254.3,2016.0 L1254.5,2014.8 L1254.3,2014.7 L1254.1,2015.7 L1253.9,2015.7 L1254.2,2014.0 L1253.9,2014.0 L1253.8,2014.6 L1253.5,2014.6 L1253.4,2015.2 L1253.1,2015.1 L1253.2,2014.8 L1252.9,2014.8 L1253.1,2013.9 L1252.8,2013.9 L1252.7,2014.5 L1252.5,2014.4 L1252.5,2014.3 L1252.2,2014.2 L1252.3,2013.8 L1252.1,2013.7 L1251.8,2015.3 L1251.5,2015.3 L1251.4,2015.7 L1251.2,2015.7 L1251.6,2013.4 L1251.3,2013.4 L1250.8,2015.9 L1250.6,2015.8 L1250.9,2014.1 L1250.7,2014.0 L1250.3,2015.7 L1250.1,2015.6 L1250.1,2015.6 L1249.8,2015.5 L1249.8,2015.4 L1249.6,2015.4 L1249.8,2014.4 L1249.5,2014.4 L1249.6,2013.9 L1249.4,2013.8 L1249.0,2015.3 L1248.8,2015.2 L1248.8,2015.3 L1248.5,2015.2 L1248.7,2014.5 L1248.4,2014.5 L1248.7,2013.0 L1248.5,2013.0 L1248.4,2013.3 L1248.2,2013.3 L1247.9,2014.3 L1247.7,2014.3 L1247.7,2014.2 L1247.4,2014.2 L1247.5,2013.8 L1247.2,2013.7 L1247.0,2014.9 L1246.7,2014.8 L1246.7,2014.6 L1246.5,2014.5 L1246.9,2013.1 L1246.6,2013.0 L1246.3,2014.1 L1246.1,2014.1 L1246.1,2013.8 L1245.9,2013.8 L1245.8,2014.2 L1245.5,2014.1 L1245.5,2014.1 L1245.3,2014.0 L1245.4,2013.4 L1245.2,2013.3 L1245.4,2012.4 L1245.1,2012.4 L1245.0,2012.9 L1244.7,2012.8 L1244.7,2013.1 L1244.4,2013.0 L1244.4,2013.0 L1244.2,2013.0 L1244.0,2013.6 L1243.7,2013.5 L1243.6,2014.1 L1243.3,2014.0 L1243.4,2013.8 L1243.1,2013.7 L1243.1,2013.9 L1242.8,2013.9 L1243.4,2011.6 L1243.2,2011.5 L1242.5,2013.8 L1242.3,2013.8 L1242.4,2013.2 L1242.2,2013.1 L1242.0,2013.7 L1241.8,2013.7 L1242.0,2012.7 L1241.8,2012.6 L1241.6,2013.3 L1241.3,2013.2 L1241.3,2013.2 L1241.1,2013.2 L1241.7,2011.2 L1241.4,2011.1 L1241.1,2012.0 L1240.9,2011.9 L1240.7,2012.5 L1240.5,2012.4 L1240.8,2011.3 L1240.6,2011.2 L1240.1,2012.7 L1239.8,2012.6 L1240.4,2010.8 L1240.1,2010.8 L1240.1,2010.7 L1239.9,2010.7 L1239.4,2012.2 L1239.2,2012.1 L1239.7,2010.5 L1239.4,2010.4 L1238.9,2012.0 L1238.7,2011.9 L1238.6,2012.1 L1238.4,2012.0 L1238.3,2012.2 L1238.0,2012.2 L1238.5,2010.8 L1238.2,2010.7 L1238.1,2011.2 L1237.8,2011.1 L1237.6,2011.7 L1237.4,2011.7 L1235.7,2016.8 L1235.4,2016.7 L1236.9,2012.1 L1236.7,2012.0 L1236.8,2011.6 L1236.6,2011.5 L1236.8,2010.8 L1236.6,2010.7 L1236.5,2011.0 L1236.2,2010.9 L1235.9,2011.7 L1235.7,2011.7 L1235.8,2011.4 L1235.5,2011.3 L1235.4,2011.6 L1235.2,2011.5 L1235.5,2010.6 L1235.2,2010.5 L1235.7,2009.3 L1235.4,2009.2 L1234.8,2011.1 L1234.5,2011.0 L1234.8,2010.0 L1234.6,2009.9 L1235.0,2008.8 L1234.7,2008.7 L1234.6,2009.3 L1234.3,2009.2 L1233.7,2010.9 L1233.4,2010.8 L1234.1,2009.0 L1233.9,2008.9 L1233.8,2008.9 L1233.6,2008.8 L1233.3,2009.6 L1233.1,2009.5 L1233.3,2008.9 L1233.1,2008.8 L1233.2,2008.4 L1232.9,2008.3 L1232.6,2009.2 L1232.4,2009.2 L1232.2,2009.5 L1232.0,2009.4 L1231.9,2009.5 L1231.7,2009.4 L1232.3,2007.8 L1232.1,2007.7 L1231.4,2009.5 L1231.1,2009.4 L1231.5,2008.3 L1231.3,2008.2 L1231.5,2007.7 L1231.3,2007.6 L1230.8,2008.7 L1230.6,2008.6 L1230.7,2008.3 L1230.4,2008.2 L1230.0,2009.2 L1229.8,2009.1 L1230.5,2007.5 L1230.2,2007.4 L1230.0,2007.9 L1229.8,2007.8 L1229.3,2008.9 L1229.1,2008.8 L1229.5,2007.7 L1229.3,2007.6 L1228.9,2008.6 L1228.6,2008.5 L1229.4,2006.6 L1229.2,2006.5 L1228.2,2008.7 L1228.0,2008.6 L1228.6,2007.2 L1228.4,2007.1 L1228.7,2006.3 L1228.4,2006.2 L1228.2,2006.9 L1227.9,2006.8 L1227.5,2007.6 L1227.3,2007.5 L1227.8,2006.3 L1227.6,2006.2 L1227.5,2006.5 L1227.2,2006.4 L1226.8,2007.4 L1226.5,2007.3 L1226.9,2006.4 L1226.7,2006.3 L1226.9,2005.7 L1226.7,2005.6 L1226.1,2006.9 L1225.9,2006.8 L1225.9,2006.7 L1225.7,2006.6 L1226.3,2005.3 L1226.0,2005.2 L1225.1,2007.2 L1224.9,2007.1 L1224.8,2007.2 L1224.6,2007.1 L1225.4,2005.3 L1225.2,2005.2 L1224.4,2006.9 L1224.2,2006.7 L1225.1,2004.7 L1224.9,2004.6 L1224.7,2004.9 L1224.5,2004.8 L1222.5,2009.1 L1222.2,2009.0 L1223.5,2006.3 L1223.2,2006.2 L1223.6,2005.4 L1223.4,2005.3 L1223.2,2005.7 L1222.9,2005.6 L1222.7,2006.1 L1222.5,2006.0 L1222.6,2005.7 L1222.4,2005.6 L1222.4,2005.5 L1222.2,2005.4 L1222.1,2005.4 L1221.9,2005.3 L1222.7,2003.8 L1222.4,2003.7 L1221.4,2005.7 L1221.2,2005.6 L1221.5,2005.0 L1221.2,2004.9 L1221.7,2003.8 L1221.5,2003.7 L1221.2,2004.3 L1221.0,2004.2 L1220.8,2004.5 L1220.6,2004.4 L1220.9,2003.8 L1220.7,2003.7 L1221.1,2002.9 L1220.8,2002.7 L1219.7,2004.9 L1219.5,2004.7 L1220.0,2003.7 L1219.8,2003.6 L1220.4,2002.4 L1220.2,2002.3 L1219.3,2003.9 L1219.1,2003.8 L1219.3,2003.3 L1219.1,2003.2 L1218.8,2003.8 L1218.6,2003.7 L1219.0,2002.8 L1218.8,2002.6 L1218.5,2003.2 L1218.3,2003.1 L1218.0,2003.7 L1217.7,2003.5 L1217.8,2003.4 L1217.6,2003.3 L1217.5,2003.4 L1217.3,2003.3 L1217.7,2002.5 L1217.5,2002.3 L1216.9,2003.4 L1216.6,2003.3 L1217.1,2002.4 L1216.9,2002.3 L1216.8,2002.5 L1216.5,2002.4 L1216.8,2001.9 L1216.6,2001.7 L1216.1,2002.7 L1215.8,2002.6 L1216.6,2001.2 L1216.4,2001.1 L1216.6,2000.7 L1216.4,2000.5 L1216.1,2001.0 L1215.9,2000.9 L1215.6,2001.3 L1215.4,2001.2 L1215.7,2000.7 L1215.4,2000.6 L1214.8,2001.7 L1214.6,2001.5 L1214.7,2001.3 L1214.5,2001.2 L1214.9,2000.5 L1214.7,2000.3 L1214.4,2000.8 L1214.1,2000.7 L1214.6,1999.9 L1214.4,1999.8 L1214.1,2000.3 L1213.8,2000.2 L1214.5,1999.1 L1214.3,1998.9 L1213.7,1999.9 L1213.5,1999.7 L1213.6,1999.5 L1213.4,1999.4 L1212.6,2000.7 L1212.3,2000.6 L1213.3,1999.1 L1213.0,1998.9 L1212.0,2000.6 L1211.8,2000.5 L1212.2,1999.8 L1212.0,1999.7 L1212.1,1999.4 L1211.9,1999.3 L1211.4,2000.1 L1211.2,1999.9 L1211.3,1999.8 L1211.0,1999.7 L1211.7,1998.6 L1211.5,1998.5 L1211.4,1998.6 L1211.2,1998.4 L1210.8,1999.1 L1210.5,1999.0 L1210.6,1998.8 L1210.4,1998.7 L1210.5,1998.5 L1210.3,1998.3 L1210.1,1998.6 L1209.9,1998.5 L1209.7,1998.8 L1209.5,1998.7 L1209.6,1998.4 L1209.4,1998.3 L1209.3,1998.5 L1209.1,1998.3 L1209.2,1998.1 L1209.0,1997.9 L1209.1,1997.8 L1208.9,1997.6 L1209.4,1996.9 L1209.2,1996.7 L1208.3,1998.0 L1208.1,1997.9 L1209.2,1996.2 L1209.0,1996.1 L1207.9,1997.6 L1207.7,1997.5 L1205.0,2001.5 L1204.8,2001.4 L1207.5,1997.3 L1207.3,1997.1 L1209.0,1994.6 A118.5,118.5 0 0 0 1267.2,2014.7 Z" fill="#555" stroke="#555" stroke-width="0.4"/>
<path d="M1238.3,2009.0L1230.4,2032.8M1221.6,2002.0L1213.0,2018.8" fill="none" stroke="#444" stroke-width="1"/>
<path d="M1253.2,2214.9 A319.2,319.2 0 0 1 1096.5,2160.8 L1108.0,2143.8 A298.7,298.7 0 0 0 1254.6,2194.4 Z" fill="#FFCCCC" stroke="#555" stroke-width="0.7"/>
<path d="M1253.2,2214.9L1252.7,2222.5M1225.7,2211.8L1224.6,2219.3M1198.7,2206.3L1196.8,2213.7M1172.2,2198.5L1169.7,2205.7M1146.4,2188.4L1143.4,2195.4M1121.7,2176.2L1118.0,2182.8M1098.1,2161.8L1093.8,2168.1" stroke="#111" stroke-width="1.9" fill="none"/>
<path d="M1247.7,2214.4L1247.3,2218.2M1242.2,2213.9L1241.8,2217.7M1236.7,2213.3L1236.2,2217.1M1231.2,2212.6L1230.7,2216.3M1220.3,2210.9L1219.6,2214.6M1214.9,2209.8L1214.1,2213.6M1209.4,2208.8L1208.7,2212.5M1204.0,2207.6L1203.2,2211.3M1193.3,2204.9L1192.3,2208.6M1188.0,2203.4L1186.9,2207.1M1182.7,2201.9L1181.6,2205.5M1177.4,2200.2L1176.2,2203.8M1167.0,2196.6L1165.7,2200.2M1161.8,2194.7L1160.4,2198.3M1156.6,2192.7L1155.2,2196.2M1151.5,2190.6L1150.0,2194.1M1141.4,2186.1L1139.8,2189.6M1136.4,2183.8L1134.8,2187.2M1131.5,2181.3L1129.7,2184.7M1126.5,2178.8L1124.8,2182.2M1116.9,2173.5L1115.0,2176.8M1112.1,2170.7L1110.1,2173.9M1107.4,2167.8L1105.4,2171.0M1102.7,2164.9L1100.6,2168.1" stroke="#222" stroke-width="1.0" fill="none"/>
<text x="1252.41" y="2226.69" font-size="14" fill="#505050" text-anchor="end" transform="rotate(-86.000 1252.41 2226.69)" dominant-baseline="central">0</text>
<text x="1223.95" y="2223.46" font-size="14" fill="#505050" text-anchor="end" transform="rotate(-81.040 1223.95 2223.46)" dominant-baseline="central">500</text>
<text x="1195.87" y="2217.78" font-size="14" fill="#505050" text-anchor="end" transform="rotate(-76.080 1195.87 2217.78)" dominant-baseline="central">1000</text>
<text x="1168.39" y="2209.69" font-size="14" fill="#505050" text-anchor="end" transform="rotate(-71.120 1168.39 2209.69)" dominant-baseline="central">1500</text>
<text x="1141.72" y="2199.26" font-size="14" fill="#505050" text-anchor="end" transform="rotate(-66.160 1141.72 2199.26)" dominant-baseline="central">2000</text>
<text x="1116.04" y="2186.56" font-size="14" fill="#505050" text-anchor="end" transform="rotate(-61.200 1116.04 2186.56)" dominant-baseline="central">2500</text>
<text x="1091.56" y="2171.68" font-size="14" fill="#505050" text-anchor="end" transform="rotate(-56.240 1091.56 2171.68)" dominant-baseline="central">3000</text>
<text x="1180.04" y="2172.98" font-size="14.5" fill="#505050" text-anchor="middle" textLength="35.50" lengthAdjust="spacingAndGlyphs" transform="rotate(19.049 1180.04 2172.98)" dominant-baseline="central">Chr01</text>
<path d="M1118.6,2113.5 A267.8,267.8 0 0 1 1045.8,2034.2 L1075.2,2016.5 A233.5,233.5 0 0 0 1138.7,2085.7 Z" fill="#f3f3f3"/>
<path d="M1138.0,2086.6 A234.6,234.6 0 0 1 1074.2,2017.1 M1136.7,2088.5 A236.9,236.9 0 0 1 1072.3,2018.3 M1135.4,2090.4 A239.2,239.2 0 0 1 1070.3,2019.5 M1134.0,2092.2 A241.5,241.5 0 0 1 1068.3,2020.6 M1132.7,2094.1 A243.7,243.7 0 0 1 1066.4,2021.8 M1131.3,2095.9 A246.0,246.0 0 0 1 1064.4,2023.0 M1130.0,2097.8 A248.3,248.3 0 0 1 1062.4,2024.2 M1128.7,2099.6 A250.6,250.6 0 0 1 1060.5,2025.4 M1127.3,2101.5 A252.9,252.9 0 0 1 1058.5,2026.5 M1126.0,2103.3 A255.2,255.2 0 0 1 1056.6,2027.7 M1124.6,2105.2 A257.5,257.5 0 0 1 1054.6,2028.9 M1123.3,2107.0 A259.8,259.8 0 0 1 1052.6,2030.1 M1122.0,2108.9 A262.0,262.0 0 0 1 1050.7,2031.2 M1120.6,2110.7 A264.3,264.3 0 0 1 1048.7,2032.4 M1119.3,2112.6 A266.6,266.6 0 0 1 1046.8,2033.6" fill="none" stroke="#c6c6c6" stroke-width="0.85"/>
<path d="M1142.5,2080.5 A227.0,227.0 0 0 1 1080.8,2013.2 L1107.5,1997.1 A195.8,195.8 0 0 0 1160.8,2055.2 Z" fill="#dadada"/>
<path d="M1160.2,2056.0 A196.7,196.7 0 0 1 1106.7,1997.6 M1159.1,2057.5 A198.7,198.7 0 0 1 1105.0,1998.6 M1157.9,2059.1 A200.6,200.6 0 0 1 1103.3,1999.7 M1156.8,2060.7 A202.6,202.6 0 0 1 1101.7,2000.7 M1155.6,2062.3 A204.5,204.5 0 0 1 1100.0,2001.7 M1154.5,2063.9 A206.5,206.5 0 0 1 1098.3,2002.7 M1153.4,2065.4 A208.4,208.4 0 0 1 1096.7,2003.7 M1152.2,2067.0 A210.4,210.4 0 0 1 1095.0,2004.7 M1151.1,2068.6 A212.3,212.3 0 0 1 1093.3,2005.7 M1149.9,2070.2 A214.3,214.3 0 0 1 1091.6,2006.7 M1148.8,2071.8 A216.2,216.2 0 0 1 1090.0,2007.7 M1147.6,2073.3 A218.2,218.2 0 0 1 1088.3,2008.7 M1146.5,2074.9 A220.1,220.1 0 0 1 1086.6,2009.7 M1145.4,2076.5 A222.1,222.1 0 0 1 1085.0,2010.7 M1144.2,2078.1 A224.0,224.0 0 0 1 1083.3,2011.7 M1143.1,2079.7 A226.0,226.0 0 0 1 1081.6,2012.7" fill="none" stroke="#c6c6c6" stroke-width="0.7"/>
<path d="M1164.8,2049.6 A189.0,189.0 0 0 1 1113.4,1993.6 L1141.2,1976.9 A156.5,156.5 0 0 0 1183.8,2023.3 Z" fill="#f0f0f0"/>
<path d="M1166.2,2047.6 A186.5,186.5 0 0 1 1115.5,1992.4 M1182.9,2024.5 A158.0,158.0 0 0 1 1139.9,1977.7" fill="none" stroke="#c8c8c8" stroke-width="1.0"/>
<path d="M1186.1,2020.1 A152.5,152.5 0 0 1 1144.7,1974.9 L1173.8,1957.4 A118.5,118.5 0 0 0 1206.1,1992.5 Z" fill="#f1f1f1"/>
<path d="M1202.9,1996.9 A123.9,123.9 0 0 1 1169.2,1960.2 M1199.7,2001.3 A129.3,129.3 0 0 1 1164.6,1962.9 M1196.6,2005.6 A134.7,134.7 0 0 1 1159.9,1965.7 M1193.4,2010.0 A140.1,140.1 0 0 1 1155.3,1968.5 M1190.2,2014.4 A145.5,145.5 0 0 1 1150.7,1971.3 M1187.1,2018.8 A150.9,150.9 0 0 1 1146.0,1974.1" fill="none" stroke="#c9c9c9" stroke-width="1.0"/>
<path d="M1160.8,2055.2 L1156.9,2060.6 L1156.4,2060.3 L1157.2,2059.2 L1156.8,2058.9 L1155.5,2060.7 L1155.1,2060.4 L1156.6,2058.3 L1156.2,2058.0 L1155.8,2058.7 L1155.4,2058.4 L1154.2,2059.9 L1153.8,2059.6 L1152.7,2061.1 L1152.3,2060.8 L1153.2,2059.6 L1152.8,2059.3 L1153.9,2057.8 L1153.5,2057.5 L1145.4,2068.2 L1144.9,2067.9 L1151.6,2059.2 L1151.2,2058.8 L1151.9,2058.0 L1151.5,2057.6 L1149.9,2059.7 L1149.5,2059.4 L1148.9,2060.1 L1148.5,2059.8 L1151.2,2056.3 L1150.8,2056.0 L1151.8,2054.8 L1151.4,2054.5 L1148.2,2058.5 L1147.8,2058.2 L1150.3,2055.0 L1149.9,2054.7 L1150.2,2054.3 L1149.8,2054.0 L1149.5,2054.4 L1149.1,2054.1 L1146.7,2057.1 L1146.3,2056.8 L1148.9,2053.6 L1148.5,2053.3 L1148.4,2053.3 L1148.0,2053.0 L1146.9,2054.4 L1146.5,2054.1 L1145.0,2055.8 L1144.7,2055.5 L1144.9,2055.3 L1144.5,2054.9 L1146.8,2052.1 L1146.4,2051.8 L1147.0,2051.1 L1146.6,2050.7 L1144.7,2053.1 L1144.3,2052.7 L1145.9,2050.8 L1145.5,2050.5 L1145.3,2050.7 L1144.9,2050.4 L1144.6,2050.9 L1144.2,2050.5 L1140.8,2054.5 L1140.4,2054.2 L1141.0,2053.4 L1140.7,2053.1 L1140.9,2052.7 L1140.6,2052.4 L1142.6,2050.1 L1142.2,2049.7 L1138.9,2053.5 L1138.5,2053.1 L1141.6,2049.6 L1141.2,2049.3 L1140.2,2050.5 L1139.8,2050.1 L1141.4,2048.4 L1141.0,2048.0 L1140.2,2048.9 L1139.8,2048.6 L1138.2,2050.4 L1137.8,2050.1 L1138.8,2048.9 L1138.5,2048.6 L1136.8,2050.3 L1136.5,2050.0 L1138.2,2048.1 L1137.8,2047.7 L1137.7,2047.9 L1137.3,2047.5 L1137.2,2047.7 L1136.8,2047.4 L1137.0,2047.1 L1136.6,2046.8 L1135.6,2047.9 L1135.2,2047.6 L1137.8,2044.8 L1137.4,2044.4 L1136.0,2045.9 L1135.6,2045.6 L1133.4,2047.9 L1133.0,2047.6 L1137.4,2042.9 L1137.1,2042.6 L1135.5,2044.2 L1135.2,2043.9 L1132.2,2047.0 L1131.8,2046.7 L1133.4,2045.0 L1133.0,2044.6 L1133.0,2044.7 L1132.6,2044.3 L1135.5,2041.4 L1135.1,2041.0 L1134.7,2041.4 L1134.4,2041.0 L1132.1,2043.4 L1131.7,2043.0 L1129.9,2044.9 L1129.5,2044.5 L1131.7,2042.3 L1131.4,2041.9 L1124.1,2049.3 L1123.7,2048.9 L1126.0,2046.5 L1125.7,2046.2 L1128.9,2042.9 L1128.5,2042.6 L1130.8,2040.4 L1130.4,2040.0 L1131.8,2038.6 L1131.5,2038.2 L1128.9,2040.8 L1128.5,2040.4 L1129.4,2039.5 L1129.1,2039.1 L1130.7,2037.6 L1130.3,2037.2 L1129.7,2037.9 L1129.3,2037.5 L1128.9,2037.9 L1128.5,2037.6 L1125.8,2040.1 L1125.5,2039.7 L1124.9,2040.3 L1124.5,2039.9 L1125.2,2039.3 L1124.8,2039.0 L1125.1,2038.7 L1124.7,2038.3 L1128.5,2034.8 L1128.1,2034.4 L1124.3,2038.1 L1123.9,2037.7 L1125.8,2035.9 L1125.4,2035.6 L1123.9,2037.0 L1123.5,2036.6 L1124.6,2035.6 L1124.2,2035.3 L1123.8,2035.6 L1123.5,2035.3 L1122.0,2036.6 L1121.7,2036.2 L1122.1,2035.8 L1121.8,2035.4 L1123.1,2034.2 L1122.7,2033.8 L1120.7,2035.7 L1120.3,2035.3 L1124.1,2031.9 L1123.8,2031.5 L1123.6,2031.7 L1123.2,2031.4 L1119.2,2034.9 L1118.9,2034.5 L1122.7,2031.1 L1122.4,2030.7 L1122.9,2030.3 L1122.6,2029.9 L1119.2,2032.8 L1118.9,2032.4 L1122.8,2029.0 L1122.5,2028.6 L1121.2,2029.7 L1120.9,2029.3 L1120.0,2030.1 L1119.7,2029.7 L1116.0,2032.8 L1115.7,2032.4 L1116.6,2031.7 L1116.2,2031.3 L1110.6,2036.1 L1110.2,2035.7 L1116.5,2030.4 L1116.2,2030.0 L1118.7,2027.8 L1118.4,2027.5 L1119.0,2026.9 L1118.7,2026.6 L1115.7,2029.0 L1115.4,2028.6 L1118.8,2025.8 L1118.5,2025.4 L1112.6,2030.2 L1112.3,2029.8 L1114.8,2027.8 L1114.4,2027.4 L1114.0,2027.7 L1113.7,2027.3 L1118.4,2023.5 L1118.1,2023.1 L1114.9,2025.6 L1114.6,2025.2 L1113.3,2026.3 L1113.0,2025.9 L1110.8,2027.6 L1110.5,2027.2 L1113.6,2024.7 L1113.3,2024.3 L1113.2,2024.4 L1112.9,2023.9 L1116.0,2021.5 L1115.7,2021.1 L1110.7,2025.0 L1110.4,2024.6 L1114.0,2021.8 L1113.7,2021.4 L1108.2,2025.7 L1107.8,2025.2 L1111.9,2022.1 L1111.6,2021.7 L1108.7,2023.9 L1108.3,2023.5 L1112.4,2020.4 L1112.1,2020.0 L1110.7,2021.1 L1110.4,2020.7 L1108.2,2022.3 L1107.9,2021.9 L1113.1,2018.0 L1112.8,2017.6 L1106.1,2022.6 L1105.8,2022.1 L1112.1,2017.5 L1111.8,2017.1 L1112.0,2016.9 L1111.7,2016.5 L1106.4,2020.4 L1106.0,2020.0 L1105.0,2020.8 L1104.7,2020.3 L1101.3,2022.8 L1101.0,2022.4 L1108.1,2017.2 L1107.8,2016.8 L1104.5,2019.2 L1104.2,2018.7 L1104.3,2018.7 L1104.0,2018.3 L1109.2,2014.5 L1108.9,2014.1 L1108.6,2014.3 L1108.3,2013.9 L1109.4,2013.2 L1109.1,2012.7 L1104.3,2016.1 L1104.1,2015.6 L1108.8,2012.3 L1108.5,2011.9 L1100.8,2017.2 L1100.5,2016.8 L1104.0,2014.4 L1103.7,2014.0 L1107.4,2011.5 L1107.1,2011.0 L1101.0,2015.2 L1100.7,2014.8 L1106.6,2010.8 L1106.3,2010.4 L1100.3,2014.4 L1100.0,2014.0 L1103.8,2011.4 L1103.6,2011.0 L1104.7,2010.2 L1104.4,2009.8 L1099.6,2013.0 L1099.3,2012.5 L1104.3,2009.2 L1104.1,2008.8 L1099.6,2011.7 L1099.3,2011.3 L1098.7,2011.7 L1098.4,2011.2 L1103.1,2008.2 L1102.8,2007.7 L1099.2,2010.1 L1098.9,2009.7 L1102.1,2007.6 L1101.8,2007.2 L1103.6,2006.0 L1103.4,2005.6 L1095.4,2010.7 L1095.1,2010.2 L1101.3,2006.3 L1101.1,2005.8 L1099.1,2007.0 L1098.8,2006.6 L1096.0,2008.4 L1095.8,2007.9 L1101.7,2004.2 L1101.4,2003.8 L1093.3,2008.8 L1093.0,2008.3 L1094.7,2007.3 L1094.4,2006.9 L1095.0,2006.5 L1094.7,2006.1 L1096.3,2005.1 L1096.0,2004.6 L1095.0,2005.3 L1094.7,2004.8 L1107.5,1997.1 A195.8,195.8 0 0 0 1160.8,2055.2 Z" fill="#d7191c" stroke="#d7191c" stroke-width="0.25"/>
<path d="M1138.7,2085.7 L1137.7,2087.1 L1137.2,2086.8 L1137.6,2086.3 L1137.1,2086.0 L1136.7,2086.5 L1136.2,2086.2 L1136.5,2085.7 L1136.0,2085.4 L1136.1,2085.3 L1135.7,2084.9 L1135.5,2085.1 L1135.0,2084.8 L1134.7,2085.2 L1134.2,2084.9 L1134.4,2084.6 L1134.0,2084.2 L1134.3,2083.9 L1133.8,2083.5 L1133.5,2083.9 L1133.0,2083.5 L1132.8,2083.8 L1132.4,2083.4 L1132.7,2083.0 L1132.2,2082.7 L1131.9,2083.0 L1131.5,2082.7 L1132.0,2082.0 L1131.5,2081.7 L1131.4,2081.8 L1130.9,2081.5 L1130.5,2082.0 L1130.1,2081.6 L1130.4,2081.2 L1129.9,2080.8 L1129.6,2081.3 L1129.1,2080.9 L1129.6,2080.3 L1129.2,2079.9 L1129.0,2080.1 L1128.5,2079.7 L1128.3,2080.0 L1127.9,2079.6 L1127.7,2079.8 L1127.3,2079.4 L1127.9,2078.6 L1127.5,2078.3 L1127.5,2078.2 L1127.1,2077.8 L1127.0,2077.9 L1126.5,2077.6 L1126.4,2077.7 L1125.9,2077.4 L1125.9,2077.4 L1125.4,2077.0 L1125.3,2077.2 L1124.8,2076.8 L1125.1,2076.5 L1124.7,2076.1 L1124.5,2076.3 L1124.0,2076.0 L1124.0,2076.0 L1123.6,2075.6 L1123.2,2076.1 L1122.8,2075.7 L1123.5,2074.8 L1123.0,2074.4 L1122.6,2074.9 L1122.2,2074.5 L1122.0,2074.7 L1121.6,2074.3 L1121.8,2074.0 L1121.4,2073.7 L1121.6,2073.4 L1121.1,2073.1 L1120.9,2073.4 L1120.4,2073.0 L1120.7,2072.7 L1120.2,2072.3 L1118.4,2074.3 L1118.0,2073.9 L1119.7,2072.0 L1119.2,2071.7 L1118.8,2072.2 L1118.3,2071.8 L1118.7,2071.3 L1118.3,2071.0 L1118.0,2071.3 L1117.5,2070.9 L1117.8,2070.6 L1117.4,2070.2 L1117.2,2070.4 L1116.8,2070.0 L1116.7,2070.0 L1116.3,2069.6 L1116.4,2069.6 L1116.0,2069.2 L1116.3,2068.8 L1115.8,2068.4 L1114.3,2070.0 L1113.9,2069.6 L1115.1,2068.3 L1114.7,2067.9 L1114.5,2068.1 L1114.1,2067.7 L1114.4,2067.4 L1113.9,2067.0 L1114.2,2066.7 L1113.8,2066.3 L1113.6,2066.5 L1113.2,2066.1 L1113.3,2066.0 L1112.8,2065.6 L1112.5,2066.0 L1112.1,2065.6 L1112.3,2065.3 L1111.9,2064.9 L1112.0,2064.8 L1111.6,2064.4 L1109.3,2066.7 L1108.8,2066.3 L1111.3,2063.9 L1110.8,2063.5 L1110.6,2063.7 L1110.2,2063.3 L1110.4,2063.1 L1110.0,2062.7 L1110.1,2062.6 L1109.6,2062.2 L1109.3,2062.6 L1108.8,2062.1 L1108.7,2062.3 L1108.3,2061.9 L1108.6,2061.5 L1108.2,2061.1 L1108.3,2061.0 L1107.9,2060.6 L1107.7,2060.8 L1107.3,2060.4 L1107.5,2060.1 L1107.1,2059.7 L1104.3,2062.5 L1103.9,2062.0 L1106.5,2059.5 L1106.1,2059.1 L1105.6,2059.6 L1105.2,2059.1 L1105.7,2058.6 L1105.3,2058.2 L1105.5,2058.0 L1105.1,2057.6 L1105.0,2057.7 L1104.6,2057.3 L1104.0,2057.8 L1103.6,2057.4 L1104.1,2056.9 L1103.7,2056.5 L1104.0,2056.2 L1103.6,2055.8 L1103.0,2056.3 L1102.6,2055.9 L1102.9,2055.7 L1102.5,2055.2 L1102.7,2055.0 L1102.3,2054.6 L1102.1,2054.8 L1101.7,2054.4 L1101.6,2054.5 L1101.2,2054.0 L1101.6,2053.6 L1101.2,2053.2 L1100.9,2053.5 L1100.5,2053.1 L1100.3,2053.2 L1099.9,2052.8 L1099.9,2052.8 L1099.5,2052.4 L1099.6,2052.3 L1099.2,2051.8 L1099.7,2051.5 L1099.3,2051.0 L1099.0,2051.2 L1098.6,2050.8 L1095.4,2053.6 L1095.0,2053.2 L1098.2,2050.4 L1097.8,2050.0 L1097.8,2050.0 L1097.4,2049.5 L1097.8,2049.2 L1097.4,2048.8 L1097.1,2049.0 L1096.7,2048.6 L1096.3,2049.0 L1095.9,2048.5 L1096.5,2048.0 L1096.2,2047.5 L1095.6,2048.0 L1095.2,2047.5 L1095.5,2047.3 L1095.1,2046.9 L1095.2,2046.8 L1094.8,2046.3 L1094.6,2046.6 L1094.2,2046.1 L1094.5,2045.8 L1094.1,2045.4 L1093.8,2045.6 L1093.4,2045.2 L1093.2,2045.4 L1092.9,2044.9 L1092.9,2044.8 L1092.6,2044.4 L1092.8,2044.2 L1092.5,2043.7 L1092.2,2043.9 L1091.9,2043.4 L1092.2,2043.2 L1091.8,2042.7 L1092.0,2042.6 L1091.6,2042.2 L1091.4,2042.3 L1091.0,2041.9 L1090.7,2042.1 L1090.4,2041.6 L1090.4,2041.6 L1090.1,2041.1 L1090.7,2040.7 L1090.3,2040.2 L1090.0,2040.4 L1089.6,2040.0 L1089.4,2040.1 L1089.0,2039.7 L1089.6,2039.3 L1089.2,2038.8 L1088.7,2039.2 L1088.3,2038.7 L1085.7,2040.7 L1085.3,2040.3 L1088.5,2037.9 L1088.2,2037.4 L1087.3,2038.0 L1086.9,2037.6 L1087.1,2037.5 L1086.7,2037.0 L1087.1,2036.8 L1086.7,2036.3 L1086.9,2036.1 L1086.6,2035.7 L1086.1,2036.0 L1085.7,2035.6 L1086.4,2035.1 L1086.0,2034.6 L1085.6,2034.9 L1085.2,2034.5 L1085.6,2034.2 L1085.2,2033.8 L1084.7,2034.1 L1084.4,2033.6 L1085.0,2033.2 L1084.7,2032.7 L1084.4,2032.9 L1084.0,2032.4 L1083.5,2032.8 L1083.1,2032.3 L1083.4,2032.1 L1083.1,2031.7 L1083.2,2031.6 L1082.8,2031.1 L1082.6,2031.3 L1082.3,2030.8 L1082.7,2030.5 L1082.3,2030.0 L1082.1,2030.2 L1081.8,2029.7 L1082.1,2029.5 L1081.8,2029.0 L1081.6,2029.1 L1081.2,2028.7 L1080.9,2028.9 L1080.6,2028.4 L1081.0,2028.1 L1080.7,2027.6 L1080.4,2027.8 L1080.0,2027.3 L1080.6,2027.0 L1080.3,2026.5 L1079.7,2026.8 L1079.4,2026.3 L1079.3,2026.4 L1079.0,2025.9 L1079.2,2025.8 L1078.9,2025.3 L1079.1,2025.1 L1078.8,2024.6 L1078.6,2024.8 L1078.3,2024.3 L1077.9,2024.5 L1077.6,2024.0 L1075.8,2025.2 L1075.5,2024.7 L1074.9,2025.0 L1074.6,2024.5 L1077.8,2022.5 L1077.5,2022.0 L1076.8,2022.4 L1076.5,2021.9 L1076.5,2021.9 L1076.2,2021.4 L1076.6,2021.2 L1076.3,2020.7 L1076.1,2020.8 L1075.8,2020.3 L1075.7,2020.3 L1075.4,2019.8 L1076.0,2019.5 L1075.7,2019.0 L1075.2,2019.2 L1074.9,2018.7 L1075.4,2018.5 L1075.1,2018.0 L1074.4,2018.4 L1074.1,2017.9 L1074.3,2017.8 L1074.0,2017.3 L1075.2,2016.5 A233.5,233.5 0 0 0 1138.7,2085.7 Z" fill="#2e9a4d" stroke="#2e9a4d" stroke-width="0.6"/>
<path d="M1183.3,2024.0 A157.3,157.3 0 0 1 1140.5,1977.3" fill="none" stroke="#3a7dc4" stroke-width="1.4"/>
<path d="M1156.3,1997.9L1151.5,2002.1M1143.3,1980.2L1126.3,1991.0M1166.9,2009.2L1153.9,2022.7M1166.3,2008.6L1154.5,2020.6M1169.9,2012.0L1160.9,2021.9M1169.2,2011.3L1162.2,2018.8M1158.6,2000.5L1151.5,2006.8M1158.2,2000.1L1151.8,2005.7M1145.7,1983.9L1135.9,1990.5M1144.9,1982.8L1137.6,1987.7M1151.9,1992.5L1147.1,1996.2M1143.1,1980.0L1131.0,1987.7" fill="none" stroke="#3a7dc4" stroke-width="1.3"/>
<path d="M1206.1,1992.5 L1204.2,1995.0 L1204.0,1994.9 L1204.1,1994.8 L1203.9,1994.6 L1203.8,1994.8 L1203.5,1994.6 L1204.3,1993.6 L1204.1,1993.5 L1201.4,1997.0 L1201.2,1996.9 L1203.7,1993.5 L1203.5,1993.3 L1204.1,1992.6 L1203.8,1992.4 L1202.5,1994.2 L1202.3,1994.1 L1203.8,1992.1 L1203.6,1991.9 L1202.5,1993.4 L1202.3,1993.2 L1202.4,1993.1 L1202.2,1992.9 L1201.8,1993.4 L1201.6,1993.3 L1201.7,1993.1 L1201.4,1993.0 L1201.3,1993.2 L1201.1,1993.0 L1201.5,1992.5 L1201.3,1992.3 L1202.1,1991.3 L1201.9,1991.1 L1201.8,1991.2 L1201.6,1991.1 L1201.4,1991.3 L1201.2,1991.1 L1200.3,1992.3 L1200.0,1992.2 L1200.3,1991.9 L1200.1,1991.7 L1200.8,1990.8 L1200.6,1990.6 L1200.9,1990.2 L1200.7,1990.1 L1200.3,1990.6 L1200.1,1990.4 L1199.9,1990.6 L1199.7,1990.4 L1200.5,1989.4 L1200.3,1989.3 L1199.9,1989.8 L1199.7,1989.6 L1199.3,1990.1 L1199.1,1990.0 L1199.1,1989.9 L1198.9,1989.7 L1196.2,1993.0 L1196.0,1992.9 L1198.5,1989.9 L1198.3,1989.7 L1198.3,1989.6 L1198.1,1989.5 L1198.0,1989.6 L1197.8,1989.5 L1198.9,1988.2 L1198.7,1988.0 L1197.8,1989.0 L1197.6,1988.8 L1197.0,1989.6 L1196.8,1989.4 L1197.5,1988.6 L1197.3,1988.4 L1198.2,1987.4 L1198.0,1987.2 L1197.5,1987.8 L1197.3,1987.6 L1196.2,1988.8 L1196.0,1988.7 L1197.3,1987.1 L1197.2,1987.0 L1195.8,1988.5 L1195.6,1988.3 L1196.0,1987.9 L1195.8,1987.7 L1195.7,1987.9 L1195.5,1987.7 L1196.1,1986.9 L1195.9,1986.8 L1196.1,1986.6 L1195.9,1986.4 L1195.2,1987.2 L1195.0,1987.0 L1195.4,1986.6 L1195.2,1986.4 L1195.6,1985.9 L1195.4,1985.7 L1194.9,1986.4 L1194.7,1986.2 L1195.4,1985.4 L1195.2,1985.2 L1195.0,1985.4 L1194.8,1985.3 L1193.8,1986.4 L1193.6,1986.2 L1194.0,1985.7 L1193.8,1985.5 L1193.5,1985.9 L1193.3,1985.7 L1193.6,1985.4 L1193.4,1985.2 L1193.4,1985.2 L1193.2,1985.1 L1190.1,1988.4 L1189.9,1988.2 L1193.5,1984.4 L1193.3,1984.2 L1193.0,1984.5 L1192.8,1984.3 L1193.5,1983.5 L1193.4,1983.3 L1192.3,1984.4 L1192.1,1984.2 L1193.2,1983.1 L1193.0,1982.9 L1192.5,1983.5 L1192.3,1983.3 L1191.4,1984.3 L1191.2,1984.1 L1192.3,1982.9 L1192.1,1982.7 L1191.9,1983.0 L1191.7,1982.8 L1190.8,1983.7 L1190.7,1983.5 L1190.4,1983.7 L1190.2,1983.5 L1190.8,1983.0 L1190.6,1982.8 L1191.5,1981.9 L1191.3,1981.7 L1190.1,1982.9 L1190.0,1982.7 L1191.3,1981.3 L1191.1,1981.2 L1189.8,1982.5 L1189.6,1982.3 L1189.6,1982.3 L1189.4,1982.1 L1190.6,1980.9 L1190.4,1980.8 L1188.2,1982.9 L1188.0,1982.7 L1188.7,1982.0 L1188.5,1981.8 L1188.8,1981.6 L1188.6,1981.4 L1189.5,1980.5 L1189.3,1980.4 L1188.6,1981.0 L1188.5,1980.8 L1188.8,1980.5 L1188.6,1980.3 L1188.5,1980.4 L1188.3,1980.2 L1188.8,1979.7 L1188.6,1979.6 L1186.1,1982.0 L1185.9,1981.8 L1188.6,1979.2 L1188.4,1979.0 L1188.7,1978.7 L1188.6,1978.5 L1187.7,1979.4 L1187.5,1979.2 L1187.8,1978.9 L1187.6,1978.7 L1186.6,1979.6 L1186.4,1979.4 L1188.1,1977.9 L1187.9,1977.7 L1187.3,1978.3 L1187.1,1978.1 L1187.4,1977.8 L1187.2,1977.6 L1186.0,1978.8 L1185.8,1978.6 L1186.4,1978.0 L1186.2,1977.8 L1186.0,1978.0 L1185.8,1977.9 L1186.7,1977.1 L1186.5,1976.9 L1185.7,1977.6 L1185.5,1977.4 L1186.5,1976.5 L1186.3,1976.4 L1185.3,1977.2 L1185.1,1977.0 L1185.0,1977.1 L1184.9,1976.9 L1186.2,1975.7 L1186.1,1975.5 L1184.6,1976.8 L1184.4,1976.6 L1185.7,1975.5 L1185.5,1975.3 L1184.0,1976.6 L1183.8,1976.4 L1184.8,1975.6 L1184.6,1975.4 L1184.5,1975.5 L1184.3,1975.3 L1184.2,1975.4 L1184.0,1975.2 L1184.0,1975.2 L1183.8,1975.0 L1183.3,1975.5 L1183.1,1975.3 L1184.1,1974.4 L1184.0,1974.2 L1183.5,1974.6 L1183.3,1974.4 L1182.3,1975.2 L1182.1,1975.0 L1182.6,1974.7 L1182.4,1974.5 L1182.7,1974.2 L1182.5,1974.0 L1182.8,1973.8 L1182.6,1973.6 L1183.3,1973.0 L1183.2,1972.8 L1181.8,1974.0 L1181.6,1973.7 L1182.3,1973.2 L1182.1,1973.0 L1181.2,1973.8 L1181.0,1973.5 L1181.2,1973.4 L1181.0,1973.2 L1182.5,1972.0 L1182.4,1971.8 L1181.5,1972.5 L1181.3,1972.3 L1182.2,1971.6 L1182.0,1971.4 L1181.9,1971.5 L1181.8,1971.2 L1182.0,1971.1 L1181.8,1970.9 L1180.0,1972.3 L1179.8,1972.1 L1180.0,1972.0 L1179.8,1971.8 L1180.9,1970.9 L1180.7,1970.7 L1180.4,1971.0 L1180.2,1970.8 L1181.0,1970.2 L1180.9,1970.0 L1180.8,1970.0 L1180.6,1969.8 L1180.2,1970.1 L1180.0,1969.9 L1179.8,1970.1 L1179.7,1969.9 L1179.7,1969.8 L1179.6,1969.6 L1180.1,1969.2 L1180.0,1969.0 L1180.0,1968.9 L1179.9,1968.7 L1178.3,1969.9 L1178.1,1969.7 L1178.6,1969.3 L1178.5,1969.1 L1178.0,1969.5 L1177.9,1969.2 L1179.1,1968.3 L1179.0,1968.1 L1178.7,1968.3 L1178.6,1968.1 L1178.0,1968.5 L1177.9,1968.2 L1178.4,1967.8 L1178.3,1967.6 L1177.5,1968.2 L1177.3,1968.0 L1178.8,1966.9 L1178.6,1966.7 L1178.3,1967.0 L1178.1,1966.8 L1177.6,1967.1 L1177.4,1966.9 L1176.4,1967.6 L1176.3,1967.4 L1178.1,1966.1 L1178.0,1965.9 L1177.1,1966.5 L1177.0,1966.3 L1177.5,1965.9 L1177.4,1965.7 L1177.1,1965.9 L1177.0,1965.6 L1176.1,1966.2 L1176.0,1966.0 L1177.7,1964.8 L1177.5,1964.6 L1176.1,1965.6 L1176.0,1965.4 L1175.4,1965.8 L1175.2,1965.6 L1177.2,1964.2 L1177.0,1964.0 L1175.9,1964.8 L1175.8,1964.5 L1176.9,1963.8 L1176.8,1963.6 L1176.1,1964.0 L1175.9,1963.8 L1175.8,1963.9 L1175.7,1963.7 L1176.2,1963.3 L1176.1,1963.1 L1175.1,1963.7 L1175.0,1963.5 L1175.2,1963.4 L1175.0,1963.1 L1175.8,1962.6 L1175.7,1962.4 L1175.6,1962.4 L1175.5,1962.2 L1175.5,1962.2 L1175.4,1961.9 L1173.6,1963.1 L1173.4,1962.9 L1173.2,1963.0 L1173.1,1962.8 L1173.4,1962.6 L1173.2,1962.4 L1174.3,1961.7 L1174.1,1961.5 L1173.6,1961.9 L1173.4,1961.6 L1173.9,1961.4 L1173.7,1961.1 L1174.4,1960.7 L1174.2,1960.5 L1173.3,1961.1 L1173.1,1960.9 L1173.9,1960.4 L1173.8,1960.2 L1173.0,1960.7 L1172.8,1960.5 L1173.2,1960.2 L1173.1,1960.0 L1172.1,1960.6 L1171.9,1960.4 L1172.4,1960.1 L1172.3,1959.9 L1173.3,1959.2 L1173.2,1959.0 L1171.4,1960.1 L1171.3,1959.9 L1172.3,1959.2 L1172.1,1959.0 L1172.8,1958.6 L1172.7,1958.4 L1171.9,1958.9 L1171.7,1958.7 L1173.8,1957.4 A118.5,118.5 0 0 0 1206.1,1992.5 Z" fill="#555" stroke="#555" stroke-width="0.4"/>
<path d="M1189.8,1978.3L1171.8,1995.5" fill="none" stroke="#444" stroke-width="1"/>
<path d="M1088.5,2155.2 A319.2,319.2 0 0 1 1001.7,2060.6 L1019.3,2050.1 A298.7,298.7 0 0 0 1100.5,2138.6 Z" fill="#FF9900" stroke="#555" stroke-width="0.7"/>
<path d="M1088.5,2155.2L1084.1,2161.3M1066.8,2138.1L1061.9,2143.8M1046.7,2119.1L1041.3,2124.4M1028.3,2098.5L1022.5,2103.3M1011.8,2076.4L1005.5,2080.7" stroke="#111" stroke-width="1.9" fill="none"/>
<path d="M1084.1,2151.9L1081.8,2154.9M1079.7,2148.6L1077.3,2151.6M1075.3,2145.1L1072.9,2148.1M1071.1,2141.6L1068.6,2144.5M1062.7,2134.4L1060.2,2137.2M1058.6,2130.7L1056.0,2133.5M1054.6,2126.9L1051.9,2129.6M1050.6,2123.0L1047.9,2125.7M1042.9,2115.1L1040.1,2117.7M1039.2,2111.1L1036.3,2113.6M1035.5,2106.9L1032.6,2109.4M1031.9,2102.7L1029.0,2105.2M1024.9,2094.2L1021.9,2096.5M1021.5,2089.8L1018.5,2092.1M1018.2,2085.4L1015.1,2087.6M1015.0,2080.9L1011.8,2083.1M1008.7,2071.8L1005.5,2073.9M1005.7,2067.1L1002.5,2069.2M1002.8,2062.4L999.6,2064.4" stroke="#222" stroke-width="1.0" fill="none"/>
<text x="1081.64" y="2164.79" font-size="14" fill="#505050" text-anchor="end" transform="rotate(-54.150 1081.64 2164.79)" dominant-baseline="central">0</text>
<text x="1059.17" y="2147.03" font-size="14" fill="#505050" text-anchor="end" transform="rotate(-49.190 1059.17 2147.03)" dominant-baseline="central">500</text>
<text x="1038.32" y="2127.39" font-size="14" fill="#505050" text-anchor="end" transform="rotate(-44.230 1038.32 2127.39)" dominant-baseline="central">1000</text>
<text x="1019.25" y="2106.01" font-size="14" fill="#505050" text-anchor="end" transform="rotate(-39.270 1019.25 2106.01)" dominant-baseline="central">1500</text>
<text x="1002.09" y="2083.07" font-size="14" fill="#505050" text-anchor="end" transform="rotate(-34.310 1002.09 2083.07)" dominant-baseline="central">2000</text>
<text x="1060.01" y="2094.29" font-size="14.5" fill="#505050" text-anchor="middle" textLength="35.50" lengthAdjust="spacingAndGlyphs" transform="rotate(47.451 1060.01 2094.29)" dominant-baseline="central">Chr12</text>
<path d="M1041.7,2027.1 A267.8,267.8 0 0 1 1009.6,1928.6 L1043.6,1924.5 A233.5,233.5 0 0 0 1071.6,2010.4 Z" fill="#f3f3f3"/>
<path d="M1070.6,2010.9 A234.6,234.6 0 0 1 1042.5,1924.6 M1068.6,2012.0 A236.9,236.9 0 0 1 1040.2,1924.9 M1066.6,2013.2 A239.2,239.2 0 0 1 1038.0,1925.2 M1064.6,2014.3 A241.5,241.5 0 0 1 1035.7,1925.5 M1062.6,2015.4 A243.7,243.7 0 0 1 1033.4,1925.7 M1060.6,2016.5 A246.0,246.0 0 0 1 1031.2,1926.0 M1058.7,2017.6 A248.3,248.3 0 0 1 1028.9,1926.3 M1056.7,2018.7 A250.6,250.6 0 0 1 1026.6,1926.6 M1054.7,2019.9 A252.9,252.9 0 0 1 1024.4,1926.8 M1052.7,2021.0 A255.2,255.2 0 0 1 1022.1,1927.1 M1050.7,2022.1 A257.5,257.5 0 0 1 1019.8,1927.4 M1048.7,2023.2 A259.8,259.8 0 0 1 1017.5,1927.7 M1046.7,2024.3 A262.0,262.0 0 0 1 1015.3,1927.9 M1044.7,2025.4 A264.3,264.3 0 0 1 1013.0,1928.2 M1042.7,2026.5 A266.6,266.6 0 0 1 1010.7,1928.5" fill="none" stroke="#c6c6c6" stroke-width="0.85"/>
<path d="M1077.3,2007.2 A227.0,227.0 0 0 1 1050.1,1923.7 L1081.1,1920.0 A195.8,195.8 0 0 0 1104.5,1992.0 Z" fill="#dadada"/>
<path d="M1103.7,1992.5 A196.7,196.7 0 0 1 1080.1,1920.1 M1102.0,1993.4 A198.7,198.7 0 0 1 1078.2,1920.3 M1100.3,1994.4 A200.6,200.6 0 0 1 1076.2,1920.6 M1098.6,1995.3 A202.6,202.6 0 0 1 1074.3,1920.8 M1096.9,1996.3 A204.5,204.5 0 0 1 1072.4,1921.0 M1095.2,1997.2 A206.5,206.5 0 0 1 1070.4,1921.3 M1093.5,1998.2 A208.4,208.4 0 0 1 1068.5,1921.5 M1091.8,1999.1 A210.4,210.4 0 0 1 1066.6,1921.7 M1090.1,2000.1 A212.3,212.3 0 0 1 1064.6,1922.0 M1088.4,2001.0 A214.3,214.3 0 0 1 1062.7,1922.2 M1086.7,2002.0 A216.2,216.2 0 0 1 1060.7,1922.4 M1085.0,2002.9 A218.2,218.2 0 0 1 1058.8,1922.7 M1083.3,2003.9 A220.1,220.1 0 0 1 1056.9,1922.9 M1081.6,2004.8 A222.1,222.1 0 0 1 1054.9,1923.1 M1079.9,2005.8 A224.0,224.0 0 0 1 1053.0,1923.4 M1078.2,2006.7 A226.0,226.0 0 0 1 1051.1,1923.6" fill="none" stroke="#c6c6c6" stroke-width="0.7"/>
<path d="M1110.5,1988.7 A189.0,189.0 0 0 1 1087.8,1919.2 L1120.1,1915.3 A156.5,156.5 0 0 0 1138.8,1972.8 Z" fill="#f0f0f0"/>
<path d="M1112.7,1987.4 A186.5,186.5 0 0 1 1090.3,1918.9 M1137.5,1973.5 A158.0,158.0 0 0 1 1118.6,1915.4" fill="none" stroke="#c8c8c8" stroke-width="1.0"/>
<path d="M1142.3,1970.9 A152.5,152.5 0 0 1 1124.1,1914.8 L1157.8,1910.7 A118.5,118.5 0 0 0 1172.0,1954.3 Z" fill="#f1f1f1"/>
<path d="M1167.3,1956.9 A123.9,123.9 0 0 1 1152.5,1911.3 M1162.6,1959.5 A129.3,129.3 0 0 1 1147.1,1912.0 M1157.9,1962.2 A134.7,134.7 0 0 1 1141.7,1912.6 M1153.2,1964.8 A140.1,140.1 0 0 1 1136.4,1913.3 M1148.4,1967.4 A145.5,145.5 0 0 1 1131.0,1913.9 M1143.7,1970.1 A150.9,150.9 0 0 1 1125.6,1914.6" fill="none" stroke="#c9c9c9" stroke-width="1.0"/>
<path d="M1104.5,1992.0 L1094.5,1997.6 L1094.2,1997.2 L1091.7,1998.5 L1091.5,1998.1 L1092.9,1997.3 L1092.7,1996.8 L1090.5,1998.0 L1090.2,1997.6 L1090.1,1997.6 L1089.9,1997.2 L1091.9,1996.1 L1091.7,1995.6 L1092.2,1995.3 L1092.0,1994.8 L1095.9,1992.7 L1095.6,1992.3 L1090.0,1995.3 L1089.8,1994.8 L1088.7,1995.4 L1088.5,1994.9 L1085.2,1996.7 L1084.9,1996.2 L1088.7,1994.2 L1088.5,1993.7 L1084.8,1995.6 L1084.6,1995.1 L1087.1,1993.8 L1086.9,1993.4 L1088.7,1992.4 L1088.4,1992.0 L1089.2,1991.6 L1088.9,1991.1 L1093.1,1989.0 L1092.8,1988.6 L1093.1,1988.5 L1092.8,1988.0 L1078.2,1995.4 L1077.9,1994.9 L1086.4,1990.6 L1086.2,1990.2 L1089.4,1988.6 L1089.2,1988.1 L1082.7,1991.3 L1082.5,1990.8 L1088.8,1987.7 L1088.6,1987.2 L1083.5,1989.7 L1083.3,1989.2 L1087.6,1987.1 L1087.4,1986.7 L1086.2,1987.3 L1085.9,1986.8 L1088.1,1985.8 L1087.9,1985.3 L1083.1,1987.6 L1082.9,1987.1 L1084.4,1986.4 L1084.2,1985.9 L1089.3,1983.5 L1089.1,1983.0 L1084.7,1985.0 L1084.5,1984.6 L1086.2,1983.8 L1086.0,1983.3 L1079.9,1986.1 L1079.7,1985.6 L1086.6,1982.4 L1086.4,1982.0 L1089.2,1980.7 L1088.9,1980.3 L1082.9,1983.0 L1082.7,1982.5 L1083.7,1982.0 L1083.5,1981.6 L1084.4,1981.2 L1084.2,1980.7 L1087.3,1979.3 L1087.1,1978.8 L1088.7,1978.1 L1088.5,1977.7 L1087.1,1978.3 L1086.9,1977.8 L1079.9,1980.8 L1079.7,1980.4 L1087.6,1977.0 L1087.4,1976.5 L1084.6,1977.7 L1084.4,1977.2 L1078.8,1979.6 L1078.6,1979.1 L1086.5,1975.8 L1086.3,1975.3 L1080.7,1977.6 L1080.5,1977.1 L1082.9,1976.1 L1082.7,1975.6 L1086.8,1974.0 L1086.6,1973.5 L1077.2,1977.3 L1077.0,1976.8 L1079.6,1975.8 L1079.4,1975.3 L1077.1,1976.2 L1076.9,1975.7 L1083.7,1973.0 L1083.5,1972.6 L1079.8,1974.0 L1079.6,1973.5 L1083.3,1972.1 L1083.1,1971.6 L1079.6,1973.0 L1079.4,1972.5 L1078.8,1972.7 L1078.6,1972.2 L1076.1,1973.2 L1075.9,1972.7 L1079.2,1971.4 L1079.0,1971.0 L1083.9,1969.1 L1083.7,1968.6 L1077.0,1971.1 L1076.8,1970.7 L1082.6,1968.5 L1082.5,1968.0 L1077.2,1969.9 L1077.0,1969.4 L1083.0,1967.2 L1082.8,1966.8 L1076.1,1969.2 L1075.9,1968.7 L1076.9,1968.4 L1076.7,1967.9 L1080.8,1966.4 L1080.6,1965.9 L1066.3,1971.0 L1066.1,1970.5 L1082.0,1964.9 L1081.8,1964.4 L1078.6,1965.5 L1078.4,1965.1 L1076.0,1965.9 L1075.8,1965.4 L1078.8,1964.3 L1078.7,1963.9 L1079.7,1963.5 L1079.5,1963.0 L1078.5,1963.4 L1078.4,1962.9 L1082.1,1961.6 L1082.0,1961.1 L1076.4,1963.0 L1076.2,1962.5 L1073.7,1963.3 L1073.6,1962.8 L1076.7,1961.8 L1076.5,1961.3 L1081.9,1959.5 L1081.8,1959.0 L1074.3,1961.5 L1074.1,1961.0 L1082.0,1958.4 L1081.8,1958.0 L1075.5,1960.0 L1075.4,1959.5 L1074.6,1959.7 L1074.4,1959.2 L1078.1,1958.1 L1077.9,1957.6 L1073.5,1958.9 L1073.3,1958.4 L1078.8,1956.8 L1078.7,1956.3 L1076.2,1957.0 L1076.0,1956.5 L1079.9,1955.4 L1079.8,1954.9 L1074.1,1956.6 L1074.0,1956.0 L1080.5,1954.1 L1080.4,1953.6 L1080.3,1953.7 L1080.1,1953.2 L1074.8,1954.7 L1074.7,1954.2 L1072.6,1954.8 L1072.5,1954.3 L1074.2,1953.8 L1074.0,1953.3 L1076.3,1952.7 L1076.2,1952.2 L1079.5,1951.2 L1079.4,1950.8 L1075.1,1951.9 L1074.9,1951.4 L1074.1,1951.7 L1074.0,1951.2 L1078.4,1950.0 L1078.3,1949.5 L1072.2,1951.1 L1072.1,1950.6 L1079.1,1948.7 L1079.0,1948.2 L1074.9,1949.3 L1074.8,1948.8 L1076.8,1948.3 L1076.7,1947.8 L1078.3,1947.4 L1078.2,1946.9 L1075.4,1947.6 L1075.3,1947.1 L1075.4,1947.0 L1075.3,1946.5 L1075.6,1946.5 L1075.5,1946.0 L1074.2,1946.3 L1074.0,1945.8 L1076.0,1945.3 L1075.9,1944.8 L1075.8,1944.8 L1075.7,1944.3 L1071.7,1945.3 L1071.6,1944.8 L1075.7,1943.8 L1075.6,1943.3 L1073.9,1943.7 L1073.8,1943.2 L1072.1,1943.6 L1072.0,1943.1 L1075.0,1942.4 L1074.9,1941.9 L1074.2,1942.0 L1074.1,1941.5 L1069.6,1942.5 L1069.4,1942.0 L1075.7,1940.6 L1075.6,1940.1 L1067.6,1941.9 L1067.5,1941.4 L1070.6,1940.7 L1070.5,1940.2 L1061.8,1942.1 L1061.7,1941.5 L1066.9,1940.4 L1066.8,1939.9 L1065.9,1940.1 L1065.8,1939.6 L1067.6,1939.2 L1067.5,1938.7 L1065.3,1939.1 L1065.2,1938.6 L1068.3,1938.0 L1068.2,1937.5 L1072.5,1936.6 L1072.4,1936.1 L1064.8,1937.6 L1064.7,1937.0 L1070.1,1936.0 L1070.0,1935.5 L1070.0,1935.5 L1069.9,1935.0 L1070.0,1935.0 L1069.9,1934.5 L1073.8,1933.7 L1073.7,1933.2 L1069.8,1934.0 L1069.7,1933.4 L1065.3,1934.2 L1065.2,1933.7 L1065.5,1933.6 L1065.4,1933.1 L1067.2,1932.8 L1067.1,1932.3 L1065.4,1932.6 L1065.3,1932.1 L1069.8,1931.3 L1069.7,1930.8 L1074.1,1930.1 L1074.0,1929.6 L1069.0,1930.4 L1068.9,1929.9 L1063.5,1930.7 L1063.4,1930.2 L1070.9,1929.0 L1070.8,1928.5 L1061.8,1929.9 L1061.8,1929.4 L1069.3,1928.2 L1069.2,1927.7 L1065.2,1928.3 L1065.1,1927.8 L1069.4,1927.1 L1069.4,1926.6 L1067.8,1926.9 L1067.7,1926.3 L1065.5,1926.7 L1065.4,1926.1 L1067.4,1925.9 L1067.3,1925.3 L1068.9,1925.1 L1068.8,1924.6 L1057.0,1926.2 L1056.9,1925.7 L1068.1,1924.2 L1068.0,1923.7 L1065.2,1924.0 L1065.1,1923.5 L1071.6,1922.7 L1071.5,1922.2 L1068.6,1922.5 L1068.6,1922.0 L1067.9,1922.1 L1067.9,1921.6 L1081.1,1920.0 A195.8,195.8 0 0 0 1104.5,1992.0 Z" fill="#d7191c" stroke="#d7191c" stroke-width="0.25"/>
<path d="M1071.6,2010.4 L1069.9,2011.3 L1069.6,2010.8 L1070.4,2010.4 L1070.1,2009.9 L1069.4,2010.3 L1069.1,2009.8 L1070.0,2009.3 L1069.7,2008.8 L1069.4,2008.9 L1069.2,2008.4 L1069.4,2008.3 L1069.1,2007.7 L1068.3,2008.2 L1068.0,2007.7 L1068.2,2007.6 L1067.9,2007.1 L1068.0,2007.0 L1067.7,2006.5 L1068.3,2006.2 L1068.0,2005.7 L1067.1,2006.2 L1066.9,2005.6 L1066.9,2005.6 L1066.6,2005.1 L1067.4,2004.7 L1067.2,2004.2 L1067.1,2004.2 L1066.9,2003.7 L1066.5,2003.8 L1066.3,2003.3 L1066.6,2003.1 L1066.3,2002.6 L1065.5,2003.0 L1065.2,2002.5 L1065.2,2002.5 L1065.0,2002.0 L1062.8,2003.1 L1062.6,2002.5 L1065.2,2001.2 L1064.9,2000.7 L1064.7,2000.8 L1064.4,2000.3 L1064.2,2000.4 L1063.9,1999.9 L1064.8,1999.5 L1064.5,1998.9 L1062.2,2000.1 L1061.9,1999.5 L1063.4,1998.8 L1063.2,1998.3 L1064.2,1997.8 L1063.9,1997.3 L1063.8,1997.3 L1063.6,1996.8 L1063.6,1996.8 L1063.4,1996.3 L1058.9,1998.4 L1058.6,1997.8 L1062.9,1995.8 L1062.7,1995.3 L1062.7,1995.3 L1062.4,1994.7 L1062.0,1994.9 L1061.8,1994.4 L1062.0,1994.3 L1061.7,1993.8 L1062.1,1993.6 L1061.8,1993.1 L1061.3,1993.3 L1061.1,1992.8 L1061.3,1992.7 L1061.0,1992.2 L1060.9,1992.2 L1060.7,1991.7 L1060.8,1991.6 L1060.5,1991.1 L1060.4,1991.2 L1060.2,1990.6 L1056.7,1992.2 L1056.4,1991.6 L1060.3,1989.9 L1060.1,1989.4 L1060.2,1989.4 L1059.9,1988.8 L1055.7,1990.6 L1055.5,1990.1 L1059.2,1988.5 L1059.0,1987.9 L1059.4,1987.8 L1059.2,1987.2 L1059.2,1987.2 L1059.0,1986.7 L1058.6,1986.8 L1058.4,1986.3 L1058.6,1986.2 L1058.4,1985.7 L1058.6,1985.6 L1058.3,1985.0 L1057.9,1985.2 L1057.7,1984.7 L1058.1,1984.5 L1057.9,1984.0 L1057.7,1984.0 L1057.5,1983.5 L1057.8,1983.4 L1057.6,1982.8 L1056.7,1983.2 L1056.5,1982.6 L1056.6,1982.6 L1056.4,1982.0 L1056.9,1981.8 L1056.7,1981.3 L1056.6,1981.3 L1056.4,1980.8 L1056.0,1980.9 L1055.8,1980.4 L1056.0,1980.3 L1055.8,1979.7 L1055.6,1979.8 L1055.4,1979.3 L1055.8,1979.1 L1055.6,1978.6 L1055.0,1978.8 L1054.8,1978.3 L1055.3,1978.1 L1055.1,1977.5 L1054.5,1977.7 L1054.3,1977.2 L1054.3,1977.2 L1054.1,1976.6 L1054.3,1976.6 L1054.1,1976.0 L1054.3,1975.9 L1054.1,1975.4 L1053.8,1975.5 L1053.6,1974.9 L1054.0,1974.8 L1053.8,1974.2 L1049.7,1975.7 L1049.6,1975.1 L1054.2,1973.5 L1054.0,1972.9 L1053.0,1973.3 L1052.8,1972.7 L1052.8,1972.7 L1052.6,1972.2 L1052.5,1972.2 L1052.3,1971.6 L1052.8,1971.5 L1052.6,1970.9 L1052.9,1970.8 L1052.8,1970.3 L1052.3,1970.4 L1052.1,1969.9 L1052.3,1969.8 L1052.1,1969.2 L1051.7,1969.4 L1051.5,1968.8 L1051.9,1968.7 L1051.7,1968.1 L1052.0,1968.0 L1051.9,1967.5 L1048.7,1968.5 L1048.5,1967.9 L1050.9,1967.2 L1050.7,1966.6 L1051.0,1966.5 L1050.8,1966.0 L1051.2,1965.8 L1051.1,1965.3 L1051.0,1965.3 L1050.8,1964.7 L1050.5,1964.8 L1050.3,1964.3 L1050.5,1964.2 L1050.4,1963.6 L1046.1,1964.9 L1046.0,1964.3 L1050.1,1963.1 L1050.0,1962.5 L1049.5,1962.7 L1049.3,1962.1 L1050.4,1961.8 L1050.2,1961.2 L1049.8,1961.4 L1049.7,1960.8 L1049.1,1961.0 L1048.9,1960.4 L1049.8,1960.1 L1049.7,1959.6 L1049.2,1959.7 L1049.0,1959.2 L1049.6,1959.0 L1049.4,1958.4 L1048.9,1958.6 L1048.7,1958.0 L1048.2,1958.2 L1048.0,1957.6 L1049.0,1957.3 L1048.9,1956.8 L1049.0,1956.7 L1048.8,1956.2 L1046.8,1956.7 L1046.6,1956.1 L1047.8,1955.8 L1047.7,1955.3 L1048.5,1955.1 L1048.3,1954.5 L1047.6,1954.7 L1047.5,1954.1 L1047.6,1954.1 L1047.5,1953.5 L1047.5,1953.5 L1047.3,1952.9 L1047.9,1952.8 L1047.8,1952.2 L1047.0,1952.4 L1046.9,1951.8 L1047.1,1951.8 L1046.9,1951.2 L1046.8,1951.2 L1046.7,1950.7 L1047.0,1950.6 L1046.8,1950.0 L1047.3,1949.9 L1047.2,1949.3 L1046.5,1949.5 L1046.4,1948.9 L1046.2,1949.0 L1046.0,1948.4 L1046.8,1948.2 L1046.7,1947.7 L1045.9,1947.8 L1045.8,1947.3 L1045.5,1947.3 L1045.4,1946.7 L1045.9,1946.6 L1045.7,1946.1 L1045.3,1946.2 L1045.2,1945.6 L1045.6,1945.5 L1045.5,1944.9 L1045.5,1944.9 L1045.4,1944.3 L1044.9,1944.5 L1044.8,1943.9 L1045.6,1943.7 L1045.5,1943.1 L1045.1,1943.2 L1045.0,1942.6 L1042.4,1943.1 L1042.3,1942.6 L1045.3,1942.0 L1045.2,1941.4 L1044.7,1941.5 L1044.6,1940.9 L1044.7,1940.9 L1044.6,1940.3 L1044.4,1940.4 L1044.3,1939.8 L1042.8,1940.1 L1042.7,1939.5 L1044.2,1939.2 L1044.1,1938.6 L1044.7,1938.5 L1044.6,1937.9 L1044.8,1937.9 L1044.7,1937.3 L1043.6,1937.5 L1043.5,1936.9 L1043.5,1936.9 L1043.4,1936.4 L1043.8,1936.3 L1043.7,1935.7 L1044.4,1935.6 L1044.3,1935.0 L1043.8,1935.1 L1043.7,1934.5 L1043.4,1934.6 L1043.3,1934.0 L1043.0,1934.1 L1042.9,1933.5 L1043.4,1933.4 L1043.3,1932.8 L1041.3,1933.1 L1041.2,1932.5 L1043.3,1932.2 L1043.2,1931.6 L1042.7,1931.7 L1042.6,1931.1 L1043.1,1931.1 L1043.0,1930.5 L1042.9,1930.5 L1042.8,1929.9 L1043.3,1929.9 L1043.2,1929.3 L1042.9,1929.3 L1042.8,1928.7 L1042.3,1928.8 L1042.2,1928.2 L1042.5,1928.2 L1042.4,1927.6 L1042.9,1927.6 L1042.8,1927.0 L1042.0,1927.1 L1041.9,1926.5 L1042.3,1926.4 L1042.2,1925.9 L1042.4,1925.8 L1042.3,1925.3 L1041.8,1925.3 L1041.7,1924.7 L1043.6,1924.5 A233.5,233.5 0 0 0 1071.6,2010.4 Z" fill="#2e9a4d" stroke="#2e9a4d" stroke-width="0.6"/>
<path d="M1138.1,1973.2 A157.3,157.3 0 0 1 1119.3,1915.4" fill="none" stroke="#3a7dc4" stroke-width="1.4"/>
<path d="M1121.9,1926.4L1111.8,1928.4M1130.7,1956.0L1117.4,1961.5M1130.3,1954.9L1120.8,1958.7M1122.9,1931.6L1108.8,1934.8M1122.8,1930.9L1114.3,1932.9M1121.8,1926.1L1116.7,1927.1M1121.5,1924.6L1116.7,1925.5M1120.3,1917.1L1113.9,1917.9M1131.6,1958.1L1119.2,1963.4" fill="none" stroke="#3a7dc4" stroke-width="1.3"/>
<path d="M1172.0,1954.3 L1170.7,1955.0 L1170.6,1954.8 L1171.1,1954.5 L1171.0,1954.2 L1169.6,1955.0 L1169.5,1954.8 L1164.5,1957.5 L1164.3,1957.3 L1170.5,1953.9 L1170.4,1953.7 L1169.8,1954.0 L1169.7,1953.8 L1170.1,1953.6 L1169.9,1953.3 L1168.7,1954.0 L1168.6,1953.7 L1169.5,1953.2 L1169.4,1953.0 L1168.7,1953.4 L1168.6,1953.1 L1168.0,1953.5 L1167.9,1953.2 L1169.5,1952.4 L1169.4,1952.1 L1167.6,1953.1 L1167.5,1952.8 L1167.6,1952.8 L1167.5,1952.5 L1163.0,1954.9 L1162.9,1954.6 L1167.9,1952.0 L1167.8,1951.8 L1169.1,1951.1 L1169.0,1950.9 L1166.8,1952.0 L1166.7,1951.7 L1168.1,1951.0 L1167.9,1950.8 L1166.8,1951.4 L1166.7,1951.1 L1162.8,1953.1 L1162.7,1952.8 L1163.8,1952.3 L1163.7,1952.0 L1168.6,1949.6 L1168.4,1949.4 L1167.6,1949.8 L1167.5,1949.6 L1162.7,1951.9 L1162.6,1951.7 L1166.1,1950.0 L1166.0,1949.7 L1166.4,1949.5 L1166.3,1949.2 L1166.3,1949.3 L1166.2,1949.0 L1165.7,1949.3 L1165.6,1949.0 L1166.9,1948.4 L1166.8,1948.2 L1166.1,1948.5 L1166.0,1948.2 L1165.5,1948.5 L1165.4,1948.2 L1166.7,1947.6 L1166.6,1947.4 L1167.2,1947.1 L1167.1,1946.9 L1165.4,1947.6 L1165.3,1947.4 L1166.8,1946.7 L1166.7,1946.4 L1166.4,1946.6 L1166.3,1946.3 L1165.6,1946.7 L1165.5,1946.4 L1164.5,1946.9 L1164.4,1946.6 L1166.0,1945.9 L1165.8,1945.7 L1165.5,1945.8 L1165.4,1945.6 L1165.4,1945.6 L1165.3,1945.3 L1164.1,1945.9 L1164.0,1945.6 L1164.8,1945.3 L1164.7,1945.0 L1164.5,1945.1 L1164.4,1944.9 L1164.2,1945.0 L1164.0,1944.8 L1164.9,1944.4 L1164.8,1944.1 L1165.3,1943.9 L1165.2,1943.7 L1164.3,1944.1 L1164.2,1943.8 L1164.1,1943.9 L1164.0,1943.6 L1164.3,1943.5 L1164.2,1943.2 L1163.6,1943.5 L1163.4,1943.3 L1163.4,1943.3 L1163.3,1943.0 L1164.6,1942.5 L1164.5,1942.3 L1163.3,1942.8 L1163.2,1942.5 L1164.7,1941.9 L1164.6,1941.6 L1163.6,1942.1 L1163.5,1941.8 L1162.7,1942.1 L1162.6,1941.9 L1162.5,1942.0 L1162.4,1941.7 L1163.9,1941.1 L1163.8,1940.9 L1164.5,1940.6 L1164.4,1940.3 L1162.8,1941.0 L1162.7,1940.7 L1164.1,1940.2 L1164.0,1939.9 L1163.0,1940.3 L1162.9,1940.1 L1163.7,1939.8 L1163.6,1939.5 L1163.2,1939.7 L1163.1,1939.4 L1163.4,1939.3 L1163.3,1939.1 L1163.4,1939.0 L1163.3,1938.8 L1162.1,1939.2 L1162.0,1939.0 L1161.2,1939.3 L1161.1,1939.0 L1162.3,1938.6 L1162.2,1938.4 L1163.0,1938.1 L1162.9,1937.8 L1163.4,1937.6 L1163.3,1937.4 L1163.0,1937.5 L1162.9,1937.3 L1162.2,1937.5 L1162.1,1937.3 L1162.3,1937.2 L1162.2,1936.9 L1161.9,1937.1 L1161.8,1936.8 L1162.4,1936.6 L1162.3,1936.4 L1162.4,1936.3 L1162.4,1936.1 L1161.0,1936.6 L1160.9,1936.3 L1161.4,1936.1 L1161.3,1935.9 L1161.4,1935.9 L1161.3,1935.6 L1162.1,1935.3 L1162.1,1935.1 L1161.5,1935.3 L1161.4,1935.0 L1159.9,1935.5 L1159.8,1935.3 L1162.1,1934.5 L1162.0,1934.2 L1160.3,1934.8 L1160.3,1934.6 L1160.7,1934.4 L1160.6,1934.2 L1161.3,1933.9 L1161.2,1933.7 L1161.6,1933.6 L1161.5,1933.3 L1160.1,1933.8 L1160.0,1933.5 L1161.4,1933.1 L1161.3,1932.8 L1161.1,1932.9 L1161.1,1932.6 L1161.6,1932.5 L1161.5,1932.2 L1161.2,1932.3 L1161.1,1932.1 L1159.5,1932.6 L1159.4,1932.3 L1159.4,1932.3 L1159.3,1932.1 L1160.7,1931.6 L1160.6,1931.4 L1160.2,1931.5 L1160.2,1931.3 L1159.6,1931.4 L1159.5,1931.2 L1159.4,1931.2 L1159.3,1931.0 L1160.6,1930.6 L1160.5,1930.3 L1159.4,1930.6 L1159.4,1930.4 L1158.9,1930.5 L1158.8,1930.3 L1159.8,1930.0 L1159.7,1929.7 L1159.2,1929.9 L1159.2,1929.6 L1158.8,1929.7 L1158.7,1929.5 L1158.5,1929.5 L1158.4,1929.3 L1160.1,1928.8 L1160.0,1928.6 L1159.1,1928.8 L1159.0,1928.6 L1158.5,1928.7 L1158.4,1928.5 L1159.9,1928.0 L1159.8,1927.8 L1158.4,1928.2 L1158.3,1927.9 L1159.7,1927.6 L1159.6,1927.3 L1159.2,1927.4 L1159.2,1927.2 L1159.3,1927.1 L1159.3,1926.9 L1159.0,1926.9 L1159.0,1926.7 L1158.7,1926.8 L1158.6,1926.5 L1158.1,1926.6 L1158.0,1926.4 L1159.2,1926.1 L1159.1,1925.8 L1157.6,1926.2 L1157.6,1925.9 L1157.9,1925.9 L1157.8,1925.6 L1158.7,1925.4 L1158.6,1925.1 L1158.9,1925.1 L1158.8,1924.8 L1158.8,1924.8 L1158.8,1924.6 L1157.3,1924.9 L1157.3,1924.6 L1157.0,1924.7 L1157.0,1924.4 L1158.4,1924.1 L1158.3,1923.9 L1159.1,1923.7 L1159.0,1923.4 L1156.9,1923.9 L1156.8,1923.7 L1157.3,1923.6 L1157.2,1923.3 L1158.1,1923.1 L1158.0,1922.8 L1156.6,1923.2 L1156.5,1922.9 L1153.7,1923.5 L1153.6,1923.3 L1157.5,1922.4 L1157.4,1922.2 L1158.1,1922.0 L1158.1,1921.8 L1158.8,1921.6 L1158.7,1921.3 L1156.3,1921.9 L1156.3,1921.6 L1157.2,1921.4 L1157.2,1921.1 L1156.5,1921.3 L1156.4,1921.0 L1158.5,1920.6 L1158.5,1920.3 L1156.0,1920.8 L1155.9,1920.6 L1156.7,1920.4 L1156.7,1920.2 L1155.8,1920.3 L1155.8,1920.1 L1155.9,1920.0 L1155.9,1919.8 L1157.5,1919.5 L1157.4,1919.2 L1157.5,1919.2 L1157.5,1918.9 L1157.7,1918.9 L1157.6,1918.6 L1150.5,1920.0 L1150.4,1919.7 L1156.6,1918.6 L1156.5,1918.3 L1157.4,1918.1 L1157.3,1917.9 L1157.0,1917.9 L1157.0,1917.7 L1156.0,1917.8 L1156.0,1917.6 L1156.5,1917.5 L1156.5,1917.2 L1155.9,1917.3 L1155.9,1917.1 L1156.2,1917.0 L1156.2,1916.7 L1157.2,1916.6 L1157.2,1916.3 L1155.3,1916.6 L1155.2,1916.4 L1157.2,1916.0 L1157.1,1915.8 L1157.7,1915.7 L1157.6,1915.4 L1157.2,1915.5 L1157.2,1915.3 L1156.0,1915.4 L1156.0,1915.2 L1155.1,1915.3 L1155.1,1915.0 L1156.7,1914.8 L1156.7,1914.5 L1156.6,1914.5 L1156.6,1914.3 L1155.0,1914.5 L1155.0,1914.3 L1155.9,1914.1 L1155.8,1913.9 L1157.0,1913.7 L1156.9,1913.4 L1157.1,1913.4 L1157.1,1913.1 L1155.0,1913.4 L1155.0,1913.2 L1155.8,1913.1 L1155.8,1912.8 L1156.7,1912.7 L1156.7,1912.4 L1156.7,1912.4 L1156.7,1912.1 L1154.7,1912.4 L1154.6,1912.1 L1156.5,1911.9 L1156.5,1911.6 L1154.8,1911.9 L1154.8,1911.6 L1154.5,1911.6 L1154.4,1911.4 L1156.5,1911.1 L1156.5,1910.9 L1157.8,1910.7 A118.5,118.5 0 0 0 1172.0,1954.3 Z" fill="#555" stroke="#555" stroke-width="0.4"/>
<path d="M1159.5,1920.8L1148.6,1923.1" fill="none" stroke="#444" stroke-width="1"/>
<path d="M996.8,2052.2 A319.2,319.2 0 0 1 958.6,1934.8 L978.9,1932.3 A298.7,298.7 0 0 0 1014.7,2042.2 Z" fill="#FFCC00" stroke="#555" stroke-width="0.7"/>
<path d="M996.8,2052.2L990.2,2055.9M984.4,2027.5L977.5,2030.6M974.2,2001.9L967.0,2004.4M966.2,1975.4L958.8,1977.3M960.5,1948.4L953.0,1949.6" stroke="#111" stroke-width="1.9" fill="none"/>
<path d="M994.2,2047.3L990.8,2049.1M991.6,2042.4L988.2,2044.2M989.1,2037.5L985.7,2039.2M986.7,2032.5L983.3,2034.1M982.2,2022.4L978.7,2023.9M980.0,2017.4L976.5,2018.8M978.0,2012.2L974.4,2013.6M976.0,2007.1L972.5,2008.4M972.4,1996.6L968.8,1997.8M970.7,1991.4L967.1,1992.5M969.1,1986.1L965.4,1987.1M967.6,1980.7L963.9,1981.8M964.9,1970.0L961.2,1970.9M963.6,1964.7L959.9,1965.5M962.5,1959.2L958.8,1960.0M961.5,1953.8L957.7,1954.5M959.7,1942.9L955.9,1943.5M958.9,1937.4L955.1,1937.9" stroke="#222" stroke-width="1.0" fill="none"/>
<text x="986.56" y="2057.98" font-size="14" fill="#505050" text-anchor="end" transform="rotate(-29.200 986.56 2057.98)" dominant-baseline="central">0</text>
<text x="973.68" y="2032.40" font-size="14" fill="#505050" text-anchor="end" transform="rotate(-24.240 973.68 2032.40)" dominant-baseline="central">500</text>
<text x="963.06" y="2005.79" font-size="14" fill="#505050" text-anchor="end" transform="rotate(-19.280 963.06 2005.79)" dominant-baseline="central">1000</text>
<text x="954.78" y="1978.37" font-size="14" fill="#505050" text-anchor="end" transform="rotate(-14.320 954.78 1978.37)" dominant-baseline="central">1500</text>
<text x="948.91" y="1950.33" font-size="14" fill="#505050" text-anchor="end" transform="rotate(-9.360 948.91 1950.33)" dominant-baseline="central">2000</text>
<text x="997.39" y="1987.13" font-size="14.5" fill="#505050" text-anchor="middle" textLength="35.50" lengthAdjust="spacingAndGlyphs" transform="rotate(71.950 997.39 1987.13)" dominant-baseline="central">Chr07</text>
<path d="M1008.7,1920.5 A267.8,267.8 0 0 1 1021.9,1810.4 L1054.3,1821.4 A233.5,233.5 0 0 0 1042.9,1917.4 Z" fill="#f3f3f3"/>
<path d="M1041.8,1917.5 A234.6,234.6 0 0 1 1053.3,1821.0 M1039.5,1917.7 A236.9,236.9 0 0 1 1051.1,1820.3 M1037.2,1917.9 A239.2,239.2 0 0 1 1048.9,1819.6 M1034.9,1918.1 A241.5,241.5 0 0 1 1046.8,1818.8 M1032.6,1918.3 A243.7,243.7 0 0 1 1044.6,1818.1 M1030.4,1918.5 A246.0,246.0 0 0 1 1042.4,1817.4 M1028.1,1918.7 A248.3,248.3 0 0 1 1040.3,1816.6 M1025.8,1919.0 A250.6,250.6 0 0 1 1038.1,1815.9 M1023.5,1919.2 A252.9,252.9 0 0 1 1035.9,1815.2 M1021.3,1919.4 A255.2,255.2 0 0 1 1033.8,1814.4 M1019.0,1919.6 A257.5,257.5 0 0 1 1031.6,1813.7 M1016.7,1919.8 A259.8,259.8 0 0 1 1029.4,1813.0 M1014.4,1920.0 A262.0,262.0 0 0 1 1027.3,1812.2 M1012.2,1920.2 A264.3,264.3 0 0 1 1025.1,1811.5 M1009.9,1920.4 A266.6,266.6 0 0 1 1022.9,1810.8" fill="none" stroke="#c6c6c6" stroke-width="0.85"/>
<path d="M1049.4,1916.8 A227.0,227.0 0 0 1 1060.5,1823.5 L1090.0,1833.5 A195.8,195.8 0 0 0 1080.4,1914.0 Z" fill="#dadada"/>
<path d="M1079.5,1914.1 A196.7,196.7 0 0 1 1089.1,1833.2 M1077.5,1914.3 A198.7,198.7 0 0 1 1087.3,1832.6 M1075.6,1914.5 A200.6,200.6 0 0 1 1085.4,1832.0 M1073.6,1914.6 A202.6,202.6 0 0 1 1083.6,1831.3 M1071.7,1914.8 A204.5,204.5 0 0 1 1081.7,1830.7 M1069.8,1915.0 A206.5,206.5 0 0 1 1079.9,1830.1 M1067.8,1915.2 A208.4,208.4 0 0 1 1078.0,1829.5 M1065.9,1915.3 A210.4,210.4 0 0 1 1076.2,1828.8 M1063.9,1915.5 A212.3,212.3 0 0 1 1074.3,1828.2 M1062.0,1915.7 A214.3,214.3 0 0 1 1072.5,1827.6 M1060.1,1915.9 A216.2,216.2 0 0 1 1070.7,1826.9 M1058.1,1916.0 A218.2,218.2 0 0 1 1068.8,1826.3 M1056.2,1916.2 A220.1,220.1 0 0 1 1067.0,1825.7 M1054.2,1916.4 A222.1,222.1 0 0 1 1065.1,1825.1 M1052.3,1916.6 A224.0,224.0 0 0 1 1063.3,1824.4 M1050.3,1916.7 A226.0,226.0 0 0 1 1061.4,1823.8" fill="none" stroke="#c6c6c6" stroke-width="0.7"/>
<path d="M1087.2,1913.4 A189.0,189.0 0 0 1 1096.5,1835.7 L1127.3,1846.2 A156.5,156.5 0 0 0 1119.6,1910.5 Z" fill="#f0f0f0"/>
<path d="M1089.7,1913.2 A186.5,186.5 0 0 1 1098.8,1836.5 M1118.1,1910.6 A158.0,158.0 0 0 1 1125.8,1845.7" fill="none" stroke="#c8c8c8" stroke-width="1.0"/>
<path d="M1123.6,1910.1 A152.5,152.5 0 0 1 1131.0,1847.4 L1163.2,1858.4 A118.5,118.5 0 0 0 1157.4,1907.1 Z" fill="#f1f1f1"/>
<path d="M1152.1,1907.6 A123.9,123.9 0 0 1 1158.1,1856.6 M1146.7,1908.1 A129.3,129.3 0 0 1 1153.0,1854.9 M1141.3,1908.5 A134.7,134.7 0 0 1 1147.9,1853.2 M1135.9,1909.0 A140.1,140.1 0 0 1 1142.8,1851.4 M1130.5,1909.5 A145.5,145.5 0 0 1 1137.7,1849.7 M1125.2,1910.0 A150.9,150.9 0 0 1 1132.6,1848.0" fill="none" stroke="#c9c9c9" stroke-width="1.0"/>
<path d="M1080.4,1914.0 L1069.3,1915.0 L1069.2,1914.5 L1069.4,1914.5 L1069.4,1914.0 L1069.6,1914.0 L1069.6,1913.5 L1065.3,1913.8 L1065.2,1913.3 L1055.4,1914.1 L1055.3,1913.5 L1070.4,1912.4 L1070.4,1911.8 L1069.2,1911.9 L1069.1,1911.4 L1058.7,1912.2 L1058.7,1911.6 L1062.5,1911.4 L1062.5,1910.8 L1068.5,1910.4 L1068.5,1909.9 L1058.5,1910.6 L1058.4,1910.0 L1060.1,1909.9 L1060.1,1909.4 L1068.4,1908.9 L1068.4,1908.4 L1059.8,1908.8 L1059.8,1908.3 L1068.3,1907.8 L1068.3,1907.3 L1068.2,1907.3 L1068.2,1906.8 L1054.0,1907.5 L1054.0,1907.0 L1068.1,1906.3 L1068.1,1905.8 L1063.0,1906.0 L1062.9,1905.5 L1064.5,1905.4 L1064.5,1904.9 L1061.4,1905.0 L1061.4,1904.5 L1057.8,1904.6 L1057.8,1904.1 L1068.2,1903.7 L1068.2,1903.2 L1062.5,1903.4 L1062.5,1902.8 L1068.6,1902.7 L1068.6,1902.1 L1068.9,1902.1 L1068.9,1901.6 L1068.9,1901.6 L1068.8,1901.1 L1064.9,1901.2 L1064.9,1900.7 L1057.8,1900.8 L1057.8,1900.3 L1062.6,1900.2 L1062.6,1899.6 L1065.2,1899.6 L1065.2,1899.1 L1070.3,1899.0 L1070.3,1898.5 L1060.5,1898.6 L1060.5,1898.1 L1061.0,1898.1 L1061.0,1897.5 L1064.8,1897.5 L1064.8,1897.0 L1067.1,1897.0 L1067.1,1896.4 L1062.6,1896.4 L1062.6,1895.9 L1063.4,1895.9 L1063.4,1895.4 L1066.7,1895.4 L1066.7,1894.9 L1064.9,1894.9 L1065.0,1894.3 L1059.0,1894.3 L1059.0,1893.7 L1064.8,1893.8 L1064.8,1893.3 L1058.4,1893.2 L1058.5,1892.7 L1053.9,1892.6 L1053.9,1892.0 L1056.5,1892.1 L1056.5,1891.5 L1064.6,1891.7 L1064.6,1891.2 L1067.2,1891.2 L1067.2,1890.7 L1067.0,1890.7 L1067.0,1890.2 L1069.8,1890.3 L1069.9,1889.8 L1068.5,1889.7 L1068.5,1889.2 L1054.3,1888.7 L1054.4,1888.2 L1063.5,1888.5 L1063.5,1888.0 L1063.0,1888.0 L1063.0,1887.4 L1063.4,1887.4 L1063.5,1886.9 L1061.7,1886.8 L1061.8,1886.3 L1065.8,1886.5 L1065.8,1886.0 L1071.1,1886.2 L1071.1,1885.7 L1067.5,1885.5 L1067.6,1885.0 L1062.5,1884.7 L1062.5,1884.2 L1059.1,1884.0 L1059.1,1883.5 L1060.9,1883.6 L1060.9,1883.0 L1067.2,1883.4 L1067.2,1882.9 L1061.5,1882.5 L1061.5,1882.0 L1062.5,1882.1 L1062.5,1881.5 L1067.1,1881.9 L1067.1,1881.3 L1065.8,1881.2 L1065.8,1880.7 L1066.1,1880.7 L1066.1,1880.2 L1069.1,1880.4 L1069.2,1879.9 L1072.4,1880.2 L1072.5,1879.7 L1065.4,1879.1 L1065.4,1878.6 L1063.5,1878.4 L1063.5,1877.9 L1062.6,1877.8 L1062.6,1877.3 L1066.7,1877.6 L1066.8,1877.1 L1066.4,1877.1 L1066.4,1876.5 L1063.4,1876.3 L1063.5,1875.7 L1063.6,1875.8 L1063.7,1875.2 L1066.0,1875.5 L1066.0,1874.9 L1066.6,1875.0 L1066.6,1874.5 L1062.9,1874.1 L1063.0,1873.5 L1069.5,1874.2 L1069.5,1873.7 L1072.4,1874.0 L1072.5,1873.5 L1058.2,1871.9 L1058.3,1871.4 L1072.6,1873.0 L1072.7,1872.5 L1072.9,1872.6 L1072.9,1872.1 L1068.4,1871.5 L1068.5,1871.0 L1064.5,1870.5 L1064.6,1870.0 L1067.9,1870.4 L1068.0,1869.9 L1072.7,1870.5 L1072.8,1870.0 L1074.0,1870.1 L1074.1,1869.6 L1069.5,1869.0 L1069.6,1868.5 L1067.0,1868.2 L1067.1,1867.6 L1072.6,1868.4 L1072.7,1867.9 L1068.0,1867.2 L1068.1,1866.7 L1072.9,1867.4 L1072.9,1866.9 L1071.4,1866.7 L1071.5,1866.2 L1067.4,1865.6 L1067.4,1865.0 L1071.9,1865.7 L1072.0,1865.2 L1073.3,1865.4 L1073.4,1864.9 L1066.1,1863.8 L1066.2,1863.3 L1072.5,1864.3 L1072.6,1863.7 L1071.3,1863.5 L1071.3,1863.0 L1068.2,1862.5 L1068.3,1862.0 L1068.9,1862.1 L1069.0,1861.6 L1067.7,1861.4 L1067.8,1860.8 L1074.1,1861.9 L1074.1,1861.4 L1074.2,1861.4 L1074.3,1860.9 L1068.2,1859.8 L1068.3,1859.3 L1068.7,1859.4 L1068.8,1858.9 L1075.4,1860.1 L1075.5,1859.6 L1075.4,1859.6 L1075.5,1859.1 L1067.7,1857.6 L1067.8,1857.1 L1073.6,1858.2 L1073.7,1857.7 L1070.7,1857.1 L1070.8,1856.6 L1067.3,1855.9 L1067.4,1855.4 L1071.7,1856.3 L1071.8,1855.7 L1072.7,1855.9 L1072.8,1855.4 L1072.7,1855.4 L1072.8,1854.9 L1074.6,1855.3 L1074.7,1854.8 L1071.3,1854.0 L1071.4,1853.5 L1071.8,1853.6 L1071.9,1853.1 L1076.5,1854.1 L1076.6,1853.6 L1073.3,1852.9 L1073.5,1852.4 L1072.0,1852.1 L1072.2,1851.6 L1073.4,1851.8 L1073.5,1851.3 L1070.5,1850.7 L1070.6,1850.2 L1076.7,1851.5 L1076.8,1851.0 L1070.9,1849.7 L1071.0,1849.2 L1074.9,1850.1 L1075.1,1849.6 L1069.8,1848.3 L1069.9,1847.8 L1071.9,1848.3 L1072.0,1847.8 L1070.9,1847.5 L1071.0,1847.0 L1077.7,1848.6 L1077.8,1848.1 L1069.1,1846.0 L1069.2,1845.5 L1067.7,1845.1 L1067.8,1844.6 L1072.9,1845.9 L1073.1,1845.4 L1070.4,1844.7 L1070.6,1844.2 L1074.7,1845.2 L1074.8,1844.7 L1071.7,1843.9 L1071.8,1843.4 L1070.0,1843.0 L1070.2,1842.4 L1076.3,1844.1 L1076.4,1843.6 L1077.2,1843.8 L1077.4,1843.3 L1068.6,1840.9 L1068.7,1840.4 L1076.0,1842.4 L1076.2,1841.9 L1070.6,1840.4 L1070.7,1839.8 L1072.0,1840.2 L1072.1,1839.7 L1069.2,1838.9 L1069.4,1838.4 L1072.0,1839.1 L1072.1,1838.6 L1069.6,1837.9 L1069.8,1837.4 L1072.0,1838.0 L1072.1,1837.5 L1078.6,1839.4 L1078.7,1838.9 L1077.4,1838.5 L1077.6,1838.0 L1077.5,1838.0 L1077.7,1837.5 L1076.4,1837.1 L1076.6,1836.6 L1073.8,1835.8 L1074.0,1835.3 L1069.3,1833.9 L1069.4,1833.3 L1079.4,1836.4 L1079.6,1835.9 L1079.4,1835.9 L1079.6,1835.4 L1074.9,1833.9 L1075.0,1833.4 L1073.4,1832.9 L1073.5,1832.4 L1071.8,1831.9 L1072.0,1831.3 L1078.3,1833.4 L1078.5,1832.9 L1081.0,1833.7 L1081.2,1833.2 L1081.2,1833.2 L1081.3,1832.7 L1075.6,1830.8 L1075.7,1830.3 L1070.6,1828.6 L1070.7,1828.1 L1064.5,1826.0 L1064.7,1825.5 L1073.1,1828.3 L1073.2,1827.8 L1090.0,1833.5 A195.8,195.8 0 0 0 1080.4,1914.0 Z" fill="#d7191c" stroke="#d7191c" stroke-width="0.25"/>
<path d="M1042.9,1917.4 L1041.0,1917.6 L1041.0,1917.0 L1041.5,1917.0 L1041.4,1916.4 L1041.8,1916.3 L1041.8,1915.8 L1041.3,1915.8 L1041.3,1915.2 L1041.7,1915.2 L1041.6,1914.6 L1041.8,1914.6 L1041.7,1914.0 L1041.0,1914.0 L1041.0,1913.5 L1041.1,1913.4 L1041.1,1912.9 L1040.7,1912.9 L1040.6,1912.3 L1040.6,1912.3 L1040.5,1911.7 L1040.5,1911.7 L1040.5,1911.1 L1040.8,1911.1 L1040.8,1910.5 L1040.4,1910.6 L1040.4,1910.0 L1041.5,1909.9 L1041.5,1909.3 L1041.4,1909.3 L1041.4,1908.7 L1040.4,1908.8 L1040.3,1908.2 L1041.1,1908.2 L1041.0,1907.6 L1041.4,1907.6 L1041.4,1907.0 L1040.9,1907.0 L1040.9,1906.4 L1040.3,1906.4 L1040.2,1905.9 L1040.1,1905.9 L1040.1,1905.3 L1040.6,1905.3 L1040.6,1904.7 L1040.7,1904.7 L1040.7,1904.1 L1040.6,1904.1 L1040.6,1903.5 L1040.7,1903.5 L1040.7,1902.9 L1041.2,1902.9 L1041.2,1902.3 L1041.0,1902.3 L1041.0,1901.7 L1041.1,1901.7 L1041.1,1901.1 L1040.0,1901.2 L1040.0,1900.6 L1040.2,1900.6 L1040.2,1900.0 L1040.2,1900.0 L1040.2,1899.4 L1040.1,1899.4 L1040.1,1898.8 L1040.8,1898.8 L1040.8,1898.2 L1040.9,1898.2 L1040.9,1897.6 L1040.3,1897.6 L1040.3,1897.0 L1040.0,1897.0 L1040.0,1896.4 L1040.7,1896.4 L1040.7,1895.9 L1040.5,1895.9 L1040.5,1895.3 L1040.1,1895.3 L1040.1,1894.7 L1040.0,1894.7 L1040.0,1894.1 L1038.3,1894.1 L1038.3,1893.5 L1037.9,1893.5 L1037.9,1892.9 L1041.0,1892.9 L1041.1,1892.4 L1040.1,1892.3 L1040.1,1891.7 L1041.1,1891.8 L1041.1,1891.2 L1040.6,1891.2 L1040.6,1890.6 L1040.9,1890.6 L1040.9,1890.0 L1040.7,1890.0 L1040.8,1889.4 L1041.2,1889.4 L1041.2,1888.8 L1040.5,1888.8 L1040.6,1888.2 L1040.6,1888.2 L1040.6,1887.6 L1040.3,1887.6 L1040.3,1887.0 L1040.7,1887.1 L1040.7,1886.5 L1040.8,1886.5 L1040.8,1885.9 L1040.9,1885.9 L1041.0,1885.3 L1040.5,1885.3 L1040.6,1884.7 L1040.7,1884.7 L1040.8,1884.1 L1041.1,1884.1 L1041.1,1883.6 L1041.0,1883.6 L1041.0,1883.0 L1041.1,1883.0 L1041.1,1882.4 L1040.8,1882.4 L1040.9,1881.8 L1041.4,1881.8 L1041.4,1881.2 L1041.0,1881.2 L1041.1,1880.6 L1040.9,1880.6 L1040.9,1880.0 L1041.7,1880.1 L1041.8,1879.5 L1041.1,1879.4 L1041.2,1878.9 L1040.7,1878.8 L1040.7,1878.2 L1041.1,1878.3 L1041.1,1877.7 L1041.0,1877.7 L1041.0,1877.1 L1040.9,1877.1 L1040.9,1876.5 L1041.5,1876.5 L1041.5,1875.9 L1041.4,1875.9 L1041.5,1875.4 L1042.0,1875.4 L1042.0,1874.8 L1041.4,1874.8 L1041.5,1874.2 L1041.9,1874.2 L1042.0,1873.6 L1041.6,1873.6 L1041.7,1873.0 L1041.9,1873.0 L1041.9,1872.5 L1042.1,1872.5 L1042.1,1871.9 L1041.3,1871.8 L1041.3,1871.2 L1042.1,1871.3 L1042.1,1870.7 L1041.4,1870.6 L1041.5,1870.0 L1042.5,1870.2 L1042.6,1869.6 L1042.0,1869.5 L1042.1,1868.9 L1042.2,1868.9 L1042.3,1868.4 L1042.8,1868.4 L1042.9,1867.8 L1042.6,1867.8 L1042.7,1867.2 L1042.7,1867.2 L1042.8,1866.7 L1042.7,1866.6 L1042.7,1866.1 L1042.3,1866.0 L1042.4,1865.4 L1042.5,1865.4 L1042.6,1864.9 L1043.0,1864.9 L1043.1,1864.3 L1043.2,1864.3 L1043.3,1863.8 L1043.1,1863.7 L1043.1,1863.2 L1043.5,1863.2 L1043.6,1862.6 L1043.0,1862.5 L1043.1,1862.0 L1042.9,1861.9 L1043.0,1861.3 L1042.9,1861.3 L1043.0,1860.8 L1042.8,1860.7 L1042.9,1860.2 L1043.8,1860.3 L1043.9,1859.7 L1043.8,1859.7 L1043.9,1859.1 L1043.8,1859.1 L1043.9,1858.5 L1043.8,1858.5 L1043.9,1857.9 L1043.4,1857.9 L1043.5,1857.3 L1044.3,1857.4 L1044.4,1856.8 L1044.1,1856.8 L1044.2,1856.2 L1044.4,1856.2 L1044.5,1855.7 L1043.6,1855.5 L1043.7,1854.9 L1044.0,1855.0 L1044.1,1854.4 L1044.7,1854.5 L1044.8,1853.9 L1044.6,1853.9 L1044.7,1853.3 L1044.2,1853.2 L1044.3,1852.6 L1044.8,1852.7 L1044.9,1852.2 L1045.3,1852.2 L1045.4,1851.7 L1044.8,1851.5 L1044.9,1851.0 L1045.4,1851.0 L1045.5,1850.5 L1044.7,1850.3 L1044.8,1849.7 L1045.8,1849.9 L1045.9,1849.4 L1045.7,1849.3 L1045.8,1848.8 L1045.4,1848.7 L1045.5,1848.1 L1045.2,1848.0 L1045.3,1847.4 L1046.0,1847.6 L1046.1,1847.0 L1045.8,1847.0 L1045.9,1846.4 L1046.5,1846.5 L1046.6,1845.9 L1046.5,1845.9 L1046.6,1845.3 L1046.6,1845.3 L1046.7,1844.8 L1046.3,1844.7 L1046.4,1844.1 L1046.0,1844.0 L1046.1,1843.4 L1046.3,1843.5 L1046.5,1842.9 L1046.6,1842.9 L1046.7,1842.3 L1046.9,1842.4 L1047.0,1841.8 L1047.1,1841.8 L1047.2,1841.3 L1046.7,1841.1 L1046.9,1840.6 L1047.0,1840.6 L1047.1,1840.0 L1047.6,1840.2 L1047.8,1839.6 L1047.9,1839.6 L1048.0,1839.0 L1047.4,1838.9 L1047.5,1838.3 L1047.4,1838.3 L1047.5,1837.7 L1048.2,1837.9 L1048.4,1837.3 L1048.2,1837.3 L1048.3,1836.7 L1047.9,1836.6 L1048.0,1836.0 L1048.4,1836.1 L1048.5,1835.5 L1048.3,1835.5 L1048.5,1834.9 L1048.8,1835.0 L1049.0,1834.4 L1048.6,1834.3 L1048.7,1833.8 L1048.5,1833.7 L1048.6,1833.1 L1048.9,1833.2 L1049.1,1832.6 L1049.6,1832.8 L1049.7,1832.2 L1049.4,1832.1 L1049.6,1831.6 L1050.1,1831.7 L1050.2,1831.1 L1049.3,1830.9 L1049.5,1830.3 L1050.0,1830.5 L1050.1,1829.9 L1050.4,1830.0 L1050.5,1829.4 L1050.6,1829.4 L1050.8,1828.9 L1050.1,1828.7 L1050.3,1828.1 L1050.7,1828.2 L1050.9,1827.7 L1051.4,1827.8 L1051.5,1827.3 L1050.9,1827.1 L1051.1,1826.5 L1051.7,1826.7 L1051.9,1826.1 L1051.9,1826.1 L1052.1,1825.6 L1051.9,1825.5 L1052.1,1825.0 L1051.6,1824.8 L1051.8,1824.3 L1052.0,1824.3 L1052.1,1823.8 L1052.5,1823.9 L1052.6,1823.3 L1052.8,1823.3 L1053.0,1822.8 L1051.9,1822.5 L1052.1,1821.9 L1052.8,1822.1 L1052.9,1821.6 L1053.2,1821.7 L1053.4,1821.1 L1054.3,1821.4 A233.5,233.5 0 0 0 1042.9,1917.4 Z" fill="#2e9a4d" stroke="#2e9a4d" stroke-width="0.6"/>
<path d="M1118.8,1910.6 A157.3,157.3 0 0 1 1126.5,1845.9" fill="none" stroke="#3a7dc4" stroke-width="1.4"/>
<path d="M1119.1,1903.1L1112.9,1903.4M1119.4,1908.7L1103.8,1910.0M1119.0,1897.5L1106.8,1897.6M1124.7,1854.5L1113.0,1851.3M1119.0,1899.0L1104.6,1899.3M1119.0,1897.7L1106.4,1897.8M1124.8,1854.1L1117.6,1852.1M1119.1,1902.8L1111.2,1903.1M1119.1,1902.1L1110.9,1902.4M1119.0,1899.7L1102.4,1900.1M1119.3,1906.4L1108.9,1907.0M1125.6,1851.5L1111.3,1847.2M1123.6,1858.6L1109.1,1855.0" fill="none" stroke="#3a7dc4" stroke-width="1.3"/>
<path d="M1157.4,1907.1 L1155.4,1907.3 L1155.3,1907.0 L1154.3,1907.1 L1154.2,1906.8 L1153.9,1906.9 L1153.9,1906.6 L1154.6,1906.6 L1154.5,1906.3 L1156.1,1906.2 L1156.1,1905.9 L1154.6,1906.0 L1154.6,1905.8 L1156.3,1905.6 L1156.3,1905.4 L1155.9,1905.4 L1155.9,1905.1 L1154.4,1905.2 L1154.4,1905.0 L1155.5,1904.9 L1155.4,1904.6 L1156.0,1904.6 L1156.0,1904.3 L1155.2,1904.4 L1155.2,1904.1 L1154.4,1904.2 L1154.4,1903.9 L1154.4,1903.9 L1154.4,1903.6 L1154.8,1903.6 L1154.8,1903.4 L1154.9,1903.4 L1154.9,1903.1 L1155.9,1903.0 L1155.9,1902.8 L1154.1,1902.9 L1154.1,1902.6 L1156.1,1902.5 L1156.0,1902.2 L1154.3,1902.3 L1154.3,1902.1 L1154.6,1902.0 L1154.6,1901.8 L1155.1,1901.8 L1155.1,1901.5 L1155.0,1901.5 L1155.0,1901.2 L1155.2,1901.2 L1155.2,1901.0 L1155.4,1901.0 L1155.4,1900.7 L1150.5,1900.9 L1150.5,1900.6 L1153.9,1900.5 L1153.9,1900.2 L1153.9,1900.2 L1153.9,1899.9 L1153.5,1900.0 L1153.5,1899.7 L1155.0,1899.7 L1155.0,1899.4 L1154.1,1899.4 L1154.1,1899.1 L1154.4,1899.1 L1154.4,1898.9 L1156.1,1898.8 L1156.1,1898.6 L1155.3,1898.6 L1155.3,1898.3 L1154.4,1898.3 L1154.4,1898.1 L1155.6,1898.1 L1155.6,1897.8 L1156.0,1897.8 L1156.0,1897.5 L1153.8,1897.6 L1153.8,1897.3 L1153.6,1897.3 L1153.6,1897.0 L1154.2,1897.0 L1154.2,1896.8 L1154.7,1896.8 L1154.7,1896.5 L1153.6,1896.5 L1153.6,1896.2 L1155.0,1896.2 L1155.0,1896.0 L1154.7,1896.0 L1154.7,1895.7 L1154.0,1895.7 L1154.0,1895.4 L1154.5,1895.4 L1154.5,1895.2 L1154.7,1895.2 L1154.7,1894.9 L1154.7,1894.9 L1154.7,1894.7 L1154.4,1894.6 L1154.4,1894.4 L1155.7,1894.4 L1155.8,1894.1 L1153.8,1894.1 L1153.8,1893.8 L1156.0,1893.9 L1156.0,1893.6 L1155.1,1893.6 L1155.1,1893.3 L1155.2,1893.3 L1155.2,1893.1 L1155.8,1893.1 L1155.8,1892.8 L1154.8,1892.8 L1154.8,1892.5 L1154.2,1892.5 L1154.2,1892.3 L1155.8,1892.3 L1155.8,1892.1 L1154.7,1892.0 L1154.7,1891.8 L1154.5,1891.7 L1154.5,1891.5 L1155.3,1891.5 L1155.3,1891.2 L1154.7,1891.2 L1154.7,1891.0 L1155.9,1891.0 L1156.0,1890.8 L1154.0,1890.7 L1154.0,1890.4 L1154.1,1890.4 L1154.1,1890.1 L1154.7,1890.2 L1154.7,1889.9 L1155.5,1889.9 L1155.5,1889.7 L1155.6,1889.7 L1155.6,1889.4 L1152.6,1889.2 L1152.6,1889.0 L1155.8,1889.2 L1155.9,1888.9 L1154.3,1888.8 L1154.3,1888.5 L1156.0,1888.7 L1156.0,1888.4 L1156.0,1888.4 L1156.0,1888.1 L1154.9,1888.1 L1154.9,1887.8 L1154.5,1887.8 L1154.5,1887.5 L1154.4,1887.5 L1154.4,1887.2 L1156.4,1887.4 L1156.4,1887.1 L1155.7,1887.1 L1155.8,1886.8 L1155.1,1886.8 L1155.2,1886.5 L1155.0,1886.5 L1155.1,1886.2 L1154.3,1886.2 L1154.3,1885.9 L1156.3,1886.1 L1156.4,1885.8 L1156.1,1885.8 L1156.1,1885.5 L1154.7,1885.4 L1154.7,1885.1 L1156.2,1885.3 L1156.3,1885.0 L1154.1,1884.8 L1154.1,1884.5 L1156.2,1884.7 L1156.3,1884.5 L1156.1,1884.5 L1156.1,1884.2 L1155.0,1884.1 L1155.0,1883.8 L1156.4,1884.0 L1156.5,1883.7 L1154.2,1883.5 L1154.3,1883.2 L1154.9,1883.3 L1154.9,1883.0 L1153.6,1882.9 L1153.6,1882.6 L1155.0,1882.8 L1155.0,1882.5 L1156.9,1882.7 L1156.9,1882.5 L1156.9,1882.4 L1156.9,1882.2 L1156.1,1882.1 L1156.2,1881.8 L1154.9,1881.7 L1154.9,1881.4 L1155.4,1881.5 L1155.4,1881.2 L1155.4,1881.2 L1155.4,1880.9 L1156.6,1881.1 L1156.6,1880.8 L1156.5,1880.8 L1156.5,1880.6 L1155.4,1880.4 L1155.5,1880.2 L1155.8,1880.2 L1155.8,1879.9 L1155.5,1879.9 L1155.5,1879.6 L1155.8,1879.7 L1155.8,1879.4 L1155.2,1879.3 L1155.2,1879.0 L1155.9,1879.2 L1156.0,1878.9 L1155.0,1878.7 L1155.0,1878.5 L1156.8,1878.8 L1156.9,1878.5 L1155.9,1878.3 L1155.9,1878.1 L1157.4,1878.3 L1157.4,1878.0 L1156.4,1877.9 L1156.4,1877.6 L1150.0,1876.6 L1150.0,1876.3 L1157.3,1877.5 L1157.3,1877.2 L1155.2,1876.9 L1155.2,1876.6 L1156.2,1876.8 L1156.2,1876.5 L1156.0,1876.5 L1156.0,1876.2 L1157.3,1876.4 L1157.3,1876.2 L1156.8,1876.1 L1156.8,1875.8 L1155.6,1875.6 L1155.6,1875.3 L1157.3,1875.6 L1157.3,1875.4 L1157.6,1875.4 L1157.7,1875.2 L1158.0,1875.2 L1158.1,1875.0 L1156.6,1874.7 L1156.6,1874.5 L1156.7,1874.5 L1156.7,1874.2 L1157.6,1874.4 L1157.7,1874.1 L1157.2,1874.0 L1157.2,1873.8 L1155.9,1873.5 L1155.9,1873.2 L1156.4,1873.3 L1156.4,1873.1 L1157.1,1873.2 L1157.1,1872.9 L1157.9,1873.1 L1158.0,1872.8 L1157.5,1872.7 L1157.5,1872.5 L1156.1,1872.2 L1156.1,1871.9 L1157.8,1872.3 L1157.8,1872.0 L1157.7,1872.0 L1157.7,1871.7 L1157.3,1871.6 L1157.3,1871.4 L1157.1,1871.3 L1157.2,1871.1 L1157.7,1871.2 L1157.7,1870.9 L1157.7,1870.9 L1157.7,1870.6 L1158.3,1870.8 L1158.4,1870.5 L1158.8,1870.6 L1158.9,1870.4 L1157.4,1870.0 L1157.4,1869.8 L1157.9,1869.9 L1157.9,1869.6 L1158.0,1869.6 L1158.1,1869.4 L1159.1,1869.6 L1159.2,1869.4 L1156.7,1868.8 L1156.8,1868.5 L1158.4,1868.9 L1158.5,1868.7 L1156.8,1868.3 L1156.9,1868.0 L1158.4,1868.4 L1158.4,1868.1 L1157.3,1867.8 L1157.3,1867.6 L1157.8,1867.7 L1157.9,1867.4 L1158.7,1867.6 L1158.8,1867.4 L1158.7,1867.4 L1158.8,1867.1 L1158.5,1867.0 L1158.5,1866.8 L1159.5,1867.0 L1159.5,1866.8 L1159.8,1866.8 L1159.9,1866.6 L1157.6,1866.0 L1157.7,1865.7 L1158.8,1866.0 L1158.9,1865.8 L1159.1,1865.8 L1159.1,1865.6 L1159.8,1865.7 L1159.9,1865.5 L1158.1,1865.0 L1158.2,1864.8 L1158.4,1864.8 L1158.5,1864.6 L1158.6,1864.6 L1158.7,1864.4 L1158.7,1864.4 L1158.8,1864.1 L1159.3,1864.2 L1159.3,1864.0 L1158.9,1863.9 L1159.0,1863.6 L1160.0,1863.9 L1160.1,1863.7 L1158.1,1863.1 L1158.2,1862.8 L1159.0,1863.1 L1159.1,1862.8 L1160.7,1863.3 L1160.8,1863.1 L1160.1,1862.9 L1160.2,1862.6 L1160.6,1862.7 L1160.7,1862.5 L1159.5,1862.1 L1159.5,1861.9 L1158.6,1861.6 L1158.6,1861.3 L1160.7,1861.9 L1160.8,1861.7 L1159.7,1861.4 L1159.8,1861.1 L1159.8,1861.1 L1159.9,1860.9 L1160.8,1861.1 L1160.9,1860.9 L1159.3,1860.4 L1159.3,1860.1 L1159.9,1860.3 L1160.0,1860.1 L1161.0,1860.4 L1161.1,1860.1 L1159.6,1859.7 L1159.7,1859.4 L1161.8,1860.1 L1161.9,1859.8 L1159.8,1859.2 L1159.9,1858.9 L1161.0,1859.3 L1161.1,1859.0 L1160.9,1859.0 L1161.0,1858.7 L1160.6,1858.6 L1160.7,1858.3 L1161.1,1858.5 L1161.2,1858.2 L1160.5,1858.0 L1160.6,1857.8 L1160.8,1857.8 L1160.9,1857.6 L1163.2,1858.4 A118.5,118.5 0 0 0 1157.4,1907.1 Z" fill="#555" stroke="#555" stroke-width="0.4"/>
<path d="M1157.0,1898.7L1145.3,1898.9" fill="none" stroke="#444" stroke-width="1"/>
<path d="M957.5,1925.1 A319.2,319.2 0 0 1 973.2,1793.9 L992.6,1800.5 A298.7,298.7 0 0 0 978.0,1923.3 Z" fill="#FFFF00" stroke="#555" stroke-width="0.7"/>
<path d="M957.5,1925.1L950.0,1925.8M956.3,1897.5L948.7,1897.5M957.4,1869.9L949.8,1869.3M960.8,1842.5L953.4,1841.2M966.7,1815.5L959.3,1813.6" stroke="#111" stroke-width="1.9" fill="none"/>
<path d="M957.1,1919.6L953.3,1919.9M956.7,1914.1L952.9,1914.3M956.5,1908.6L952.7,1908.7M956.3,1903.0L952.5,1903.1M956.3,1892.0L952.5,1891.9M956.4,1886.5L952.6,1886.3M956.6,1880.9L952.8,1880.8M956.9,1875.4L953.2,1875.2M957.9,1864.4L954.1,1864.0M958.5,1858.9L954.7,1858.5M959.2,1853.4L955.4,1852.9M960.0,1848.0L956.2,1847.4M961.8,1837.1L958.1,1836.4M962.9,1831.6L959.2,1830.9M964.1,1826.2L960.4,1825.4M965.3,1820.9L961.6,1820.0M968.1,1810.2L964.5,1809.1M969.7,1804.9L966.0,1803.8M971.3,1799.6L967.7,1798.4M973.0,1794.3L969.4,1793.1" stroke="#222" stroke-width="1.0" fill="none"/>
<text x="945.84" y="1926.21" font-size="14" fill="#505050" text-anchor="end" transform="rotate(-5.150 945.84 1926.21)" dominant-baseline="central">0</text>
<text x="944.50" y="1897.60" font-size="14" fill="#505050" text-anchor="end" transform="rotate(-0.190 944.50 1897.60)" dominant-baseline="central">500</text>
<text x="945.65" y="1868.98" font-size="14" fill="#505050" text-anchor="end" transform="rotate(4.770 945.65 1868.98)" dominant-baseline="central">1000</text>
<text x="949.26" y="1840.56" font-size="14" fill="#505050" text-anchor="end" transform="rotate(9.730 949.26 1840.56)" dominant-baseline="central">1500</text>
<text x="955.32" y="1812.56" font-size="14" fill="#505050" text-anchor="end" transform="rotate(14.690 955.32 1812.56)" dominant-baseline="central">2000</text>
<text x="986.55" y="1862.05" font-size="14.5" fill="#505050" text-anchor="middle" textLength="35.50" lengthAdjust="spacingAndGlyphs" transform="rotate(276.799 986.55 1862.05)" dominant-baseline="central">Chr09</text>
<path d="M1024.6,1802.7 A267.8,267.8 0 0 1 1092.1,1701.2 L1115.6,1726.2 A233.5,233.5 0 0 0 1056.7,1814.7 Z" fill="#f3f3f3"/>
<path d="M1055.7,1814.3 A234.6,234.6 0 0 1 1114.8,1725.4 M1053.5,1813.5 A236.9,236.9 0 0 1 1113.3,1723.7 M1051.4,1812.7 A239.2,239.2 0 0 1 1111.7,1722.1 M1049.2,1811.9 A241.5,241.5 0 0 1 1110.1,1720.4 M1047.1,1811.1 A243.7,243.7 0 0 1 1108.6,1718.7 M1045.0,1810.3 A246.0,246.0 0 0 1 1107.0,1717.1 M1042.8,1809.5 A248.3,248.3 0 0 1 1105.4,1715.4 M1040.7,1808.7 A250.6,250.6 0 0 1 1103.9,1713.7 M1038.5,1807.9 A252.9,252.9 0 0 1 1102.3,1712.1 M1036.4,1807.1 A255.2,255.2 0 0 1 1100.7,1710.4 M1034.3,1806.3 A257.5,257.5 0 0 1 1099.2,1708.7 M1032.1,1805.5 A259.8,259.8 0 0 1 1097.6,1707.1 M1030.0,1804.7 A262.0,262.0 0 0 1 1096.0,1705.4 M1027.8,1803.9 A264.3,264.3 0 0 1 1094.5,1703.7 M1025.7,1803.1 A266.6,266.6 0 0 1 1092.9,1702.1" fill="none" stroke="#c6c6c6" stroke-width="0.85"/>
<path d="M1062.8,1817.0 A227.0,227.0 0 0 1 1120.1,1731.0 L1141.4,1753.7 A195.8,195.8 0 0 0 1092.1,1827.9 Z" fill="#dadada"/>
<path d="M1091.1,1827.5 A196.7,196.7 0 0 1 1140.7,1753.0 M1089.3,1826.9 A198.7,198.7 0 0 1 1139.4,1751.6 M1087.5,1826.2 A200.6,200.6 0 0 1 1138.1,1750.2 M1085.7,1825.5 A202.6,202.6 0 0 1 1136.7,1748.8 M1083.8,1824.8 A204.5,204.5 0 0 1 1135.4,1747.3 M1082.0,1824.1 A206.5,206.5 0 0 1 1134.1,1745.9 M1080.2,1823.4 A208.4,208.4 0 0 1 1132.7,1744.5 M1078.4,1822.8 A210.4,210.4 0 0 1 1131.4,1743.1 M1076.5,1822.1 A212.3,212.3 0 0 1 1130.1,1741.6 M1074.7,1821.4 A214.3,214.3 0 0 1 1128.7,1740.2 M1072.9,1820.7 A216.2,216.2 0 0 1 1127.4,1738.8 M1071.0,1820.0 A218.2,218.2 0 0 1 1126.1,1737.4 M1069.2,1819.3 A220.1,220.1 0 0 1 1124.7,1736.0 M1067.4,1818.7 A222.1,222.1 0 0 1 1123.4,1734.5 M1065.6,1818.0 A224.0,224.0 0 0 1 1122.1,1733.1 M1063.7,1817.3 A226.0,226.0 0 0 1 1120.7,1731.7" fill="none" stroke="#c6c6c6" stroke-width="0.7"/>
<path d="M1098.4,1830.3 A189.0,189.0 0 0 1 1146.1,1758.7 L1168.3,1782.4 A156.5,156.5 0 0 0 1128.9,1841.6 Z" fill="#f0f0f0"/>
<path d="M1100.8,1831.1 A186.5,186.5 0 0 1 1147.8,1760.5 M1127.5,1841.1 A158.0,158.0 0 0 1 1167.3,1781.3" fill="none" stroke="#c8c8c8" stroke-width="1.0"/>
<path d="M1132.6,1843.0 A152.5,152.5 0 0 1 1171.1,1785.3 L1194.3,1810.1 A118.5,118.5 0 0 0 1164.5,1855.0 Z" fill="#f1f1f1"/>
<path d="M1159.4,1853.1 A123.9,123.9 0 0 1 1190.6,1806.1 M1154.3,1851.2 A129.3,129.3 0 0 1 1186.9,1802.2 M1149.3,1849.3 A134.7,134.7 0 0 1 1183.2,1798.3 M1144.2,1847.4 A140.1,140.1 0 0 1 1179.5,1794.3 M1139.2,1845.5 A145.5,145.5 0 0 1 1175.8,1790.4 M1134.1,1843.6 A150.9,150.9 0 0 1 1172.2,1786.5" fill="none" stroke="#c9c9c9" stroke-width="1.0"/>
<path d="M1092.1,1827.9 L1085.1,1825.3 L1085.3,1824.8 L1085.1,1824.7 L1085.3,1824.3 L1082.8,1823.3 L1083.0,1822.8 L1083.6,1823.1 L1083.8,1822.6 L1088.0,1824.2 L1088.2,1823.8 L1078.8,1820.1 L1079.0,1819.6 L1087.8,1823.1 L1087.9,1822.6 L1086.3,1822.0 L1086.5,1821.5 L1085.0,1820.9 L1085.2,1820.4 L1074.4,1816.1 L1074.6,1815.6 L1088.2,1821.1 L1088.4,1820.6 L1085.2,1819.3 L1085.4,1818.8 L1089.2,1820.4 L1089.4,1819.9 L1086.0,1818.5 L1086.2,1818.1 L1088.9,1819.2 L1089.1,1818.7 L1089.7,1818.9 L1089.8,1818.5 L1089.7,1818.4 L1089.9,1817.9 L1086.4,1816.5 L1086.6,1816.0 L1087.5,1816.4 L1087.7,1815.9 L1086.7,1815.5 L1086.9,1815.0 L1088.0,1815.5 L1088.2,1815.0 L1089.1,1815.4 L1089.3,1815.0 L1091.6,1816.0 L1091.8,1815.5 L1089.3,1814.4 L1089.5,1814.0 L1078.8,1809.2 L1079.0,1808.7 L1089.0,1813.2 L1089.2,1812.7 L1089.8,1813.0 L1090.0,1812.5 L1091.4,1813.1 L1091.6,1812.6 L1089.0,1811.5 L1089.2,1811.0 L1085.1,1809.1 L1085.3,1808.6 L1093.1,1812.3 L1093.3,1811.8 L1092.8,1811.6 L1093.0,1811.1 L1091.2,1810.3 L1091.4,1809.8 L1092.7,1810.4 L1092.9,1809.9 L1092.2,1809.6 L1092.5,1809.2 L1091.2,1808.6 L1091.5,1808.1 L1090.7,1807.8 L1090.9,1807.3 L1094.8,1809.2 L1095.0,1808.7 L1093.7,1808.1 L1093.9,1807.6 L1091.0,1806.2 L1091.3,1805.8 L1093.2,1806.7 L1093.4,1806.3 L1094.3,1806.7 L1094.5,1806.2 L1092.2,1805.1 L1092.4,1804.6 L1092.5,1804.6 L1092.7,1804.2 L1094.2,1804.9 L1094.4,1804.5 L1093.6,1804.1 L1093.9,1803.6 L1093.8,1803.6 L1094.1,1803.2 L1097.4,1804.9 L1097.6,1804.4 L1095.1,1803.1 L1095.3,1802.7 L1097.1,1803.6 L1097.3,1803.1 L1097.5,1803.3 L1097.8,1802.8 L1095.1,1801.4 L1095.4,1801.0 L1095.9,1801.2 L1096.1,1800.8 L1097.0,1801.3 L1097.3,1800.8 L1094.1,1799.2 L1094.4,1798.7 L1095.2,1799.1 L1095.4,1798.7 L1098.0,1800.1 L1098.3,1799.7 L1096.5,1798.7 L1096.7,1798.2 L1095.0,1797.3 L1095.2,1796.8 L1097.9,1798.3 L1098.1,1797.9 L1099.6,1798.7 L1099.9,1798.3 L1095.6,1795.9 L1095.9,1795.4 L1096.8,1795.9 L1097.0,1795.5 L1099.2,1796.7 L1099.4,1796.3 L1101.3,1797.3 L1101.6,1796.9 L1100.9,1796.5 L1101.1,1796.1 L1097.9,1794.2 L1098.1,1793.8 L1100.2,1795.0 L1100.5,1794.5 L1102.4,1795.7 L1102.7,1795.2 L1099.5,1793.4 L1099.8,1793.0 L1101.0,1793.7 L1101.3,1793.2 L1102.5,1794.0 L1102.7,1793.5 L1102.5,1793.4 L1102.7,1793.0 L1101.2,1792.0 L1101.4,1791.6 L1102.4,1792.1 L1102.6,1791.7 L1098.8,1789.4 L1099.1,1788.9 L1100.0,1789.5 L1100.2,1789.1 L1100.7,1789.3 L1100.9,1788.9 L1103.6,1790.5 L1103.9,1790.1 L1101.2,1788.5 L1101.5,1788.0 L1100.5,1787.4 L1100.8,1787.0 L1105.2,1789.8 L1105.5,1789.4 L1101.6,1786.9 L1101.9,1786.4 L1104.2,1788.0 L1104.5,1787.5 L1100.8,1785.2 L1101.1,1784.8 L1103.1,1786.0 L1103.4,1785.6 L1106.7,1787.7 L1106.9,1787.3 L1105.7,1786.5 L1106.0,1786.1 L1104.8,1785.3 L1105.1,1784.9 L1104.5,1784.5 L1104.8,1784.1 L1103.7,1783.3 L1103.9,1782.9 L1107.5,1785.3 L1107.8,1784.9 L1108.1,1785.1 L1108.4,1784.7 L1105.4,1782.6 L1105.6,1782.2 L1108.7,1784.3 L1109.0,1783.9 L1104.2,1780.6 L1104.5,1780.2 L1106.5,1781.5 L1106.8,1781.1 L1108.5,1782.3 L1108.8,1781.9 L1107.9,1781.3 L1108.2,1780.8 L1109.6,1781.8 L1109.8,1781.4 L1104.9,1777.9 L1105.2,1777.5 L1105.8,1778.0 L1106.1,1777.6 L1107.1,1778.3 L1107.4,1777.8 L1110.0,1779.6 L1110.3,1779.2 L1106.5,1776.5 L1106.8,1776.1 L1107.4,1776.6 L1107.7,1776.1 L1107.9,1776.3 L1108.2,1775.9 L1108.9,1776.3 L1109.2,1775.9 L1108.0,1775.1 L1108.3,1774.6 L1106.4,1773.3 L1106.7,1772.9 L1112.2,1776.9 L1112.5,1776.5 L1109.4,1774.2 L1109.7,1773.8 L1111.5,1775.1 L1111.8,1774.7 L1113.2,1775.7 L1113.5,1775.3 L1108.0,1771.2 L1108.3,1770.8 L1113.1,1774.4 L1113.4,1774.0 L1111.0,1772.2 L1111.3,1771.7 L1111.5,1771.9 L1111.8,1771.5 L1114.5,1773.6 L1114.8,1773.2 L1112.1,1771.1 L1112.4,1770.7 L1113.7,1771.7 L1114.0,1771.3 L1111.1,1769.0 L1111.5,1768.6 L1111.9,1768.9 L1112.2,1768.5 L1114.1,1770.0 L1114.4,1769.6 L1109.5,1765.8 L1109.8,1765.4 L1116.8,1770.9 L1117.1,1770.5 L1111.8,1766.2 L1112.1,1765.8 L1112.4,1766.0 L1112.7,1765.6 L1112.5,1765.4 L1112.8,1765.0 L1114.3,1766.3 L1114.7,1765.9 L1116.5,1767.3 L1116.8,1766.9 L1118.1,1768.0 L1118.4,1767.6 L1116.3,1765.9 L1116.7,1765.5 L1112.4,1762.0 L1112.8,1761.6 L1115.6,1764.0 L1115.9,1763.6 L1114.9,1762.7 L1115.2,1762.3 L1119.3,1765.7 L1119.6,1765.3 L1114.9,1761.3 L1115.2,1760.9 L1115.6,1761.2 L1115.9,1760.8 L1119.8,1764.1 L1120.1,1763.7 L1119.2,1763.0 L1119.6,1762.6 L1113.4,1757.3 L1113.7,1756.9 L1119.5,1761.8 L1119.8,1761.4 L1119.3,1761.0 L1119.7,1760.6 L1118.8,1759.9 L1119.2,1759.5 L1121.3,1761.4 L1121.7,1761.0 L1116.1,1756.1 L1116.4,1755.7 L1114.7,1754.2 L1115.0,1753.8 L1117.6,1756.1 L1118.0,1755.7 L1123.0,1760.2 L1123.3,1759.8 L1119.4,1756.2 L1119.7,1755.8 L1120.5,1756.5 L1120.8,1756.1 L1122.8,1757.9 L1123.2,1757.6 L1123.1,1757.5 L1123.5,1757.1 L1123.6,1757.2 L1123.9,1756.8 L1119.1,1752.4 L1119.5,1752.0 L1123.1,1755.4 L1123.4,1755.0 L1118.9,1750.8 L1119.3,1750.4 L1117.6,1748.9 L1118.0,1748.5 L1119.0,1749.4 L1119.4,1749.0 L1122.7,1752.1 L1123.0,1751.8 L1122.7,1751.5 L1123.1,1751.1 L1118.5,1746.7 L1118.8,1746.3 L1118.4,1745.8 L1118.8,1745.5 L1124.3,1750.8 L1124.7,1750.4 L1122.3,1748.1 L1122.7,1747.7 L1127.6,1752.6 L1128.0,1752.2 L1121.2,1745.5 L1121.5,1745.1 L1128.0,1751.5 L1128.3,1751.1 L1123.5,1746.3 L1123.9,1745.9 L1124.6,1746.7 L1125.0,1746.3 L1119.7,1741.0 L1120.1,1740.7 L1129.9,1750.5 L1130.3,1750.1 L1125.5,1745.3 L1125.8,1744.9 L1125.5,1744.5 L1125.9,1744.2 L1128.3,1746.6 L1128.6,1746.2 L1130.1,1747.7 L1130.4,1747.3 L1128.4,1745.3 L1128.8,1744.9 L1131.9,1748.1 L1132.3,1747.8 L1129.0,1744.3 L1129.4,1744.0 L1132.5,1747.3 L1132.9,1746.9 L1131.9,1745.9 L1132.3,1745.5 L1127.2,1740.1 L1127.6,1739.8 L1130.6,1743.0 L1131.0,1742.6 L1141.4,1753.7 A195.8,195.8 0 0 0 1092.1,1827.9 Z" fill="#d7191c" stroke="#d7191c" stroke-width="0.25"/>
<path d="M1056.7,1814.7 L1055.0,1814.0 L1055.2,1813.5 L1055.2,1813.5 L1055.4,1812.9 L1055.7,1813.0 L1055.9,1812.5 L1055.8,1812.4 L1056.0,1811.9 L1056.8,1812.2 L1057.0,1811.7 L1056.0,1811.3 L1056.2,1810.7 L1056.8,1811.0 L1057.1,1810.4 L1056.9,1810.4 L1057.1,1809.8 L1057.6,1810.0 L1057.9,1809.5 L1057.3,1809.3 L1057.6,1808.7 L1057.2,1808.6 L1057.4,1808.0 L1058.1,1808.3 L1058.3,1807.8 L1058.2,1807.7 L1058.5,1807.2 L1057.9,1807.0 L1058.1,1806.4 L1056.0,1805.6 L1056.3,1805.0 L1058.3,1805.9 L1058.5,1805.3 L1058.7,1805.4 L1058.9,1804.8 L1059.2,1805.0 L1059.4,1804.4 L1059.1,1804.3 L1059.4,1803.8 L1059.7,1803.9 L1059.9,1803.4 L1059.8,1803.3 L1060.0,1802.8 L1058.8,1802.3 L1059.1,1801.7 L1060.6,1802.4 L1060.9,1801.9 L1060.1,1801.5 L1060.3,1801.0 L1060.6,1801.1 L1060.8,1800.6 L1061.0,1800.7 L1061.3,1800.1 L1061.1,1800.0 L1061.3,1799.5 L1061.3,1799.5 L1061.6,1799.0 L1061.9,1799.1 L1062.1,1798.6 L1062.3,1798.7 L1062.6,1798.2 L1062.3,1798.0 L1062.6,1797.5 L1062.8,1797.6 L1063.1,1797.1 L1062.7,1796.9 L1062.9,1796.4 L1062.9,1796.3 L1063.1,1795.8 L1063.6,1796.0 L1063.8,1795.5 L1063.8,1795.5 L1064.1,1795.0 L1064.2,1795.0 L1064.4,1794.5 L1064.2,1794.4 L1064.4,1793.9 L1064.0,1793.6 L1064.3,1793.1 L1064.3,1793.1 L1064.5,1792.6 L1064.6,1792.6 L1064.8,1792.1 L1064.6,1792.0 L1064.9,1791.5 L1063.5,1790.8 L1063.8,1790.3 L1065.6,1791.2 L1065.9,1790.6 L1065.5,1790.4 L1065.8,1789.9 L1066.2,1790.1 L1066.5,1789.6 L1066.2,1789.5 L1066.5,1789.0 L1067.0,1789.2 L1067.3,1788.7 L1066.7,1788.4 L1066.9,1787.9 L1067.3,1788.1 L1067.5,1787.5 L1067.4,1787.5 L1067.7,1786.9 L1067.6,1786.9 L1067.9,1786.4 L1067.9,1786.4 L1068.1,1785.9 L1068.3,1786.0 L1068.6,1785.5 L1068.8,1785.6 L1069.1,1785.1 L1068.7,1784.8 L1068.9,1784.3 L1069.4,1784.6 L1069.7,1784.0 L1068.8,1783.6 L1069.1,1783.1 L1069.8,1783.5 L1070.1,1783.0 L1070.0,1782.9 L1070.3,1782.4 L1070.5,1782.5 L1070.8,1782.0 L1070.6,1781.9 L1070.9,1781.4 L1071.1,1781.5 L1071.3,1781.0 L1071.3,1780.9 L1071.6,1780.4 L1071.2,1780.2 L1071.5,1779.7 L1071.7,1779.8 L1072.0,1779.3 L1071.6,1779.1 L1071.9,1778.5 L1071.9,1778.6 L1072.2,1778.1 L1072.2,1778.1 L1072.5,1777.6 L1072.6,1777.6 L1072.9,1777.1 L1072.8,1777.0 L1073.1,1776.5 L1072.9,1776.4 L1073.2,1775.9 L1074.2,1776.5 L1074.5,1776.0 L1074.0,1775.7 L1074.3,1775.2 L1074.5,1775.4 L1074.8,1774.9 L1075.1,1775.0 L1075.4,1774.5 L1074.6,1774.0 L1074.9,1773.5 L1075.1,1773.6 L1075.4,1773.1 L1075.9,1773.4 L1076.2,1773.0 L1076.2,1772.9 L1076.5,1772.4 L1076.6,1772.5 L1076.9,1772.0 L1076.6,1771.8 L1076.9,1771.3 L1076.3,1771.0 L1076.7,1770.5 L1077.2,1770.8 L1077.5,1770.3 L1077.5,1770.3 L1077.8,1769.8 L1077.5,1769.6 L1077.8,1769.1 L1078.1,1769.3 L1078.4,1768.8 L1078.6,1768.9 L1078.9,1768.4 L1079.0,1768.5 L1079.3,1768.0 L1078.9,1767.7 L1079.2,1767.2 L1078.9,1767.1 L1079.3,1766.6 L1079.7,1766.9 L1080.0,1766.4 L1078.2,1765.1 L1078.5,1764.6 L1080.2,1765.8 L1080.5,1765.3 L1080.7,1765.4 L1081.1,1764.9 L1081.1,1765.0 L1081.5,1764.5 L1081.7,1764.6 L1082.0,1764.2 L1081.7,1763.9 L1082.0,1763.5 L1082.0,1763.4 L1082.3,1763.0 L1082.3,1763.0 L1082.6,1762.5 L1082.1,1762.1 L1082.4,1761.6 L1082.9,1761.9 L1083.2,1761.4 L1083.7,1761.8 L1084.0,1761.3 L1083.1,1760.7 L1083.5,1760.2 L1081.0,1758.4 L1081.3,1758.0 L1084.1,1759.9 L1084.4,1759.4 L1084.5,1759.5 L1084.8,1759.0 L1084.8,1759.0 L1085.2,1758.5 L1085.4,1758.7 L1085.7,1758.2 L1085.7,1758.2 L1086.0,1757.7 L1086.2,1757.9 L1086.6,1757.4 L1086.6,1757.4 L1086.9,1756.9 L1086.4,1756.5 L1086.8,1756.1 L1087.4,1756.5 L1087.8,1756.1 L1087.5,1755.9 L1087.9,1755.4 L1087.8,1755.4 L1088.2,1754.9 L1088.3,1755.0 L1088.6,1754.5 L1088.9,1754.7 L1089.2,1754.2 L1088.3,1753.6 L1088.7,1753.1 L1089.3,1753.6 L1089.7,1753.1 L1089.5,1753.0 L1089.9,1752.5 L1090.2,1752.8 L1090.6,1752.4 L1089.9,1751.8 L1090.3,1751.4 L1090.5,1751.6 L1090.9,1751.1 L1089.2,1749.7 L1089.5,1749.3 L1091.7,1751.0 L1092.1,1750.6 L1091.7,1750.3 L1092.1,1749.8 L1092.0,1749.7 L1092.4,1749.3 L1092.0,1749.0 L1092.4,1748.5 L1093.2,1749.2 L1093.6,1748.7 L1093.3,1748.5 L1093.6,1748.1 L1093.6,1748.0 L1093.9,1747.5 L1094.2,1747.7 L1094.5,1747.3 L1094.6,1747.3 L1094.9,1746.8 L1095.0,1746.9 L1095.3,1746.4 L1094.5,1745.7 L1094.9,1745.3 L1094.9,1745.3 L1095.3,1744.8 L1095.9,1745.4 L1096.3,1744.9 L1096.2,1744.9 L1096.6,1744.4 L1096.0,1743.9 L1096.4,1743.5 L1097.0,1744.0 L1097.4,1743.6 L1097.2,1743.4 L1097.6,1743.0 L1097.4,1742.8 L1097.8,1742.3 L1098.3,1742.8 L1098.7,1742.4 L1098.8,1742.5 L1099.2,1742.0 L1099.0,1741.9 L1099.4,1741.4 L1098.8,1740.9 L1099.2,1740.5 L1099.2,1740.5 L1099.6,1740.0 L1099.6,1740.0 L1100.0,1739.6 L1099.9,1739.6 L1100.3,1739.1 L1100.5,1739.3 L1100.9,1738.9 L1100.8,1738.8 L1101.2,1738.3 L1101.8,1738.9 L1102.2,1738.4 L1102.2,1738.5 L1102.6,1738.0 L1102.5,1737.9 L1102.9,1737.5 L1102.4,1737.0 L1102.8,1736.6 L1102.9,1736.7 L1103.3,1736.3 L1103.4,1736.4 L1103.8,1735.9 L1103.5,1735.7 L1103.9,1735.2 L1104.1,1735.4 L1104.5,1735.0 L1104.4,1734.9 L1104.8,1734.5 L1105.1,1734.8 L1105.5,1734.3 L1105.1,1734.0 L1105.5,1733.5 L1105.9,1733.9 L1106.3,1733.4 L1106.1,1733.3 L1106.5,1732.9 L1107.0,1733.4 L1107.5,1732.9 L1107.4,1732.9 L1107.8,1732.5 L1107.8,1732.4 L1108.2,1732.0 L1108.0,1731.8 L1108.4,1731.4 L1108.0,1731.1 L1108.5,1730.6 L1108.8,1731.0 L1109.2,1730.6 L1109.1,1730.5 L1109.6,1730.1 L1109.4,1729.9 L1109.8,1729.5 L1110.0,1729.7 L1110.4,1729.2 L1110.7,1729.5 L1111.1,1729.1 L1110.6,1728.6 L1111.0,1728.2 L1111.3,1728.5 L1111.7,1728.1 L1112.0,1728.4 L1112.5,1728.0 L1112.1,1727.7 L1112.5,1727.3 L1112.2,1726.9 L1112.6,1726.5 L1113.1,1727.0 L1113.5,1726.6 L1113.0,1726.0 L1113.4,1725.6 L1113.7,1726.0 L1114.2,1725.6 L1114.6,1726.0 L1115.0,1725.6 L1115.6,1726.2 A233.5,233.5 0 0 0 1056.7,1814.7 Z" fill="#2e9a4d" stroke="#2e9a4d" stroke-width="0.6"/>
<path d="M1128.1,1841.4 A157.3,157.3 0 0 1 1167.8,1781.8" fill="none" stroke="#3a7dc4" stroke-width="1.4"/>
<path d="M1149.2,1803.9L1138.3,1795.9M1148.5,1804.9L1135.8,1795.7M1164.4,1786.2L1150.5,1772.3M1165.2,1785.4L1154.3,1774.5M1154.5,1797.1L1149.7,1793.2M1155.0,1796.5L1144.6,1787.9M1129.8,1839.2L1119.3,1835.1M1162.2,1788.4L1158.3,1784.7M1131.0,1836.2L1124.4,1833.5M1135.6,1826.2L1121.5,1819.1M1136.1,1825.2L1124.8,1819.4M1158.0,1793.0L1149.1,1785.2M1155.7,1795.8L1151.7,1792.5M1148.1,1805.6L1140.8,1800.4M1148.4,1805.1L1143.6,1801.6M1160.1,1790.7L1149.9,1781.2" fill="none" stroke="#3a7dc4" stroke-width="1.3"/>
<path d="M1164.5,1855.0 L1163.2,1854.5 L1163.3,1854.2 L1162.0,1853.8 L1162.1,1853.5 L1162.5,1853.7 L1162.6,1853.4 L1163.0,1853.6 L1163.1,1853.3 L1161.8,1852.8 L1161.9,1852.6 L1163.9,1853.3 L1163.9,1853.1 L1162.6,1852.6 L1162.7,1852.3 L1163.4,1852.6 L1163.5,1852.4 L1162.0,1851.8 L1162.1,1851.5 L1164.5,1852.5 L1164.6,1852.2 L1163.2,1851.7 L1163.3,1851.4 L1162.7,1851.2 L1162.8,1850.9 L1163.2,1851.1 L1163.3,1850.9 L1162.7,1850.6 L1162.8,1850.4 L1164.5,1851.0 L1164.6,1850.8 L1163.5,1850.3 L1163.6,1850.1 L1162.9,1849.8 L1163.0,1849.6 L1164.1,1850.0 L1164.2,1849.8 L1164.7,1850.0 L1164.8,1849.8 L1163.8,1849.4 L1163.9,1849.1 L1164.3,1849.3 L1164.5,1849.0 L1163.6,1848.7 L1163.7,1848.4 L1165.5,1849.2 L1165.6,1848.9 L1165.2,1848.8 L1165.3,1848.5 L1165.4,1848.6 L1165.5,1848.4 L1164.7,1848.0 L1164.8,1847.7 L1165.0,1847.8 L1165.1,1847.6 L1164.9,1847.5 L1165.0,1847.3 L1165.1,1847.3 L1165.2,1847.1 L1166.0,1847.4 L1166.1,1847.2 L1165.2,1846.8 L1165.3,1846.5 L1165.1,1846.4 L1165.2,1846.2 L1166.5,1846.8 L1166.6,1846.5 L1163.0,1844.9 L1163.2,1844.7 L1165.3,1845.7 L1165.4,1845.4 L1164.8,1845.1 L1164.9,1844.9 L1165.5,1845.2 L1165.6,1844.9 L1167.4,1845.8 L1167.6,1845.5 L1165.9,1844.8 L1166.0,1844.5 L1166.2,1844.6 L1166.3,1844.4 L1167.4,1844.9 L1167.5,1844.6 L1167.9,1844.8 L1168.0,1844.6 L1166.0,1843.7 L1166.1,1843.4 L1165.8,1843.2 L1165.9,1843.0 L1166.9,1843.5 L1167.1,1843.3 L1166.0,1842.7 L1166.1,1842.5 L1166.7,1842.8 L1166.9,1842.6 L1166.2,1842.2 L1166.3,1842.0 L1167.7,1842.7 L1167.8,1842.5 L1166.4,1841.8 L1166.6,1841.5 L1167.8,1842.2 L1167.9,1841.9 L1168.5,1842.2 L1168.6,1842.0 L1168.7,1842.0 L1168.8,1841.8 L1168.2,1841.5 L1168.3,1841.2 L1167.2,1840.7 L1167.3,1840.4 L1167.9,1840.8 L1168.1,1840.5 L1169.4,1841.2 L1169.5,1841.0 L1167.7,1840.0 L1167.8,1839.8 L1169.7,1840.8 L1169.8,1840.5 L1169.1,1840.2 L1169.3,1840.0 L1169.0,1839.8 L1169.1,1839.6 L1168.3,1839.1 L1168.4,1838.9 L1169.9,1839.7 L1170.0,1839.5 L1168.8,1838.8 L1168.9,1838.6 L1169.7,1839.0 L1169.9,1838.8 L1170.7,1839.3 L1170.8,1839.0 L1169.1,1838.1 L1169.2,1837.8 L1170.9,1838.7 L1171.0,1838.5 L1168.9,1837.3 L1169.0,1837.1 L1170.5,1838.0 L1170.7,1837.7 L1170.2,1837.5 L1170.4,1837.3 L1169.8,1837.0 L1170.0,1836.7 L1170.6,1837.1 L1170.7,1836.8 L1170.8,1836.9 L1170.9,1836.7 L1170.4,1836.4 L1170.5,1836.1 L1171.8,1836.9 L1171.9,1836.6 L1170.9,1836.0 L1171.0,1835.8 L1172.1,1836.4 L1172.2,1836.2 L1170.2,1835.0 L1170.3,1834.8 L1171.0,1835.2 L1171.2,1835.0 L1170.4,1834.5 L1170.5,1834.3 L1171.5,1834.8 L1171.6,1834.6 L1171.5,1834.5 L1171.6,1834.3 L1172.8,1835.0 L1172.9,1834.8 L1171.5,1834.0 L1171.7,1833.7 L1172.1,1834.0 L1172.2,1833.7 L1171.5,1833.3 L1171.7,1833.1 L1171.6,1833.1 L1171.7,1832.8 L1172.9,1833.6 L1173.0,1833.3 L1173.3,1833.5 L1173.5,1833.3 L1172.0,1832.4 L1172.1,1832.1 L1173.9,1833.3 L1174.1,1833.1 L1172.3,1831.9 L1172.4,1831.7 L1173.7,1832.5 L1173.8,1832.3 L1174.5,1832.7 L1174.7,1832.5 L1174.1,1832.1 L1174.2,1831.9 L1174.2,1831.9 L1174.3,1831.7 L1174.4,1831.7 L1174.6,1831.5 L1174.3,1831.3 L1174.4,1831.1 L1174.6,1831.2 L1174.7,1831.0 L1174.9,1831.1 L1175.1,1830.9 L1173.5,1829.8 L1173.6,1829.6 L1175.5,1830.9 L1175.7,1830.7 L1175.5,1830.5 L1175.6,1830.3 L1175.4,1830.2 L1175.6,1830.0 L1175.0,1829.6 L1175.2,1829.4 L1175.8,1829.8 L1176.0,1829.6 L1171.3,1826.5 L1171.4,1826.2 L1176.5,1829.7 L1176.7,1829.5 L1176.1,1829.1 L1176.3,1828.9 L1176.6,1829.1 L1176.7,1828.9 L1175.2,1827.8 L1175.3,1827.6 L1176.9,1828.6 L1177.0,1828.4 L1177.2,1828.5 L1177.4,1828.3 L1175.4,1827.0 L1175.6,1826.8 L1176.8,1827.7 L1177.0,1827.4 L1176.1,1826.8 L1176.2,1826.6 L1175.8,1826.3 L1176.0,1826.1 L1175.9,1826.0 L1176.0,1825.8 L1176.3,1826.0 L1176.5,1825.8 L1177.2,1826.3 L1177.4,1826.1 L1177.8,1826.4 L1177.9,1826.2 L1177.1,1825.6 L1177.2,1825.3 L1177.7,1825.7 L1177.8,1825.4 L1178.1,1825.7 L1178.3,1825.5 L1178.9,1825.9 L1179.1,1825.7 L1177.3,1824.4 L1177.4,1824.2 L1179.4,1825.6 L1179.6,1825.4 L1177.4,1823.9 L1177.6,1823.6 L1177.6,1823.7 L1177.8,1823.4 L1179.3,1824.5 L1179.4,1824.3 L1179.1,1824.1 L1179.2,1823.9 L1178.2,1823.1 L1178.4,1822.9 L1178.8,1823.2 L1178.9,1823.0 L1179.7,1823.6 L1179.9,1823.4 L1180.0,1823.4 L1180.1,1823.2 L1180.2,1823.3 L1180.4,1823.1 L1180.8,1823.4 L1181.0,1823.2 L1179.1,1821.8 L1179.2,1821.5 L1179.3,1821.6 L1179.5,1821.4 L1181.4,1822.9 L1181.6,1822.7 L1180.9,1822.1 L1181.0,1821.9 L1181.7,1822.4 L1181.8,1822.2 L1181.7,1822.1 L1181.8,1821.9 L1180.2,1820.6 L1180.3,1820.4 L1181.1,1820.9 L1181.2,1820.7 L1181.7,1821.1 L1181.8,1820.9 L1181.7,1820.8 L1181.9,1820.6 L1182.0,1820.7 L1182.2,1820.5 L1182.7,1820.9 L1182.9,1820.7 L1181.7,1819.7 L1181.8,1819.5 L1181.6,1819.3 L1181.7,1819.1 L1183.3,1820.4 L1183.4,1820.2 L1183.1,1819.9 L1183.2,1819.7 L1182.8,1819.3 L1183.0,1819.1 L1183.2,1819.3 L1183.4,1819.1 L1182.4,1818.3 L1182.6,1818.1 L1182.7,1818.1 L1182.8,1817.9 L1184.3,1819.2 L1184.4,1819.0 L1183.0,1817.7 L1183.2,1817.5 L1184.7,1818.8 L1184.9,1818.6 L1183.6,1817.5 L1183.8,1817.3 L1184.1,1817.6 L1184.3,1817.4 L1184.5,1817.6 L1184.6,1817.4 L1185.3,1817.9 L1185.4,1817.8 L1184.7,1817.1 L1184.9,1816.9 L1185.2,1817.2 L1185.4,1817.0 L1184.1,1815.9 L1184.2,1815.7 L1185.1,1816.4 L1185.2,1816.2 L1185.5,1816.4 L1185.7,1816.2 L1184.5,1815.2 L1184.7,1815.0 L1185.9,1816.0 L1186.0,1815.8 L1185.0,1814.9 L1185.2,1814.7 L1187.0,1816.4 L1187.2,1816.2 L1181.8,1811.2 L1181.9,1811.0 L1185.7,1814.5 L1185.9,1814.3 L1186.0,1814.4 L1186.2,1814.2 L1186.4,1814.4 L1186.6,1814.2 L1186.1,1813.8 L1186.3,1813.6 L1188.0,1815.1 L1188.2,1815.0 L1188.0,1814.8 L1188.2,1814.6 L1186.8,1813.3 L1187.0,1813.1 L1188.6,1814.6 L1188.8,1814.4 L1187.2,1813.0 L1187.4,1812.8 L1188.0,1813.4 L1188.2,1813.2 L1188.3,1813.3 L1188.5,1813.1 L1188.7,1813.3 L1188.9,1813.1 L1189.4,1813.6 L1189.6,1813.4 L1188.1,1812.0 L1188.3,1811.8 L1188.6,1812.1 L1188.8,1811.9 L1189.2,1812.3 L1189.4,1812.1 L1189.2,1812.0 L1189.4,1811.8 L1186.3,1808.7 L1186.5,1808.5 L1188.9,1810.9 L1189.1,1810.8 L1189.8,1811.4 L1190.0,1811.2 L1190.2,1811.4 L1190.4,1811.3 L1189.9,1810.7 L1190.0,1810.5 L1190.7,1811.2 L1190.9,1811.0 L1191.2,1811.4 L1191.4,1811.2 L1190.7,1810.5 L1190.9,1810.3 L1190.9,1810.3 L1191.1,1810.1 L1190.9,1809.9 L1191.1,1809.7 L1191.9,1810.6 L1192.1,1810.4 L1191.4,1809.7 L1191.6,1809.5 L1191.3,1809.2 L1191.5,1809.0 L1187.7,1805.0 L1187.9,1804.8 L1191.4,1808.5 L1191.6,1808.3 L1192.3,1809.1 L1192.5,1808.9 L1192.8,1809.2 L1193.0,1809.0 L1193.1,1809.1 L1193.3,1808.9 L1194.3,1810.1 A118.5,118.5 0 0 0 1164.5,1855.0 Z" fill="#555" stroke="#555" stroke-width="0.4"/>
<path d="M1174.1,1835.1L1154.6,1823.3M1177.0,1830.5L1164.1,1821.8" fill="none" stroke="#444" stroke-width="1"/>
<path d="M976.5,1784.7 A319.2,319.2 0 0 1 1056.9,1663.8 L1071.0,1678.7 A298.7,298.7 0 0 0 995.7,1791.8 Z" fill="#CCFF00" stroke="#555" stroke-width="0.7"/>
<path d="M976.5,1784.7L969.4,1782.0M987.3,1759.2L980.4,1756.0M1000.2,1734.8L993.6,1731.0M1015.2,1711.6L1009.0,1707.2M1032.2,1689.8L1026.4,1684.9M1050.9,1669.6L1045.6,1664.2" stroke="#111" stroke-width="1.9" fill="none"/>
<path d="M978.4,1779.5L974.9,1778.1M980.5,1774.4L977.0,1772.9M982.7,1769.3L979.2,1767.8M984.9,1764.2L981.5,1762.7M989.7,1754.3L986.3,1752.6M992.2,1749.3L988.8,1747.6M994.8,1744.5L991.4,1742.6M997.4,1739.6L994.1,1737.8M1003.0,1730.1L999.8,1728.1M1006.0,1725.4L1002.7,1723.4M1009.0,1720.8L1005.8,1718.7M1012.0,1716.2L1008.9,1714.0M1018.4,1707.2L1015.4,1704.9M1021.8,1702.7L1018.7,1700.4M1025.1,1698.4L1022.2,1696.0M1028.6,1694.1L1025.7,1691.7M1035.8,1685.6L1032.9,1683.1M1039.5,1681.5L1036.6,1679.0M1043.2,1677.5L1040.4,1674.9M1047.0,1673.5L1044.3,1670.8M1054.9,1665.7L1052.3,1663.0" stroke="#222" stroke-width="1.0" fill="none"/>
<text x="965.46" y="1780.58" font-size="14" fill="#505050" text-anchor="end" transform="rotate(20.500 965.46 1780.58)" dominant-baseline="central">0</text>
<text x="976.64" y="1754.21" font-size="14" fill="#505050" text-anchor="end" transform="rotate(25.460 976.64 1754.21)" dominant-baseline="central">500</text>
<text x="990.07" y="1728.90" font-size="14" fill="#505050" text-anchor="end" transform="rotate(30.420 990.07 1728.90)" dominant-baseline="central">1000</text>
<text x="1005.63" y="1704.85" font-size="14" fill="#505050" text-anchor="end" transform="rotate(35.380 1005.63 1704.85)" dominant-baseline="central">1500</text>
<text x="1023.21" y="1682.24" font-size="14" fill="#505050" text-anchor="end" transform="rotate(40.340 1023.21 1682.24)" dominant-baseline="central">2000</text>
<text x="1042.68" y="1661.23" font-size="14" fill="#505050" text-anchor="end" transform="rotate(45.300 1042.68 1661.23)" dominant-baseline="central">2500</text>
<text x="1033.26" y="1735.26" font-size="14.5" fill="#505050" text-anchor="middle" textLength="35.50" lengthAdjust="spacingAndGlyphs" transform="rotate(303.649 1033.26 1735.26)" dominant-baseline="central">Chr03</text>
<path d="M1098.2,1695.7 A267.8,267.8 0 0 1 1161.6,1654.0 L1176.2,1685.1 A233.5,233.5 0 0 0 1120.9,1721.4 Z" fill="#f3f3f3"/>
<path d="M1120.1,1720.6 A234.6,234.6 0 0 1 1175.7,1684.1 M1118.6,1718.9 A236.9,236.9 0 0 1 1174.8,1682.0 M1117.1,1717.2 A239.2,239.2 0 0 1 1173.8,1679.9 M1115.6,1715.4 A241.5,241.5 0 0 1 1172.8,1677.8 M1114.1,1713.7 A243.7,243.7 0 0 1 1171.8,1675.8 M1112.6,1712.0 A246.0,246.0 0 0 1 1170.9,1673.7 M1111.0,1710.3 A248.3,248.3 0 0 1 1169.9,1671.6 M1109.5,1708.6 A250.6,250.6 0 0 1 1168.9,1669.6 M1108.0,1706.9 A252.9,252.9 0 0 1 1168.0,1667.5 M1106.5,1705.2 A255.2,255.2 0 0 1 1167.0,1665.4 M1105.0,1703.4 A257.5,257.5 0 0 1 1166.0,1663.4 M1103.5,1701.7 A259.8,259.8 0 0 1 1165.0,1661.3 M1102.0,1700.0 A262.0,262.0 0 0 1 1164.1,1659.2 M1100.5,1698.3 A264.3,264.3 0 0 1 1163.1,1657.2 M1098.9,1696.6 A266.6,266.6 0 0 1 1162.1,1655.1" fill="none" stroke="#c6c6c6" stroke-width="0.85"/>
<path d="M1125.2,1726.3 A227.0,227.0 0 0 1 1179.0,1691.0 L1192.2,1719.2 A195.8,195.8 0 0 0 1145.8,1749.7 Z" fill="#dadada"/>
<path d="M1145.2,1749.0 A196.7,196.7 0 0 1 1191.8,1718.3 M1143.9,1747.5 A198.7,198.7 0 0 1 1191.0,1716.6 M1142.6,1746.0 A200.6,200.6 0 0 1 1190.2,1714.8 M1141.3,1744.6 A202.6,202.6 0 0 1 1189.3,1713.0 M1140.0,1743.1 A204.5,204.5 0 0 1 1188.5,1711.3 M1138.7,1741.7 A206.5,206.5 0 0 1 1187.7,1709.5 M1137.5,1740.2 A208.4,208.4 0 0 1 1186.9,1707.7 M1136.2,1738.7 A210.4,210.4 0 0 1 1186.0,1706.0 M1134.9,1737.3 A212.3,212.3 0 0 1 1185.2,1704.2 M1133.6,1735.8 A214.3,214.3 0 0 1 1184.4,1702.5 M1132.3,1734.3 A216.2,216.2 0 0 1 1183.5,1700.7 M1131.0,1732.9 A218.2,218.2 0 0 1 1182.7,1698.9 M1129.7,1731.4 A220.1,220.1 0 0 1 1181.9,1697.2 M1128.4,1730.0 A222.1,222.1 0 0 1 1181.0,1695.4 M1127.1,1728.5 A224.0,224.0 0 0 1 1180.2,1693.6 M1125.8,1727.0 A226.0,226.0 0 0 1 1179.4,1691.9" fill="none" stroke="#c6c6c6" stroke-width="0.7"/>
<path d="M1150.3,1754.8 A189.0,189.0 0 0 1 1195.1,1725.4 L1208.9,1754.8 A156.5,156.5 0 0 0 1171.9,1779.2 Z" fill="#f0f0f0"/>
<path d="M1152.0,1756.7 A186.5,186.5 0 0 1 1196.2,1727.6 M1170.9,1778.0 A158.0,158.0 0 0 1 1208.3,1753.4" fill="none" stroke="#c8c8c8" stroke-width="1.0"/>
<path d="M1174.5,1782.2 A152.5,152.5 0 0 1 1210.6,1758.4 L1225.1,1789.2 A118.5,118.5 0 0 0 1197.0,1807.6 Z" fill="#f1f1f1"/>
<path d="M1193.4,1803.6 A123.9,123.9 0 0 1 1222.8,1784.3 M1189.9,1799.5 A129.3,129.3 0 0 1 1220.5,1779.4 M1186.3,1795.5 A134.7,134.7 0 0 1 1218.2,1774.5 M1182.7,1791.4 A140.1,140.1 0 0 1 1215.9,1769.6 M1179.1,1787.4 A145.5,145.5 0 0 1 1213.6,1764.8 M1175.6,1783.4 A150.9,150.9 0 0 1 1211.3,1759.9" fill="none" stroke="#c9c9c9" stroke-width="1.0"/>
<path d="M1145.8,1749.7 L1141.0,1744.2 L1141.3,1743.8 L1144.0,1746.8 L1144.3,1746.5 L1142.0,1743.8 L1142.3,1743.4 L1143.4,1744.7 L1143.8,1744.4 L1144.6,1745.3 L1145.0,1744.9 L1144.8,1744.8 L1145.2,1744.4 L1143.3,1742.2 L1143.7,1741.9 L1143.6,1741.8 L1144.0,1741.5 L1144.4,1742.0 L1144.8,1741.7 L1144.4,1741.2 L1144.8,1740.8 L1144.0,1739.9 L1144.4,1739.6 L1146.3,1741.9 L1146.7,1741.6 L1147.2,1742.1 L1147.6,1741.8 L1145.6,1739.4 L1146.0,1739.1 L1146.4,1739.6 L1146.8,1739.2 L1148.2,1741.1 L1148.6,1740.7 L1146.9,1738.7 L1147.3,1738.3 L1148.6,1739.9 L1149.0,1739.6 L1147.6,1737.8 L1148.0,1737.5 L1147.7,1737.2 L1148.1,1736.9 L1148.9,1737.9 L1149.3,1737.5 L1150.7,1739.3 L1151.1,1739.0 L1144.2,1730.3 L1144.6,1730.0 L1150.3,1737.2 L1150.7,1736.9 L1150.8,1737.0 L1151.2,1736.7 L1152.5,1738.4 L1152.9,1738.1 L1152.3,1737.4 L1152.7,1737.0 L1152.1,1736.2 L1152.5,1735.9 L1152.5,1735.9 L1152.9,1735.6 L1152.9,1735.6 L1153.3,1735.3 L1151.4,1732.8 L1151.8,1732.5 L1153.7,1735.0 L1154.1,1734.7 L1153.3,1733.6 L1153.7,1733.3 L1153.1,1732.5 L1153.5,1732.2 L1156.1,1735.7 L1156.5,1735.4 L1154.6,1732.8 L1155.0,1732.5 L1154.6,1732.0 L1155.1,1731.7 L1154.7,1731.3 L1155.1,1731.0 L1155.1,1730.9 L1155.5,1730.6 L1156.9,1732.5 L1157.3,1732.2 L1157.4,1732.4 L1157.8,1732.1 L1157.1,1731.0 L1157.5,1730.7 L1158.9,1732.8 L1159.3,1732.5 L1156.4,1728.4 L1156.9,1728.1 L1156.9,1728.2 L1157.4,1727.9 L1158.5,1729.5 L1158.9,1729.2 L1159.1,1729.5 L1159.5,1729.2 L1159.9,1729.7 L1160.3,1729.4 L1152.3,1717.8 L1152.7,1717.5 L1162.2,1731.3 L1162.6,1731.0 L1162.4,1730.8 L1162.9,1730.5 L1161.6,1728.6 L1162.0,1728.4 L1160.5,1726.2 L1161.0,1725.9 L1160.7,1725.6 L1161.2,1725.3 L1162.4,1727.1 L1162.8,1726.8 L1162.0,1725.7 L1162.5,1725.4 L1163.3,1726.7 L1163.7,1726.4 L1164.3,1727.3 L1164.8,1727.0 L1165.0,1727.4 L1165.4,1727.1 L1163.9,1724.7 L1164.3,1724.4 L1166.2,1727.3 L1166.6,1727.1 L1164.8,1724.3 L1165.2,1724.0 L1164.4,1722.7 L1164.8,1722.4 L1165.7,1723.8 L1166.1,1723.5 L1166.4,1723.9 L1166.8,1723.6 L1168.7,1726.6 L1169.1,1726.4 L1167.4,1723.7 L1167.9,1723.4 L1166.5,1721.1 L1166.9,1720.9 L1169.7,1725.4 L1170.1,1725.1 L1169.0,1723.3 L1169.4,1723.0 L1167.8,1720.4 L1168.3,1720.2 L1168.9,1721.3 L1169.4,1721.0 L1170.7,1723.2 L1171.2,1723.0 L1171.0,1722.8 L1171.5,1722.5 L1171.5,1722.6 L1172.0,1722.4 L1170.6,1720.0 L1171.0,1719.7 L1170.4,1718.8 L1170.9,1718.5 L1173.5,1723.0 L1174.0,1722.7 L1172.8,1720.8 L1173.3,1720.6 L1172.9,1719.9 L1173.3,1719.6 L1172.6,1718.3 L1173.0,1718.1 L1175.1,1721.7 L1175.5,1721.5 L1173.0,1717.0 L1173.4,1716.7 L1173.2,1716.2 L1173.6,1716.0 L1168.4,1706.7 L1168.8,1706.4 L1175.1,1717.6 L1175.6,1717.4 L1173.7,1714.0 L1174.1,1713.7 L1177.5,1719.8 L1177.9,1719.5 L1177.7,1719.2 L1178.2,1719.0 L1178.1,1718.9 L1178.6,1718.6 L1178.8,1719.1 L1179.3,1718.9 L1179.1,1718.6 L1179.6,1718.3 L1176.8,1713.2 L1177.3,1713.0 L1178.0,1714.4 L1178.5,1714.1 L1178.2,1713.7 L1178.7,1713.4 L1177.4,1711.1 L1177.9,1710.9 L1180.9,1716.5 L1181.3,1716.2 L1178.3,1710.6 L1178.8,1710.3 L1178.7,1710.2 L1179.2,1709.9 L1182.0,1715.3 L1182.4,1715.1 L1182.9,1716.0 L1183.4,1715.8 L1182.9,1714.8 L1183.3,1714.6 L1183.7,1715.3 L1184.1,1715.1 L1182.3,1711.4 L1182.8,1711.2 L1181.6,1708.8 L1182.0,1708.5 L1182.6,1709.7 L1183.1,1709.5 L1183.8,1711.0 L1184.3,1710.7 L1183.1,1708.4 L1183.6,1708.2 L1185.7,1712.6 L1186.2,1712.3 L1184.1,1708.1 L1184.6,1707.8 L1182.7,1703.9 L1183.2,1703.7 L1185.9,1709.3 L1186.3,1709.0 L1186.0,1708.4 L1186.5,1708.2 L1181.8,1698.2 L1182.3,1698.0 L1192.2,1719.2 A195.8,195.8 0 0 0 1145.8,1749.7 Z" fill="#d7191c" stroke="#d7191c" stroke-width="0.25"/>
<path d="M1120.9,1721.4 L1120.2,1720.6 L1120.6,1720.3 L1120.4,1720.0 L1120.9,1719.6 L1120.6,1719.3 L1121.0,1718.9 L1120.9,1718.8 L1121.4,1718.4 L1122.1,1719.3 L1122.5,1718.9 L1122.3,1718.6 L1122.7,1718.2 L1123.0,1718.5 L1123.4,1718.1 L1122.8,1717.4 L1123.3,1717.1 L1123.1,1716.9 L1123.6,1716.5 L1123.8,1716.8 L1124.3,1716.4 L1124.6,1716.9 L1125.1,1716.5 L1125.1,1716.5 L1125.5,1716.1 L1125.3,1715.8 L1125.8,1715.5 L1125.9,1715.7 L1126.4,1715.3 L1126.0,1714.8 L1126.5,1714.5 L1126.8,1714.9 L1127.3,1714.5 L1127.0,1714.2 L1127.5,1713.8 L1127.8,1714.2 L1128.2,1713.9 L1128.2,1713.8 L1128.6,1713.4 L1128.4,1713.1 L1128.9,1712.8 L1129.1,1713.1 L1129.6,1712.8 L1129.0,1712.0 L1129.5,1711.7 L1130.1,1712.4 L1130.5,1712.0 L1130.0,1711.3 L1130.5,1711.0 L1130.6,1711.1 L1131.0,1710.8 L1131.2,1711.0 L1131.7,1710.6 L1131.6,1710.5 L1132.0,1710.2 L1131.8,1709.9 L1132.3,1709.5 L1130.4,1707.1 L1130.9,1706.7 L1133.1,1709.6 L1133.6,1709.3 L1133.2,1708.8 L1133.7,1708.4 L1134.2,1709.2 L1134.7,1708.8 L1134.8,1709.0 L1135.3,1708.7 L1135.3,1708.6 L1135.7,1708.3 L1135.5,1707.9 L1136.0,1707.6 L1135.8,1707.3 L1136.2,1707.0 L1136.1,1706.8 L1136.6,1706.5 L1136.7,1706.6 L1137.1,1706.2 L1137.2,1706.2 L1137.6,1705.9 L1137.7,1706.0 L1138.2,1705.7 L1138.5,1706.0 L1138.9,1705.7 L1139.1,1705.9 L1139.6,1705.6 L1139.5,1705.5 L1140.0,1705.1 L1139.9,1705.1 L1140.4,1704.7 L1139.9,1704.0 L1140.4,1703.7 L1140.4,1703.6 L1140.8,1703.3 L1141.1,1703.7 L1141.6,1703.3 L1141.5,1703.3 L1142.0,1702.9 L1142.3,1703.4 L1142.8,1703.0 L1142.8,1703.0 L1143.2,1702.6 L1143.3,1702.7 L1143.8,1702.4 L1143.3,1701.6 L1143.8,1701.3 L1144.3,1702.1 L1144.8,1701.7 L1144.7,1701.6 L1145.1,1701.3 L1144.8,1700.7 L1145.3,1700.4 L1145.5,1700.8 L1146.0,1700.5 L1146.2,1700.8 L1146.7,1700.4 L1146.5,1700.2 L1147.0,1699.9 L1147.1,1700.0 L1147.6,1699.7 L1147.4,1699.4 L1147.9,1699.1 L1148.2,1699.6 L1148.7,1699.3 L1146.0,1695.1 L1146.5,1694.8 L1148.8,1698.3 L1149.3,1698.0 L1149.6,1698.4 L1150.1,1698.1 L1149.7,1697.5 L1150.2,1697.2 L1150.7,1698.1 L1151.2,1697.8 L1151.0,1697.4 L1151.5,1697.1 L1151.4,1696.9 L1151.9,1696.6 L1150.6,1694.5 L1151.1,1694.2 L1152.7,1696.7 L1153.2,1696.4 L1153.2,1696.5 L1153.7,1696.2 L1153.6,1696.0 L1154.1,1695.7 L1152.4,1692.9 L1152.9,1692.6 L1154.2,1694.8 L1154.7,1694.5 L1154.8,1694.7 L1155.4,1694.4 L1155.4,1694.5 L1155.9,1694.2 L1155.9,1694.2 L1156.4,1693.9 L1156.5,1694.0 L1157.0,1693.7 L1156.8,1693.4 L1157.3,1693.1 L1157.5,1693.4 L1158.0,1693.1 L1158.2,1693.4 L1158.7,1693.1 L1158.4,1692.7 L1158.9,1692.4 L1159.1,1692.7 L1159.6,1692.4 L1159.5,1692.1 L1160.0,1691.9 L1159.8,1691.6 L1160.3,1691.3 L1160.6,1691.8 L1161.1,1691.5 L1160.8,1691.0 L1161.3,1690.7 L1161.3,1690.6 L1161.8,1690.3 L1162.0,1690.7 L1162.5,1690.4 L1162.7,1690.8 L1163.2,1690.5 L1163.3,1690.6 L1163.8,1690.4 L1163.7,1690.2 L1164.3,1689.9 L1164.0,1689.5 L1164.6,1689.2 L1164.9,1689.8 L1165.4,1689.5 L1165.0,1688.8 L1165.5,1688.5 L1165.5,1688.5 L1166.0,1688.2 L1166.5,1689.1 L1167.0,1688.8 L1166.6,1688.1 L1167.2,1687.9 L1167.4,1688.4 L1167.9,1688.1 L1167.8,1687.9 L1168.4,1687.6 L1168.3,1687.5 L1168.8,1687.2 L1167.2,1684.2 L1167.8,1683.9 L1169.2,1686.7 L1169.7,1686.4 L1170.0,1687.1 L1170.6,1686.8 L1170.4,1686.4 L1170.9,1686.1 L1171.1,1686.5 L1171.6,1686.3 L1171.6,1686.4 L1172.2,1686.1 L1171.3,1684.3 L1171.8,1684.1 L1172.3,1685.1 L1172.9,1684.9 L1173.1,1685.3 L1173.6,1685.0 L1173.7,1685.3 L1174.3,1685.1 L1173.8,1684.1 L1174.3,1683.9 L1174.7,1684.7 L1175.3,1684.5 L1175.2,1684.2 L1175.7,1684.0 L1176.2,1685.1 A233.5,233.5 0 0 0 1120.9,1721.4 Z" fill="#2e9a4d" stroke="#2e9a4d" stroke-width="0.6"/>
<path d="M1171.3,1778.6 A157.3,157.3 0 0 1 1208.6,1754.1" fill="none" stroke="#3a7dc4" stroke-width="1.4"/>
<path d="M1200.2,1759.2L1195.8,1751.2M1189.5,1765.7L1185.0,1758.8M1190.2,1765.2L1184.3,1756.1M1189.5,1765.7L1183.7,1757.0M1178.5,1773.6L1166.4,1758.3M1190.2,1765.2L1186.6,1759.6M1191.1,1764.6L1188.9,1761.2M1187.2,1767.2L1183.3,1761.4M1204.2,1757.1L1200.6,1750.2" fill="none" stroke="#3a7dc4" stroke-width="1.3"/>
<path d="M1197.0,1807.6 L1192.9,1803.0 L1193.1,1802.8 L1195.4,1805.4 L1195.6,1805.3 L1193.1,1802.3 L1193.3,1802.2 L1196.4,1805.7 L1196.6,1805.6 L1195.8,1804.7 L1196.0,1804.5 L1196.5,1805.1 L1196.7,1804.9 L1196.1,1804.2 L1196.3,1804.1 L1196.9,1804.8 L1197.1,1804.6 L1197.4,1804.9 L1197.6,1804.7 L1196.9,1803.9 L1197.1,1803.7 L1198.2,1805.0 L1198.4,1804.9 L1197.1,1803.4 L1197.3,1803.2 L1198.2,1804.2 L1198.4,1804.0 L1198.1,1803.7 L1198.3,1803.6 L1197.6,1802.6 L1197.8,1802.5 L1197.9,1802.6 L1198.1,1802.5 L1199.5,1804.1 L1199.7,1803.9 L1199.2,1803.4 L1199.4,1803.2 L1199.0,1802.7 L1199.2,1802.6 L1199.9,1803.4 L1200.1,1803.2 L1200.2,1803.3 L1200.4,1803.1 L1200.0,1802.7 L1200.2,1802.5 L1199.5,1801.6 L1199.7,1801.5 L1200.4,1802.3 L1200.6,1802.2 L1199.9,1801.3 L1200.2,1801.2 L1201.1,1802.4 L1201.3,1802.2 L1200.2,1800.8 L1200.4,1800.6 L1201.5,1802.0 L1201.7,1801.9 L1201.1,1801.0 L1201.3,1800.9 L1202.3,1802.2 L1202.5,1802.0 L1201.4,1800.5 L1201.6,1800.4 L1201.9,1800.9 L1202.1,1800.7 L1202.4,1801.0 L1202.6,1800.8 L1202.0,1800.1 L1202.2,1800.0 L1202.4,1800.1 L1202.6,1799.9 L1203.0,1800.5 L1203.2,1800.3 L1203.0,1800.1 L1203.2,1800.0 L1203.4,1800.2 L1203.6,1800.1 L1203.6,1800.0 L1203.8,1799.8 L1203.2,1799.0 L1203.4,1798.9 L1203.3,1798.7 L1203.5,1798.5 L1204.3,1799.6 L1204.5,1799.4 L1203.9,1798.7 L1204.1,1798.5 L1200.8,1793.9 L1201.0,1793.8 L1204.9,1799.1 L1205.1,1799.0 L1204.3,1797.8 L1204.5,1797.7 L1204.7,1797.9 L1204.9,1797.8 L1204.8,1797.6 L1205.0,1797.4 L1204.9,1797.2 L1205.1,1797.1 L1206.0,1798.4 L1206.2,1798.2 L1206.6,1798.7 L1206.8,1798.6 L1205.6,1796.9 L1205.8,1796.7 L1205.7,1796.5 L1205.9,1796.4 L1207.3,1798.4 L1207.5,1798.2 L1206.2,1796.4 L1206.4,1796.2 L1207.1,1797.2 L1207.4,1797.1 L1207.9,1798.0 L1208.2,1797.8 L1207.8,1797.3 L1208.0,1797.1 L1207.7,1796.7 L1207.9,1796.5 L1207.9,1796.5 L1208.1,1796.4 L1208.6,1797.1 L1208.8,1796.9 L1208.6,1796.6 L1208.8,1796.4 L1208.0,1795.2 L1208.2,1795.0 L1208.4,1795.4 L1208.7,1795.2 L1209.1,1795.9 L1209.3,1795.8 L1209.2,1795.6 L1209.4,1795.4 L1209.9,1796.2 L1210.1,1796.1 L1209.7,1795.4 L1209.9,1795.2 L1209.6,1794.7 L1209.8,1794.6 L1210.2,1795.2 L1210.4,1795.1 L1210.7,1795.5 L1210.9,1795.3 L1210.8,1795.2 L1211.0,1795.0 L1210.6,1794.3 L1210.8,1794.2 L1210.6,1793.9 L1210.9,1793.8 L1210.5,1793.3 L1210.8,1793.1 L1211.3,1793.9 L1211.5,1793.8 L1211.7,1794.1 L1211.9,1794.0 L1212.2,1794.3 L1212.4,1794.2 L1212.1,1793.8 L1212.3,1793.6 L1212.3,1793.5 L1212.5,1793.4 L1211.9,1792.4 L1212.1,1792.2 L1212.1,1792.2 L1212.3,1792.1 L1212.9,1793.0 L1213.1,1792.8 L1213.3,1793.2 L1213.5,1793.1 L1213.8,1793.6 L1214.1,1793.4 L1214.3,1793.8 L1214.5,1793.7 L1213.9,1792.7 L1214.2,1792.6 L1214.4,1793.0 L1214.6,1792.9 L1214.6,1792.8 L1214.8,1792.7 L1214.7,1792.5 L1214.9,1792.3 L1214.7,1792.0 L1215.0,1791.9 L1212.5,1787.6 L1212.7,1787.5 L1216.0,1793.0 L1216.2,1792.9 L1215.8,1792.3 L1216.0,1792.1 L1216.0,1792.0 L1216.2,1791.9 L1216.4,1792.3 L1216.7,1792.2 L1216.0,1791.0 L1216.2,1790.9 L1216.0,1790.4 L1216.2,1790.3 L1216.6,1791.0 L1216.8,1790.8 L1216.7,1790.6 L1216.9,1790.5 L1217.0,1790.6 L1217.2,1790.5 L1217.5,1791.0 L1217.7,1790.8 L1217.4,1790.2 L1217.6,1790.0 L1218.0,1790.8 L1218.2,1790.7 L1217.9,1790.0 L1218.1,1789.9 L1218.5,1790.5 L1218.7,1790.4 L1218.3,1789.7 L1218.6,1789.6 L1218.8,1790.0 L1219.0,1789.8 L1218.9,1789.7 L1219.1,1789.6 L1219.4,1790.1 L1219.6,1790.0 L1219.6,1789.8 L1219.8,1789.7 L1219.2,1788.6 L1219.5,1788.5 L1220.3,1790.1 L1220.6,1790.0 L1219.8,1788.6 L1220.0,1788.4 L1220.8,1789.9 L1221.0,1789.8 L1220.2,1788.1 L1220.4,1788.0 L1221.0,1789.2 L1221.3,1789.1 L1221.4,1789.3 L1221.6,1789.2 L1221.8,1789.5 L1222.0,1789.4 L1221.8,1789.0 L1222.0,1788.9 L1221.5,1787.8 L1221.7,1787.6 L1222.0,1788.2 L1222.2,1788.1 L1222.2,1787.9 L1222.4,1787.8 L1222.2,1787.5 L1222.5,1787.4 L1222.8,1788.0 L1223.0,1787.9 L1222.9,1787.6 L1223.1,1787.5 L1222.7,1786.7 L1223.0,1786.5 L1223.5,1787.6 L1223.7,1787.5 L1223.4,1786.9 L1223.7,1786.8 L1224.4,1788.3 L1224.6,1788.2 L1225.1,1789.2 A118.5,118.5 0 0 0 1197.0,1807.6 Z" fill="#555" stroke="#555" stroke-width="0.4"/>
<path d="M1200.6,1804.6L1186.9,1787.7" fill="none" stroke="#444" stroke-width="1"/>
<path d="M1064.2,1657.2 A319.2,319.2 0 0 1 1139.8,1607.5 L1148.5,1626.1 A298.7,298.7 0 0 0 1077.7,1672.6 Z" fill="#00FF00" stroke="#555" stroke-width="0.7"/>
<path d="M1064.2,1657.2L1059.1,1651.5M1085.6,1639.8L1081.1,1633.7M1108.5,1624.4L1104.6,1617.9M1132.7,1611.0L1129.3,1604.2" stroke="#111" stroke-width="1.9" fill="none"/>
<path d="M1068.3,1653.6L1065.9,1650.7M1072.6,1650.0L1070.1,1647.1M1076.9,1646.6L1074.5,1643.6M1081.2,1643.2L1078.9,1640.1M1090.1,1636.6L1087.9,1633.5M1094.6,1633.4L1092.5,1630.3M1099.2,1630.3L1097.1,1627.2M1103.8,1627.3L1101.8,1624.1M1113.3,1621.5L1111.3,1618.3M1118.1,1618.8L1116.2,1615.5M1122.9,1616.1L1121.1,1612.7M1127.8,1613.5L1126.0,1610.1M1137.6,1608.5L1136.0,1605.1" stroke="#222" stroke-width="1.0" fill="none"/>
<text x="1056.39" y="1648.40" font-size="14" fill="#505050" text-anchor="end" transform="rotate(48.550 1056.39 1648.40)" dominant-baseline="central">0</text>
<text x="1078.66" y="1630.39" font-size="14" fill="#505050" text-anchor="end" transform="rotate(53.510 1078.66 1630.39)" dominant-baseline="central">500</text>
<text x="1102.41" y="1614.37" font-size="14" fill="#505050" text-anchor="end" transform="rotate(58.470 1102.41 1614.37)" dominant-baseline="central">1000</text>
<text x="1127.45" y="1600.46" font-size="14" fill="#505050" text-anchor="end" transform="rotate(63.430 1127.45 1600.46)" dominant-baseline="central">1500</text>
<text x="1115.73" y="1653.28" font-size="14.5" fill="#505050" text-anchor="middle" textLength="35.50" lengthAdjust="spacingAndGlyphs" transform="rotate(326.699 1115.73 1653.28)" dominant-baseline="central">Chr02</text>
<path d="M1169.1,1650.7 A267.8,267.8 0 0 1 1267.3,1628.8 L1268.3,1663.1 A233.5,233.5 0 0 0 1182.7,1682.2 Z" fill="#f3f3f3"/>
<path d="M1182.3,1681.1 A234.6,234.6 0 0 1 1268.3,1661.9 M1181.4,1679.0 A236.9,236.9 0 0 1 1268.2,1659.6 M1180.5,1676.9 A239.2,239.2 0 0 1 1268.1,1657.4 M1179.5,1674.8 A241.5,241.5 0 0 1 1268.1,1655.1 M1178.6,1672.7 A243.7,243.7 0 0 1 1268.0,1652.8 M1177.7,1670.6 A246.0,246.0 0 0 1 1267.9,1650.5 M1176.8,1668.5 A248.3,248.3 0 0 1 1267.9,1648.2 M1175.9,1666.4 A250.6,250.6 0 0 1 1267.8,1645.9 M1175.0,1664.3 A252.9,252.9 0 0 1 1267.7,1643.6 M1174.1,1662.2 A255.2,255.2 0 0 1 1267.6,1641.4 M1173.2,1660.1 A257.5,257.5 0 0 1 1267.6,1639.1 M1172.3,1658.0 A259.8,259.8 0 0 1 1267.5,1636.8 M1171.4,1655.9 A262.0,262.0 0 0 1 1267.4,1634.5 M1170.5,1653.8 A264.3,264.3 0 0 1 1267.4,1632.2 M1169.6,1651.7 A266.6,266.6 0 0 1 1267.3,1629.9" fill="none" stroke="#c6c6c6" stroke-width="0.85"/>
<path d="M1185.3,1688.1 A227.0,227.0 0 0 1 1268.5,1669.6 L1269.5,1700.7 A195.8,195.8 0 0 0 1197.7,1716.8 Z" fill="#dadada"/>
<path d="M1197.3,1715.9 A196.7,196.7 0 0 1 1269.4,1699.8 M1196.5,1714.1 A198.7,198.7 0 0 1 1269.4,1697.8 M1195.8,1712.3 A200.6,200.6 0 0 1 1269.3,1695.9 M1195.0,1710.5 A202.6,202.6 0 0 1 1269.3,1693.9 M1194.2,1708.7 A204.5,204.5 0 0 1 1269.2,1692.0 M1193.4,1706.9 A206.5,206.5 0 0 1 1269.1,1690.0 M1192.7,1705.1 A208.4,208.4 0 0 1 1269.1,1688.1 M1191.9,1703.3 A210.4,210.4 0 0 1 1269.0,1686.1 M1191.1,1701.5 A212.3,212.3 0 0 1 1269.0,1684.2 M1190.3,1699.8 A214.3,214.3 0 0 1 1268.9,1682.2 M1189.6,1698.0 A216.2,216.2 0 0 1 1268.8,1680.3 M1188.8,1696.2 A218.2,218.2 0 0 1 1268.8,1678.3 M1188.0,1694.4 A220.1,220.1 0 0 1 1268.7,1676.4 M1187.2,1692.6 A222.1,222.1 0 0 1 1268.7,1674.4 M1186.5,1690.8 A224.0,224.0 0 0 1 1268.6,1672.5 M1185.7,1689.0 A226.0,226.0 0 0 1 1268.5,1670.5" fill="none" stroke="#c6c6c6" stroke-width="0.7"/>
<path d="M1200.4,1723.0 A189.0,189.0 0 0 1 1269.7,1707.5 L1270.7,1740.0 A156.5,156.5 0 0 0 1213.3,1752.8 Z" fill="#f0f0f0"/>
<path d="M1201.4,1725.3 A186.5,186.5 0 0 1 1269.7,1710.0 M1212.7,1751.4 A158.0,158.0 0 0 1 1270.6,1738.5" fill="none" stroke="#c8c8c8" stroke-width="1.0"/>
<path d="M1214.9,1756.5 A152.5,152.5 0 0 1 1270.8,1744.0 L1271.8,1778.0 A118.5,118.5 0 0 0 1228.4,1787.7 Z" fill="#f1f1f1"/>
<path d="M1226.2,1782.7 A123.9,123.9 0 0 1 1271.7,1772.6 M1224.1,1777.8 A129.3,129.3 0 0 1 1271.5,1767.2 M1222.0,1772.8 A134.7,134.7 0 0 1 1271.3,1761.8 M1219.8,1767.9 A140.1,140.1 0 0 1 1271.2,1756.4 M1217.7,1762.9 A145.5,145.5 0 0 1 1271.0,1751.0 M1215.5,1758.0 A150.9,150.9 0 0 1 1270.8,1745.6" fill="none" stroke="#c9c9c9" stroke-width="1.0"/>
<path d="M1197.7,1716.8 L1195.9,1712.6 L1196.3,1712.4 L1196.0,1711.5 L1196.4,1711.3 L1196.7,1711.9 L1197.2,1711.7 L1196.2,1709.4 L1196.7,1709.2 L1197.4,1711.1 L1197.9,1710.9 L1196.8,1708.3 L1197.3,1708.1 L1197.5,1708.7 L1198.0,1708.5 L1198.6,1709.9 L1199.1,1709.7 L1198.5,1708.3 L1198.9,1708.1 L1199.5,1709.6 L1200.0,1709.4 L1200.2,1709.8 L1200.7,1709.7 L1201.2,1711.0 L1201.6,1710.8 L1201.2,1709.6 L1201.6,1709.4 L1201.2,1708.3 L1201.7,1708.2 L1201.0,1706.3 L1201.4,1706.1 L1202.0,1707.7 L1202.5,1707.5 L1198.1,1696.0 L1198.6,1695.8 L1202.9,1707.2 L1203.4,1707.0 L1202.8,1705.4 L1203.3,1705.3 L1203.8,1706.6 L1204.3,1706.4 L1205.1,1708.6 L1205.6,1708.4 L1205.3,1707.8 L1205.8,1707.7 L1205.5,1706.8 L1206.0,1706.7 L1206.3,1707.6 L1206.8,1707.4 L1207.1,1708.3 L1207.6,1708.1 L1206.5,1705.0 L1206.9,1704.8 L1207.0,1704.8 L1207.4,1704.7 L1208.3,1707.1 L1208.8,1707.0 L1208.1,1704.9 L1208.5,1704.7 L1208.9,1705.7 L1209.3,1705.5 L1205.8,1695.2 L1206.3,1695.0 L1210.6,1707.7 L1211.1,1707.6 L1210.5,1705.7 L1211.0,1705.6 L1211.6,1707.4 L1212.0,1707.2 L1211.6,1706.0 L1212.1,1705.9 L1212.3,1706.3 L1212.7,1706.1 L1213.0,1707.0 L1213.5,1706.9 L1212.2,1702.9 L1212.7,1702.7 L1212.9,1703.3 L1213.3,1703.1 L1213.7,1704.3 L1214.2,1704.2 L1213.5,1702.0 L1214.0,1701.8 L1214.9,1704.7 L1215.4,1704.6 L1214.5,1701.8 L1215.0,1701.7 L1215.2,1702.1 L1215.6,1702.0 L1215.7,1702.1 L1216.2,1701.9 L1216.2,1702.2 L1216.7,1702.0 L1217.1,1703.2 L1217.6,1703.0 L1218.1,1704.7 L1218.5,1704.6 L1218.6,1704.9 L1219.1,1704.8 L1217.9,1700.5 L1218.4,1700.4 L1218.9,1702.1 L1219.4,1702.0 L1218.8,1699.9 L1219.3,1699.8 L1220.3,1703.3 L1220.8,1703.2 L1220.1,1700.9 L1220.6,1700.7 L1221.0,1702.1 L1221.5,1701.9 L1222.0,1703.9 L1222.5,1703.7 L1222.1,1702.5 L1222.6,1702.3 L1222.4,1701.4 L1222.8,1701.3 L1223.0,1702.0 L1223.5,1701.9 L1222.8,1699.3 L1223.3,1699.1 L1223.7,1700.6 L1224.2,1700.4 L1224.2,1700.3 L1224.7,1700.2 L1224.9,1701.1 L1225.4,1701.0 L1224.6,1698.1 L1225.1,1697.9 L1226.2,1702.3 L1226.7,1702.2 L1226.0,1699.2 L1226.5,1699.1 L1227.0,1701.1 L1227.5,1701.0 L1226.5,1696.9 L1227.0,1696.8 L1227.0,1697.0 L1227.5,1696.9 L1228.6,1701.3 L1229.1,1701.2 L1228.4,1698.5 L1228.9,1698.4 L1229.6,1701.2 L1230.1,1701.0 L1229.3,1697.9 L1229.8,1697.8 L1230.5,1700.6 L1231.0,1700.5 L1230.1,1696.7 L1230.6,1696.6 L1228.0,1685.0 L1228.5,1684.8 L1231.9,1699.9 L1232.3,1699.8 L1232.0,1698.3 L1232.5,1698.2 L1232.2,1696.8 L1232.7,1696.7 L1233.0,1698.0 L1233.5,1697.9 L1233.2,1696.6 L1233.7,1696.5 L1234.4,1699.6 L1234.9,1699.5 L1234.3,1696.9 L1234.8,1696.8 L1235.3,1699.0 L1235.8,1698.9 L1235.0,1695.3 L1235.6,1695.2 L1235.4,1694.2 L1235.9,1694.1 L1236.8,1698.9 L1237.3,1698.8 L1237.4,1699.4 L1237.9,1699.3 L1236.8,1693.7 L1237.3,1693.6 L1238.2,1698.3 L1238.7,1698.2 L1238.6,1697.4 L1239.1,1697.3 L1237.0,1685.9 L1237.5,1685.8 L1238.9,1693.5 L1239.4,1693.4 L1240.3,1698.2 L1240.7,1698.1 L1240.4,1696.2 L1240.9,1696.1 L1240.9,1696.1 L1241.4,1696.0 L1241.0,1693.7 L1241.5,1693.6 L1242.2,1697.9 L1242.7,1697.8 L1242.1,1693.9 L1242.6,1693.8 L1242.9,1695.6 L1243.4,1695.5 L1243.0,1693.3 L1243.5,1693.2 L1244.3,1698.1 L1244.8,1698.0 L1244.7,1697.4 L1245.2,1697.3 L1245.2,1697.1 L1245.7,1697.1 L1245.4,1694.9 L1245.9,1694.9 L1245.5,1692.1 L1246.0,1692.1 L1246.0,1692.1 L1246.5,1692.1 L1246.9,1694.6 L1247.4,1694.5 L1247.3,1694.1 L1247.8,1694.0 L1247.7,1693.4 L1248.2,1693.3 L1248.0,1691.7 L1248.5,1691.7 L1248.9,1694.8 L1249.5,1694.7 L1249.5,1694.8 L1250.0,1694.7 L1249.9,1694.2 L1250.4,1694.2 L1250.6,1695.5 L1251.1,1695.4 L1251.1,1695.4 L1251.6,1695.3 L1251.7,1696.1 L1252.2,1696.1 L1252.2,1696.6 L1252.7,1696.6 L1251.9,1689.0 L1252.4,1689.0 L1252.6,1691.1 L1253.2,1691.1 L1253.3,1692.5 L1253.8,1692.5 L1253.8,1692.3 L1254.3,1692.2 L1254.6,1694.9 L1255.1,1694.9 L1254.4,1688.3 L1254.9,1688.2 L1255.4,1692.5 L1255.9,1692.4 L1256.0,1693.3 L1256.5,1693.3 L1256.4,1692.9 L1256.9,1692.9 L1257.0,1693.9 L1257.5,1693.9 L1257.3,1691.2 L1257.8,1691.2 L1258.0,1692.7 L1258.5,1692.6 L1258.1,1688.1 L1258.6,1688.1 L1258.8,1690.9 L1259.4,1690.8 L1259.4,1691.4 L1259.9,1691.4 L1260.2,1695.0 L1260.7,1695.0 L1260.6,1693.1 L1261.1,1693.1 L1260.7,1687.9 L1261.2,1687.9 L1261.6,1694.0 L1262.1,1694.0 L1262.1,1694.0 L1262.7,1694.0 L1262.2,1686.7 L1262.7,1686.7 L1263.0,1690.9 L1263.5,1690.9 L1263.7,1694.2 L1264.2,1694.2 L1264.0,1690.1 L1264.5,1690.1 L1264.7,1693.5 L1265.2,1693.4 L1264.8,1686.1 L1265.3,1686.1 L1265.4,1688.4 L1266.0,1688.3 L1265.9,1686.9 L1266.4,1686.9 L1266.4,1686.5 L1266.9,1686.5 L1267.0,1689.7 L1267.6,1689.7 L1267.6,1690.9 L1268.1,1690.9 L1268.1,1690.1 L1268.6,1690.1 L1268.7,1693.8 L1269.2,1693.8 L1269.5,1700.7 A195.8,195.8 0 0 0 1197.7,1716.8 Z" fill="#d7191c" stroke="#d7191c" stroke-width="0.25"/>
<path d="M1182.7,1682.2 L1182.2,1680.9 L1182.7,1680.6 L1182.9,1681.0 L1183.4,1680.8 L1183.3,1680.6 L1183.9,1680.3 L1183.8,1680.3 L1184.4,1680.1 L1184.3,1679.8 L1184.8,1679.6 L1184.7,1679.3 L1185.2,1679.1 L1184.8,1678.0 L1185.3,1677.7 L1185.4,1678.0 L1186.0,1677.8 L1186.4,1678.8 L1186.9,1678.6 L1187.1,1678.9 L1187.6,1678.7 L1187.7,1678.9 L1188.3,1678.7 L1188.2,1678.5 L1188.7,1678.3 L1188.7,1678.2 L1189.2,1678.0 L1189.1,1677.7 L1189.7,1677.5 L1190.0,1678.3 L1190.5,1678.1 L1190.1,1677.1 L1190.7,1676.9 L1190.7,1677.0 L1191.3,1676.7 L1190.9,1675.7 L1191.4,1675.5 L1192.1,1677.2 L1192.6,1677.0 L1192.6,1676.8 L1193.1,1676.6 L1193.0,1676.4 L1193.6,1676.2 L1193.5,1676.0 L1194.1,1675.8 L1194.1,1675.9 L1194.7,1675.7 L1194.7,1675.9 L1195.3,1675.7 L1194.4,1673.2 L1194.9,1673.0 L1195.6,1675.0 L1196.2,1674.8 L1196.5,1675.6 L1197.0,1675.4 L1197.0,1675.3 L1197.6,1675.1 L1196.0,1670.6 L1196.5,1670.4 L1198.0,1674.5 L1198.5,1674.3 L1198.7,1674.8 L1199.2,1674.6 L1198.0,1671.1 L1198.6,1670.9 L1199.8,1674.5 L1200.4,1674.3 L1200.3,1674.0 L1200.8,1673.8 L1200.8,1673.6 L1201.3,1673.4 L1201.2,1673.1 L1201.8,1672.9 L1201.8,1672.9 L1202.3,1672.7 L1202.5,1673.2 L1203.1,1673.0 L1203.0,1672.8 L1203.5,1672.6 L1203.5,1672.5 L1204.1,1672.3 L1204.4,1673.2 L1204.9,1673.0 L1204.6,1672.1 L1205.2,1672.0 L1205.4,1672.6 L1206.0,1672.4 L1205.8,1672.0 L1206.4,1671.8 L1206.4,1672.0 L1207.0,1671.9 L1206.9,1671.5 L1207.4,1671.3 L1207.6,1672.0 L1208.2,1671.8 L1207.1,1668.1 L1207.7,1667.9 L1208.7,1671.4 L1209.3,1671.2 L1209.4,1671.5 L1209.9,1671.4 L1209.7,1670.6 L1210.3,1670.5 L1210.3,1670.4 L1210.8,1670.3 L1211.0,1670.9 L1211.6,1670.7 L1211.6,1670.7 L1212.1,1670.6 L1212.1,1670.4 L1212.7,1670.3 L1212.7,1670.6 L1213.3,1670.4 L1213.0,1669.5 L1213.6,1669.3 L1213.6,1669.3 L1214.2,1669.2 L1214.4,1670.1 L1215.0,1670.0 L1214.7,1669.0 L1215.3,1668.8 L1215.4,1669.0 L1215.9,1668.8 L1216.1,1669.6 L1216.7,1669.5 L1216.6,1668.9 L1217.1,1668.8 L1217.0,1668.5 L1217.6,1668.3 L1217.8,1669.0 L1218.4,1668.8 L1218.3,1668.6 L1218.9,1668.4 L1218.8,1668.2 L1219.4,1668.1 L1219.6,1668.9 L1220.1,1668.7 L1220.0,1668.1 L1220.6,1668.0 L1220.5,1667.9 L1221.1,1667.7 L1221.0,1667.4 L1221.6,1667.3 L1221.7,1667.6 L1222.2,1667.4 L1222.3,1667.5 L1222.8,1667.4 L1223.0,1668.1 L1223.6,1668.0 L1223.5,1667.8 L1224.1,1667.6 L1224.0,1667.4 L1224.6,1667.3 L1224.7,1667.7 L1225.3,1667.6 L1225.2,1667.2 L1225.8,1667.1 L1225.7,1666.6 L1226.3,1666.5 L1226.4,1667.1 L1227.0,1667.0 L1226.8,1666.4 L1227.4,1666.3 L1227.4,1666.4 L1228.0,1666.3 L1228.1,1666.6 L1228.7,1666.5 L1228.5,1665.7 L1229.1,1665.6 L1229.2,1666.2 L1229.8,1666.1 L1229.9,1666.6 L1230.5,1666.5 L1230.4,1666.3 L1231.0,1666.2 L1230.9,1665.8 L1231.5,1665.7 L1231.4,1665.2 L1232.0,1665.1 L1232.0,1665.1 L1232.6,1665.0 L1232.7,1665.7 L1233.3,1665.5 L1233.2,1665.4 L1233.8,1665.3 L1233.9,1665.8 L1234.5,1665.7 L1234.5,1665.7 L1235.1,1665.6 L1234.9,1664.9 L1235.5,1664.8 L1235.5,1664.9 L1236.1,1664.8 L1236.2,1665.3 L1236.8,1665.2 L1236.8,1665.0 L1237.3,1665.0 L1237.3,1665.1 L1237.9,1665.0 L1237.8,1664.5 L1238.4,1664.4 L1238.4,1663.9 L1238.9,1663.8 L1239.1,1664.8 L1239.7,1664.7 L1239.6,1664.3 L1240.2,1664.2 L1240.2,1664.1 L1240.7,1664.0 L1240.7,1663.8 L1241.3,1663.8 L1241.4,1664.4 L1242.0,1664.3 L1242.0,1664.4 L1242.6,1664.3 L1242.4,1663.4 L1243.0,1663.3 L1243.1,1663.6 L1243.7,1663.6 L1243.7,1663.7 L1244.3,1663.6 L1244.2,1663.1 L1244.8,1663.0 L1244.8,1663.1 L1245.4,1663.0 L1245.4,1663.6 L1246.0,1663.5 L1246.0,1663.3 L1246.6,1663.2 L1246.5,1662.9 L1247.1,1662.9 L1247.1,1662.8 L1247.7,1662.7 L1247.8,1663.3 L1248.4,1663.2 L1248.4,1663.3 L1248.9,1663.2 L1249.0,1663.5 L1249.6,1663.5 L1249.5,1662.9 L1250.1,1662.8 L1250.1,1663.2 L1250.7,1663.1 L1250.7,1662.6 L1251.2,1662.6 L1251.2,1662.6 L1251.8,1662.5 L1251.8,1662.6 L1252.4,1662.5 L1252.5,1662.9 L1253.0,1662.8 L1253.1,1663.2 L1253.7,1663.2 L1253.6,1662.2 L1254.2,1662.1 L1254.2,1662.1 L1254.7,1662.1 L1254.7,1662.2 L1255.3,1662.1 L1255.4,1663.0 L1256.0,1662.9 L1255.8,1660.7 L1256.4,1660.6 L1256.5,1662.3 L1257.1,1662.2 L1257.1,1662.2 L1257.7,1662.2 L1257.7,1661.7 L1258.2,1661.6 L1258.3,1662.4 L1258.9,1662.4 L1258.9,1662.1 L1259.5,1662.1 L1259.5,1662.1 L1260.0,1662.1 L1260.0,1661.6 L1260.6,1661.6 L1260.6,1661.7 L1261.2,1661.7 L1261.2,1662.3 L1261.8,1662.2 L1261.8,1661.9 L1262.4,1661.9 L1262.4,1661.6 L1263.0,1661.5 L1263.0,1661.8 L1263.6,1661.7 L1263.5,1661.5 L1264.1,1661.5 L1264.1,1661.8 L1264.7,1661.7 L1264.7,1661.8 L1265.3,1661.7 L1265.3,1662.0 L1265.9,1662.0 L1265.9,1661.6 L1266.5,1661.6 L1266.5,1661.7 L1267.1,1661.7 L1267.0,1658.5 L1267.6,1658.5 L1267.7,1661.6 L1268.3,1661.6 L1268.3,1663.1 A233.5,233.5 0 0 0 1182.7,1682.2 Z" fill="#2e9a4d" stroke="#2e9a4d" stroke-width="0.6"/>
<path d="M1213.0,1752.1 A157.3,157.3 0 0 1 1270.6,1739.2" fill="none" stroke="#3a7dc4" stroke-width="1.4"/>
<path d="M1226.9,1747.7L1223.4,1736.7M1231.3,1746.3L1229.2,1739.0M1254.1,1741.4L1251.0,1719.4M1254.9,1741.3L1252.2,1721.4M1222.2,1749.3L1220.3,1744.3M1260.2,1740.7L1259.6,1734.5M1239.4,1744.2L1234.2,1722.1M1240.5,1743.9L1237.0,1728.5M1235.1,1745.2L1231.3,1731.2" fill="none" stroke="#3a7dc4" stroke-width="1.3"/>
<path d="M1228.4,1787.7 L1227.5,1785.7 L1227.8,1785.6 L1228.3,1786.8 L1228.5,1786.7 L1227.7,1784.7 L1227.9,1784.6 L1228.6,1786.3 L1228.9,1786.2 L1228.3,1784.7 L1228.5,1784.6 L1228.5,1784.6 L1228.7,1784.5 L1228.9,1784.9 L1229.2,1784.8 L1229.4,1785.4 L1229.6,1785.3 L1229.8,1785.6 L1230.0,1785.5 L1229.9,1785.2 L1230.1,1785.1 L1230.0,1784.7 L1230.2,1784.6 L1229.7,1783.4 L1230.0,1783.3 L1230.4,1784.4 L1230.7,1784.3 L1230.9,1784.8 L1231.1,1784.7 L1231.1,1784.7 L1231.4,1784.6 L1231.1,1784.1 L1231.4,1784.0 L1231.5,1784.2 L1231.7,1784.2 L1232.1,1785.0 L1232.3,1784.9 L1232.2,1784.7 L1232.5,1784.6 L1231.7,1782.7 L1232.0,1782.6 L1232.5,1784.1 L1232.8,1784.0 L1230.3,1777.4 L1230.5,1777.3 L1232.8,1783.3 L1233.0,1783.2 L1231.2,1778.1 L1231.4,1778.0 L1233.0,1782.4 L1233.3,1782.3 L1233.6,1783.0 L1233.8,1782.9 L1233.4,1781.9 L1233.7,1781.9 L1234.4,1783.8 L1234.7,1783.7 L1234.5,1783.2 L1234.7,1783.1 L1235.1,1784.1 L1235.3,1784.0 L1234.6,1782.0 L1234.8,1781.9 L1234.7,1781.6 L1235.0,1781.5 L1233.7,1777.8 L1233.9,1777.7 L1235.9,1783.4 L1236.2,1783.3 L1236.1,1783.1 L1236.3,1783.0 L1236.3,1782.9 L1236.6,1782.8 L1236.0,1781.1 L1236.2,1781.0 L1236.3,1781.3 L1236.6,1781.3 L1236.8,1781.9 L1237.1,1781.8 L1237.3,1782.5 L1237.5,1782.4 L1237.0,1780.8 L1237.2,1780.7 L1237.4,1781.1 L1237.6,1781.0 L1237.7,1781.3 L1238.0,1781.2 L1237.9,1781.1 L1238.2,1781.0 L1238.4,1781.8 L1238.7,1781.7 L1238.8,1782.1 L1239.1,1782.0 L1239.1,1782.3 L1239.4,1782.2 L1239.5,1782.5 L1239.7,1782.5 L1239.5,1781.8 L1239.8,1781.7 L1239.4,1780.4 L1239.6,1780.3 L1239.6,1780.3 L1239.9,1780.2 L1239.8,1779.8 L1240.0,1779.8 L1240.8,1782.3 L1241.0,1782.2 L1240.5,1780.5 L1240.8,1780.4 L1241.3,1782.1 L1241.5,1782.1 L1240.9,1779.8 L1241.1,1779.8 L1241.6,1781.2 L1241.8,1781.1 L1241.4,1779.6 L1241.6,1779.5 L1241.6,1779.4 L1241.8,1779.4 L1242.4,1781.4 L1242.7,1781.3 L1242.8,1781.7 L1243.0,1781.6 L1242.8,1780.9 L1243.1,1780.8 L1242.7,1779.5 L1243.0,1779.4 L1243.4,1780.9 L1243.6,1780.8 L1243.3,1779.7 L1243.6,1779.6 L1243.7,1780.0 L1243.9,1779.9 L1243.6,1778.9 L1243.9,1778.9 L1243.9,1778.9 L1244.2,1778.9 L1244.2,1778.9 L1244.4,1778.8 L1244.7,1779.8 L1245.0,1779.8 L1244.6,1778.5 L1244.9,1778.5 L1245.2,1779.6 L1245.5,1779.5 L1245.5,1779.5 L1245.7,1779.5 L1245.9,1780.2 L1246.2,1780.2 L1245.8,1778.6 L1246.0,1778.6 L1246.0,1778.3 L1246.2,1778.3 L1246.2,1778.1 L1246.4,1778.0 L1246.4,1778.0 L1246.7,1777.9 L1247.2,1780.0 L1247.5,1780.0 L1247.0,1778.1 L1247.3,1778.0 L1247.3,1778.2 L1247.6,1778.2 L1247.6,1778.4 L1247.9,1778.3 L1248.0,1778.7 L1248.2,1778.6 L1248.2,1778.6 L1248.5,1778.6 L1248.5,1778.7 L1248.8,1778.6 L1248.7,1778.2 L1248.9,1778.1 L1249.2,1779.5 L1249.5,1779.4 L1249.5,1779.5 L1249.7,1779.4 L1249.4,1777.7 L1249.6,1777.7 L1249.8,1778.4 L1250.0,1778.3 L1250.4,1779.8 L1250.6,1779.7 L1250.6,1779.4 L1250.8,1779.4 L1250.6,1778.4 L1250.9,1778.3 L1250.6,1777.1 L1250.9,1777.0 L1251.1,1778.2 L1251.4,1778.2 L1251.3,1777.8 L1251.5,1777.7 L1251.7,1778.5 L1252.0,1778.5 L1252.0,1778.9 L1252.3,1778.9 L1252.0,1777.4 L1252.3,1777.4 L1252.2,1777.0 L1252.5,1777.0 L1252.8,1778.8 L1253.1,1778.7 L1253.1,1778.6 L1253.3,1778.6 L1253.1,1777.6 L1253.4,1777.6 L1253.3,1777.1 L1253.6,1777.1 L1253.5,1776.7 L1253.8,1776.6 L1253.8,1776.8 L1254.0,1776.7 L1254.4,1778.8 L1254.7,1778.8 L1254.3,1776.8 L1254.6,1776.7 L1254.7,1777.5 L1255.0,1777.4 L1255.0,1777.3 L1255.2,1777.3 L1255.4,1778.5 L1255.7,1778.5 L1255.5,1777.6 L1255.8,1777.6 L1255.9,1778.3 L1256.2,1778.2 L1256.2,1778.4 L1256.5,1778.4 L1255.2,1770.7 L1255.5,1770.7 L1256.4,1776.1 L1256.6,1776.1 L1256.9,1777.9 L1257.2,1777.9 L1257.2,1777.8 L1257.4,1777.8 L1257.3,1776.7 L1257.5,1776.7 L1257.5,1776.8 L1257.8,1776.7 L1257.0,1771.5 L1257.3,1771.5 L1258.3,1778.0 L1258.5,1778.0 L1258.5,1777.9 L1258.8,1777.9 L1258.5,1776.0 L1258.8,1776.0 L1258.9,1776.9 L1259.2,1776.8 L1259.1,1776.3 L1259.3,1776.3 L1259.3,1776.2 L1259.6,1776.2 L1259.5,1775.5 L1259.8,1775.5 L1260.0,1777.1 L1260.2,1777.1 L1260.1,1775.9 L1260.4,1775.9 L1260.3,1775.7 L1260.6,1775.6 L1260.7,1776.5 L1261.0,1776.4 L1261.1,1777.6 L1261.4,1777.6 L1261.3,1777.1 L1261.6,1777.0 L1261.4,1775.3 L1261.6,1775.3 L1261.8,1777.1 L1262.1,1777.0 L1261.9,1775.6 L1262.2,1775.5 L1262.2,1775.8 L1262.5,1775.8 L1262.6,1776.8 L1262.9,1776.8 L1262.8,1776.2 L1263.1,1776.2 L1263.1,1776.3 L1263.3,1776.3 L1263.4,1777.1 L1263.7,1777.0 L1263.7,1777.1 L1263.9,1777.1 L1263.9,1777.1 L1264.2,1777.0 L1264.2,1777.2 L1264.5,1777.2 L1264.3,1775.4 L1264.6,1775.4 L1264.6,1776.1 L1264.9,1776.1 L1264.9,1776.3 L1265.2,1776.3 L1265.1,1775.0 L1265.3,1775.0 L1265.4,1775.1 L1265.6,1775.1 L1265.6,1775.4 L1265.9,1775.3 L1265.9,1775.7 L1266.2,1775.7 L1266.3,1776.7 L1266.5,1776.7 L1266.4,1774.9 L1266.7,1774.9 L1266.7,1775.0 L1266.9,1775.0 L1267.0,1775.7 L1267.3,1775.7 L1267.3,1776.2 L1267.6,1776.1 L1267.5,1775.9 L1267.8,1775.9 L1267.8,1776.2 L1268.1,1776.1 L1268.1,1776.9 L1268.4,1776.9 L1268.3,1774.7 L1268.5,1774.7 L1268.6,1776.5 L1268.9,1776.5 L1268.9,1777.0 L1269.2,1777.0 L1269.2,1776.8 L1269.4,1776.8 L1269.4,1775.7 L1269.6,1775.7 L1269.6,1775.6 L1269.9,1775.6 L1269.9,1775.2 L1270.2,1775.2 L1270.2,1776.8 L1270.5,1776.8 L1270.5,1776.5 L1270.7,1776.4 L1270.7,1774.7 L1270.9,1774.7 L1271.0,1775.4 L1271.2,1775.4 L1271.2,1774.6 L1271.5,1774.6 L1271.5,1776.0 L1271.8,1776.0 L1271.8,1778.0 A118.5,118.5 0 0 0 1228.4,1787.7 Z" fill="#555" stroke="#555" stroke-width="0.4"/>
<path d="M1252.7,1780.2L1249.9,1765.9M1251.4,1780.4L1246.9,1758.7" fill="none" stroke="#444" stroke-width="1"/>
<path d="M1148.7,1603.5 A319.2,319.2 0 0 1 1265.7,1577.4 L1266.3,1597.9 A298.7,298.7 0 0 0 1156.8,1622.3 Z" fill="#358000" stroke="#555" stroke-width="0.7"/>
<path d="M1148.7,1603.5L1145.7,1596.5M1174.5,1593.6L1172.1,1586.4M1201.0,1586.0L1199.3,1578.7M1228.2,1580.8L1227.0,1573.3M1255.6,1577.9L1255.2,1570.3" stroke="#111" stroke-width="1.9" fill="none"/>
<path d="M1153.8,1601.4L1152.3,1597.8M1158.9,1599.3L1157.5,1595.8M1164.1,1597.3L1162.7,1593.8M1169.3,1595.4L1168.0,1591.9M1179.7,1591.9L1178.6,1588.3M1185.0,1590.3L1184.0,1586.7M1190.3,1588.8L1189.3,1585.1M1195.7,1587.4L1194.7,1583.7M1206.4,1584.8L1205.6,1581.1M1211.8,1583.7L1211.1,1579.9M1217.3,1582.6L1216.6,1578.9M1222.7,1581.6L1222.1,1577.9M1233.6,1580.0L1233.1,1576.2M1239.1,1579.3L1238.7,1575.6M1244.6,1578.7L1244.2,1575.0M1250.1,1578.3L1249.8,1574.5M1261.2,1577.6L1261.0,1573.8" stroke="#222" stroke-width="1.0" fill="none"/>
<text x="1144.04" y="1592.72" font-size="14" fill="#505050" text-anchor="end" transform="rotate(66.600 1144.04 1592.72)" dominant-baseline="central">0</text>
<text x="1170.80" y="1582.50" font-size="14" fill="#505050" text-anchor="end" transform="rotate(71.560 1170.80 1582.50)" dominant-baseline="central">500</text>
<text x="1198.34" y="1574.62" font-size="14" fill="#505050" text-anchor="end" transform="rotate(76.520 1198.34 1574.62)" dominant-baseline="central">1000</text>
<text x="1226.46" y="1569.15" font-size="14" fill="#505050" text-anchor="end" transform="rotate(81.480 1226.46 1569.15)" dominant-baseline="central">1500</text>
<text x="1254.95" y="1566.14" font-size="14" fill="#505050" text-anchor="end" transform="rotate(86.440 1254.95 1566.14)" dominant-baseline="central">2000</text>
<text x="1212.13" y="1612.48" font-size="14.5" fill="#505050" text-anchor="middle" textLength="35.50" lengthAdjust="spacingAndGlyphs" transform="rotate(347.423 1212.13 1612.48)" dominant-baseline="central">Chr04</text>
<path d="M1277.1,2129.9L1277.3,2160.9M1151.7,2094.5L1145.4,2104.7M1160.5,2099.7L1156.0,2107.5M1068.3,2004.3L1061.2,2008.0M1135.6,2083.4L1130.8,2089.8" stroke="#2e9a4d" stroke-width="1.2" fill="none"/>
<path d="M1277.1,2052.9L1277.4,2080.9M1279.3,2052.9L1279.6,2066.9M1281.2,2052.8L1281.6,2064.8" stroke="#3a7dc4" stroke-width="1.4" fill="none"/>
<path d="M1393.5,1907.2L1423.3,1909.9M1205.0,1991.7L1188.3,2014.2M1214.4,1998.0L1202.1,2018.6M1240.0,2009.5L1234.3,2027.7M1173.4,1836.3L1161.3,1829.2" stroke="#444" stroke-width="1.1" fill="none"/>
<path d="M1295.9,2091.2L1298.1,2112.1M1336.6,1710.5L1343.5,1689.6M1332.4,1709.1L1337.0,1693.8" stroke="#d7191c" stroke-width="1.1" fill="none"/>
</svg></body></html>
